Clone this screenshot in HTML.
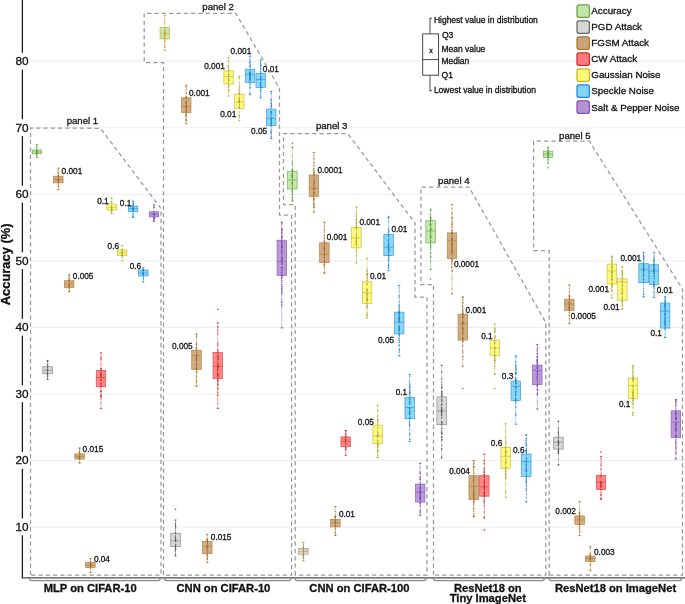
<!DOCTYPE html>
<html><head><meta charset="utf-8"><style>
html,body{margin:0;padding:0;background:#fff;width:685px;height:604px;overflow:hidden}
svg{display:block;will-change:transform}
text{stroke:#111;stroke-width:0.3px}
text{font-family:"Liberation Sans", sans-serif}
</style></head><body>
<svg width="685" height="604" viewBox="0 0 685 604" font-family='"Liberation Sans", sans-serif'><line x1="31" y1="526.97" x2="685" y2="526.97" stroke="#ebebeb" stroke-width="0.9"/>
<line x1="31" y1="460.44" x2="685" y2="460.44" stroke="#ebebeb" stroke-width="0.9"/>
<line x1="31" y1="393.91" x2="685" y2="393.91" stroke="#ebebeb" stroke-width="0.9"/>
<line x1="31" y1="327.38" x2="685" y2="327.38" stroke="#ebebeb" stroke-width="0.9"/>
<line x1="31" y1="260.85" x2="685" y2="260.85" stroke="#ebebeb" stroke-width="0.9"/>
<line x1="31" y1="194.32" x2="685" y2="194.32" stroke="#ebebeb" stroke-width="0.9"/>
<line x1="31" y1="127.79" x2="685" y2="127.79" stroke="#ebebeb" stroke-width="0.9"/>
<line x1="31" y1="61.26" x2="685" y2="61.26" stroke="#ebebeb" stroke-width="0.9"/>
<polygon points="30.5,575 30.5,128 100.5,128.3 161,208.5 161,575" fill="none" stroke="#999" stroke-width="1.25" stroke-dasharray="4.2 3.1"/>
<polygon points="163.5,575 163.5,62.6 144.2,62.6 144.2,13.3 235.8,13.3 279.5,88.3 279.5,215 291.6,215 291.6,575" fill="none" stroke="#999" stroke-width="1.25" stroke-dasharray="4.2 3.1"/>
<polygon points="295.2,575 295.2,204.5 283.5,204.5 283.5,133.6 347.8,133.6 415,223 415,297 427,297 427,575" fill="none" stroke="#999" stroke-width="1.25" stroke-dasharray="4.2 3.1"/>
<polygon points="433.5,575 433.5,284.6 420.9,284.6 420.9,187 469,187 545.8,322.6 545.8,575" fill="none" stroke="#999" stroke-width="1.25" stroke-dasharray="4.2 3.1"/>
<polygon points="549.2,575 549.2,250.6 533.6,250.6 533.6,141.2 589.3,141.2 682.5,289 682.5,575" fill="none" stroke="#999" stroke-width="1.25" stroke-dasharray="4.2 3.1"/>
<text x="98.2" y="124.2" text-anchor="end" font-size="9.6" fill="#1a1a1a">panel 1</text>
<text x="233.8" y="10" text-anchor="end" font-size="9.6" fill="#1a1a1a">panel 2</text>
<text x="347.4" y="129.2" text-anchor="end" font-size="9.6" fill="#1a1a1a">panel 3</text>
<text x="469.6" y="183.9" text-anchor="end" font-size="9.6" fill="#1a1a1a">panel 4</text>
<text x="590.6" y="138.6" text-anchor="end" font-size="9.6" fill="#1a1a1a">panel 5</text>
<line x1="36.9" y1="144.6" x2="36.9" y2="157.5" stroke="#72b356" stroke-width="0.7" stroke-opacity="0.6"/>
<line x1="35.6" y1="144.6" x2="38.199999999999996" y2="144.6" stroke="#72b356" stroke-width="0.7"/>
<line x1="35.6" y1="157.5" x2="38.199999999999996" y2="157.5" stroke="#72b356" stroke-width="0.7"/>
<rect x="32.15" y="150" width="9.5" height="3.80" fill="#c3e5a6" fill-opacity="0.92" stroke="#72b356" stroke-width="0.7"/>
<line x1="32.15" y1="152" x2="41.65" y2="152" stroke="#72b356" stroke-width="0.7"/>
<circle cx="37.0" cy="151.3" r=".6" fill="#4f9a34" fill-opacity=".75"/>
<circle cx="36.6" cy="153.4" r=".6" fill="#4f9a34" fill-opacity=".75"/>
<circle cx="36.6" cy="149.4" r=".6" fill="#4f9a34" fill-opacity=".75"/>
<circle cx="36.9" cy="151.4" r=".6" fill="#4f9a34" fill-opacity=".75"/>
<circle cx="36.6" cy="154.9" r=".6" fill="#4f9a34" fill-opacity=".75"/>
<circle cx="36.7" cy="152.7" r=".6" fill="#4f9a34" fill-opacity=".75"/>
<circle cx="36.7" cy="147.3" r=".6" fill="#4f9a34" fill-opacity=".75"/>
<circle cx="36.7" cy="154.4" r=".6" fill="#4f9a34" fill-opacity=".75"/>
<circle cx="36.9" cy="147.2" r=".6" fill="#4f9a34" fill-opacity=".75"/>
<circle cx="36.8" cy="147.1" r=".6" fill="#4f9a34" fill-opacity=".75"/>
<circle cx="37.1" cy="152.9" r=".6" fill="#4f9a34" fill-opacity=".75"/>
<circle cx="36.8" cy="151.9" r=".6" fill="#4f9a34" fill-opacity=".75"/>
<circle cx="36.8" cy="152.9" r=".6" fill="#4f9a34" fill-opacity=".75"/>
<circle cx="37.1" cy="153.1" r=".6" fill="#4f9a34" fill-opacity=".75"/>
<circle cx="37.0" cy="153.6" r=".6" fill="#4f9a34" fill-opacity=".75"/>
<circle cx="36.8" cy="155.4" r=".6" fill="#4f9a34" fill-opacity=".75"/>
<circle cx="36.6" cy="151.0" r=".6" fill="#4f9a34" fill-opacity=".75"/>
<circle cx="36.7" cy="151.7" r=".6" fill="#4f9a34" fill-opacity=".75"/>
<circle cx="36.8" cy="150.7" r=".6" fill="#4f9a34" fill-opacity=".75"/>
<circle cx="37.0" cy="149.3" r=".6" fill="#4f9a34" fill-opacity=".75"/>
<circle cx="36.90" cy="144.90" r="0.6" fill="#4f9a34"/>
<circle cx="36.90" cy="157.20" r="0.6" fill="#4f9a34"/>
<line x1="58.3" y1="168" x2="58.3" y2="189.6" stroke="#b8843f" stroke-width="0.7" stroke-opacity="0.6"/>
<line x1="57.0" y1="168" x2="59.599999999999994" y2="168" stroke="#b8843f" stroke-width="0.7"/>
<line x1="57.0" y1="189.6" x2="59.599999999999994" y2="189.6" stroke="#b8843f" stroke-width="0.7"/>
<rect x="53.55" y="176.2" width="9.5" height="6.60" fill="#cba67c" fill-opacity="0.92" stroke="#b8843f" stroke-width="0.7"/>
<line x1="53.55" y1="179.4" x2="63.05" y2="179.4" stroke="#b8843f" stroke-width="0.7"/>
<circle cx="58.5" cy="175.5" r=".6" fill="#a86a20" fill-opacity=".75"/>
<circle cx="58.4" cy="180.6" r=".6" fill="#a86a20" fill-opacity=".75"/>
<circle cx="58.3" cy="179.6" r=".6" fill="#a86a20" fill-opacity=".75"/>
<circle cx="58.5" cy="185.8" r=".6" fill="#a86a20" fill-opacity=".75"/>
<circle cx="58.6" cy="178.9" r=".6" fill="#a86a20" fill-opacity=".75"/>
<circle cx="58.1" cy="175.4" r=".6" fill="#a86a20" fill-opacity=".75"/>
<circle cx="58.1" cy="172.2" r=".6" fill="#a86a20" fill-opacity=".75"/>
<circle cx="58.3" cy="183.4" r=".6" fill="#a86a20" fill-opacity=".75"/>
<circle cx="58.5" cy="186.4" r=".6" fill="#a86a20" fill-opacity=".75"/>
<circle cx="58.3" cy="181.2" r=".6" fill="#a86a20" fill-opacity=".75"/>
<circle cx="58.4" cy="182.4" r=".6" fill="#a86a20" fill-opacity=".75"/>
<circle cx="58.4" cy="176.4" r=".6" fill="#a86a20" fill-opacity=".75"/>
<circle cx="58.5" cy="174.7" r=".6" fill="#a86a20" fill-opacity=".75"/>
<circle cx="58.6" cy="176.8" r=".6" fill="#a86a20" fill-opacity=".75"/>
<circle cx="58.0" cy="172.3" r=".6" fill="#a86a20" fill-opacity=".75"/>
<circle cx="58.4" cy="180.6" r=".6" fill="#a86a20" fill-opacity=".75"/>
<circle cx="58.5" cy="170.1" r=".6" fill="#a86a20" fill-opacity=".75"/>
<circle cx="58.4" cy="178.4" r=".6" fill="#a86a20" fill-opacity=".75"/>
<circle cx="58.0" cy="184.1" r=".6" fill="#a86a20" fill-opacity=".75"/>
<circle cx="58.1" cy="176.5" r=".6" fill="#a86a20" fill-opacity=".75"/>
<circle cx="58.0" cy="180.1" r=".6" fill="#a86a20" fill-opacity=".75"/>
<circle cx="58.1" cy="179.7" r=".6" fill="#a86a20" fill-opacity=".75"/>
<circle cx="58.2" cy="176.8" r=".6" fill="#a86a20" fill-opacity=".75"/>
<circle cx="58.3" cy="180.8" r=".6" fill="#a86a20" fill-opacity=".75"/>
<circle cx="58.3" cy="178.0" r=".6" fill="#a86a20" fill-opacity=".75"/>
<circle cx="58.5" cy="186.1" r=".6" fill="#a86a20" fill-opacity=".75"/>
<circle cx="58.2" cy="173.4" r=".6" fill="#a86a20" fill-opacity=".75"/>
<circle cx="58.5" cy="175.4" r=".6" fill="#a86a20" fill-opacity=".75"/>
<circle cx="58.6" cy="181.7" r=".6" fill="#a86a20" fill-opacity=".75"/>
<circle cx="58.1" cy="181.2" r=".6" fill="#a86a20" fill-opacity=".75"/>
<circle cx="58.30" cy="168.30" r="0.6" fill="#a86a20"/>
<circle cx="58.30" cy="189.30" r="0.6" fill="#a86a20"/>
<text x="61.6" y="174.00" font-size="8.25" fill="#1a1a1a">0.001</text>
<line x1="111.7" y1="197.9" x2="111.7" y2="213.6" stroke="#cbc23c" stroke-width="0.7" stroke-opacity="0.6"/>
<line x1="110.4" y1="197.9" x2="113.0" y2="197.9" stroke="#cbc23c" stroke-width="0.7"/>
<line x1="110.4" y1="213.6" x2="113.0" y2="213.6" stroke="#cbc23c" stroke-width="0.7"/>
<rect x="106.95" y="204" width="9.5" height="6.10" fill="#fdf87a" fill-opacity="0.92" stroke="#cbc23c" stroke-width="0.7"/>
<line x1="106.95" y1="207.3" x2="116.45" y2="207.3" stroke="#cbc23c" stroke-width="0.7"/>
<circle cx="111.5" cy="209.6" r=".6" fill="#b0a820" fill-opacity=".75"/>
<circle cx="111.6" cy="201.3" r=".6" fill="#b0a820" fill-opacity=".75"/>
<circle cx="111.4" cy="207.9" r=".6" fill="#b0a820" fill-opacity=".75"/>
<circle cx="111.7" cy="203.5" r=".6" fill="#b0a820" fill-opacity=".75"/>
<circle cx="112.0" cy="209.4" r=".6" fill="#b0a820" fill-opacity=".75"/>
<circle cx="111.8" cy="205.3" r=".6" fill="#b0a820" fill-opacity=".75"/>
<circle cx="111.8" cy="202.2" r=".6" fill="#b0a820" fill-opacity=".75"/>
<circle cx="111.9" cy="210.5" r=".6" fill="#b0a820" fill-opacity=".75"/>
<circle cx="111.6" cy="213.0" r=".6" fill="#b0a820" fill-opacity=".75"/>
<circle cx="111.6" cy="201.6" r=".6" fill="#b0a820" fill-opacity=".75"/>
<circle cx="111.4" cy="212.4" r=".6" fill="#b0a820" fill-opacity=".75"/>
<circle cx="111.4" cy="211.2" r=".6" fill="#b0a820" fill-opacity=".75"/>
<circle cx="111.6" cy="208.0" r=".6" fill="#b0a820" fill-opacity=".75"/>
<circle cx="111.4" cy="209.9" r=".6" fill="#b0a820" fill-opacity=".75"/>
<circle cx="111.5" cy="209.9" r=".6" fill="#b0a820" fill-opacity=".75"/>
<circle cx="111.6" cy="207.3" r=".6" fill="#b0a820" fill-opacity=".75"/>
<circle cx="111.8" cy="208.8" r=".6" fill="#b0a820" fill-opacity=".75"/>
<circle cx="111.6" cy="209.4" r=".6" fill="#b0a820" fill-opacity=".75"/>
<circle cx="111.6" cy="210.1" r=".6" fill="#b0a820" fill-opacity=".75"/>
<circle cx="112.0" cy="213.6" r=".6" fill="#b0a820" fill-opacity=".75"/>
<circle cx="111.7" cy="213.4" r=".6" fill="#b0a820" fill-opacity=".75"/>
<circle cx="111.5" cy="205.4" r=".6" fill="#b0a820" fill-opacity=".75"/>
<circle cx="111.6" cy="207.5" r=".6" fill="#b0a820" fill-opacity=".75"/>
<circle cx="111.5" cy="206.5" r=".6" fill="#b0a820" fill-opacity=".75"/>
<circle cx="111.7" cy="208.9" r=".6" fill="#b0a820" fill-opacity=".75"/>
<circle cx="111.4" cy="210.7" r=".6" fill="#b0a820" fill-opacity=".75"/>
<circle cx="111.70" cy="198.20" r="0.6" fill="#b0a820"/>
<circle cx="111.70" cy="213.30" r="0.6" fill="#b0a820"/>
<text x="97.2" y="203.50" font-size="8.25" fill="#1a1a1a">0.1</text>
<line x1="133" y1="201.1" x2="133" y2="217.4" stroke="#3a9ad8" stroke-width="0.7" stroke-opacity="0.6"/>
<line x1="131.7" y1="201.1" x2="134.3" y2="201.1" stroke="#3a9ad8" stroke-width="0.7"/>
<line x1="131.7" y1="217.4" x2="134.3" y2="217.4" stroke="#3a9ad8" stroke-width="0.7"/>
<rect x="128.25" y="206.1" width="9.5" height="5.70" fill="#80d4f5" fill-opacity="0.92" stroke="#3a9ad8" stroke-width="0.7"/>
<line x1="128.25" y1="208.7" x2="137.75" y2="208.7" stroke="#3a9ad8" stroke-width="0.7"/>
<circle cx="133.0" cy="212.9" r=".6" fill="#1a80d0" fill-opacity=".75"/>
<circle cx="133.1" cy="217.0" r=".6" fill="#1a80d0" fill-opacity=".75"/>
<circle cx="132.9" cy="207.6" r=".6" fill="#1a80d0" fill-opacity=".75"/>
<circle cx="133.2" cy="207.0" r=".6" fill="#1a80d0" fill-opacity=".75"/>
<circle cx="133.0" cy="210.6" r=".6" fill="#1a80d0" fill-opacity=".75"/>
<circle cx="132.8" cy="209.4" r=".6" fill="#1a80d0" fill-opacity=".75"/>
<circle cx="133.2" cy="205.0" r=".6" fill="#1a80d0" fill-opacity=".75"/>
<circle cx="133.2" cy="216.9" r=".6" fill="#1a80d0" fill-opacity=".75"/>
<circle cx="133.2" cy="207.9" r=".6" fill="#1a80d0" fill-opacity=".75"/>
<circle cx="133.0" cy="208.5" r=".6" fill="#1a80d0" fill-opacity=".75"/>
<circle cx="132.9" cy="205.7" r=".6" fill="#1a80d0" fill-opacity=".75"/>
<circle cx="132.9" cy="209.7" r=".6" fill="#1a80d0" fill-opacity=".75"/>
<circle cx="132.9" cy="208.9" r=".6" fill="#1a80d0" fill-opacity=".75"/>
<circle cx="133.0" cy="205.0" r=".6" fill="#1a80d0" fill-opacity=".75"/>
<circle cx="133.3" cy="203.9" r=".6" fill="#1a80d0" fill-opacity=".75"/>
<circle cx="132.8" cy="206.7" r=".6" fill="#1a80d0" fill-opacity=".75"/>
<circle cx="132.8" cy="210.9" r=".6" fill="#1a80d0" fill-opacity=".75"/>
<circle cx="133.2" cy="210.4" r=".6" fill="#1a80d0" fill-opacity=".75"/>
<circle cx="133.2" cy="214.4" r=".6" fill="#1a80d0" fill-opacity=".75"/>
<circle cx="133.2" cy="202.6" r=".6" fill="#1a80d0" fill-opacity=".75"/>
<circle cx="132.8" cy="209.5" r=".6" fill="#1a80d0" fill-opacity=".75"/>
<circle cx="133.2" cy="203.8" r=".6" fill="#1a80d0" fill-opacity=".75"/>
<circle cx="132.8" cy="208.7" r=".6" fill="#1a80d0" fill-opacity=".75"/>
<circle cx="133.2" cy="203.9" r=".6" fill="#1a80d0" fill-opacity=".75"/>
<circle cx="133.3" cy="204.9" r=".6" fill="#1a80d0" fill-opacity=".75"/>
<circle cx="132.9" cy="215.3" r=".6" fill="#1a80d0" fill-opacity=".75"/>
<circle cx="133.00" cy="201.40" r="0.6" fill="#1a80d0"/>
<circle cx="133.00" cy="217.10" r="0.6" fill="#1a80d0"/>
<text x="119.8" y="205.60" font-size="8.25" fill="#1a1a1a">0.1</text>
<line x1="154" y1="204.6" x2="154" y2="221.3" stroke="#9060c4" stroke-width="0.7" stroke-opacity="0.6"/>
<line x1="152.7" y1="204.6" x2="155.3" y2="204.6" stroke="#9060c4" stroke-width="0.7"/>
<line x1="152.7" y1="221.3" x2="155.3" y2="221.3" stroke="#9060c4" stroke-width="0.7"/>
<rect x="149.25" y="211.8" width="9.5" height="5.10" fill="#b293d2" fill-opacity="0.92" stroke="#9060c4" stroke-width="0.7"/>
<line x1="149.25" y1="214.3" x2="158.75" y2="214.3" stroke="#9060c4" stroke-width="0.7"/>
<circle cx="154.1" cy="206.9" r=".6" fill="#7a40b0" fill-opacity=".75"/>
<circle cx="153.8" cy="219.6" r=".6" fill="#7a40b0" fill-opacity=".75"/>
<circle cx="154.2" cy="215.8" r=".6" fill="#7a40b0" fill-opacity=".75"/>
<circle cx="154.2" cy="215.8" r=".6" fill="#7a40b0" fill-opacity=".75"/>
<circle cx="154.3" cy="218.6" r=".6" fill="#7a40b0" fill-opacity=".75"/>
<circle cx="154.1" cy="219.9" r=".6" fill="#7a40b0" fill-opacity=".75"/>
<circle cx="153.8" cy="211.5" r=".6" fill="#7a40b0" fill-opacity=".75"/>
<circle cx="153.7" cy="218.1" r=".6" fill="#7a40b0" fill-opacity=".75"/>
<circle cx="154.0" cy="219.7" r=".6" fill="#7a40b0" fill-opacity=".75"/>
<circle cx="154.3" cy="213.3" r=".6" fill="#7a40b0" fill-opacity=".75"/>
<circle cx="154.2" cy="207.3" r=".6" fill="#7a40b0" fill-opacity=".75"/>
<circle cx="153.8" cy="217.4" r=".6" fill="#7a40b0" fill-opacity=".75"/>
<circle cx="153.8" cy="214.3" r=".6" fill="#7a40b0" fill-opacity=".75"/>
<circle cx="154.1" cy="217.4" r=".6" fill="#7a40b0" fill-opacity=".75"/>
<circle cx="153.8" cy="214.1" r=".6" fill="#7a40b0" fill-opacity=".75"/>
<circle cx="154.2" cy="218.2" r=".6" fill="#7a40b0" fill-opacity=".75"/>
<circle cx="154.1" cy="211.8" r=".6" fill="#7a40b0" fill-opacity=".75"/>
<circle cx="154.2" cy="217.6" r=".6" fill="#7a40b0" fill-opacity=".75"/>
<circle cx="154.0" cy="206.9" r=".6" fill="#7a40b0" fill-opacity=".75"/>
<circle cx="154.0" cy="218.3" r=".6" fill="#7a40b0" fill-opacity=".75"/>
<circle cx="154.0" cy="213.6" r=".6" fill="#7a40b0" fill-opacity=".75"/>
<circle cx="153.8" cy="214.2" r=".6" fill="#7a40b0" fill-opacity=".75"/>
<circle cx="153.8" cy="221.1" r=".6" fill="#7a40b0" fill-opacity=".75"/>
<circle cx="154.0" cy="214.5" r=".6" fill="#7a40b0" fill-opacity=".75"/>
<circle cx="153.9" cy="213.6" r=".6" fill="#7a40b0" fill-opacity=".75"/>
<circle cx="154.00" cy="204.90" r="0.6" fill="#7a40b0"/>
<circle cx="154.00" cy="221.00" r="0.6" fill="#7a40b0"/>
<line x1="69.2" y1="274.7" x2="69.2" y2="291.9" stroke="#b8843f" stroke-width="0.7" stroke-opacity="0.6"/>
<line x1="67.9" y1="274.7" x2="70.5" y2="274.7" stroke="#b8843f" stroke-width="0.7"/>
<line x1="67.9" y1="291.9" x2="70.5" y2="291.9" stroke="#b8843f" stroke-width="0.7"/>
<rect x="64.45" y="280.7" width="9.5" height="6.90" fill="#cba67c" fill-opacity="0.92" stroke="#b8843f" stroke-width="0.7"/>
<line x1="64.45" y1="283.9" x2="73.95" y2="283.9" stroke="#b8843f" stroke-width="0.7"/>
<circle cx="69.2" cy="277.5" r=".6" fill="#a86a20" fill-opacity=".75"/>
<circle cx="69.0" cy="275.5" r=".6" fill="#a86a20" fill-opacity=".75"/>
<circle cx="69.2" cy="280.8" r=".6" fill="#a86a20" fill-opacity=".75"/>
<circle cx="69.4" cy="283.9" r=".6" fill="#a86a20" fill-opacity=".75"/>
<circle cx="69.2" cy="288.0" r=".6" fill="#a86a20" fill-opacity=".75"/>
<circle cx="69.4" cy="275.9" r=".6" fill="#a86a20" fill-opacity=".75"/>
<circle cx="69.2" cy="280.6" r=".6" fill="#a86a20" fill-opacity=".75"/>
<circle cx="69.2" cy="279.3" r=".6" fill="#a86a20" fill-opacity=".75"/>
<circle cx="69.3" cy="280.0" r=".6" fill="#a86a20" fill-opacity=".75"/>
<circle cx="69.2" cy="277.9" r=".6" fill="#a86a20" fill-opacity=".75"/>
<circle cx="69.5" cy="285.8" r=".6" fill="#a86a20" fill-opacity=".75"/>
<circle cx="69.5" cy="280.6" r=".6" fill="#a86a20" fill-opacity=".75"/>
<circle cx="69.5" cy="283.5" r=".6" fill="#a86a20" fill-opacity=".75"/>
<circle cx="69.4" cy="290.4" r=".6" fill="#a86a20" fill-opacity=".75"/>
<circle cx="69.2" cy="285.6" r=".6" fill="#a86a20" fill-opacity=".75"/>
<circle cx="68.9" cy="285.9" r=".6" fill="#a86a20" fill-opacity=".75"/>
<circle cx="69.3" cy="284.0" r=".6" fill="#a86a20" fill-opacity=".75"/>
<circle cx="69.4" cy="285.9" r=".6" fill="#a86a20" fill-opacity=".75"/>
<circle cx="69.3" cy="286.3" r=".6" fill="#a86a20" fill-opacity=".75"/>
<circle cx="69.3" cy="282.1" r=".6" fill="#a86a20" fill-opacity=".75"/>
<circle cx="69.5" cy="290.5" r=".6" fill="#a86a20" fill-opacity=".75"/>
<circle cx="69.1" cy="286.3" r=".6" fill="#a86a20" fill-opacity=".75"/>
<circle cx="69.4" cy="285.1" r=".6" fill="#a86a20" fill-opacity=".75"/>
<circle cx="69.2" cy="286.8" r=".6" fill="#a86a20" fill-opacity=".75"/>
<circle cx="69.1" cy="288.5" r=".6" fill="#a86a20" fill-opacity=".75"/>
<circle cx="69.3" cy="285.4" r=".6" fill="#a86a20" fill-opacity=".75"/>
<circle cx="68.9" cy="288.1" r=".6" fill="#a86a20" fill-opacity=".75"/>
<circle cx="68.9" cy="278.7" r=".6" fill="#a86a20" fill-opacity=".75"/>
<circle cx="69.1" cy="282.1" r=".6" fill="#a86a20" fill-opacity=".75"/>
<circle cx="69.20" cy="275.00" r="0.6" fill="#a86a20"/>
<circle cx="69.20" cy="291.60" r="0.6" fill="#a86a20"/>
<text x="72.8" y="279.20" font-size="8.25" fill="#1a1a1a">0.005</text>
<line x1="122.2" y1="245.2" x2="122.2" y2="260.8" stroke="#cbc23c" stroke-width="0.7" stroke-opacity="0.6"/>
<line x1="120.9" y1="245.2" x2="123.5" y2="245.2" stroke="#cbc23c" stroke-width="0.7"/>
<line x1="120.9" y1="260.8" x2="123.5" y2="260.8" stroke="#cbc23c" stroke-width="0.7"/>
<rect x="117.45" y="250" width="9.5" height="5.40" fill="#fdf87a" fill-opacity="0.92" stroke="#cbc23c" stroke-width="0.7"/>
<line x1="117.45" y1="252.7" x2="126.95" y2="252.7" stroke="#cbc23c" stroke-width="0.7"/>
<circle cx="121.9" cy="249.3" r=".6" fill="#b0a820" fill-opacity=".75"/>
<circle cx="122.5" cy="249.3" r=".6" fill="#b0a820" fill-opacity=".75"/>
<circle cx="122.0" cy="255.2" r=".6" fill="#b0a820" fill-opacity=".75"/>
<circle cx="122.4" cy="252.6" r=".6" fill="#b0a820" fill-opacity=".75"/>
<circle cx="122.1" cy="253.8" r=".6" fill="#b0a820" fill-opacity=".75"/>
<circle cx="122.4" cy="255.6" r=".6" fill="#b0a820" fill-opacity=".75"/>
<circle cx="122.4" cy="255.7" r=".6" fill="#b0a820" fill-opacity=".75"/>
<circle cx="122.5" cy="252.6" r=".6" fill="#b0a820" fill-opacity=".75"/>
<circle cx="122.2" cy="255.0" r=".6" fill="#b0a820" fill-opacity=".75"/>
<circle cx="121.9" cy="252.2" r=".6" fill="#b0a820" fill-opacity=".75"/>
<circle cx="122.3" cy="251.1" r=".6" fill="#b0a820" fill-opacity=".75"/>
<circle cx="122.5" cy="251.3" r=".6" fill="#b0a820" fill-opacity=".75"/>
<circle cx="122.3" cy="253.4" r=".6" fill="#b0a820" fill-opacity=".75"/>
<circle cx="122.4" cy="253.2" r=".6" fill="#b0a820" fill-opacity=".75"/>
<circle cx="121.9" cy="251.1" r=".6" fill="#b0a820" fill-opacity=".75"/>
<circle cx="122.1" cy="255.6" r=".6" fill="#b0a820" fill-opacity=".75"/>
<circle cx="122.2" cy="249.4" r=".6" fill="#b0a820" fill-opacity=".75"/>
<circle cx="122.0" cy="255.5" r=".6" fill="#b0a820" fill-opacity=".75"/>
<circle cx="122.2" cy="251.3" r=".6" fill="#b0a820" fill-opacity=".75"/>
<circle cx="122.0" cy="252.8" r=".6" fill="#b0a820" fill-opacity=".75"/>
<circle cx="121.9" cy="254.6" r=".6" fill="#b0a820" fill-opacity=".75"/>
<circle cx="122.1" cy="253.7" r=".6" fill="#b0a820" fill-opacity=".75"/>
<circle cx="122.4" cy="256.0" r=".6" fill="#b0a820" fill-opacity=".75"/>
<circle cx="122.0" cy="251.5" r=".6" fill="#b0a820" fill-opacity=".75"/>
<circle cx="122.1" cy="257.3" r=".6" fill="#b0a820" fill-opacity=".75"/>
<circle cx="122.20" cy="245.50" r="0.6" fill="#b0a820"/>
<circle cx="122.20" cy="260.50" r="0.6" fill="#b0a820"/>
<text x="107.6" y="249.00" font-size="8.25" fill="#1a1a1a">0.6</text>
<line x1="143.3" y1="267.8" x2="143.3" y2="282" stroke="#3a9ad8" stroke-width="0.7" stroke-opacity="0.6"/>
<line x1="142.0" y1="267.8" x2="144.60000000000002" y2="267.8" stroke="#3a9ad8" stroke-width="0.7"/>
<line x1="142.0" y1="282" x2="144.60000000000002" y2="282" stroke="#3a9ad8" stroke-width="0.7"/>
<rect x="138.55" y="270" width="9.5" height="5.90" fill="#80d4f5" fill-opacity="0.92" stroke="#3a9ad8" stroke-width="0.7"/>
<line x1="138.55" y1="273" x2="148.05" y2="273" stroke="#3a9ad8" stroke-width="0.7"/>
<circle cx="143.0" cy="276.3" r=".6" fill="#1a80d0" fill-opacity=".75"/>
<circle cx="143.4" cy="273.4" r=".6" fill="#1a80d0" fill-opacity=".75"/>
<circle cx="143.3" cy="270.3" r=".6" fill="#1a80d0" fill-opacity=".75"/>
<circle cx="143.6" cy="272.1" r=".6" fill="#1a80d0" fill-opacity=".75"/>
<circle cx="143.3" cy="279.3" r=".6" fill="#1a80d0" fill-opacity=".75"/>
<circle cx="143.3" cy="278.0" r=".6" fill="#1a80d0" fill-opacity=".75"/>
<circle cx="143.3" cy="275.2" r=".6" fill="#1a80d0" fill-opacity=".75"/>
<circle cx="143.4" cy="269.2" r=".6" fill="#1a80d0" fill-opacity=".75"/>
<circle cx="143.5" cy="277.0" r=".6" fill="#1a80d0" fill-opacity=".75"/>
<circle cx="143.4" cy="272.6" r=".6" fill="#1a80d0" fill-opacity=".75"/>
<circle cx="143.2" cy="270.1" r=".6" fill="#1a80d0" fill-opacity=".75"/>
<circle cx="143.0" cy="269.6" r=".6" fill="#1a80d0" fill-opacity=".75"/>
<circle cx="143.4" cy="274.1" r=".6" fill="#1a80d0" fill-opacity=".75"/>
<circle cx="143.2" cy="274.2" r=".6" fill="#1a80d0" fill-opacity=".75"/>
<circle cx="143.5" cy="274.0" r=".6" fill="#1a80d0" fill-opacity=".75"/>
<circle cx="143.5" cy="274.6" r=".6" fill="#1a80d0" fill-opacity=".75"/>
<circle cx="143.1" cy="271.3" r=".6" fill="#1a80d0" fill-opacity=".75"/>
<circle cx="143.2" cy="269.9" r=".6" fill="#1a80d0" fill-opacity=".75"/>
<circle cx="143.3" cy="270.5" r=".6" fill="#1a80d0" fill-opacity=".75"/>
<circle cx="143.2" cy="273.6" r=".6" fill="#1a80d0" fill-opacity=".75"/>
<circle cx="143.3" cy="270.2" r=".6" fill="#1a80d0" fill-opacity=".75"/>
<circle cx="143.2" cy="273.4" r=".6" fill="#1a80d0" fill-opacity=".75"/>
<circle cx="143.2" cy="272.9" r=".6" fill="#1a80d0" fill-opacity=".75"/>
<circle cx="143.3" cy="273.2" r=".6" fill="#1a80d0" fill-opacity=".75"/>
<circle cx="143.3" cy="270.1" r=".6" fill="#1a80d0" fill-opacity=".75"/>
<circle cx="143.30" cy="268.10" r="0.6" fill="#1a80d0"/>
<circle cx="143.30" cy="281.70" r="0.6" fill="#1a80d0"/>
<text x="129.7" y="269.10" font-size="8.25" fill="#1a1a1a">0.6</text>
<line x1="47.6" y1="360.4" x2="47.6" y2="379.5" stroke="#8a8a8a" stroke-width="0.7" stroke-opacity="0.6"/>
<line x1="46.300000000000004" y1="360.4" x2="48.9" y2="360.4" stroke="#8a8a8a" stroke-width="0.7"/>
<line x1="46.300000000000004" y1="379.5" x2="48.9" y2="379.5" stroke="#8a8a8a" stroke-width="0.7"/>
<rect x="42.85" y="366.7" width="9.5" height="7.00" fill="#d5d5d5" fill-opacity="0.92" stroke="#8a8a8a" stroke-width="0.7"/>
<line x1="42.85" y1="370.2" x2="52.35" y2="370.2" stroke="#8a8a8a" stroke-width="0.7"/>
<circle cx="47.3" cy="370.1" r=".6" fill="#555555" fill-opacity=".75"/>
<circle cx="47.5" cy="370.0" r=".6" fill="#555555" fill-opacity=".75"/>
<circle cx="47.3" cy="372.4" r=".6" fill="#555555" fill-opacity=".75"/>
<circle cx="47.4" cy="374.6" r=".6" fill="#555555" fill-opacity=".75"/>
<circle cx="47.7" cy="370.8" r=".6" fill="#555555" fill-opacity=".75"/>
<circle cx="47.7" cy="361.7" r=".6" fill="#555555" fill-opacity=".75"/>
<circle cx="47.7" cy="368.6" r=".6" fill="#555555" fill-opacity=".75"/>
<circle cx="47.5" cy="373.9" r=".6" fill="#555555" fill-opacity=".75"/>
<circle cx="47.9" cy="366.7" r=".6" fill="#555555" fill-opacity=".75"/>
<circle cx="47.7" cy="375.1" r=".6" fill="#555555" fill-opacity=".75"/>
<circle cx="47.3" cy="376.9" r=".6" fill="#555555" fill-opacity=".75"/>
<circle cx="47.7" cy="375.8" r=".6" fill="#555555" fill-opacity=".75"/>
<circle cx="47.7" cy="360.8" r=".6" fill="#555555" fill-opacity=".75"/>
<circle cx="47.6" cy="371.3" r=".6" fill="#555555" fill-opacity=".75"/>
<circle cx="47.6" cy="367.6" r=".6" fill="#555555" fill-opacity=".75"/>
<circle cx="47.8" cy="375.0" r=".6" fill="#555555" fill-opacity=".75"/>
<circle cx="47.7" cy="362.1" r=".6" fill="#555555" fill-opacity=".75"/>
<circle cx="47.7" cy="376.3" r=".6" fill="#555555" fill-opacity=".75"/>
<circle cx="47.4" cy="365.3" r=".6" fill="#555555" fill-opacity=".75"/>
<circle cx="47.5" cy="372.9" r=".6" fill="#555555" fill-opacity=".75"/>
<circle cx="47.4" cy="370.7" r=".6" fill="#555555" fill-opacity=".75"/>
<circle cx="47.7" cy="373.6" r=".6" fill="#555555" fill-opacity=".75"/>
<circle cx="47.7" cy="364.5" r=".6" fill="#555555" fill-opacity=".75"/>
<circle cx="47.3" cy="367.7" r=".6" fill="#555555" fill-opacity=".75"/>
<circle cx="47.8" cy="364.8" r=".6" fill="#555555" fill-opacity=".75"/>
<circle cx="47.6" cy="370.1" r=".6" fill="#555555" fill-opacity=".75"/>
<circle cx="47.7" cy="364.1" r=".6" fill="#555555" fill-opacity=".75"/>
<circle cx="47.5" cy="378.0" r=".6" fill="#555555" fill-opacity=".75"/>
<circle cx="47.3" cy="373.6" r=".6" fill="#555555" fill-opacity=".75"/>
<circle cx="47.4" cy="369.4" r=".6" fill="#555555" fill-opacity=".75"/>
<circle cx="47.60" cy="360.70" r="0.6" fill="#555555"/>
<circle cx="47.60" cy="379.20" r="0.6" fill="#555555"/>
<line x1="101" y1="352.9" x2="101" y2="408.7" stroke="#d85050" stroke-width="0.7" stroke-opacity="0.6"/>
<line x1="99.7" y1="352.9" x2="102.3" y2="352.9" stroke="#d85050" stroke-width="0.7"/>
<line x1="99.7" y1="408.7" x2="102.3" y2="408.7" stroke="#d85050" stroke-width="0.7"/>
<rect x="96.25" y="370.4" width="9.5" height="16.40" fill="#ff7b7b" fill-opacity="0.92" stroke="#d85050" stroke-width="0.7"/>
<line x1="96.25" y1="377.4" x2="105.75" y2="377.4" stroke="#d85050" stroke-width="0.7"/>
<circle cx="101.1" cy="396.9" r=".6" fill="#c83030" fill-opacity=".75"/>
<circle cx="100.9" cy="391.4" r=".6" fill="#c83030" fill-opacity=".75"/>
<circle cx="101.0" cy="375.2" r=".6" fill="#c83030" fill-opacity=".75"/>
<circle cx="101.1" cy="369.0" r=".6" fill="#c83030" fill-opacity=".75"/>
<circle cx="101.1" cy="358.4" r=".6" fill="#c83030" fill-opacity=".75"/>
<circle cx="100.9" cy="383.5" r=".6" fill="#c83030" fill-opacity=".75"/>
<circle cx="101.1" cy="380.6" r=".6" fill="#c83030" fill-opacity=".75"/>
<circle cx="100.7" cy="372.1" r=".6" fill="#c83030" fill-opacity=".75"/>
<circle cx="100.7" cy="392.2" r=".6" fill="#c83030" fill-opacity=".75"/>
<circle cx="101.1" cy="375.3" r=".6" fill="#c83030" fill-opacity=".75"/>
<circle cx="101.1" cy="395.4" r=".6" fill="#c83030" fill-opacity=".75"/>
<circle cx="101.0" cy="373.7" r=".6" fill="#c83030" fill-opacity=".75"/>
<circle cx="101.0" cy="391.6" r=".6" fill="#c83030" fill-opacity=".75"/>
<circle cx="100.8" cy="396.3" r=".6" fill="#c83030" fill-opacity=".75"/>
<circle cx="101.3" cy="394.8" r=".6" fill="#c83030" fill-opacity=".75"/>
<circle cx="101.0" cy="379.5" r=".6" fill="#c83030" fill-opacity=".75"/>
<circle cx="101.2" cy="376.5" r=".6" fill="#c83030" fill-opacity=".75"/>
<circle cx="100.9" cy="390.4" r=".6" fill="#c83030" fill-opacity=".75"/>
<circle cx="100.8" cy="374.8" r=".6" fill="#c83030" fill-opacity=".75"/>
<circle cx="101.0" cy="385.3" r=".6" fill="#c83030" fill-opacity=".75"/>
<circle cx="100.8" cy="374.6" r=".6" fill="#c83030" fill-opacity=".75"/>
<circle cx="100.8" cy="372.9" r=".6" fill="#c83030" fill-opacity=".75"/>
<circle cx="101.2" cy="383.6" r=".6" fill="#c83030" fill-opacity=".75"/>
<circle cx="101.1" cy="364.3" r=".6" fill="#c83030" fill-opacity=".75"/>
<circle cx="101.0" cy="380.4" r=".6" fill="#c83030" fill-opacity=".75"/>
<circle cx="100.7" cy="403.2" r=".6" fill="#c83030" fill-opacity=".75"/>
<circle cx="101.0" cy="391.5" r=".6" fill="#c83030" fill-opacity=".75"/>
<circle cx="100.9" cy="377.7" r=".6" fill="#c83030" fill-opacity=".75"/>
<circle cx="100.9" cy="384.5" r=".6" fill="#c83030" fill-opacity=".75"/>
<circle cx="101.2" cy="386.0" r=".6" fill="#c83030" fill-opacity=".75"/>
<circle cx="101.2" cy="397.6" r=".6" fill="#c83030" fill-opacity=".75"/>
<circle cx="100.8" cy="377.6" r=".6" fill="#c83030" fill-opacity=".75"/>
<circle cx="101.2" cy="394.6" r=".6" fill="#c83030" fill-opacity=".75"/>
<circle cx="100.9" cy="368.8" r=".6" fill="#c83030" fill-opacity=".75"/>
<circle cx="101.3" cy="369.0" r=".6" fill="#c83030" fill-opacity=".75"/>
<circle cx="101.1" cy="386.1" r=".6" fill="#c83030" fill-opacity=".75"/>
<circle cx="100.9" cy="369.2" r=".6" fill="#c83030" fill-opacity=".75"/>
<circle cx="100.7" cy="387.3" r=".6" fill="#c83030" fill-opacity=".75"/>
<circle cx="100.9" cy="395.9" r=".6" fill="#c83030" fill-opacity=".75"/>
<circle cx="101.3" cy="391.1" r=".6" fill="#c83030" fill-opacity=".75"/>
<circle cx="101.0" cy="377.4" r=".6" fill="#c83030" fill-opacity=".75"/>
<circle cx="100.8" cy="386.9" r=".6" fill="#c83030" fill-opacity=".75"/>
<circle cx="101.2" cy="356.1" r=".6" fill="#c83030" fill-opacity=".75"/>
<circle cx="101.2" cy="399.1" r=".6" fill="#c83030" fill-opacity=".75"/>
<circle cx="101.3" cy="359.1" r=".6" fill="#c83030" fill-opacity=".75"/>
<circle cx="101.0" cy="357.7" r=".6" fill="#c83030" fill-opacity=".75"/>
<circle cx="101.1" cy="376.7" r=".6" fill="#c83030" fill-opacity=".75"/>
<circle cx="101.0" cy="373.6" r=".6" fill="#c83030" fill-opacity=".75"/>
<circle cx="100.9" cy="377.7" r=".6" fill="#c83030" fill-opacity=".75"/>
<circle cx="100.7" cy="359.9" r=".6" fill="#c83030" fill-opacity=".75"/>
<circle cx="101.0" cy="383.1" r=".6" fill="#c83030" fill-opacity=".75"/>
<circle cx="100.9" cy="374.6" r=".6" fill="#c83030" fill-opacity=".75"/>
<circle cx="101.3" cy="371.5" r=".6" fill="#c83030" fill-opacity=".75"/>
<circle cx="100.9" cy="396.4" r=".6" fill="#c83030" fill-opacity=".75"/>
<circle cx="101.0" cy="371.7" r=".6" fill="#c83030" fill-opacity=".75"/>
<circle cx="100.9" cy="368.9" r=".6" fill="#c83030" fill-opacity=".75"/>
<circle cx="100.8" cy="381.0" r=".6" fill="#c83030" fill-opacity=".75"/>
<circle cx="101.2" cy="383.7" r=".6" fill="#c83030" fill-opacity=".75"/>
<circle cx="101.2" cy="368.8" r=".6" fill="#c83030" fill-opacity=".75"/>
<circle cx="101.3" cy="377.6" r=".6" fill="#c83030" fill-opacity=".75"/>
<circle cx="100.8" cy="371.1" r=".6" fill="#c83030" fill-opacity=".75"/>
<circle cx="100.8" cy="379.5" r=".6" fill="#c83030" fill-opacity=".75"/>
<circle cx="100.8" cy="374.5" r=".6" fill="#c83030" fill-opacity=".75"/>
<circle cx="101.00" cy="353.20" r="0.6" fill="#c83030"/>
<circle cx="101.00" cy="408.40" r="0.6" fill="#c83030"/>
<line x1="79.6" y1="448" x2="79.6" y2="463" stroke="#b8843f" stroke-width="0.7" stroke-opacity="0.6"/>
<line x1="78.3" y1="448" x2="80.89999999999999" y2="448" stroke="#b8843f" stroke-width="0.7"/>
<line x1="78.3" y1="463" x2="80.89999999999999" y2="463" stroke="#b8843f" stroke-width="0.7"/>
<rect x="74.85" y="453.9" width="9.5" height="5.10" fill="#cba67c" fill-opacity="0.92" stroke="#b8843f" stroke-width="0.7"/>
<line x1="74.85" y1="456.4" x2="84.35" y2="456.4" stroke="#b8843f" stroke-width="0.7"/>
<circle cx="79.5" cy="457.8" r=".6" fill="#a86a20" fill-opacity=".75"/>
<circle cx="79.7" cy="449.3" r=".6" fill="#a86a20" fill-opacity=".75"/>
<circle cx="79.5" cy="453.1" r=".6" fill="#a86a20" fill-opacity=".75"/>
<circle cx="79.5" cy="452.5" r=".6" fill="#a86a20" fill-opacity=".75"/>
<circle cx="79.5" cy="458.8" r=".6" fill="#a86a20" fill-opacity=".75"/>
<circle cx="79.9" cy="459.2" r=".6" fill="#a86a20" fill-opacity=".75"/>
<circle cx="79.4" cy="457.6" r=".6" fill="#a86a20" fill-opacity=".75"/>
<circle cx="79.8" cy="451.1" r=".6" fill="#a86a20" fill-opacity=".75"/>
<circle cx="79.4" cy="456.3" r=".6" fill="#a86a20" fill-opacity=".75"/>
<circle cx="79.5" cy="456.0" r=".6" fill="#a86a20" fill-opacity=".75"/>
<circle cx="79.6" cy="459.2" r=".6" fill="#a86a20" fill-opacity=".75"/>
<circle cx="79.8" cy="454.3" r=".6" fill="#a86a20" fill-opacity=".75"/>
<circle cx="79.7" cy="457.4" r=".6" fill="#a86a20" fill-opacity=".75"/>
<circle cx="79.8" cy="456.5" r=".6" fill="#a86a20" fill-opacity=".75"/>
<circle cx="79.3" cy="451.4" r=".6" fill="#a86a20" fill-opacity=".75"/>
<circle cx="79.5" cy="457.2" r=".6" fill="#a86a20" fill-opacity=".75"/>
<circle cx="79.8" cy="462.7" r=".6" fill="#a86a20" fill-opacity=".75"/>
<circle cx="79.9" cy="453.3" r=".6" fill="#a86a20" fill-opacity=".75"/>
<circle cx="79.4" cy="456.4" r=".6" fill="#a86a20" fill-opacity=".75"/>
<circle cx="79.6" cy="458.2" r=".6" fill="#a86a20" fill-opacity=".75"/>
<circle cx="79.7" cy="452.7" r=".6" fill="#a86a20" fill-opacity=".75"/>
<circle cx="79.7" cy="448.2" r=".6" fill="#a86a20" fill-opacity=".75"/>
<circle cx="79.6" cy="456.8" r=".6" fill="#a86a20" fill-opacity=".75"/>
<circle cx="79.3" cy="452.2" r=".6" fill="#a86a20" fill-opacity=".75"/>
<circle cx="79.60" cy="448.30" r="0.6" fill="#a86a20"/>
<circle cx="79.60" cy="462.70" r="0.6" fill="#a86a20"/>
<text x="82.6" y="452.00" font-size="8.25" fill="#1a1a1a">0.015</text>
<line x1="90.4" y1="558.5" x2="90.4" y2="572.5" stroke="#b8843f" stroke-width="0.7" stroke-opacity="0.6"/>
<line x1="89.10000000000001" y1="558.5" x2="91.7" y2="558.5" stroke="#b8843f" stroke-width="0.7"/>
<line x1="89.10000000000001" y1="572.5" x2="91.7" y2="572.5" stroke="#b8843f" stroke-width="0.7"/>
<rect x="85.65" y="562.3" width="9.5" height="5.30" fill="#cba67c" fill-opacity="0.92" stroke="#b8843f" stroke-width="0.7"/>
<line x1="85.65" y1="565" x2="95.15" y2="565" stroke="#b8843f" stroke-width="0.7"/>
<circle cx="90.7" cy="565.6" r=".6" fill="#a86a20" fill-opacity=".75"/>
<circle cx="90.5" cy="562.2" r=".6" fill="#a86a20" fill-opacity=".75"/>
<circle cx="90.3" cy="564.3" r=".6" fill="#a86a20" fill-opacity=".75"/>
<circle cx="90.5" cy="566.9" r=".6" fill="#a86a20" fill-opacity=".75"/>
<circle cx="90.1" cy="564.4" r=".6" fill="#a86a20" fill-opacity=".75"/>
<circle cx="90.4" cy="563.2" r=".6" fill="#a86a20" fill-opacity=".75"/>
<circle cx="90.2" cy="561.6" r=".6" fill="#a86a20" fill-opacity=".75"/>
<circle cx="90.5" cy="563.1" r=".6" fill="#a86a20" fill-opacity=".75"/>
<circle cx="90.4" cy="568.3" r=".6" fill="#a86a20" fill-opacity=".75"/>
<circle cx="90.7" cy="565.2" r=".6" fill="#a86a20" fill-opacity=".75"/>
<circle cx="90.4" cy="560.0" r=".6" fill="#a86a20" fill-opacity=".75"/>
<circle cx="90.2" cy="558.6" r=".6" fill="#a86a20" fill-opacity=".75"/>
<circle cx="90.5" cy="565.2" r=".6" fill="#a86a20" fill-opacity=".75"/>
<circle cx="90.4" cy="564.7" r=".6" fill="#a86a20" fill-opacity=".75"/>
<circle cx="90.5" cy="565.8" r=".6" fill="#a86a20" fill-opacity=".75"/>
<circle cx="90.5" cy="562.3" r=".6" fill="#a86a20" fill-opacity=".75"/>
<circle cx="90.7" cy="566.5" r=".6" fill="#a86a20" fill-opacity=".75"/>
<circle cx="90.3" cy="565.2" r=".6" fill="#a86a20" fill-opacity=".75"/>
<circle cx="90.4" cy="566.0" r=".6" fill="#a86a20" fill-opacity=".75"/>
<circle cx="90.6" cy="563.9" r=".6" fill="#a86a20" fill-opacity=".75"/>
<circle cx="90.5" cy="562.6" r=".6" fill="#a86a20" fill-opacity=".75"/>
<circle cx="90.7" cy="562.3" r=".6" fill="#a86a20" fill-opacity=".75"/>
<circle cx="90.3" cy="564.9" r=".6" fill="#a86a20" fill-opacity=".75"/>
<circle cx="90.2" cy="566.2" r=".6" fill="#a86a20" fill-opacity=".75"/>
<circle cx="90.40" cy="558.80" r="0.6" fill="#a86a20"/>
<circle cx="90.40" cy="572.20" r="0.6" fill="#a86a20"/>
<text x="93.9" y="561.50" font-size="8.25" fill="#1a1a1a">0.04</text>
<line x1="164.8" y1="15.4" x2="164.8" y2="50.6" stroke="#d2b548" stroke-width="0.7" stroke-opacity="0.6"/>
<line x1="163.5" y1="15.4" x2="166.10000000000002" y2="15.4" stroke="#d2b548" stroke-width="0.7"/>
<line x1="163.5" y1="50.6" x2="166.10000000000002" y2="50.6" stroke="#d2b548" stroke-width="0.7"/>
<rect x="160.05" y="27.5" width="9.5" height="11.40" fill="#c3e5a6" fill-opacity="0.92" stroke="#d2b548" stroke-width="0.7"/>
<line x1="160.05" y1="33.3" x2="169.55" y2="33.3" stroke="#d2b548" stroke-width="0.7"/>
<circle cx="165.0" cy="27.8" r=".6" fill="#c0a030" fill-opacity=".75"/>
<circle cx="164.8" cy="27.5" r=".6" fill="#c0a030" fill-opacity=".75"/>
<circle cx="164.8" cy="35.6" r=".6" fill="#c0a030" fill-opacity=".75"/>
<circle cx="164.9" cy="38.8" r=".6" fill="#c0a030" fill-opacity=".75"/>
<circle cx="164.7" cy="37.8" r=".6" fill="#c0a030" fill-opacity=".75"/>
<circle cx="164.6" cy="31.8" r=".6" fill="#c0a030" fill-opacity=".75"/>
<circle cx="164.5" cy="37.9" r=".6" fill="#c0a030" fill-opacity=".75"/>
<circle cx="164.5" cy="32.5" r=".6" fill="#c0a030" fill-opacity=".75"/>
<circle cx="165.0" cy="19.2" r=".6" fill="#c0a030" fill-opacity=".75"/>
<circle cx="164.9" cy="44.5" r=".6" fill="#c0a030" fill-opacity=".75"/>
<circle cx="164.7" cy="33.0" r=".6" fill="#c0a030" fill-opacity=".75"/>
<circle cx="164.9" cy="41.1" r=".6" fill="#c0a030" fill-opacity=".75"/>
<circle cx="164.7" cy="45.5" r=".6" fill="#c0a030" fill-opacity=".75"/>
<circle cx="164.7" cy="35.8" r=".6" fill="#c0a030" fill-opacity=".75"/>
<circle cx="164.5" cy="30.8" r=".6" fill="#c0a030" fill-opacity=".75"/>
<circle cx="164.7" cy="37.8" r=".6" fill="#c0a030" fill-opacity=".75"/>
<circle cx="164.6" cy="20.8" r=".6" fill="#c0a030" fill-opacity=".75"/>
<circle cx="165.1" cy="50.2" r=".6" fill="#c0a030" fill-opacity=".75"/>
<circle cx="165.0" cy="35.4" r=".6" fill="#c0a030" fill-opacity=".75"/>
<circle cx="165.0" cy="40.9" r=".6" fill="#c0a030" fill-opacity=".75"/>
<circle cx="164.8" cy="30.9" r=".6" fill="#c0a030" fill-opacity=".75"/>
<circle cx="164.7" cy="34.4" r=".6" fill="#c0a030" fill-opacity=".75"/>
<circle cx="164.7" cy="38.1" r=".6" fill="#c0a030" fill-opacity=".75"/>
<circle cx="165.0" cy="30.6" r=".6" fill="#c0a030" fill-opacity=".75"/>
<circle cx="165.0" cy="41.8" r=".6" fill="#c0a030" fill-opacity=".75"/>
<circle cx="165.0" cy="34.9" r=".6" fill="#c0a030" fill-opacity=".75"/>
<circle cx="164.5" cy="35.5" r=".6" fill="#c0a030" fill-opacity=".75"/>
<circle cx="165.1" cy="33.9" r=".6" fill="#c0a030" fill-opacity=".75"/>
<circle cx="165.0" cy="32.7" r=".6" fill="#c0a030" fill-opacity=".75"/>
<circle cx="164.7" cy="47.3" r=".6" fill="#c0a030" fill-opacity=".75"/>
<circle cx="164.9" cy="30.3" r=".6" fill="#c0a030" fill-opacity=".75"/>
<circle cx="164.7" cy="32.3" r=".6" fill="#c0a030" fill-opacity=".75"/>
<circle cx="164.7" cy="46.7" r=".6" fill="#c0a030" fill-opacity=".75"/>
<circle cx="165.0" cy="47.5" r=".6" fill="#c0a030" fill-opacity=".75"/>
<circle cx="164.9" cy="33.6" r=".6" fill="#c0a030" fill-opacity=".75"/>
<circle cx="164.6" cy="35.1" r=".6" fill="#c0a030" fill-opacity=".75"/>
<circle cx="164.8" cy="32.6" r=".6" fill="#c0a030" fill-opacity=".75"/>
<circle cx="164.7" cy="27.7" r=".6" fill="#c0a030" fill-opacity=".75"/>
<circle cx="164.8" cy="33.2" r=".6" fill="#c0a030" fill-opacity=".75"/>
<circle cx="165.1" cy="42.3" r=".6" fill="#c0a030" fill-opacity=".75"/>
<circle cx="164.9" cy="39.5" r=".6" fill="#c0a030" fill-opacity=".75"/>
<circle cx="165.0" cy="47.2" r=".6" fill="#c0a030" fill-opacity=".75"/>
<circle cx="164.7" cy="34.9" r=".6" fill="#c0a030" fill-opacity=".75"/>
<circle cx="164.7" cy="21.9" r=".6" fill="#c0a030" fill-opacity=".75"/>
<circle cx="164.5" cy="23.8" r=".6" fill="#c0a030" fill-opacity=".75"/>
<circle cx="164.80" cy="15.70" r="0.6" fill="#c0a030"/>
<circle cx="164.80" cy="50.30" r="0.6" fill="#c0a030"/>
<line x1="186.2" y1="85" x2="186.2" y2="123.8" stroke="#b8843f" stroke-width="0.7" stroke-opacity="0.6"/>
<line x1="184.89999999999998" y1="85" x2="187.5" y2="85" stroke="#b8843f" stroke-width="0.7"/>
<line x1="184.89999999999998" y1="123.8" x2="187.5" y2="123.8" stroke="#b8843f" stroke-width="0.7"/>
<rect x="181.45" y="97.8" width="9.5" height="14.70" fill="#cba67c" fill-opacity="0.92" stroke="#b8843f" stroke-width="0.7"/>
<line x1="181.45" y1="106.3" x2="190.95" y2="106.3" stroke="#b8843f" stroke-width="0.7"/>
<circle cx="186.0" cy="120.8" r=".6" fill="#a86a20" fill-opacity=".75"/>
<circle cx="185.9" cy="106.4" r=".6" fill="#a86a20" fill-opacity=".75"/>
<circle cx="185.9" cy="98.1" r=".6" fill="#a86a20" fill-opacity=".75"/>
<circle cx="186.5" cy="97.2" r=".6" fill="#a86a20" fill-opacity=".75"/>
<circle cx="186.4" cy="103.2" r=".6" fill="#a86a20" fill-opacity=".75"/>
<circle cx="186.0" cy="114.8" r=".6" fill="#a86a20" fill-opacity=".75"/>
<circle cx="186.0" cy="105.6" r=".6" fill="#a86a20" fill-opacity=".75"/>
<circle cx="186.2" cy="89.2" r=".6" fill="#a86a20" fill-opacity=".75"/>
<circle cx="186.0" cy="106.5" r=".6" fill="#a86a20" fill-opacity=".75"/>
<circle cx="186.3" cy="93.2" r=".6" fill="#a86a20" fill-opacity=".75"/>
<circle cx="186.3" cy="113.9" r=".6" fill="#a86a20" fill-opacity=".75"/>
<circle cx="186.0" cy="115.5" r=".6" fill="#a86a20" fill-opacity=".75"/>
<circle cx="186.4" cy="93.1" r=".6" fill="#a86a20" fill-opacity=".75"/>
<circle cx="186.1" cy="102.5" r=".6" fill="#a86a20" fill-opacity=".75"/>
<circle cx="186.3" cy="119.9" r=".6" fill="#a86a20" fill-opacity=".75"/>
<circle cx="186.0" cy="108.9" r=".6" fill="#a86a20" fill-opacity=".75"/>
<circle cx="186.0" cy="114.1" r=".6" fill="#a86a20" fill-opacity=".75"/>
<circle cx="186.1" cy="117.0" r=".6" fill="#a86a20" fill-opacity=".75"/>
<circle cx="186.1" cy="96.8" r=".6" fill="#a86a20" fill-opacity=".75"/>
<circle cx="186.0" cy="119.2" r=".6" fill="#a86a20" fill-opacity=".75"/>
<circle cx="186.4" cy="105.7" r=".6" fill="#a86a20" fill-opacity=".75"/>
<circle cx="186.0" cy="87.2" r=".6" fill="#a86a20" fill-opacity=".75"/>
<circle cx="186.4" cy="86.4" r=".6" fill="#a86a20" fill-opacity=".75"/>
<circle cx="186.4" cy="109.5" r=".6" fill="#a86a20" fill-opacity=".75"/>
<circle cx="186.0" cy="115.1" r=".6" fill="#a86a20" fill-opacity=".75"/>
<circle cx="186.0" cy="108.6" r=".6" fill="#a86a20" fill-opacity=".75"/>
<circle cx="186.5" cy="120.5" r=".6" fill="#a86a20" fill-opacity=".75"/>
<circle cx="186.1" cy="103.9" r=".6" fill="#a86a20" fill-opacity=".75"/>
<circle cx="186.1" cy="114.2" r=".6" fill="#a86a20" fill-opacity=".75"/>
<circle cx="186.4" cy="97.4" r=".6" fill="#a86a20" fill-opacity=".75"/>
<circle cx="186.3" cy="111.2" r=".6" fill="#a86a20" fill-opacity=".75"/>
<circle cx="186.3" cy="104.6" r=".6" fill="#a86a20" fill-opacity=".75"/>
<circle cx="186.0" cy="108.4" r=".6" fill="#a86a20" fill-opacity=".75"/>
<circle cx="186.0" cy="116.5" r=".6" fill="#a86a20" fill-opacity=".75"/>
<circle cx="186.3" cy="105.8" r=".6" fill="#a86a20" fill-opacity=".75"/>
<circle cx="186.0" cy="121.0" r=".6" fill="#a86a20" fill-opacity=".75"/>
<circle cx="186.3" cy="116.0" r=".6" fill="#a86a20" fill-opacity=".75"/>
<circle cx="186.0" cy="107.0" r=".6" fill="#a86a20" fill-opacity=".75"/>
<circle cx="186.4" cy="103.5" r=".6" fill="#a86a20" fill-opacity=".75"/>
<circle cx="186.2" cy="113.1" r=".6" fill="#a86a20" fill-opacity=".75"/>
<circle cx="186.1" cy="110.9" r=".6" fill="#a86a20" fill-opacity=".75"/>
<circle cx="186.2" cy="108.2" r=".6" fill="#a86a20" fill-opacity=".75"/>
<circle cx="186.0" cy="103.2" r=".6" fill="#a86a20" fill-opacity=".75"/>
<circle cx="186.3" cy="102.6" r=".6" fill="#a86a20" fill-opacity=".75"/>
<circle cx="186.1" cy="98.8" r=".6" fill="#a86a20" fill-opacity=".75"/>
<circle cx="186.5" cy="111.1" r=".6" fill="#a86a20" fill-opacity=".75"/>
<circle cx="186.1" cy="100.9" r=".6" fill="#a86a20" fill-opacity=".75"/>
<circle cx="186.1" cy="119.3" r=".6" fill="#a86a20" fill-opacity=".75"/>
<circle cx="186.3" cy="101.6" r=".6" fill="#a86a20" fill-opacity=".75"/>
<circle cx="186.0" cy="111.8" r=".6" fill="#a86a20" fill-opacity=".75"/>
<circle cx="186.2" cy="107.2" r=".6" fill="#a86a20" fill-opacity=".75"/>
<circle cx="186.4" cy="111.1" r=".6" fill="#a86a20" fill-opacity=".75"/>
<circle cx="186.2" cy="96.3" r=".6" fill="#a86a20" fill-opacity=".75"/>
<circle cx="186.20" cy="85.30" r="0.6" fill="#a86a20"/>
<circle cx="186.20" cy="123.50" r="0.6" fill="#a86a20"/>
<text x="189" y="96.00" font-size="8.25" fill="#1a1a1a">0.001</text>
<line x1="228.6" y1="57.4" x2="228.6" y2="96.1" stroke="#cbc23c" stroke-width="0.7" stroke-opacity="0.6"/>
<line x1="227.29999999999998" y1="57.4" x2="229.9" y2="57.4" stroke="#cbc23c" stroke-width="0.7"/>
<line x1="227.29999999999998" y1="96.1" x2="229.9" y2="96.1" stroke="#cbc23c" stroke-width="0.7"/>
<rect x="223.85" y="70.9" width="9.5" height="13.10" fill="#fdf87a" fill-opacity="0.92" stroke="#cbc23c" stroke-width="0.7"/>
<line x1="223.85" y1="76.5" x2="233.35" y2="76.5" stroke="#cbc23c" stroke-width="0.7"/>
<circle cx="228.6" cy="77.4" r=".6" fill="#b0a820" fill-opacity=".75"/>
<circle cx="228.7" cy="77.9" r=".6" fill="#b0a820" fill-opacity=".75"/>
<circle cx="228.7" cy="80.0" r=".6" fill="#b0a820" fill-opacity=".75"/>
<circle cx="228.5" cy="74.3" r=".6" fill="#b0a820" fill-opacity=".75"/>
<circle cx="228.5" cy="71.1" r=".6" fill="#b0a820" fill-opacity=".75"/>
<circle cx="228.6" cy="76.3" r=".6" fill="#b0a820" fill-opacity=".75"/>
<circle cx="228.6" cy="80.7" r=".6" fill="#b0a820" fill-opacity=".75"/>
<circle cx="228.8" cy="74.4" r=".6" fill="#b0a820" fill-opacity=".75"/>
<circle cx="228.4" cy="82.8" r=".6" fill="#b0a820" fill-opacity=".75"/>
<circle cx="228.9" cy="75.2" r=".6" fill="#b0a820" fill-opacity=".75"/>
<circle cx="228.3" cy="87.5" r=".6" fill="#b0a820" fill-opacity=".75"/>
<circle cx="228.9" cy="74.8" r=".6" fill="#b0a820" fill-opacity=".75"/>
<circle cx="228.7" cy="60.5" r=".6" fill="#b0a820" fill-opacity=".75"/>
<circle cx="228.8" cy="90.1" r=".6" fill="#b0a820" fill-opacity=".75"/>
<circle cx="228.4" cy="85.6" r=".6" fill="#b0a820" fill-opacity=".75"/>
<circle cx="228.5" cy="90.9" r=".6" fill="#b0a820" fill-opacity=".75"/>
<circle cx="228.4" cy="86.9" r=".6" fill="#b0a820" fill-opacity=".75"/>
<circle cx="228.4" cy="61.5" r=".6" fill="#b0a820" fill-opacity=".75"/>
<circle cx="228.5" cy="67.0" r=".6" fill="#b0a820" fill-opacity=".75"/>
<circle cx="228.4" cy="83.4" r=".6" fill="#b0a820" fill-opacity=".75"/>
<circle cx="228.8" cy="76.8" r=".6" fill="#b0a820" fill-opacity=".75"/>
<circle cx="228.3" cy="92.1" r=".6" fill="#b0a820" fill-opacity=".75"/>
<circle cx="228.3" cy="61.4" r=".6" fill="#b0a820" fill-opacity=".75"/>
<circle cx="228.8" cy="70.3" r=".6" fill="#b0a820" fill-opacity=".75"/>
<circle cx="228.6" cy="86.2" r=".6" fill="#b0a820" fill-opacity=".75"/>
<circle cx="228.7" cy="85.3" r=".6" fill="#b0a820" fill-opacity=".75"/>
<circle cx="228.6" cy="73.0" r=".6" fill="#b0a820" fill-opacity=".75"/>
<circle cx="228.6" cy="86.0" r=".6" fill="#b0a820" fill-opacity=".75"/>
<circle cx="228.6" cy="70.8" r=".6" fill="#b0a820" fill-opacity=".75"/>
<circle cx="228.3" cy="67.6" r=".6" fill="#b0a820" fill-opacity=".75"/>
<circle cx="228.4" cy="68.2" r=".6" fill="#b0a820" fill-opacity=".75"/>
<circle cx="228.8" cy="68.9" r=".6" fill="#b0a820" fill-opacity=".75"/>
<circle cx="228.4" cy="78.5" r=".6" fill="#b0a820" fill-opacity=".75"/>
<circle cx="228.6" cy="65.9" r=".6" fill="#b0a820" fill-opacity=".75"/>
<circle cx="228.6" cy="80.5" r=".6" fill="#b0a820" fill-opacity=".75"/>
<circle cx="228.4" cy="79.7" r=".6" fill="#b0a820" fill-opacity=".75"/>
<circle cx="228.3" cy="65.7" r=".6" fill="#b0a820" fill-opacity=".75"/>
<circle cx="228.7" cy="80.6" r=".6" fill="#b0a820" fill-opacity=".75"/>
<circle cx="228.8" cy="90.2" r=".6" fill="#b0a820" fill-opacity=".75"/>
<circle cx="228.6" cy="84.3" r=".6" fill="#b0a820" fill-opacity=".75"/>
<circle cx="228.5" cy="87.3" r=".6" fill="#b0a820" fill-opacity=".75"/>
<circle cx="228.9" cy="80.3" r=".6" fill="#b0a820" fill-opacity=".75"/>
<circle cx="228.9" cy="89.1" r=".6" fill="#b0a820" fill-opacity=".75"/>
<circle cx="228.7" cy="91.0" r=".6" fill="#b0a820" fill-opacity=".75"/>
<circle cx="228.9" cy="79.0" r=".6" fill="#b0a820" fill-opacity=".75"/>
<circle cx="228.6" cy="70.7" r=".6" fill="#b0a820" fill-opacity=".75"/>
<circle cx="228.4" cy="70.7" r=".6" fill="#b0a820" fill-opacity=".75"/>
<circle cx="228.3" cy="81.9" r=".6" fill="#b0a820" fill-opacity=".75"/>
<circle cx="228.4" cy="66.8" r=".6" fill="#b0a820" fill-opacity=".75"/>
<circle cx="228.8" cy="89.6" r=".6" fill="#b0a820" fill-opacity=".75"/>
<circle cx="228.60" cy="57.70" r="0.6" fill="#b0a820"/>
<circle cx="228.60" cy="95.80" r="0.6" fill="#b0a820"/>
<text x="204.2" y="68.70" font-size="8.25" fill="#1a1a1a">0.001</text>
<line x1="239.3" y1="76.1" x2="239.3" y2="120.8" stroke="#cbc23c" stroke-width="0.7" stroke-opacity="0.6"/>
<line x1="238.0" y1="76.1" x2="240.60000000000002" y2="76.1" stroke="#cbc23c" stroke-width="0.7"/>
<line x1="238.0" y1="120.8" x2="240.60000000000002" y2="120.8" stroke="#cbc23c" stroke-width="0.7"/>
<rect x="234.55" y="94.2" width="9.5" height="14.40" fill="#fdf87a" fill-opacity="0.92" stroke="#cbc23c" stroke-width="0.7"/>
<line x1="234.55" y1="102" x2="244.05" y2="102" stroke="#cbc23c" stroke-width="0.7"/>
<circle cx="239.1" cy="98.9" r=".6" fill="#b0a820" fill-opacity=".75"/>
<circle cx="239.1" cy="78.0" r=".6" fill="#b0a820" fill-opacity=".75"/>
<circle cx="239.2" cy="101.7" r=".6" fill="#b0a820" fill-opacity=".75"/>
<circle cx="239.0" cy="92.7" r=".6" fill="#b0a820" fill-opacity=".75"/>
<circle cx="239.1" cy="101.6" r=".6" fill="#b0a820" fill-opacity=".75"/>
<circle cx="239.4" cy="115.3" r=".6" fill="#b0a820" fill-opacity=".75"/>
<circle cx="239.5" cy="107.1" r=".6" fill="#b0a820" fill-opacity=".75"/>
<circle cx="239.1" cy="98.0" r=".6" fill="#b0a820" fill-opacity=".75"/>
<circle cx="239.2" cy="87.1" r=".6" fill="#b0a820" fill-opacity=".75"/>
<circle cx="239.5" cy="99.1" r=".6" fill="#b0a820" fill-opacity=".75"/>
<circle cx="239.5" cy="88.8" r=".6" fill="#b0a820" fill-opacity=".75"/>
<circle cx="239.1" cy="97.2" r=".6" fill="#b0a820" fill-opacity=".75"/>
<circle cx="239.2" cy="117.0" r=".6" fill="#b0a820" fill-opacity=".75"/>
<circle cx="239.5" cy="101.3" r=".6" fill="#b0a820" fill-opacity=".75"/>
<circle cx="239.3" cy="99.0" r=".6" fill="#b0a820" fill-opacity=".75"/>
<circle cx="239.3" cy="90.4" r=".6" fill="#b0a820" fill-opacity=".75"/>
<circle cx="239.1" cy="116.0" r=".6" fill="#b0a820" fill-opacity=".75"/>
<circle cx="239.5" cy="101.9" r=".6" fill="#b0a820" fill-opacity=".75"/>
<circle cx="239.2" cy="98.6" r=".6" fill="#b0a820" fill-opacity=".75"/>
<circle cx="239.4" cy="82.3" r=".6" fill="#b0a820" fill-opacity=".75"/>
<circle cx="239.4" cy="78.4" r=".6" fill="#b0a820" fill-opacity=".75"/>
<circle cx="239.0" cy="101.8" r=".6" fill="#b0a820" fill-opacity=".75"/>
<circle cx="239.1" cy="102.6" r=".6" fill="#b0a820" fill-opacity=".75"/>
<circle cx="239.3" cy="93.5" r=".6" fill="#b0a820" fill-opacity=".75"/>
<circle cx="239.5" cy="94.4" r=".6" fill="#b0a820" fill-opacity=".75"/>
<circle cx="239.4" cy="107.2" r=".6" fill="#b0a820" fill-opacity=".75"/>
<circle cx="239.0" cy="107.6" r=".6" fill="#b0a820" fill-opacity=".75"/>
<circle cx="239.1" cy="112.0" r=".6" fill="#b0a820" fill-opacity=".75"/>
<circle cx="239.2" cy="102.2" r=".6" fill="#b0a820" fill-opacity=".75"/>
<circle cx="239.4" cy="104.3" r=".6" fill="#b0a820" fill-opacity=".75"/>
<circle cx="239.1" cy="115.9" r=".6" fill="#b0a820" fill-opacity=".75"/>
<circle cx="239.1" cy="93.4" r=".6" fill="#b0a820" fill-opacity=".75"/>
<circle cx="239.6" cy="93.5" r=".6" fill="#b0a820" fill-opacity=".75"/>
<circle cx="239.1" cy="102.2" r=".6" fill="#b0a820" fill-opacity=".75"/>
<circle cx="239.4" cy="108.1" r=".6" fill="#b0a820" fill-opacity=".75"/>
<circle cx="239.2" cy="114.9" r=".6" fill="#b0a820" fill-opacity=".75"/>
<circle cx="239.2" cy="88.5" r=".6" fill="#b0a820" fill-opacity=".75"/>
<circle cx="239.3" cy="117.3" r=".6" fill="#b0a820" fill-opacity=".75"/>
<circle cx="239.2" cy="103.1" r=".6" fill="#b0a820" fill-opacity=".75"/>
<circle cx="239.6" cy="95.0" r=".6" fill="#b0a820" fill-opacity=".75"/>
<circle cx="239.4" cy="92.8" r=".6" fill="#b0a820" fill-opacity=".75"/>
<circle cx="239.0" cy="102.2" r=".6" fill="#b0a820" fill-opacity=".75"/>
<circle cx="239.1" cy="91.3" r=".6" fill="#b0a820" fill-opacity=".75"/>
<circle cx="239.0" cy="99.9" r=".6" fill="#b0a820" fill-opacity=".75"/>
<circle cx="239.3" cy="102.3" r=".6" fill="#b0a820" fill-opacity=".75"/>
<circle cx="239.6" cy="100.3" r=".6" fill="#b0a820" fill-opacity=".75"/>
<circle cx="239.4" cy="106.5" r=".6" fill="#b0a820" fill-opacity=".75"/>
<circle cx="239.3" cy="107.5" r=".6" fill="#b0a820" fill-opacity=".75"/>
<circle cx="239.1" cy="89.7" r=".6" fill="#b0a820" fill-opacity=".75"/>
<circle cx="239.2" cy="86.8" r=".6" fill="#b0a820" fill-opacity=".75"/>
<circle cx="239.5" cy="101.0" r=".6" fill="#b0a820" fill-opacity=".75"/>
<circle cx="239.5" cy="105.2" r=".6" fill="#b0a820" fill-opacity=".75"/>
<circle cx="239.5" cy="101.7" r=".6" fill="#b0a820" fill-opacity=".75"/>
<circle cx="239.4" cy="100.8" r=".6" fill="#b0a820" fill-opacity=".75"/>
<circle cx="239.3" cy="84.9" r=".6" fill="#b0a820" fill-opacity=".75"/>
<circle cx="239.30" cy="76.40" r="0.6" fill="#b0a820"/>
<circle cx="239.30" cy="120.50" r="0.6" fill="#b0a820"/>
<text x="220.2" y="117.40" font-size="8.25" fill="#1a1a1a">0.01</text>
<line x1="250" y1="56" x2="250" y2="94.7" stroke="#3a9ad8" stroke-width="0.7" stroke-opacity="0.6"/>
<line x1="248.7" y1="56" x2="251.3" y2="56" stroke="#3a9ad8" stroke-width="0.7"/>
<line x1="248.7" y1="94.7" x2="251.3" y2="94.7" stroke="#3a9ad8" stroke-width="0.7"/>
<rect x="245.25" y="69.2" width="9.5" height="13.40" fill="#80d4f5" fill-opacity="0.92" stroke="#3a9ad8" stroke-width="0.7"/>
<line x1="245.25" y1="74.7" x2="254.75" y2="74.7" stroke="#3a9ad8" stroke-width="0.7"/>
<circle cx="249.8" cy="78.2" r=".6" fill="#1a80d0" fill-opacity=".75"/>
<circle cx="249.7" cy="80.4" r=".6" fill="#1a80d0" fill-opacity=".75"/>
<circle cx="249.9" cy="79.1" r=".6" fill="#1a80d0" fill-opacity=".75"/>
<circle cx="250.2" cy="74.7" r=".6" fill="#1a80d0" fill-opacity=".75"/>
<circle cx="250.1" cy="59.4" r=".6" fill="#1a80d0" fill-opacity=".75"/>
<circle cx="250.0" cy="73.4" r=".6" fill="#1a80d0" fill-opacity=".75"/>
<circle cx="250.2" cy="87.2" r=".6" fill="#1a80d0" fill-opacity=".75"/>
<circle cx="250.1" cy="67.0" r=".6" fill="#1a80d0" fill-opacity=".75"/>
<circle cx="250.3" cy="73.6" r=".6" fill="#1a80d0" fill-opacity=".75"/>
<circle cx="249.7" cy="78.9" r=".6" fill="#1a80d0" fill-opacity=".75"/>
<circle cx="250.1" cy="74.2" r=".6" fill="#1a80d0" fill-opacity=".75"/>
<circle cx="250.3" cy="82.0" r=".6" fill="#1a80d0" fill-opacity=".75"/>
<circle cx="250.2" cy="74.5" r=".6" fill="#1a80d0" fill-opacity=".75"/>
<circle cx="249.9" cy="65.9" r=".6" fill="#1a80d0" fill-opacity=".75"/>
<circle cx="250.1" cy="76.2" r=".6" fill="#1a80d0" fill-opacity=".75"/>
<circle cx="250.3" cy="69.5" r=".6" fill="#1a80d0" fill-opacity=".75"/>
<circle cx="250.0" cy="61.0" r=".6" fill="#1a80d0" fill-opacity=".75"/>
<circle cx="250.2" cy="82.9" r=".6" fill="#1a80d0" fill-opacity=".75"/>
<circle cx="250.0" cy="61.7" r=".6" fill="#1a80d0" fill-opacity=".75"/>
<circle cx="249.9" cy="72.7" r=".6" fill="#1a80d0" fill-opacity=".75"/>
<circle cx="249.8" cy="62.0" r=".6" fill="#1a80d0" fill-opacity=".75"/>
<circle cx="250.2" cy="71.8" r=".6" fill="#1a80d0" fill-opacity=".75"/>
<circle cx="249.8" cy="71.9" r=".6" fill="#1a80d0" fill-opacity=".75"/>
<circle cx="250.3" cy="79.3" r=".6" fill="#1a80d0" fill-opacity=".75"/>
<circle cx="249.9" cy="75.5" r=".6" fill="#1a80d0" fill-opacity=".75"/>
<circle cx="249.7" cy="76.2" r=".6" fill="#1a80d0" fill-opacity=".75"/>
<circle cx="250.1" cy="76.6" r=".6" fill="#1a80d0" fill-opacity=".75"/>
<circle cx="250.1" cy="64.5" r=".6" fill="#1a80d0" fill-opacity=".75"/>
<circle cx="249.7" cy="63.3" r=".6" fill="#1a80d0" fill-opacity=".75"/>
<circle cx="250.2" cy="66.8" r=".6" fill="#1a80d0" fill-opacity=".75"/>
<circle cx="250.2" cy="69.6" r=".6" fill="#1a80d0" fill-opacity=".75"/>
<circle cx="250.2" cy="77.5" r=".6" fill="#1a80d0" fill-opacity=".75"/>
<circle cx="250.2" cy="72.4" r=".6" fill="#1a80d0" fill-opacity=".75"/>
<circle cx="249.8" cy="79.1" r=".6" fill="#1a80d0" fill-opacity=".75"/>
<circle cx="249.8" cy="73.1" r=".6" fill="#1a80d0" fill-opacity=".75"/>
<circle cx="250.2" cy="93.5" r=".6" fill="#1a80d0" fill-opacity=".75"/>
<circle cx="250.1" cy="78.8" r=".6" fill="#1a80d0" fill-opacity=".75"/>
<circle cx="249.9" cy="81.1" r=".6" fill="#1a80d0" fill-opacity=".75"/>
<circle cx="249.8" cy="62.2" r=".6" fill="#1a80d0" fill-opacity=".75"/>
<circle cx="249.8" cy="88.3" r=".6" fill="#1a80d0" fill-opacity=".75"/>
<circle cx="249.9" cy="84.3" r=".6" fill="#1a80d0" fill-opacity=".75"/>
<circle cx="249.9" cy="72.9" r=".6" fill="#1a80d0" fill-opacity=".75"/>
<circle cx="249.9" cy="75.6" r=".6" fill="#1a80d0" fill-opacity=".75"/>
<circle cx="249.9" cy="72.7" r=".6" fill="#1a80d0" fill-opacity=".75"/>
<circle cx="250.3" cy="65.4" r=".6" fill="#1a80d0" fill-opacity=".75"/>
<circle cx="250.1" cy="74.2" r=".6" fill="#1a80d0" fill-opacity=".75"/>
<circle cx="250.0" cy="84.8" r=".6" fill="#1a80d0" fill-opacity=".75"/>
<circle cx="250.2" cy="76.7" r=".6" fill="#1a80d0" fill-opacity=".75"/>
<circle cx="250.0" cy="65.8" r=".6" fill="#1a80d0" fill-opacity=".75"/>
<circle cx="249.8" cy="87.4" r=".6" fill="#1a80d0" fill-opacity=".75"/>
<circle cx="250.2" cy="77.5" r=".6" fill="#1a80d0" fill-opacity=".75"/>
<circle cx="250.00" cy="56.30" r="0.6" fill="#1a80d0"/>
<circle cx="250.00" cy="94.40" r="0.6" fill="#1a80d0"/>
<text x="230.6" y="54.30" font-size="8.25" fill="#1a1a1a">0.001</text>
<line x1="260.7" y1="60" x2="260.7" y2="97.9" stroke="#3a9ad8" stroke-width="0.7" stroke-opacity="0.6"/>
<line x1="259.4" y1="60" x2="262.0" y2="60" stroke="#3a9ad8" stroke-width="0.7"/>
<line x1="259.4" y1="97.9" x2="262.0" y2="97.9" stroke="#3a9ad8" stroke-width="0.7"/>
<rect x="255.95" y="73.5" width="9.5" height="13.90" fill="#80d4f5" fill-opacity="0.92" stroke="#3a9ad8" stroke-width="0.7"/>
<line x1="255.95" y1="79.6" x2="265.45" y2="79.6" stroke="#3a9ad8" stroke-width="0.7"/>
<circle cx="260.5" cy="76.2" r=".6" fill="#1a80d0" fill-opacity=".75"/>
<circle cx="260.9" cy="86.5" r=".6" fill="#1a80d0" fill-opacity=".75"/>
<circle cx="261.0" cy="79.7" r=".6" fill="#1a80d0" fill-opacity=".75"/>
<circle cx="260.7" cy="91.6" r=".6" fill="#1a80d0" fill-opacity=".75"/>
<circle cx="260.9" cy="79.9" r=".6" fill="#1a80d0" fill-opacity=".75"/>
<circle cx="260.6" cy="84.4" r=".6" fill="#1a80d0" fill-opacity=".75"/>
<circle cx="260.9" cy="90.6" r=".6" fill="#1a80d0" fill-opacity=".75"/>
<circle cx="260.6" cy="78.0" r=".6" fill="#1a80d0" fill-opacity=".75"/>
<circle cx="260.7" cy="83.1" r=".6" fill="#1a80d0" fill-opacity=".75"/>
<circle cx="260.5" cy="95.2" r=".6" fill="#1a80d0" fill-opacity=".75"/>
<circle cx="260.9" cy="76.8" r=".6" fill="#1a80d0" fill-opacity=".75"/>
<circle cx="260.8" cy="76.4" r=".6" fill="#1a80d0" fill-opacity=".75"/>
<circle cx="260.6" cy="82.9" r=".6" fill="#1a80d0" fill-opacity=".75"/>
<circle cx="260.6" cy="65.5" r=".6" fill="#1a80d0" fill-opacity=".75"/>
<circle cx="260.5" cy="62.5" r=".6" fill="#1a80d0" fill-opacity=".75"/>
<circle cx="260.9" cy="92.9" r=".6" fill="#1a80d0" fill-opacity=".75"/>
<circle cx="260.6" cy="86.5" r=".6" fill="#1a80d0" fill-opacity=".75"/>
<circle cx="260.9" cy="80.7" r=".6" fill="#1a80d0" fill-opacity=".75"/>
<circle cx="260.9" cy="69.5" r=".6" fill="#1a80d0" fill-opacity=".75"/>
<circle cx="260.5" cy="79.5" r=".6" fill="#1a80d0" fill-opacity=".75"/>
<circle cx="260.9" cy="67.3" r=".6" fill="#1a80d0" fill-opacity=".75"/>
<circle cx="260.9" cy="82.7" r=".6" fill="#1a80d0" fill-opacity=".75"/>
<circle cx="260.6" cy="73.8" r=".6" fill="#1a80d0" fill-opacity=".75"/>
<circle cx="260.5" cy="72.0" r=".6" fill="#1a80d0" fill-opacity=".75"/>
<circle cx="260.8" cy="88.0" r=".6" fill="#1a80d0" fill-opacity=".75"/>
<circle cx="260.5" cy="67.0" r=".6" fill="#1a80d0" fill-opacity=".75"/>
<circle cx="260.7" cy="63.2" r=".6" fill="#1a80d0" fill-opacity=".75"/>
<circle cx="260.5" cy="86.3" r=".6" fill="#1a80d0" fill-opacity=".75"/>
<circle cx="260.5" cy="84.7" r=".6" fill="#1a80d0" fill-opacity=".75"/>
<circle cx="260.8" cy="82.7" r=".6" fill="#1a80d0" fill-opacity=".75"/>
<circle cx="260.9" cy="87.7" r=".6" fill="#1a80d0" fill-opacity=".75"/>
<circle cx="260.5" cy="83.0" r=".6" fill="#1a80d0" fill-opacity=".75"/>
<circle cx="260.6" cy="84.6" r=".6" fill="#1a80d0" fill-opacity=".75"/>
<circle cx="260.6" cy="73.6" r=".6" fill="#1a80d0" fill-opacity=".75"/>
<circle cx="260.5" cy="78.8" r=".6" fill="#1a80d0" fill-opacity=".75"/>
<circle cx="260.5" cy="96.0" r=".6" fill="#1a80d0" fill-opacity=".75"/>
<circle cx="261.0" cy="77.0" r=".6" fill="#1a80d0" fill-opacity=".75"/>
<circle cx="261.0" cy="87.7" r=".6" fill="#1a80d0" fill-opacity=".75"/>
<circle cx="260.9" cy="85.6" r=".6" fill="#1a80d0" fill-opacity=".75"/>
<circle cx="260.5" cy="78.4" r=".6" fill="#1a80d0" fill-opacity=".75"/>
<circle cx="260.8" cy="68.7" r=".6" fill="#1a80d0" fill-opacity=".75"/>
<circle cx="260.6" cy="85.1" r=".6" fill="#1a80d0" fill-opacity=".75"/>
<circle cx="260.4" cy="84.0" r=".6" fill="#1a80d0" fill-opacity=".75"/>
<circle cx="260.8" cy="64.9" r=".6" fill="#1a80d0" fill-opacity=".75"/>
<circle cx="260.7" cy="90.4" r=".6" fill="#1a80d0" fill-opacity=".75"/>
<circle cx="260.5" cy="71.9" r=".6" fill="#1a80d0" fill-opacity=".75"/>
<circle cx="260.8" cy="71.1" r=".6" fill="#1a80d0" fill-opacity=".75"/>
<circle cx="260.9" cy="65.6" r=".6" fill="#1a80d0" fill-opacity=".75"/>
<circle cx="260.7" cy="89.1" r=".6" fill="#1a80d0" fill-opacity=".75"/>
<circle cx="260.7" cy="64.3" r=".6" fill="#1a80d0" fill-opacity=".75"/>
<circle cx="260.5" cy="71.9" r=".6" fill="#1a80d0" fill-opacity=".75"/>
<circle cx="260.70" cy="60.30" r="0.6" fill="#1a80d0"/>
<circle cx="260.70" cy="97.60" r="0.6" fill="#1a80d0"/>
<text x="262.8" y="71.70" font-size="8.25" fill="#1a1a1a">0.01</text>
<line x1="271.2" y1="91.3" x2="271.2" y2="138.7" stroke="#3a9ad8" stroke-width="0.7" stroke-opacity="0.6"/>
<line x1="269.9" y1="91.3" x2="272.5" y2="91.3" stroke="#3a9ad8" stroke-width="0.7"/>
<line x1="269.9" y1="138.7" x2="272.5" y2="138.7" stroke="#3a9ad8" stroke-width="0.7"/>
<rect x="266.45" y="109.1" width="9.5" height="16.40" fill="#80d4f5" fill-opacity="0.92" stroke="#3a9ad8" stroke-width="0.7"/>
<line x1="266.45" y1="118.2" x2="275.95" y2="118.2" stroke="#3a9ad8" stroke-width="0.7"/>
<circle cx="271.4" cy="113.9" r=".6" fill="#1a80d0" fill-opacity=".75"/>
<circle cx="271.3" cy="93.6" r=".6" fill="#1a80d0" fill-opacity=".75"/>
<circle cx="271.3" cy="129.2" r=".6" fill="#1a80d0" fill-opacity=".75"/>
<circle cx="271.2" cy="103.5" r=".6" fill="#1a80d0" fill-opacity=".75"/>
<circle cx="271.0" cy="111.6" r=".6" fill="#1a80d0" fill-opacity=".75"/>
<circle cx="271.2" cy="134.0" r=".6" fill="#1a80d0" fill-opacity=".75"/>
<circle cx="271.3" cy="122.1" r=".6" fill="#1a80d0" fill-opacity=".75"/>
<circle cx="271.1" cy="99.4" r=".6" fill="#1a80d0" fill-opacity=".75"/>
<circle cx="271.3" cy="106.3" r=".6" fill="#1a80d0" fill-opacity=".75"/>
<circle cx="271.1" cy="124.4" r=".6" fill="#1a80d0" fill-opacity=".75"/>
<circle cx="271.0" cy="105.5" r=".6" fill="#1a80d0" fill-opacity=".75"/>
<circle cx="271.3" cy="93.2" r=".6" fill="#1a80d0" fill-opacity=".75"/>
<circle cx="271.2" cy="120.3" r=".6" fill="#1a80d0" fill-opacity=".75"/>
<circle cx="271.5" cy="106.3" r=".6" fill="#1a80d0" fill-opacity=".75"/>
<circle cx="271.0" cy="133.0" r=".6" fill="#1a80d0" fill-opacity=".75"/>
<circle cx="271.4" cy="121.8" r=".6" fill="#1a80d0" fill-opacity=".75"/>
<circle cx="271.0" cy="131.9" r=".6" fill="#1a80d0" fill-opacity=".75"/>
<circle cx="271.2" cy="112.8" r=".6" fill="#1a80d0" fill-opacity=".75"/>
<circle cx="271.2" cy="99.5" r=".6" fill="#1a80d0" fill-opacity=".75"/>
<circle cx="271.3" cy="113.3" r=".6" fill="#1a80d0" fill-opacity=".75"/>
<circle cx="271.1" cy="125.2" r=".6" fill="#1a80d0" fill-opacity=".75"/>
<circle cx="271.5" cy="105.2" r=".6" fill="#1a80d0" fill-opacity=".75"/>
<circle cx="271.1" cy="122.8" r=".6" fill="#1a80d0" fill-opacity=".75"/>
<circle cx="271.4" cy="136.1" r=".6" fill="#1a80d0" fill-opacity=".75"/>
<circle cx="271.1" cy="115.6" r=".6" fill="#1a80d0" fill-opacity=".75"/>
<circle cx="271.1" cy="121.5" r=".6" fill="#1a80d0" fill-opacity=".75"/>
<circle cx="271.2" cy="130.8" r=".6" fill="#1a80d0" fill-opacity=".75"/>
<circle cx="271.3" cy="119.3" r=".6" fill="#1a80d0" fill-opacity=".75"/>
<circle cx="271.0" cy="112.5" r=".6" fill="#1a80d0" fill-opacity=".75"/>
<circle cx="271.3" cy="125.8" r=".6" fill="#1a80d0" fill-opacity=".75"/>
<circle cx="271.0" cy="132.0" r=".6" fill="#1a80d0" fill-opacity=".75"/>
<circle cx="271.4" cy="112.7" r=".6" fill="#1a80d0" fill-opacity=".75"/>
<circle cx="271.0" cy="111.7" r=".6" fill="#1a80d0" fill-opacity=".75"/>
<circle cx="271.4" cy="123.5" r=".6" fill="#1a80d0" fill-opacity=".75"/>
<circle cx="271.2" cy="124.5" r=".6" fill="#1a80d0" fill-opacity=".75"/>
<circle cx="271.2" cy="102.2" r=".6" fill="#1a80d0" fill-opacity=".75"/>
<circle cx="271.1" cy="122.9" r=".6" fill="#1a80d0" fill-opacity=".75"/>
<circle cx="271.4" cy="103.8" r=".6" fill="#1a80d0" fill-opacity=".75"/>
<circle cx="271.2" cy="101.0" r=".6" fill="#1a80d0" fill-opacity=".75"/>
<circle cx="271.0" cy="114.0" r=".6" fill="#1a80d0" fill-opacity=".75"/>
<circle cx="271.4" cy="132.9" r=".6" fill="#1a80d0" fill-opacity=".75"/>
<circle cx="271.1" cy="103.7" r=".6" fill="#1a80d0" fill-opacity=".75"/>
<circle cx="271.1" cy="136.9" r=".6" fill="#1a80d0" fill-opacity=".75"/>
<circle cx="271.0" cy="117.9" r=".6" fill="#1a80d0" fill-opacity=".75"/>
<circle cx="270.9" cy="131.0" r=".6" fill="#1a80d0" fill-opacity=".75"/>
<circle cx="271.0" cy="116.5" r=".6" fill="#1a80d0" fill-opacity=".75"/>
<circle cx="271.1" cy="108.5" r=".6" fill="#1a80d0" fill-opacity=".75"/>
<circle cx="271.3" cy="105.5" r=".6" fill="#1a80d0" fill-opacity=".75"/>
<circle cx="271.3" cy="119.8" r=".6" fill="#1a80d0" fill-opacity=".75"/>
<circle cx="271.4" cy="100.1" r=".6" fill="#1a80d0" fill-opacity=".75"/>
<circle cx="271.4" cy="126.2" r=".6" fill="#1a80d0" fill-opacity=".75"/>
<circle cx="271.4" cy="119.6" r=".6" fill="#1a80d0" fill-opacity=".75"/>
<circle cx="271.3" cy="111.7" r=".6" fill="#1a80d0" fill-opacity=".75"/>
<circle cx="271.5" cy="120.0" r=".6" fill="#1a80d0" fill-opacity=".75"/>
<circle cx="271.3" cy="118.4" r=".6" fill="#1a80d0" fill-opacity=".75"/>
<circle cx="271.0" cy="118.2" r=".6" fill="#1a80d0" fill-opacity=".75"/>
<circle cx="271.0" cy="123.8" r=".6" fill="#1a80d0" fill-opacity=".75"/>
<circle cx="271.0" cy="120.0" r=".6" fill="#1a80d0" fill-opacity=".75"/>
<circle cx="271.4" cy="107.1" r=".6" fill="#1a80d0" fill-opacity=".75"/>
<circle cx="271.4" cy="120.1" r=".6" fill="#1a80d0" fill-opacity=".75"/>
<circle cx="271.20" cy="91.60" r="0.6" fill="#1a80d0"/>
<circle cx="271.20" cy="138.40" r="0.6" fill="#1a80d0"/>
<text x="251.1" y="134.20" font-size="8.25" fill="#1a1a1a">0.05</text>
<line x1="281.8" y1="222.2" x2="281.8" y2="328" stroke="#9060c4" stroke-width="0.7" stroke-opacity="0.6"/>
<line x1="280.5" y1="222.2" x2="283.1" y2="222.2" stroke="#9060c4" stroke-width="0.7"/>
<line x1="280.5" y1="328" x2="283.1" y2="328" stroke="#9060c4" stroke-width="0.7"/>
<rect x="277.05" y="240.2" width="9.5" height="35.30" fill="#b293d2" fill-opacity="0.92" stroke="#9060c4" stroke-width="0.7"/>
<line x1="277.05" y1="261.4" x2="286.55" y2="261.4" stroke="#9060c4" stroke-width="0.7"/>
<circle cx="281.9" cy="246.1" r=".6" fill="#7a40b0" fill-opacity=".75"/>
<circle cx="282.0" cy="269.0" r=".6" fill="#7a40b0" fill-opacity=".75"/>
<circle cx="282.0" cy="223.3" r=".6" fill="#7a40b0" fill-opacity=".75"/>
<circle cx="281.9" cy="270.6" r=".6" fill="#7a40b0" fill-opacity=".75"/>
<circle cx="281.8" cy="246.7" r=".6" fill="#7a40b0" fill-opacity=".75"/>
<circle cx="282.0" cy="260.0" r=".6" fill="#7a40b0" fill-opacity=".75"/>
<circle cx="281.8" cy="233.3" r=".6" fill="#7a40b0" fill-opacity=".75"/>
<circle cx="281.6" cy="259.7" r=".6" fill="#7a40b0" fill-opacity=".75"/>
<circle cx="281.8" cy="280.4" r=".6" fill="#7a40b0" fill-opacity=".75"/>
<circle cx="281.6" cy="288.8" r=".6" fill="#7a40b0" fill-opacity=".75"/>
<circle cx="281.8" cy="271.9" r=".6" fill="#7a40b0" fill-opacity=".75"/>
<circle cx="282.0" cy="228.8" r=".6" fill="#7a40b0" fill-opacity=".75"/>
<circle cx="281.5" cy="261.8" r=".6" fill="#7a40b0" fill-opacity=".75"/>
<circle cx="281.8" cy="277.3" r=".6" fill="#7a40b0" fill-opacity=".75"/>
<circle cx="281.9" cy="236.7" r=".6" fill="#7a40b0" fill-opacity=".75"/>
<circle cx="281.8" cy="275.1" r=".6" fill="#7a40b0" fill-opacity=".75"/>
<circle cx="282.1" cy="240.0" r=".6" fill="#7a40b0" fill-opacity=".75"/>
<circle cx="281.9" cy="294.5" r=".6" fill="#7a40b0" fill-opacity=".75"/>
<circle cx="281.5" cy="278.4" r=".6" fill="#7a40b0" fill-opacity=".75"/>
<circle cx="282.1" cy="230.8" r=".6" fill="#7a40b0" fill-opacity=".75"/>
<circle cx="281.7" cy="236.2" r=".6" fill="#7a40b0" fill-opacity=".75"/>
<circle cx="281.8" cy="292.5" r=".6" fill="#7a40b0" fill-opacity=".75"/>
<circle cx="282.0" cy="257.8" r=".6" fill="#7a40b0" fill-opacity=".75"/>
<circle cx="281.9" cy="302.1" r=".6" fill="#7a40b0" fill-opacity=".75"/>
<circle cx="281.7" cy="270.2" r=".6" fill="#7a40b0" fill-opacity=".75"/>
<circle cx="281.8" cy="277.5" r=".6" fill="#7a40b0" fill-opacity=".75"/>
<circle cx="281.8" cy="242.3" r=".6" fill="#7a40b0" fill-opacity=".75"/>
<circle cx="281.8" cy="263.7" r=".6" fill="#7a40b0" fill-opacity=".75"/>
<circle cx="281.8" cy="243.6" r=".6" fill="#7a40b0" fill-opacity=".75"/>
<circle cx="281.7" cy="245.1" r=".6" fill="#7a40b0" fill-opacity=".75"/>
<circle cx="281.8" cy="273.9" r=".6" fill="#7a40b0" fill-opacity=".75"/>
<circle cx="281.7" cy="237.9" r=".6" fill="#7a40b0" fill-opacity=".75"/>
<circle cx="281.9" cy="258.5" r=".6" fill="#7a40b0" fill-opacity=".75"/>
<circle cx="281.7" cy="267.5" r=".6" fill="#7a40b0" fill-opacity=".75"/>
<circle cx="281.7" cy="238.8" r=".6" fill="#7a40b0" fill-opacity=".75"/>
<circle cx="282.0" cy="229.6" r=".6" fill="#7a40b0" fill-opacity=".75"/>
<circle cx="281.5" cy="242.2" r=".6" fill="#7a40b0" fill-opacity=".75"/>
<circle cx="281.8" cy="252.1" r=".6" fill="#7a40b0" fill-opacity=".75"/>
<circle cx="281.5" cy="282.4" r=".6" fill="#7a40b0" fill-opacity=".75"/>
<circle cx="281.6" cy="268.2" r=".6" fill="#7a40b0" fill-opacity=".75"/>
<circle cx="281.9" cy="292.9" r=".6" fill="#7a40b0" fill-opacity=".75"/>
<circle cx="282.0" cy="244.4" r=".6" fill="#7a40b0" fill-opacity=".75"/>
<circle cx="281.9" cy="291.7" r=".6" fill="#7a40b0" fill-opacity=".75"/>
<circle cx="281.9" cy="242.1" r=".6" fill="#7a40b0" fill-opacity=".75"/>
<circle cx="281.9" cy="249.8" r=".6" fill="#7a40b0" fill-opacity=".75"/>
<circle cx="281.6" cy="228.2" r=".6" fill="#7a40b0" fill-opacity=".75"/>
<circle cx="282.0" cy="247.0" r=".6" fill="#7a40b0" fill-opacity=".75"/>
<circle cx="281.6" cy="236.3" r=".6" fill="#7a40b0" fill-opacity=".75"/>
<circle cx="282.0" cy="264.4" r=".6" fill="#7a40b0" fill-opacity=".75"/>
<circle cx="282.0" cy="267.9" r=".6" fill="#7a40b0" fill-opacity=".75"/>
<circle cx="282.0" cy="247.4" r=".6" fill="#7a40b0" fill-opacity=".75"/>
<circle cx="282.0" cy="240.6" r=".6" fill="#7a40b0" fill-opacity=".75"/>
<circle cx="281.7" cy="242.7" r=".6" fill="#7a40b0" fill-opacity=".75"/>
<circle cx="281.8" cy="253.7" r=".6" fill="#7a40b0" fill-opacity=".75"/>
<circle cx="281.9" cy="249.8" r=".6" fill="#7a40b0" fill-opacity=".75"/>
<circle cx="282.1" cy="286.6" r=".6" fill="#7a40b0" fill-opacity=".75"/>
<circle cx="281.5" cy="293.3" r=".6" fill="#7a40b0" fill-opacity=".75"/>
<circle cx="281.6" cy="272.8" r=".6" fill="#7a40b0" fill-opacity=".75"/>
<circle cx="282.1" cy="274.1" r=".6" fill="#7a40b0" fill-opacity=".75"/>
<circle cx="281.8" cy="229.6" r=".6" fill="#7a40b0" fill-opacity=".75"/>
<circle cx="281.9" cy="287.2" r=".6" fill="#7a40b0" fill-opacity=".75"/>
<circle cx="282.1" cy="263.7" r=".6" fill="#7a40b0" fill-opacity=".75"/>
<circle cx="281.7" cy="290.9" r=".6" fill="#7a40b0" fill-opacity=".75"/>
<circle cx="281.6" cy="257.8" r=".6" fill="#7a40b0" fill-opacity=".75"/>
<circle cx="281.6" cy="250.3" r=".6" fill="#7a40b0" fill-opacity=".75"/>
<circle cx="281.5" cy="247.2" r=".6" fill="#7a40b0" fill-opacity=".75"/>
<circle cx="281.6" cy="301.1" r=".6" fill="#7a40b0" fill-opacity=".75"/>
<circle cx="282.1" cy="262.6" r=".6" fill="#7a40b0" fill-opacity=".75"/>
<circle cx="281.6" cy="306.3" r=".6" fill="#7a40b0" fill-opacity=".75"/>
<circle cx="281.5" cy="289.2" r=".6" fill="#7a40b0" fill-opacity=".75"/>
<circle cx="281.9" cy="257.7" r=".6" fill="#7a40b0" fill-opacity=".75"/>
<circle cx="281.6" cy="242.3" r=".6" fill="#7a40b0" fill-opacity=".75"/>
<circle cx="281.9" cy="304.3" r=".6" fill="#7a40b0" fill-opacity=".75"/>
<circle cx="282.0" cy="275.4" r=".6" fill="#7a40b0" fill-opacity=".75"/>
<circle cx="281.9" cy="260.0" r=".6" fill="#7a40b0" fill-opacity=".75"/>
<circle cx="281.9" cy="250.5" r=".6" fill="#7a40b0" fill-opacity=".75"/>
<circle cx="281.7" cy="276.3" r=".6" fill="#7a40b0" fill-opacity=".75"/>
<circle cx="281.5" cy="301.9" r=".6" fill="#7a40b0" fill-opacity=".75"/>
<circle cx="281.5" cy="252.2" r=".6" fill="#7a40b0" fill-opacity=".75"/>
<circle cx="281.5" cy="233.2" r=".6" fill="#7a40b0" fill-opacity=".75"/>
<circle cx="281.7" cy="222.3" r=".6" fill="#7a40b0" fill-opacity=".75"/>
<circle cx="282.0" cy="259.4" r=".6" fill="#7a40b0" fill-opacity=".75"/>
<circle cx="281.8" cy="245.8" r=".6" fill="#7a40b0" fill-opacity=".75"/>
<circle cx="281.8" cy="284.7" r=".6" fill="#7a40b0" fill-opacity=".75"/>
<circle cx="281.8" cy="270.6" r=".6" fill="#7a40b0" fill-opacity=".75"/>
<circle cx="282.0" cy="254.9" r=".6" fill="#7a40b0" fill-opacity=".75"/>
<circle cx="281.7" cy="248.3" r=".6" fill="#7a40b0" fill-opacity=".75"/>
<circle cx="281.8" cy="238.8" r=".6" fill="#7a40b0" fill-opacity=".75"/>
<circle cx="281.7" cy="232.3" r=".6" fill="#7a40b0" fill-opacity=".75"/>
<circle cx="282.0" cy="275.6" r=".6" fill="#7a40b0" fill-opacity=".75"/>
<circle cx="281.5" cy="241.5" r=".6" fill="#7a40b0" fill-opacity=".75"/>
<circle cx="282.1" cy="252.5" r=".6" fill="#7a40b0" fill-opacity=".75"/>
<circle cx="281.7" cy="247.2" r=".6" fill="#7a40b0" fill-opacity=".75"/>
<circle cx="281.7" cy="278.7" r=".6" fill="#7a40b0" fill-opacity=".75"/>
<circle cx="281.8" cy="230.5" r=".6" fill="#7a40b0" fill-opacity=".75"/>
<circle cx="281.9" cy="280.8" r=".6" fill="#7a40b0" fill-opacity=".75"/>
<circle cx="281.9" cy="245.0" r=".6" fill="#7a40b0" fill-opacity=".75"/>
<circle cx="281.7" cy="299.1" r=".6" fill="#7a40b0" fill-opacity=".75"/>
<circle cx="281.5" cy="232.6" r=".6" fill="#7a40b0" fill-opacity=".75"/>
<circle cx="281.9" cy="259.2" r=".6" fill="#7a40b0" fill-opacity=".75"/>
<circle cx="282.0" cy="288.7" r=".6" fill="#7a40b0" fill-opacity=".75"/>
<circle cx="282.0" cy="267.2" r=".6" fill="#7a40b0" fill-opacity=".75"/>
<circle cx="282.0" cy="256.4" r=".6" fill="#7a40b0" fill-opacity=".75"/>
<circle cx="281.7" cy="284.3" r=".6" fill="#7a40b0" fill-opacity=".75"/>
<circle cx="282.0" cy="236.2" r=".6" fill="#7a40b0" fill-opacity=".75"/>
<circle cx="282.0" cy="275.3" r=".6" fill="#7a40b0" fill-opacity=".75"/>
<circle cx="281.7" cy="224.2" r=".6" fill="#7a40b0" fill-opacity=".75"/>
<circle cx="282.0" cy="290.0" r=".6" fill="#7a40b0" fill-opacity=".75"/>
<circle cx="281.6" cy="278.3" r=".6" fill="#7a40b0" fill-opacity=".75"/>
<circle cx="281.6" cy="261.5" r=".6" fill="#7a40b0" fill-opacity=".75"/>
<circle cx="281.8" cy="230.6" r=".6" fill="#7a40b0" fill-opacity=".75"/>
<circle cx="281.6" cy="236.9" r=".6" fill="#7a40b0" fill-opacity=".75"/>
<circle cx="282.0" cy="260.1" r=".6" fill="#7a40b0" fill-opacity=".75"/>
<circle cx="281.8" cy="305.0" r=".6" fill="#7a40b0" fill-opacity=".75"/>
<circle cx="282.0" cy="301.8" r=".6" fill="#7a40b0" fill-opacity=".75"/>
<circle cx="281.6" cy="286.2" r=".6" fill="#7a40b0" fill-opacity=".75"/>
<circle cx="282.0" cy="234.7" r=".6" fill="#7a40b0" fill-opacity=".75"/>
<circle cx="281.9" cy="231.9" r=".6" fill="#7a40b0" fill-opacity=".75"/>
<circle cx="281.6" cy="257.3" r=".6" fill="#7a40b0" fill-opacity=".75"/>
<circle cx="281.9" cy="267.3" r=".6" fill="#7a40b0" fill-opacity=".75"/>
<circle cx="281.7" cy="276.8" r=".6" fill="#7a40b0" fill-opacity=".75"/>
<circle cx="281.8" cy="237.0" r=".6" fill="#7a40b0" fill-opacity=".75"/>
<circle cx="281.80" cy="222.50" r="0.6" fill="#7a40b0"/>
<circle cx="281.80" cy="327.70" r="0.6" fill="#7a40b0"/>
<line x1="196.5" y1="333.9" x2="196.5" y2="386.4" stroke="#b8843f" stroke-width="0.7" stroke-opacity="0.6"/>
<line x1="195.2" y1="333.9" x2="197.8" y2="333.9" stroke="#b8843f" stroke-width="0.7"/>
<line x1="195.2" y1="386.4" x2="197.8" y2="386.4" stroke="#b8843f" stroke-width="0.7"/>
<rect x="191.75" y="350.2" width="9.5" height="19.40" fill="#cba67c" fill-opacity="0.92" stroke="#b8843f" stroke-width="0.7"/>
<line x1="191.75" y1="355.6" x2="201.25" y2="355.6" stroke="#b8843f" stroke-width="0.7"/>
<circle cx="196.3" cy="349.9" r=".6" fill="#a86a20" fill-opacity=".75"/>
<circle cx="196.4" cy="369.2" r=".6" fill="#a86a20" fill-opacity=".75"/>
<circle cx="196.7" cy="371.6" r=".6" fill="#a86a20" fill-opacity=".75"/>
<circle cx="196.3" cy="368.2" r=".6" fill="#a86a20" fill-opacity=".75"/>
<circle cx="196.5" cy="344.8" r=".6" fill="#a86a20" fill-opacity=".75"/>
<circle cx="196.2" cy="348.0" r=".6" fill="#a86a20" fill-opacity=".75"/>
<circle cx="196.7" cy="364.8" r=".6" fill="#a86a20" fill-opacity=".75"/>
<circle cx="196.4" cy="337.1" r=".6" fill="#a86a20" fill-opacity=".75"/>
<circle cx="196.7" cy="357.2" r=".6" fill="#a86a20" fill-opacity=".75"/>
<circle cx="196.7" cy="371.2" r=".6" fill="#a86a20" fill-opacity=".75"/>
<circle cx="196.4" cy="371.1" r=".6" fill="#a86a20" fill-opacity=".75"/>
<circle cx="196.3" cy="365.0" r=".6" fill="#a86a20" fill-opacity=".75"/>
<circle cx="196.3" cy="357.9" r=".6" fill="#a86a20" fill-opacity=".75"/>
<circle cx="196.7" cy="373.0" r=".6" fill="#a86a20" fill-opacity=".75"/>
<circle cx="196.5" cy="361.4" r=".6" fill="#a86a20" fill-opacity=".75"/>
<circle cx="196.2" cy="385.4" r=".6" fill="#a86a20" fill-opacity=".75"/>
<circle cx="196.6" cy="345.3" r=".6" fill="#a86a20" fill-opacity=".75"/>
<circle cx="196.8" cy="349.8" r=".6" fill="#a86a20" fill-opacity=".75"/>
<circle cx="196.4" cy="360.0" r=".6" fill="#a86a20" fill-opacity=".75"/>
<circle cx="196.8" cy="336.7" r=".6" fill="#a86a20" fill-opacity=".75"/>
<circle cx="196.6" cy="347.5" r=".6" fill="#a86a20" fill-opacity=".75"/>
<circle cx="196.3" cy="343.3" r=".6" fill="#a86a20" fill-opacity=".75"/>
<circle cx="196.8" cy="365.4" r=".6" fill="#a86a20" fill-opacity=".75"/>
<circle cx="196.2" cy="365.8" r=".6" fill="#a86a20" fill-opacity=".75"/>
<circle cx="196.4" cy="355.1" r=".6" fill="#a86a20" fill-opacity=".75"/>
<circle cx="196.7" cy="337.0" r=".6" fill="#a86a20" fill-opacity=".75"/>
<circle cx="196.7" cy="380.5" r=".6" fill="#a86a20" fill-opacity=".75"/>
<circle cx="196.6" cy="379.8" r=".6" fill="#a86a20" fill-opacity=".75"/>
<circle cx="196.6" cy="363.0" r=".6" fill="#a86a20" fill-opacity=".75"/>
<circle cx="196.3" cy="360.4" r=".6" fill="#a86a20" fill-opacity=".75"/>
<circle cx="196.7" cy="355.2" r=".6" fill="#a86a20" fill-opacity=".75"/>
<circle cx="196.4" cy="375.7" r=".6" fill="#a86a20" fill-opacity=".75"/>
<circle cx="196.6" cy="347.6" r=".6" fill="#a86a20" fill-opacity=".75"/>
<circle cx="196.4" cy="355.9" r=".6" fill="#a86a20" fill-opacity=".75"/>
<circle cx="196.4" cy="348.8" r=".6" fill="#a86a20" fill-opacity=".75"/>
<circle cx="196.3" cy="367.3" r=".6" fill="#a86a20" fill-opacity=".75"/>
<circle cx="196.3" cy="367.2" r=".6" fill="#a86a20" fill-opacity=".75"/>
<circle cx="196.2" cy="369.1" r=".6" fill="#a86a20" fill-opacity=".75"/>
<circle cx="196.6" cy="372.5" r=".6" fill="#a86a20" fill-opacity=".75"/>
<circle cx="196.8" cy="356.9" r=".6" fill="#a86a20" fill-opacity=".75"/>
<circle cx="196.3" cy="359.3" r=".6" fill="#a86a20" fill-opacity=".75"/>
<circle cx="196.7" cy="382.0" r=".6" fill="#a86a20" fill-opacity=".75"/>
<circle cx="196.3" cy="344.0" r=".6" fill="#a86a20" fill-opacity=".75"/>
<circle cx="196.8" cy="349.5" r=".6" fill="#a86a20" fill-opacity=".75"/>
<circle cx="196.7" cy="357.7" r=".6" fill="#a86a20" fill-opacity=".75"/>
<circle cx="196.4" cy="344.7" r=".6" fill="#a86a20" fill-opacity=".75"/>
<circle cx="196.7" cy="344.2" r=".6" fill="#a86a20" fill-opacity=".75"/>
<circle cx="196.3" cy="335.6" r=".6" fill="#a86a20" fill-opacity=".75"/>
<circle cx="196.3" cy="358.4" r=".6" fill="#a86a20" fill-opacity=".75"/>
<circle cx="196.5" cy="376.9" r=".6" fill="#a86a20" fill-opacity=".75"/>
<circle cx="196.3" cy="363.5" r=".6" fill="#a86a20" fill-opacity=".75"/>
<circle cx="196.4" cy="363.4" r=".6" fill="#a86a20" fill-opacity=".75"/>
<circle cx="196.3" cy="347.4" r=".6" fill="#a86a20" fill-opacity=".75"/>
<circle cx="196.4" cy="352.0" r=".6" fill="#a86a20" fill-opacity=".75"/>
<circle cx="196.3" cy="382.8" r=".6" fill="#a86a20" fill-opacity=".75"/>
<circle cx="196.7" cy="343.0" r=".6" fill="#a86a20" fill-opacity=".75"/>
<circle cx="196.3" cy="356.3" r=".6" fill="#a86a20" fill-opacity=".75"/>
<circle cx="196.7" cy="360.5" r=".6" fill="#a86a20" fill-opacity=".75"/>
<circle cx="196.6" cy="354.9" r=".6" fill="#a86a20" fill-opacity=".75"/>
<circle cx="196.4" cy="359.6" r=".6" fill="#a86a20" fill-opacity=".75"/>
<circle cx="196.4" cy="371.5" r=".6" fill="#a86a20" fill-opacity=".75"/>
<circle cx="196.8" cy="359.7" r=".6" fill="#a86a20" fill-opacity=".75"/>
<circle cx="196.8" cy="368.7" r=".6" fill="#a86a20" fill-opacity=".75"/>
<circle cx="196.4" cy="361.4" r=".6" fill="#a86a20" fill-opacity=".75"/>
<circle cx="196.7" cy="352.6" r=".6" fill="#a86a20" fill-opacity=".75"/>
<circle cx="196.4" cy="377.2" r=".6" fill="#a86a20" fill-opacity=".75"/>
<circle cx="196.8" cy="363.8" r=".6" fill="#a86a20" fill-opacity=".75"/>
<circle cx="196.4" cy="381.5" r=".6" fill="#a86a20" fill-opacity=".75"/>
<circle cx="196.3" cy="358.2" r=".6" fill="#a86a20" fill-opacity=".75"/>
<circle cx="196.50" cy="334.20" r="0.6" fill="#a86a20"/>
<circle cx="196.50" cy="386.10" r="0.6" fill="#a86a20"/>
<text x="172" y="348.60" font-size="8.25" fill="#1a1a1a">0.005</text>
<line x1="217.8" y1="322.7" x2="217.8" y2="408.5" stroke="#d85050" stroke-width="0.7" stroke-opacity="0.6"/>
<line x1="216.5" y1="322.7" x2="219.10000000000002" y2="322.7" stroke="#d85050" stroke-width="0.7"/>
<line x1="216.5" y1="408.5" x2="219.10000000000002" y2="408.5" stroke="#d85050" stroke-width="0.7"/>
<rect x="213.05" y="352.5" width="9.5" height="26.20" fill="#ff7b7b" fill-opacity="0.92" stroke="#d85050" stroke-width="0.7"/>
<line x1="213.05" y1="366.5" x2="222.55" y2="366.5" stroke="#d85050" stroke-width="0.7"/>
<circle cx="217.8" cy="403.2" r=".6" fill="#c83030" fill-opacity=".75"/>
<circle cx="217.6" cy="366.9" r=".6" fill="#c83030" fill-opacity=".75"/>
<circle cx="217.6" cy="327.2" r=".6" fill="#c83030" fill-opacity=".75"/>
<circle cx="217.8" cy="383.4" r=".6" fill="#c83030" fill-opacity=".75"/>
<circle cx="218.0" cy="374.4" r=".6" fill="#c83030" fill-opacity=".75"/>
<circle cx="217.9" cy="375.8" r=".6" fill="#c83030" fill-opacity=".75"/>
<circle cx="217.6" cy="369.1" r=".6" fill="#c83030" fill-opacity=".75"/>
<circle cx="217.9" cy="373.9" r=".6" fill="#c83030" fill-opacity=".75"/>
<circle cx="217.6" cy="351.0" r=".6" fill="#c83030" fill-opacity=".75"/>
<circle cx="217.9" cy="366.9" r=".6" fill="#c83030" fill-opacity=".75"/>
<circle cx="217.8" cy="357.2" r=".6" fill="#c83030" fill-opacity=".75"/>
<circle cx="217.6" cy="332.3" r=".6" fill="#c83030" fill-opacity=".75"/>
<circle cx="217.7" cy="395.4" r=".6" fill="#c83030" fill-opacity=".75"/>
<circle cx="217.9" cy="379.1" r=".6" fill="#c83030" fill-opacity=".75"/>
<circle cx="217.7" cy="399.8" r=".6" fill="#c83030" fill-opacity=".75"/>
<circle cx="218.0" cy="378.6" r=".6" fill="#c83030" fill-opacity=".75"/>
<circle cx="217.5" cy="381.4" r=".6" fill="#c83030" fill-opacity=".75"/>
<circle cx="218.0" cy="349.5" r=".6" fill="#c83030" fill-opacity=".75"/>
<circle cx="217.7" cy="327.6" r=".6" fill="#c83030" fill-opacity=".75"/>
<circle cx="217.6" cy="372.3" r=".6" fill="#c83030" fill-opacity=".75"/>
<circle cx="217.6" cy="375.6" r=".6" fill="#c83030" fill-opacity=".75"/>
<circle cx="217.7" cy="350.3" r=".6" fill="#c83030" fill-opacity=".75"/>
<circle cx="217.8" cy="365.0" r=".6" fill="#c83030" fill-opacity=".75"/>
<circle cx="217.8" cy="365.4" r=".6" fill="#c83030" fill-opacity=".75"/>
<circle cx="217.9" cy="356.7" r=".6" fill="#c83030" fill-opacity=".75"/>
<circle cx="218.0" cy="365.5" r=".6" fill="#c83030" fill-opacity=".75"/>
<circle cx="217.9" cy="377.8" r=".6" fill="#c83030" fill-opacity=".75"/>
<circle cx="217.7" cy="353.7" r=".6" fill="#c83030" fill-opacity=".75"/>
<circle cx="218.0" cy="366.6" r=".6" fill="#c83030" fill-opacity=".75"/>
<circle cx="218.1" cy="359.6" r=".6" fill="#c83030" fill-opacity=".75"/>
<circle cx="217.8" cy="343.2" r=".6" fill="#c83030" fill-opacity=".75"/>
<circle cx="217.8" cy="367.3" r=".6" fill="#c83030" fill-opacity=".75"/>
<circle cx="217.6" cy="373.1" r=".6" fill="#c83030" fill-opacity=".75"/>
<circle cx="217.7" cy="370.2" r=".6" fill="#c83030" fill-opacity=".75"/>
<circle cx="218.0" cy="374.7" r=".6" fill="#c83030" fill-opacity=".75"/>
<circle cx="217.9" cy="375.1" r=".6" fill="#c83030" fill-opacity=".75"/>
<circle cx="217.6" cy="368.1" r=".6" fill="#c83030" fill-opacity=".75"/>
<circle cx="217.8" cy="392.6" r=".6" fill="#c83030" fill-opacity=".75"/>
<circle cx="217.8" cy="369.4" r=".6" fill="#c83030" fill-opacity=".75"/>
<circle cx="218.0" cy="363.8" r=".6" fill="#c83030" fill-opacity=".75"/>
<circle cx="217.9" cy="357.9" r=".6" fill="#c83030" fill-opacity=".75"/>
<circle cx="217.8" cy="376.0" r=".6" fill="#c83030" fill-opacity=".75"/>
<circle cx="217.8" cy="369.3" r=".6" fill="#c83030" fill-opacity=".75"/>
<circle cx="217.7" cy="364.7" r=".6" fill="#c83030" fill-opacity=".75"/>
<circle cx="217.6" cy="376.2" r=".6" fill="#c83030" fill-opacity=".75"/>
<circle cx="217.6" cy="334.2" r=".6" fill="#c83030" fill-opacity=".75"/>
<circle cx="217.8" cy="345.5" r=".6" fill="#c83030" fill-opacity=".75"/>
<circle cx="218.0" cy="366.3" r=".6" fill="#c83030" fill-opacity=".75"/>
<circle cx="218.1" cy="354.9" r=".6" fill="#c83030" fill-opacity=".75"/>
<circle cx="218.0" cy="351.0" r=".6" fill="#c83030" fill-opacity=".75"/>
<circle cx="217.8" cy="379.5" r=".6" fill="#c83030" fill-opacity=".75"/>
<circle cx="218.0" cy="329.9" r=".6" fill="#c83030" fill-opacity=".75"/>
<circle cx="217.7" cy="394.7" r=".6" fill="#c83030" fill-opacity=".75"/>
<circle cx="217.8" cy="367.6" r=".6" fill="#c83030" fill-opacity=".75"/>
<circle cx="218.1" cy="384.0" r=".6" fill="#c83030" fill-opacity=".75"/>
<circle cx="218.0" cy="380.9" r=".6" fill="#c83030" fill-opacity=".75"/>
<circle cx="218.0" cy="326.1" r=".6" fill="#c83030" fill-opacity=".75"/>
<circle cx="218.1" cy="388.6" r=".6" fill="#c83030" fill-opacity=".75"/>
<circle cx="218.1" cy="374.2" r=".6" fill="#c83030" fill-opacity=".75"/>
<circle cx="217.9" cy="366.6" r=".6" fill="#c83030" fill-opacity=".75"/>
<circle cx="217.7" cy="386.8" r=".6" fill="#c83030" fill-opacity=".75"/>
<circle cx="217.8" cy="359.3" r=".6" fill="#c83030" fill-opacity=".75"/>
<circle cx="217.8" cy="365.1" r=".6" fill="#c83030" fill-opacity=".75"/>
<circle cx="218.1" cy="377.0" r=".6" fill="#c83030" fill-opacity=".75"/>
<circle cx="218.0" cy="367.9" r=".6" fill="#c83030" fill-opacity=".75"/>
<circle cx="218.0" cy="391.9" r=".6" fill="#c83030" fill-opacity=".75"/>
<circle cx="218.0" cy="355.9" r=".6" fill="#c83030" fill-opacity=".75"/>
<circle cx="217.9" cy="370.3" r=".6" fill="#c83030" fill-opacity=".75"/>
<circle cx="217.7" cy="363.1" r=".6" fill="#c83030" fill-opacity=".75"/>
<circle cx="217.8" cy="359.8" r=".6" fill="#c83030" fill-opacity=".75"/>
<circle cx="218.1" cy="352.5" r=".6" fill="#c83030" fill-opacity=".75"/>
<circle cx="217.8" cy="355.8" r=".6" fill="#c83030" fill-opacity=".75"/>
<circle cx="217.8" cy="356.3" r=".6" fill="#c83030" fill-opacity=".75"/>
<circle cx="217.7" cy="381.7" r=".6" fill="#c83030" fill-opacity=".75"/>
<circle cx="217.9" cy="361.6" r=".6" fill="#c83030" fill-opacity=".75"/>
<circle cx="218.1" cy="385.5" r=".6" fill="#c83030" fill-opacity=".75"/>
<circle cx="217.8" cy="384.4" r=".6" fill="#c83030" fill-opacity=".75"/>
<circle cx="217.8" cy="364.0" r=".6" fill="#c83030" fill-opacity=".75"/>
<circle cx="217.6" cy="388.1" r=".6" fill="#c83030" fill-opacity=".75"/>
<circle cx="217.7" cy="373.8" r=".6" fill="#c83030" fill-opacity=".75"/>
<circle cx="217.7" cy="373.7" r=".6" fill="#c83030" fill-opacity=".75"/>
<circle cx="217.6" cy="363.0" r=".6" fill="#c83030" fill-opacity=".75"/>
<circle cx="217.8" cy="380.6" r=".6" fill="#c83030" fill-opacity=".75"/>
<circle cx="217.8" cy="380.7" r=".6" fill="#c83030" fill-opacity=".75"/>
<circle cx="217.9" cy="344.0" r=".6" fill="#c83030" fill-opacity=".75"/>
<circle cx="217.8" cy="375.7" r=".6" fill="#c83030" fill-opacity=".75"/>
<circle cx="217.8" cy="395.6" r=".6" fill="#c83030" fill-opacity=".75"/>
<circle cx="217.7" cy="349.9" r=".6" fill="#c83030" fill-opacity=".75"/>
<circle cx="217.6" cy="352.3" r=".6" fill="#c83030" fill-opacity=".75"/>
<circle cx="217.7" cy="370.6" r=".6" fill="#c83030" fill-opacity=".75"/>
<circle cx="217.9" cy="389.4" r=".6" fill="#c83030" fill-opacity=".75"/>
<circle cx="218.0" cy="384.5" r=".6" fill="#c83030" fill-opacity=".75"/>
<circle cx="217.6" cy="367.8" r=".6" fill="#c83030" fill-opacity=".75"/>
<circle cx="217.7" cy="345.3" r=".6" fill="#c83030" fill-opacity=".75"/>
<circle cx="218.1" cy="358.6" r=".6" fill="#c83030" fill-opacity=".75"/>
<circle cx="217.80" cy="323.00" r="0.6" fill="#c83030"/>
<circle cx="217.80" cy="408.20" r="0.6" fill="#c83030"/>
<circle cx="217.8" cy="309.3" r="0.8" fill="#c83030"/>
<line x1="175.5" y1="519.9" x2="175.5" y2="556" stroke="#8a8a8a" stroke-width="0.7" stroke-opacity="0.6"/>
<line x1="174.2" y1="519.9" x2="176.8" y2="519.9" stroke="#8a8a8a" stroke-width="0.7"/>
<line x1="174.2" y1="556" x2="176.8" y2="556" stroke="#8a8a8a" stroke-width="0.7"/>
<rect x="170.75" y="533.2" width="9.5" height="13.50" fill="#d5d5d5" fill-opacity="0.92" stroke="#8a8a8a" stroke-width="0.7"/>
<line x1="170.75" y1="540.9" x2="180.25" y2="540.9" stroke="#8a8a8a" stroke-width="0.7"/>
<circle cx="175.3" cy="536.0" r=".6" fill="#555555" fill-opacity=".75"/>
<circle cx="175.5" cy="549.2" r=".6" fill="#555555" fill-opacity=".75"/>
<circle cx="175.5" cy="550.1" r=".6" fill="#555555" fill-opacity=".75"/>
<circle cx="175.6" cy="544.7" r=".6" fill="#555555" fill-opacity=".75"/>
<circle cx="175.8" cy="546.4" r=".6" fill="#555555" fill-opacity=".75"/>
<circle cx="175.6" cy="545.4" r=".6" fill="#555555" fill-opacity=".75"/>
<circle cx="175.4" cy="546.0" r=".6" fill="#555555" fill-opacity=".75"/>
<circle cx="175.6" cy="548.4" r=".6" fill="#555555" fill-opacity=".75"/>
<circle cx="175.7" cy="526.4" r=".6" fill="#555555" fill-opacity=".75"/>
<circle cx="175.5" cy="527.9" r=".6" fill="#555555" fill-opacity=".75"/>
<circle cx="175.7" cy="539.7" r=".6" fill="#555555" fill-opacity=".75"/>
<circle cx="175.5" cy="524.5" r=".6" fill="#555555" fill-opacity=".75"/>
<circle cx="175.7" cy="544.3" r=".6" fill="#555555" fill-opacity=".75"/>
<circle cx="175.3" cy="525.6" r=".6" fill="#555555" fill-opacity=".75"/>
<circle cx="175.7" cy="541.5" r=".6" fill="#555555" fill-opacity=".75"/>
<circle cx="175.6" cy="540.2" r=".6" fill="#555555" fill-opacity=".75"/>
<circle cx="175.5" cy="541.2" r=".6" fill="#555555" fill-opacity=".75"/>
<circle cx="175.7" cy="525.7" r=".6" fill="#555555" fill-opacity=".75"/>
<circle cx="175.6" cy="549.5" r=".6" fill="#555555" fill-opacity=".75"/>
<circle cx="175.5" cy="532.9" r=".6" fill="#555555" fill-opacity=".75"/>
<circle cx="175.6" cy="548.4" r=".6" fill="#555555" fill-opacity=".75"/>
<circle cx="175.5" cy="538.2" r=".6" fill="#555555" fill-opacity=".75"/>
<circle cx="175.4" cy="550.5" r=".6" fill="#555555" fill-opacity=".75"/>
<circle cx="175.7" cy="533.2" r=".6" fill="#555555" fill-opacity=".75"/>
<circle cx="175.3" cy="530.1" r=".6" fill="#555555" fill-opacity=".75"/>
<circle cx="175.4" cy="540.9" r=".6" fill="#555555" fill-opacity=".75"/>
<circle cx="175.5" cy="548.9" r=".6" fill="#555555" fill-opacity=".75"/>
<circle cx="175.3" cy="551.2" r=".6" fill="#555555" fill-opacity=".75"/>
<circle cx="175.7" cy="548.7" r=".6" fill="#555555" fill-opacity=".75"/>
<circle cx="175.7" cy="536.6" r=".6" fill="#555555" fill-opacity=".75"/>
<circle cx="175.5" cy="547.4" r=".6" fill="#555555" fill-opacity=".75"/>
<circle cx="175.7" cy="539.2" r=".6" fill="#555555" fill-opacity=".75"/>
<circle cx="175.5" cy="544.0" r=".6" fill="#555555" fill-opacity=".75"/>
<circle cx="175.5" cy="541.1" r=".6" fill="#555555" fill-opacity=".75"/>
<circle cx="175.5" cy="532.6" r=".6" fill="#555555" fill-opacity=".75"/>
<circle cx="175.5" cy="553.0" r=".6" fill="#555555" fill-opacity=".75"/>
<circle cx="175.6" cy="540.8" r=".6" fill="#555555" fill-opacity=".75"/>
<circle cx="175.6" cy="533.7" r=".6" fill="#555555" fill-opacity=".75"/>
<circle cx="175.4" cy="546.9" r=".6" fill="#555555" fill-opacity=".75"/>
<circle cx="175.5" cy="555.1" r=".6" fill="#555555" fill-opacity=".75"/>
<circle cx="175.3" cy="536.1" r=".6" fill="#555555" fill-opacity=".75"/>
<circle cx="175.5" cy="533.8" r=".6" fill="#555555" fill-opacity=".75"/>
<circle cx="175.5" cy="548.1" r=".6" fill="#555555" fill-opacity=".75"/>
<circle cx="175.5" cy="523.2" r=".6" fill="#555555" fill-opacity=".75"/>
<circle cx="175.8" cy="527.9" r=".6" fill="#555555" fill-opacity=".75"/>
<circle cx="175.4" cy="546.0" r=".6" fill="#555555" fill-opacity=".75"/>
<circle cx="175.3" cy="522.8" r=".6" fill="#555555" fill-opacity=".75"/>
<circle cx="175.4" cy="537.4" r=".6" fill="#555555" fill-opacity=".75"/>
<circle cx="175.5" cy="538.4" r=".6" fill="#555555" fill-opacity=".75"/>
<circle cx="175.6" cy="554.5" r=".6" fill="#555555" fill-opacity=".75"/>
<circle cx="175.50" cy="520.20" r="0.6" fill="#555555"/>
<circle cx="175.50" cy="555.70" r="0.6" fill="#555555"/>
<circle cx="175.5" cy="509.3" r="0.8" fill="#555555"/>
<line x1="207.3" y1="534.3" x2="207.3" y2="562.4" stroke="#b8843f" stroke-width="0.7" stroke-opacity="0.6"/>
<line x1="206.0" y1="534.3" x2="208.60000000000002" y2="534.3" stroke="#b8843f" stroke-width="0.7"/>
<line x1="206.0" y1="562.4" x2="208.60000000000002" y2="562.4" stroke="#b8843f" stroke-width="0.7"/>
<rect x="202.55" y="541.4" width="9.5" height="12.30" fill="#cba67c" fill-opacity="0.92" stroke="#b8843f" stroke-width="0.7"/>
<line x1="202.55" y1="546.3" x2="212.05" y2="546.3" stroke="#b8843f" stroke-width="0.7"/>
<circle cx="207.5" cy="558.2" r=".6" fill="#a86a20" fill-opacity=".75"/>
<circle cx="207.2" cy="541.6" r=".6" fill="#a86a20" fill-opacity=".75"/>
<circle cx="207.3" cy="548.8" r=".6" fill="#a86a20" fill-opacity=".75"/>
<circle cx="207.1" cy="540.4" r=".6" fill="#a86a20" fill-opacity=".75"/>
<circle cx="207.4" cy="546.1" r=".6" fill="#a86a20" fill-opacity=".75"/>
<circle cx="207.6" cy="539.5" r=".6" fill="#a86a20" fill-opacity=".75"/>
<circle cx="207.4" cy="541.2" r=".6" fill="#a86a20" fill-opacity=".75"/>
<circle cx="207.5" cy="555.4" r=".6" fill="#a86a20" fill-opacity=".75"/>
<circle cx="207.2" cy="548.8" r=".6" fill="#a86a20" fill-opacity=".75"/>
<circle cx="207.2" cy="546.0" r=".6" fill="#a86a20" fill-opacity=".75"/>
<circle cx="207.5" cy="545.5" r=".6" fill="#a86a20" fill-opacity=".75"/>
<circle cx="207.1" cy="534.7" r=".6" fill="#a86a20" fill-opacity=".75"/>
<circle cx="207.3" cy="539.3" r=".6" fill="#a86a20" fill-opacity=".75"/>
<circle cx="207.4" cy="539.5" r=".6" fill="#a86a20" fill-opacity=".75"/>
<circle cx="207.3" cy="543.9" r=".6" fill="#a86a20" fill-opacity=".75"/>
<circle cx="207.2" cy="558.2" r=".6" fill="#a86a20" fill-opacity=".75"/>
<circle cx="207.1" cy="546.1" r=".6" fill="#a86a20" fill-opacity=".75"/>
<circle cx="207.1" cy="554.8" r=".6" fill="#a86a20" fill-opacity=".75"/>
<circle cx="207.1" cy="559.1" r=".6" fill="#a86a20" fill-opacity=".75"/>
<circle cx="207.5" cy="551.6" r=".6" fill="#a86a20" fill-opacity=".75"/>
<circle cx="207.4" cy="556.0" r=".6" fill="#a86a20" fill-opacity=".75"/>
<circle cx="207.0" cy="547.4" r=".6" fill="#a86a20" fill-opacity=".75"/>
<circle cx="207.5" cy="543.2" r=".6" fill="#a86a20" fill-opacity=".75"/>
<circle cx="207.2" cy="539.9" r=".6" fill="#a86a20" fill-opacity=".75"/>
<circle cx="207.1" cy="559.3" r=".6" fill="#a86a20" fill-opacity=".75"/>
<circle cx="207.5" cy="545.9" r=".6" fill="#a86a20" fill-opacity=".75"/>
<circle cx="207.3" cy="550.4" r=".6" fill="#a86a20" fill-opacity=".75"/>
<circle cx="207.2" cy="540.5" r=".6" fill="#a86a20" fill-opacity=".75"/>
<circle cx="207.0" cy="554.4" r=".6" fill="#a86a20" fill-opacity=".75"/>
<circle cx="207.6" cy="555.6" r=".6" fill="#a86a20" fill-opacity=".75"/>
<circle cx="207.3" cy="538.7" r=".6" fill="#a86a20" fill-opacity=".75"/>
<circle cx="207.0" cy="541.3" r=".6" fill="#a86a20" fill-opacity=".75"/>
<circle cx="207.6" cy="541.6" r=".6" fill="#a86a20" fill-opacity=".75"/>
<circle cx="207.5" cy="551.1" r=".6" fill="#a86a20" fill-opacity=".75"/>
<circle cx="207.5" cy="540.0" r=".6" fill="#a86a20" fill-opacity=".75"/>
<circle cx="207.6" cy="542.2" r=".6" fill="#a86a20" fill-opacity=".75"/>
<circle cx="207.3" cy="558.0" r=".6" fill="#a86a20" fill-opacity=".75"/>
<circle cx="207.2" cy="552.8" r=".6" fill="#a86a20" fill-opacity=".75"/>
<circle cx="207.4" cy="544.2" r=".6" fill="#a86a20" fill-opacity=".75"/>
<circle cx="207.5" cy="547.7" r=".6" fill="#a86a20" fill-opacity=".75"/>
<circle cx="207.3" cy="554.0" r=".6" fill="#a86a20" fill-opacity=".75"/>
<circle cx="207.1" cy="548.1" r=".6" fill="#a86a20" fill-opacity=".75"/>
<circle cx="207.2" cy="539.7" r=".6" fill="#a86a20" fill-opacity=".75"/>
<circle cx="207.2" cy="555.7" r=".6" fill="#a86a20" fill-opacity=".75"/>
<circle cx="207.30" cy="534.60" r="0.6" fill="#a86a20"/>
<circle cx="207.30" cy="562.10" r="0.6" fill="#a86a20"/>
<text x="210.8" y="539.70" font-size="8.25" fill="#1a1a1a">0.015</text>
<line x1="292.4" y1="147.4" x2="292.4" y2="201.1" stroke="#72b356" stroke-width="0.7" stroke-opacity="0.6"/>
<line x1="291.09999999999997" y1="147.4" x2="293.7" y2="147.4" stroke="#72b356" stroke-width="0.7"/>
<line x1="291.09999999999997" y1="201.1" x2="293.7" y2="201.1" stroke="#72b356" stroke-width="0.7"/>
<rect x="287.65" y="171.2" width="9.5" height="17.80" fill="#c3e5a6" fill-opacity="0.92" stroke="#72b356" stroke-width="0.7"/>
<line x1="287.65" y1="180.1" x2="297.15" y2="180.1" stroke="#72b356" stroke-width="0.7"/>
<circle cx="292.4" cy="174.1" r=".6" fill="#4f9a34" fill-opacity=".75"/>
<circle cx="292.3" cy="177.6" r=".6" fill="#4f9a34" fill-opacity=".75"/>
<circle cx="292.2" cy="176.1" r=".6" fill="#4f9a34" fill-opacity=".75"/>
<circle cx="292.6" cy="182.9" r=".6" fill="#4f9a34" fill-opacity=".75"/>
<circle cx="292.2" cy="174.2" r=".6" fill="#4f9a34" fill-opacity=".75"/>
<circle cx="292.3" cy="188.1" r=".6" fill="#4f9a34" fill-opacity=".75"/>
<circle cx="292.5" cy="180.4" r=".6" fill="#4f9a34" fill-opacity=".75"/>
<circle cx="292.3" cy="183.6" r=".6" fill="#4f9a34" fill-opacity=".75"/>
<circle cx="292.2" cy="191.6" r=".6" fill="#4f9a34" fill-opacity=".75"/>
<circle cx="292.3" cy="197.2" r=".6" fill="#4f9a34" fill-opacity=".75"/>
<circle cx="292.4" cy="183.6" r=".6" fill="#4f9a34" fill-opacity=".75"/>
<circle cx="292.6" cy="174.2" r=".6" fill="#4f9a34" fill-opacity=".75"/>
<circle cx="292.3" cy="182.7" r=".6" fill="#4f9a34" fill-opacity=".75"/>
<circle cx="292.5" cy="172.8" r=".6" fill="#4f9a34" fill-opacity=".75"/>
<circle cx="292.2" cy="156.3" r=".6" fill="#4f9a34" fill-opacity=".75"/>
<circle cx="292.2" cy="195.0" r=".6" fill="#4f9a34" fill-opacity=".75"/>
<circle cx="292.4" cy="175.4" r=".6" fill="#4f9a34" fill-opacity=".75"/>
<circle cx="292.3" cy="194.1" r=".6" fill="#4f9a34" fill-opacity=".75"/>
<circle cx="292.6" cy="195.2" r=".6" fill="#4f9a34" fill-opacity=".75"/>
<circle cx="292.2" cy="169.3" r=".6" fill="#4f9a34" fill-opacity=".75"/>
<circle cx="292.5" cy="173.5" r=".6" fill="#4f9a34" fill-opacity=".75"/>
<circle cx="292.2" cy="186.3" r=".6" fill="#4f9a34" fill-opacity=".75"/>
<circle cx="292.3" cy="163.7" r=".6" fill="#4f9a34" fill-opacity=".75"/>
<circle cx="292.6" cy="178.8" r=".6" fill="#4f9a34" fill-opacity=".75"/>
<circle cx="292.4" cy="165.6" r=".6" fill="#4f9a34" fill-opacity=".75"/>
<circle cx="292.3" cy="192.9" r=".6" fill="#4f9a34" fill-opacity=".75"/>
<circle cx="292.2" cy="175.8" r=".6" fill="#4f9a34" fill-opacity=".75"/>
<circle cx="292.6" cy="183.7" r=".6" fill="#4f9a34" fill-opacity=".75"/>
<circle cx="292.2" cy="171.7" r=".6" fill="#4f9a34" fill-opacity=".75"/>
<circle cx="292.4" cy="197.6" r=".6" fill="#4f9a34" fill-opacity=".75"/>
<circle cx="292.3" cy="170.1" r=".6" fill="#4f9a34" fill-opacity=".75"/>
<circle cx="292.1" cy="192.0" r=".6" fill="#4f9a34" fill-opacity=".75"/>
<circle cx="292.2" cy="176.6" r=".6" fill="#4f9a34" fill-opacity=".75"/>
<circle cx="292.5" cy="188.9" r=".6" fill="#4f9a34" fill-opacity=".75"/>
<circle cx="292.6" cy="177.4" r=".6" fill="#4f9a34" fill-opacity=".75"/>
<circle cx="292.6" cy="193.2" r=".6" fill="#4f9a34" fill-opacity=".75"/>
<circle cx="292.2" cy="199.5" r=".6" fill="#4f9a34" fill-opacity=".75"/>
<circle cx="292.3" cy="162.5" r=".6" fill="#4f9a34" fill-opacity=".75"/>
<circle cx="292.5" cy="199.7" r=".6" fill="#4f9a34" fill-opacity=".75"/>
<circle cx="292.3" cy="183.8" r=".6" fill="#4f9a34" fill-opacity=".75"/>
<circle cx="292.5" cy="163.6" r=".6" fill="#4f9a34" fill-opacity=".75"/>
<circle cx="292.2" cy="190.2" r=".6" fill="#4f9a34" fill-opacity=".75"/>
<circle cx="292.5" cy="187.1" r=".6" fill="#4f9a34" fill-opacity=".75"/>
<circle cx="292.2" cy="170.0" r=".6" fill="#4f9a34" fill-opacity=".75"/>
<circle cx="292.5" cy="199.4" r=".6" fill="#4f9a34" fill-opacity=".75"/>
<circle cx="292.1" cy="179.2" r=".6" fill="#4f9a34" fill-opacity=".75"/>
<circle cx="292.2" cy="176.4" r=".6" fill="#4f9a34" fill-opacity=".75"/>
<circle cx="292.3" cy="183.7" r=".6" fill="#4f9a34" fill-opacity=".75"/>
<circle cx="292.1" cy="190.7" r=".6" fill="#4f9a34" fill-opacity=".75"/>
<circle cx="292.2" cy="173.1" r=".6" fill="#4f9a34" fill-opacity=".75"/>
<circle cx="292.6" cy="197.5" r=".6" fill="#4f9a34" fill-opacity=".75"/>
<circle cx="292.3" cy="161.2" r=".6" fill="#4f9a34" fill-opacity=".75"/>
<circle cx="292.4" cy="171.2" r=".6" fill="#4f9a34" fill-opacity=".75"/>
<circle cx="292.1" cy="175.2" r=".6" fill="#4f9a34" fill-opacity=".75"/>
<circle cx="292.6" cy="168.9" r=".6" fill="#4f9a34" fill-opacity=".75"/>
<circle cx="292.1" cy="181.9" r=".6" fill="#4f9a34" fill-opacity=".75"/>
<circle cx="292.6" cy="169.4" r=".6" fill="#4f9a34" fill-opacity=".75"/>
<circle cx="292.2" cy="176.9" r=".6" fill="#4f9a34" fill-opacity=".75"/>
<circle cx="292.2" cy="177.5" r=".6" fill="#4f9a34" fill-opacity=".75"/>
<circle cx="292.6" cy="182.4" r=".6" fill="#4f9a34" fill-opacity=".75"/>
<circle cx="292.5" cy="171.3" r=".6" fill="#4f9a34" fill-opacity=".75"/>
<circle cx="292.3" cy="197.5" r=".6" fill="#4f9a34" fill-opacity=".75"/>
<circle cx="292.5" cy="190.6" r=".6" fill="#4f9a34" fill-opacity=".75"/>
<circle cx="292.2" cy="185.2" r=".6" fill="#4f9a34" fill-opacity=".75"/>
<circle cx="292.7" cy="170.7" r=".6" fill="#4f9a34" fill-opacity=".75"/>
<circle cx="292.40" cy="147.70" r="0.6" fill="#4f9a34"/>
<circle cx="292.40" cy="200.80" r="0.6" fill="#4f9a34"/>
<circle cx="292.4" cy="143.4" r="0.8" fill="#4f9a34"/>
<line x1="313.9" y1="152.5" x2="313.9" y2="212.1" stroke="#b8843f" stroke-width="0.7" stroke-opacity="0.6"/>
<line x1="312.59999999999997" y1="152.5" x2="315.2" y2="152.5" stroke="#b8843f" stroke-width="0.7"/>
<line x1="312.59999999999997" y1="212.1" x2="315.2" y2="212.1" stroke="#b8843f" stroke-width="0.7"/>
<rect x="309.15" y="175" width="9.5" height="21.40" fill="#cba67c" fill-opacity="0.92" stroke="#b8843f" stroke-width="0.7"/>
<line x1="309.15" y1="188.3" x2="318.65" y2="188.3" stroke="#b8843f" stroke-width="0.7"/>
<circle cx="314.0" cy="155.8" r=".6" fill="#a86a20" fill-opacity=".75"/>
<circle cx="314.0" cy="205.1" r=".6" fill="#a86a20" fill-opacity=".75"/>
<circle cx="313.9" cy="199.0" r=".6" fill="#a86a20" fill-opacity=".75"/>
<circle cx="313.6" cy="168.8" r=".6" fill="#a86a20" fill-opacity=".75"/>
<circle cx="313.9" cy="182.9" r=".6" fill="#a86a20" fill-opacity=".75"/>
<circle cx="314.2" cy="172.4" r=".6" fill="#a86a20" fill-opacity=".75"/>
<circle cx="313.6" cy="207.0" r=".6" fill="#a86a20" fill-opacity=".75"/>
<circle cx="314.0" cy="207.6" r=".6" fill="#a86a20" fill-opacity=".75"/>
<circle cx="313.9" cy="192.5" r=".6" fill="#a86a20" fill-opacity=".75"/>
<circle cx="314.2" cy="176.7" r=".6" fill="#a86a20" fill-opacity=".75"/>
<circle cx="313.7" cy="175.4" r=".6" fill="#a86a20" fill-opacity=".75"/>
<circle cx="313.6" cy="173.2" r=".6" fill="#a86a20" fill-opacity=".75"/>
<circle cx="313.7" cy="178.1" r=".6" fill="#a86a20" fill-opacity=".75"/>
<circle cx="313.8" cy="201.0" r=".6" fill="#a86a20" fill-opacity=".75"/>
<circle cx="314.0" cy="204.5" r=".6" fill="#a86a20" fill-opacity=".75"/>
<circle cx="313.7" cy="207.1" r=".6" fill="#a86a20" fill-opacity=".75"/>
<circle cx="313.9" cy="189.3" r=".6" fill="#a86a20" fill-opacity=".75"/>
<circle cx="314.2" cy="207.4" r=".6" fill="#a86a20" fill-opacity=".75"/>
<circle cx="314.1" cy="180.3" r=".6" fill="#a86a20" fill-opacity=".75"/>
<circle cx="313.7" cy="199.0" r=".6" fill="#a86a20" fill-opacity=".75"/>
<circle cx="314.1" cy="175.1" r=".6" fill="#a86a20" fill-opacity=".75"/>
<circle cx="313.9" cy="182.8" r=".6" fill="#a86a20" fill-opacity=".75"/>
<circle cx="314.0" cy="188.9" r=".6" fill="#a86a20" fill-opacity=".75"/>
<circle cx="314.0" cy="178.7" r=".6" fill="#a86a20" fill-opacity=".75"/>
<circle cx="314.1" cy="162.1" r=".6" fill="#a86a20" fill-opacity=".75"/>
<circle cx="313.7" cy="194.8" r=".6" fill="#a86a20" fill-opacity=".75"/>
<circle cx="313.7" cy="184.6" r=".6" fill="#a86a20" fill-opacity=".75"/>
<circle cx="313.6" cy="202.8" r=".6" fill="#a86a20" fill-opacity=".75"/>
<circle cx="314.0" cy="186.3" r=".6" fill="#a86a20" fill-opacity=".75"/>
<circle cx="313.9" cy="198.6" r=".6" fill="#a86a20" fill-opacity=".75"/>
<circle cx="313.9" cy="198.9" r=".6" fill="#a86a20" fill-opacity=".75"/>
<circle cx="313.8" cy="197.5" r=".6" fill="#a86a20" fill-opacity=".75"/>
<circle cx="313.6" cy="191.3" r=".6" fill="#a86a20" fill-opacity=".75"/>
<circle cx="314.2" cy="193.6" r=".6" fill="#a86a20" fill-opacity=".75"/>
<circle cx="314.0" cy="188.3" r=".6" fill="#a86a20" fill-opacity=".75"/>
<circle cx="314.2" cy="181.7" r=".6" fill="#a86a20" fill-opacity=".75"/>
<circle cx="313.9" cy="181.3" r=".6" fill="#a86a20" fill-opacity=".75"/>
<circle cx="313.9" cy="185.3" r=".6" fill="#a86a20" fill-opacity=".75"/>
<circle cx="313.6" cy="195.6" r=".6" fill="#a86a20" fill-opacity=".75"/>
<circle cx="314.2" cy="206.7" r=".6" fill="#a86a20" fill-opacity=".75"/>
<circle cx="314.2" cy="174.6" r=".6" fill="#a86a20" fill-opacity=".75"/>
<circle cx="314.0" cy="170.7" r=".6" fill="#a86a20" fill-opacity=".75"/>
<circle cx="313.7" cy="188.2" r=".6" fill="#a86a20" fill-opacity=".75"/>
<circle cx="313.6" cy="200.2" r=".6" fill="#a86a20" fill-opacity=".75"/>
<circle cx="313.8" cy="192.9" r=".6" fill="#a86a20" fill-opacity=".75"/>
<circle cx="313.7" cy="158.3" r=".6" fill="#a86a20" fill-opacity=".75"/>
<circle cx="314.2" cy="168.5" r=".6" fill="#a86a20" fill-opacity=".75"/>
<circle cx="313.7" cy="164.9" r=".6" fill="#a86a20" fill-opacity=".75"/>
<circle cx="314.0" cy="194.7" r=".6" fill="#a86a20" fill-opacity=".75"/>
<circle cx="313.8" cy="159.1" r=".6" fill="#a86a20" fill-opacity=".75"/>
<circle cx="313.8" cy="200.1" r=".6" fill="#a86a20" fill-opacity=".75"/>
<circle cx="313.8" cy="174.7" r=".6" fill="#a86a20" fill-opacity=".75"/>
<circle cx="314.1" cy="203.1" r=".6" fill="#a86a20" fill-opacity=".75"/>
<circle cx="313.9" cy="188.6" r=".6" fill="#a86a20" fill-opacity=".75"/>
<circle cx="314.0" cy="192.9" r=".6" fill="#a86a20" fill-opacity=".75"/>
<circle cx="314.1" cy="198.8" r=".6" fill="#a86a20" fill-opacity=".75"/>
<circle cx="314.2" cy="165.9" r=".6" fill="#a86a20" fill-opacity=".75"/>
<circle cx="313.7" cy="169.7" r=".6" fill="#a86a20" fill-opacity=".75"/>
<circle cx="313.8" cy="189.0" r=".6" fill="#a86a20" fill-opacity=".75"/>
<circle cx="314.0" cy="182.6" r=".6" fill="#a86a20" fill-opacity=".75"/>
<circle cx="313.7" cy="185.1" r=".6" fill="#a86a20" fill-opacity=".75"/>
<circle cx="313.7" cy="203.0" r=".6" fill="#a86a20" fill-opacity=".75"/>
<circle cx="313.7" cy="204.8" r=".6" fill="#a86a20" fill-opacity=".75"/>
<circle cx="314.0" cy="192.5" r=".6" fill="#a86a20" fill-opacity=".75"/>
<circle cx="314.1" cy="188.8" r=".6" fill="#a86a20" fill-opacity=".75"/>
<circle cx="313.8" cy="192.1" r=".6" fill="#a86a20" fill-opacity=".75"/>
<circle cx="314.0" cy="172.1" r=".6" fill="#a86a20" fill-opacity=".75"/>
<circle cx="313.8" cy="171.8" r=".6" fill="#a86a20" fill-opacity=".75"/>
<circle cx="313.9" cy="186.8" r=".6" fill="#a86a20" fill-opacity=".75"/>
<circle cx="314.1" cy="173.4" r=".6" fill="#a86a20" fill-opacity=".75"/>
<circle cx="313.7" cy="162.7" r=".6" fill="#a86a20" fill-opacity=".75"/>
<circle cx="313.9" cy="183.4" r=".6" fill="#a86a20" fill-opacity=".75"/>
<circle cx="313.8" cy="204.7" r=".6" fill="#a86a20" fill-opacity=".75"/>
<circle cx="313.8" cy="190.5" r=".6" fill="#a86a20" fill-opacity=".75"/>
<circle cx="313.9" cy="194.6" r=".6" fill="#a86a20" fill-opacity=".75"/>
<circle cx="313.90" cy="152.80" r="0.6" fill="#a86a20"/>
<circle cx="313.90" cy="211.80" r="0.6" fill="#a86a20"/>
<text x="317.4" y="173.30" font-size="8.25" fill="#1a1a1a">0.0001</text>
<line x1="324.4" y1="222.2" x2="324.4" y2="273.1" stroke="#b8843f" stroke-width="0.7" stroke-opacity="0.6"/>
<line x1="323.09999999999997" y1="222.2" x2="325.7" y2="222.2" stroke="#b8843f" stroke-width="0.7"/>
<line x1="323.09999999999997" y1="273.1" x2="325.7" y2="273.1" stroke="#b8843f" stroke-width="0.7"/>
<rect x="319.65" y="242.8" width="9.5" height="19.80" fill="#cba67c" fill-opacity="0.92" stroke="#b8843f" stroke-width="0.7"/>
<line x1="319.65" y1="254.2" x2="329.15" y2="254.2" stroke="#b8843f" stroke-width="0.7"/>
<circle cx="324.6" cy="248.4" r=".6" fill="#a86a20" fill-opacity=".75"/>
<circle cx="324.5" cy="248.2" r=".6" fill="#a86a20" fill-opacity=".75"/>
<circle cx="324.5" cy="256.1" r=".6" fill="#a86a20" fill-opacity=".75"/>
<circle cx="324.5" cy="249.4" r=".6" fill="#a86a20" fill-opacity=".75"/>
<circle cx="324.7" cy="248.6" r=".6" fill="#a86a20" fill-opacity=".75"/>
<circle cx="324.4" cy="272.5" r=".6" fill="#a86a20" fill-opacity=".75"/>
<circle cx="324.3" cy="246.8" r=".6" fill="#a86a20" fill-opacity=".75"/>
<circle cx="324.6" cy="244.3" r=".6" fill="#a86a20" fill-opacity=".75"/>
<circle cx="324.5" cy="263.5" r=".6" fill="#a86a20" fill-opacity=".75"/>
<circle cx="324.4" cy="255.9" r=".6" fill="#a86a20" fill-opacity=".75"/>
<circle cx="324.3" cy="272.7" r=".6" fill="#a86a20" fill-opacity=".75"/>
<circle cx="324.4" cy="265.2" r=".6" fill="#a86a20" fill-opacity=".75"/>
<circle cx="324.4" cy="238.6" r=".6" fill="#a86a20" fill-opacity=".75"/>
<circle cx="324.3" cy="263.2" r=".6" fill="#a86a20" fill-opacity=".75"/>
<circle cx="324.6" cy="261.2" r=".6" fill="#a86a20" fill-opacity=".75"/>
<circle cx="324.4" cy="260.3" r=".6" fill="#a86a20" fill-opacity=".75"/>
<circle cx="324.4" cy="254.1" r=".6" fill="#a86a20" fill-opacity=".75"/>
<circle cx="324.3" cy="260.8" r=".6" fill="#a86a20" fill-opacity=".75"/>
<circle cx="324.2" cy="235.6" r=".6" fill="#a86a20" fill-opacity=".75"/>
<circle cx="324.4" cy="255.5" r=".6" fill="#a86a20" fill-opacity=".75"/>
<circle cx="324.5" cy="267.5" r=".6" fill="#a86a20" fill-opacity=".75"/>
<circle cx="324.1" cy="265.7" r=".6" fill="#a86a20" fill-opacity=".75"/>
<circle cx="324.4" cy="249.4" r=".6" fill="#a86a20" fill-opacity=".75"/>
<circle cx="324.6" cy="257.3" r=".6" fill="#a86a20" fill-opacity=".75"/>
<circle cx="324.6" cy="232.1" r=".6" fill="#a86a20" fill-opacity=".75"/>
<circle cx="324.2" cy="246.9" r=".6" fill="#a86a20" fill-opacity=".75"/>
<circle cx="324.2" cy="252.8" r=".6" fill="#a86a20" fill-opacity=".75"/>
<circle cx="324.2" cy="261.3" r=".6" fill="#a86a20" fill-opacity=".75"/>
<circle cx="324.7" cy="241.4" r=".6" fill="#a86a20" fill-opacity=".75"/>
<circle cx="324.2" cy="230.8" r=".6" fill="#a86a20" fill-opacity=".75"/>
<circle cx="324.6" cy="244.4" r=".6" fill="#a86a20" fill-opacity=".75"/>
<circle cx="324.3" cy="264.3" r=".6" fill="#a86a20" fill-opacity=".75"/>
<circle cx="324.1" cy="258.0" r=".6" fill="#a86a20" fill-opacity=".75"/>
<circle cx="324.3" cy="245.8" r=".6" fill="#a86a20" fill-opacity=".75"/>
<circle cx="324.5" cy="248.5" r=".6" fill="#a86a20" fill-opacity=".75"/>
<circle cx="324.5" cy="226.7" r=".6" fill="#a86a20" fill-opacity=".75"/>
<circle cx="324.6" cy="268.0" r=".6" fill="#a86a20" fill-opacity=".75"/>
<circle cx="324.6" cy="224.0" r=".6" fill="#a86a20" fill-opacity=".75"/>
<circle cx="324.2" cy="241.6" r=".6" fill="#a86a20" fill-opacity=".75"/>
<circle cx="324.6" cy="253.8" r=".6" fill="#a86a20" fill-opacity=".75"/>
<circle cx="324.5" cy="240.8" r=".6" fill="#a86a20" fill-opacity=".75"/>
<circle cx="324.3" cy="257.6" r=".6" fill="#a86a20" fill-opacity=".75"/>
<circle cx="324.5" cy="247.5" r=".6" fill="#a86a20" fill-opacity=".75"/>
<circle cx="324.1" cy="246.7" r=".6" fill="#a86a20" fill-opacity=".75"/>
<circle cx="324.4" cy="248.9" r=".6" fill="#a86a20" fill-opacity=".75"/>
<circle cx="324.6" cy="250.1" r=".6" fill="#a86a20" fill-opacity=".75"/>
<circle cx="324.2" cy="249.1" r=".6" fill="#a86a20" fill-opacity=".75"/>
<circle cx="324.4" cy="244.2" r=".6" fill="#a86a20" fill-opacity=".75"/>
<circle cx="324.2" cy="264.4" r=".6" fill="#a86a20" fill-opacity=".75"/>
<circle cx="324.1" cy="237.7" r=".6" fill="#a86a20" fill-opacity=".75"/>
<circle cx="324.2" cy="271.0" r=".6" fill="#a86a20" fill-opacity=".75"/>
<circle cx="324.5" cy="242.8" r=".6" fill="#a86a20" fill-opacity=".75"/>
<circle cx="324.3" cy="250.1" r=".6" fill="#a86a20" fill-opacity=".75"/>
<circle cx="324.4" cy="272.7" r=".6" fill="#a86a20" fill-opacity=".75"/>
<circle cx="324.7" cy="244.3" r=".6" fill="#a86a20" fill-opacity=".75"/>
<circle cx="324.1" cy="229.4" r=".6" fill="#a86a20" fill-opacity=".75"/>
<circle cx="324.4" cy="249.6" r=".6" fill="#a86a20" fill-opacity=".75"/>
<circle cx="324.6" cy="261.2" r=".6" fill="#a86a20" fill-opacity=".75"/>
<circle cx="324.2" cy="255.4" r=".6" fill="#a86a20" fill-opacity=".75"/>
<circle cx="324.6" cy="250.5" r=".6" fill="#a86a20" fill-opacity=".75"/>
<circle cx="324.4" cy="247.9" r=".6" fill="#a86a20" fill-opacity=".75"/>
<circle cx="324.2" cy="241.0" r=".6" fill="#a86a20" fill-opacity=".75"/>
<circle cx="324.6" cy="262.5" r=".6" fill="#a86a20" fill-opacity=".75"/>
<circle cx="324.5" cy="242.1" r=".6" fill="#a86a20" fill-opacity=".75"/>
<circle cx="324.2" cy="265.8" r=".6" fill="#a86a20" fill-opacity=".75"/>
<circle cx="324.6" cy="260.2" r=".6" fill="#a86a20" fill-opacity=".75"/>
<circle cx="324.2" cy="250.5" r=".6" fill="#a86a20" fill-opacity=".75"/>
<circle cx="324.3" cy="251.9" r=".6" fill="#a86a20" fill-opacity=".75"/>
<circle cx="324.3" cy="235.4" r=".6" fill="#a86a20" fill-opacity=".75"/>
<circle cx="324.40" cy="222.50" r="0.6" fill="#a86a20"/>
<circle cx="324.40" cy="272.80" r="0.6" fill="#a86a20"/>
<text x="326.7" y="240.40" font-size="8.25" fill="#1a1a1a">0.001</text>
<line x1="356.4" y1="207" x2="356.4" y2="263" stroke="#cbc23c" stroke-width="0.7" stroke-opacity="0.6"/>
<line x1="355.09999999999997" y1="207" x2="357.7" y2="207" stroke="#cbc23c" stroke-width="0.7"/>
<line x1="355.09999999999997" y1="263" x2="357.7" y2="263" stroke="#cbc23c" stroke-width="0.7"/>
<rect x="351.65" y="227.3" width="9.5" height="20.60" fill="#fdf87a" fill-opacity="0.92" stroke="#cbc23c" stroke-width="0.7"/>
<line x1="351.65" y1="237.9" x2="361.15" y2="237.9" stroke="#cbc23c" stroke-width="0.7"/>
<circle cx="356.3" cy="241.9" r=".6" fill="#b0a820" fill-opacity=".75"/>
<circle cx="356.3" cy="258.0" r=".6" fill="#b0a820" fill-opacity=".75"/>
<circle cx="356.1" cy="238.7" r=".6" fill="#b0a820" fill-opacity=".75"/>
<circle cx="356.1" cy="249.2" r=".6" fill="#b0a820" fill-opacity=".75"/>
<circle cx="356.3" cy="251.8" r=".6" fill="#b0a820" fill-opacity=".75"/>
<circle cx="356.3" cy="256.0" r=".6" fill="#b0a820" fill-opacity=".75"/>
<circle cx="356.4" cy="226.0" r=".6" fill="#b0a820" fill-opacity=".75"/>
<circle cx="356.4" cy="237.9" r=".6" fill="#b0a820" fill-opacity=".75"/>
<circle cx="356.1" cy="225.2" r=".6" fill="#b0a820" fill-opacity=".75"/>
<circle cx="356.6" cy="213.6" r=".6" fill="#b0a820" fill-opacity=".75"/>
<circle cx="356.6" cy="228.2" r=".6" fill="#b0a820" fill-opacity=".75"/>
<circle cx="356.3" cy="223.4" r=".6" fill="#b0a820" fill-opacity=".75"/>
<circle cx="356.3" cy="221.8" r=".6" fill="#b0a820" fill-opacity=".75"/>
<circle cx="356.7" cy="246.6" r=".6" fill="#b0a820" fill-opacity=".75"/>
<circle cx="356.5" cy="208.2" r=".6" fill="#b0a820" fill-opacity=".75"/>
<circle cx="356.5" cy="229.3" r=".6" fill="#b0a820" fill-opacity=".75"/>
<circle cx="356.4" cy="262.3" r=".6" fill="#b0a820" fill-opacity=".75"/>
<circle cx="356.4" cy="228.5" r=".6" fill="#b0a820" fill-opacity=".75"/>
<circle cx="356.3" cy="227.3" r=".6" fill="#b0a820" fill-opacity=".75"/>
<circle cx="356.3" cy="250.8" r=".6" fill="#b0a820" fill-opacity=".75"/>
<circle cx="356.7" cy="243.0" r=".6" fill="#b0a820" fill-opacity=".75"/>
<circle cx="356.2" cy="223.4" r=".6" fill="#b0a820" fill-opacity=".75"/>
<circle cx="356.2" cy="239.6" r=".6" fill="#b0a820" fill-opacity=".75"/>
<circle cx="356.1" cy="233.1" r=".6" fill="#b0a820" fill-opacity=".75"/>
<circle cx="356.6" cy="244.6" r=".6" fill="#b0a820" fill-opacity=".75"/>
<circle cx="356.4" cy="222.0" r=".6" fill="#b0a820" fill-opacity=".75"/>
<circle cx="356.3" cy="242.7" r=".6" fill="#b0a820" fill-opacity=".75"/>
<circle cx="356.3" cy="240.7" r=".6" fill="#b0a820" fill-opacity=".75"/>
<circle cx="356.3" cy="242.8" r=".6" fill="#b0a820" fill-opacity=".75"/>
<circle cx="356.7" cy="235.1" r=".6" fill="#b0a820" fill-opacity=".75"/>
<circle cx="356.3" cy="218.8" r=".6" fill="#b0a820" fill-opacity=".75"/>
<circle cx="356.1" cy="255.7" r=".6" fill="#b0a820" fill-opacity=".75"/>
<circle cx="356.2" cy="228.3" r=".6" fill="#b0a820" fill-opacity=".75"/>
<circle cx="356.3" cy="216.0" r=".6" fill="#b0a820" fill-opacity=".75"/>
<circle cx="356.6" cy="240.4" r=".6" fill="#b0a820" fill-opacity=".75"/>
<circle cx="356.1" cy="222.0" r=".6" fill="#b0a820" fill-opacity=".75"/>
<circle cx="356.3" cy="241.1" r=".6" fill="#b0a820" fill-opacity=".75"/>
<circle cx="356.2" cy="237.7" r=".6" fill="#b0a820" fill-opacity=".75"/>
<circle cx="356.3" cy="241.2" r=".6" fill="#b0a820" fill-opacity=".75"/>
<circle cx="356.3" cy="234.9" r=".6" fill="#b0a820" fill-opacity=".75"/>
<circle cx="356.2" cy="227.6" r=".6" fill="#b0a820" fill-opacity=".75"/>
<circle cx="356.5" cy="213.6" r=".6" fill="#b0a820" fill-opacity=".75"/>
<circle cx="356.2" cy="219.5" r=".6" fill="#b0a820" fill-opacity=".75"/>
<circle cx="356.5" cy="233.9" r=".6" fill="#b0a820" fill-opacity=".75"/>
<circle cx="356.6" cy="262.3" r=".6" fill="#b0a820" fill-opacity=".75"/>
<circle cx="356.3" cy="251.2" r=".6" fill="#b0a820" fill-opacity=".75"/>
<circle cx="356.4" cy="244.3" r=".6" fill="#b0a820" fill-opacity=".75"/>
<circle cx="356.6" cy="245.4" r=".6" fill="#b0a820" fill-opacity=".75"/>
<circle cx="356.2" cy="215.9" r=".6" fill="#b0a820" fill-opacity=".75"/>
<circle cx="356.3" cy="211.3" r=".6" fill="#b0a820" fill-opacity=".75"/>
<circle cx="356.3" cy="237.8" r=".6" fill="#b0a820" fill-opacity=".75"/>
<circle cx="356.5" cy="215.8" r=".6" fill="#b0a820" fill-opacity=".75"/>
<circle cx="356.3" cy="235.1" r=".6" fill="#b0a820" fill-opacity=".75"/>
<circle cx="356.1" cy="242.4" r=".6" fill="#b0a820" fill-opacity=".75"/>
<circle cx="356.4" cy="228.2" r=".6" fill="#b0a820" fill-opacity=".75"/>
<circle cx="356.5" cy="228.1" r=".6" fill="#b0a820" fill-opacity=".75"/>
<circle cx="356.1" cy="237.1" r=".6" fill="#b0a820" fill-opacity=".75"/>
<circle cx="356.7" cy="254.9" r=".6" fill="#b0a820" fill-opacity=".75"/>
<circle cx="356.1" cy="220.2" r=".6" fill="#b0a820" fill-opacity=".75"/>
<circle cx="356.3" cy="219.4" r=".6" fill="#b0a820" fill-opacity=".75"/>
<circle cx="356.2" cy="221.8" r=".6" fill="#b0a820" fill-opacity=".75"/>
<circle cx="356.6" cy="242.6" r=".6" fill="#b0a820" fill-opacity=".75"/>
<circle cx="356.2" cy="244.9" r=".6" fill="#b0a820" fill-opacity=".75"/>
<circle cx="356.4" cy="244.2" r=".6" fill="#b0a820" fill-opacity=".75"/>
<circle cx="356.5" cy="223.2" r=".6" fill="#b0a820" fill-opacity=".75"/>
<circle cx="356.5" cy="216.9" r=".6" fill="#b0a820" fill-opacity=".75"/>
<circle cx="356.3" cy="230.3" r=".6" fill="#b0a820" fill-opacity=".75"/>
<circle cx="356.5" cy="237.2" r=".6" fill="#b0a820" fill-opacity=".75"/>
<circle cx="356.6" cy="226.1" r=".6" fill="#b0a820" fill-opacity=".75"/>
<circle cx="356.6" cy="240.0" r=".6" fill="#b0a820" fill-opacity=".75"/>
<circle cx="356.7" cy="224.9" r=".6" fill="#b0a820" fill-opacity=".75"/>
<circle cx="356.4" cy="226.1" r=".6" fill="#b0a820" fill-opacity=".75"/>
<circle cx="356.40" cy="207.30" r="0.6" fill="#b0a820"/>
<circle cx="356.40" cy="262.70" r="0.6" fill="#b0a820"/>
<text x="359.4" y="224.70" font-size="8.25" fill="#1a1a1a">0.001</text>
<line x1="388.6" y1="216.8" x2="388.6" y2="270.8" stroke="#3a9ad8" stroke-width="0.7" stroke-opacity="0.6"/>
<line x1="387.3" y1="216.8" x2="389.90000000000003" y2="216.8" stroke="#3a9ad8" stroke-width="0.7"/>
<line x1="387.3" y1="270.8" x2="389.90000000000003" y2="270.8" stroke="#3a9ad8" stroke-width="0.7"/>
<rect x="383.85" y="234.3" width="9.5" height="21.30" fill="#80d4f5" fill-opacity="0.92" stroke="#3a9ad8" stroke-width="0.7"/>
<line x1="383.85" y1="247.2" x2="393.35" y2="247.2" stroke="#3a9ad8" stroke-width="0.7"/>
<circle cx="388.9" cy="250.9" r=".6" fill="#1a80d0" fill-opacity=".75"/>
<circle cx="388.6" cy="248.6" r=".6" fill="#1a80d0" fill-opacity=".75"/>
<circle cx="388.7" cy="248.8" r=".6" fill="#1a80d0" fill-opacity=".75"/>
<circle cx="388.9" cy="249.5" r=".6" fill="#1a80d0" fill-opacity=".75"/>
<circle cx="388.4" cy="232.4" r=".6" fill="#1a80d0" fill-opacity=".75"/>
<circle cx="388.3" cy="247.5" r=".6" fill="#1a80d0" fill-opacity=".75"/>
<circle cx="388.4" cy="240.4" r=".6" fill="#1a80d0" fill-opacity=".75"/>
<circle cx="388.6" cy="264.5" r=".6" fill="#1a80d0" fill-opacity=".75"/>
<circle cx="388.4" cy="254.1" r=".6" fill="#1a80d0" fill-opacity=".75"/>
<circle cx="388.4" cy="261.2" r=".6" fill="#1a80d0" fill-opacity=".75"/>
<circle cx="388.4" cy="241.6" r=".6" fill="#1a80d0" fill-opacity=".75"/>
<circle cx="388.4" cy="244.5" r=".6" fill="#1a80d0" fill-opacity=".75"/>
<circle cx="388.4" cy="252.2" r=".6" fill="#1a80d0" fill-opacity=".75"/>
<circle cx="388.7" cy="265.6" r=".6" fill="#1a80d0" fill-opacity=".75"/>
<circle cx="388.5" cy="245.1" r=".6" fill="#1a80d0" fill-opacity=".75"/>
<circle cx="388.5" cy="252.7" r=".6" fill="#1a80d0" fill-opacity=".75"/>
<circle cx="388.8" cy="230.6" r=".6" fill="#1a80d0" fill-opacity=".75"/>
<circle cx="388.3" cy="267.2" r=".6" fill="#1a80d0" fill-opacity=".75"/>
<circle cx="388.7" cy="263.3" r=".6" fill="#1a80d0" fill-opacity=".75"/>
<circle cx="388.3" cy="221.5" r=".6" fill="#1a80d0" fill-opacity=".75"/>
<circle cx="388.6" cy="265.4" r=".6" fill="#1a80d0" fill-opacity=".75"/>
<circle cx="388.9" cy="217.3" r=".6" fill="#1a80d0" fill-opacity=".75"/>
<circle cx="388.7" cy="266.2" r=".6" fill="#1a80d0" fill-opacity=".75"/>
<circle cx="388.5" cy="249.1" r=".6" fill="#1a80d0" fill-opacity=".75"/>
<circle cx="388.6" cy="259.1" r=".6" fill="#1a80d0" fill-opacity=".75"/>
<circle cx="388.8" cy="248.4" r=".6" fill="#1a80d0" fill-opacity=".75"/>
<circle cx="388.7" cy="257.8" r=".6" fill="#1a80d0" fill-opacity=".75"/>
<circle cx="388.4" cy="232.0" r=".6" fill="#1a80d0" fill-opacity=".75"/>
<circle cx="388.8" cy="238.9" r=".6" fill="#1a80d0" fill-opacity=".75"/>
<circle cx="388.8" cy="243.3" r=".6" fill="#1a80d0" fill-opacity=".75"/>
<circle cx="388.8" cy="244.3" r=".6" fill="#1a80d0" fill-opacity=".75"/>
<circle cx="388.6" cy="244.3" r=".6" fill="#1a80d0" fill-opacity=".75"/>
<circle cx="388.8" cy="261.1" r=".6" fill="#1a80d0" fill-opacity=".75"/>
<circle cx="388.7" cy="259.8" r=".6" fill="#1a80d0" fill-opacity=".75"/>
<circle cx="388.6" cy="267.5" r=".6" fill="#1a80d0" fill-opacity=".75"/>
<circle cx="388.4" cy="218.5" r=".6" fill="#1a80d0" fill-opacity=".75"/>
<circle cx="388.8" cy="231.6" r=".6" fill="#1a80d0" fill-opacity=".75"/>
<circle cx="388.8" cy="229.7" r=".6" fill="#1a80d0" fill-opacity=".75"/>
<circle cx="388.4" cy="268.3" r=".6" fill="#1a80d0" fill-opacity=".75"/>
<circle cx="388.4" cy="246.2" r=".6" fill="#1a80d0" fill-opacity=".75"/>
<circle cx="388.9" cy="250.6" r=".6" fill="#1a80d0" fill-opacity=".75"/>
<circle cx="388.4" cy="249.3" r=".6" fill="#1a80d0" fill-opacity=".75"/>
<circle cx="388.4" cy="246.6" r=".6" fill="#1a80d0" fill-opacity=".75"/>
<circle cx="388.7" cy="240.1" r=".6" fill="#1a80d0" fill-opacity=".75"/>
<circle cx="388.9" cy="259.3" r=".6" fill="#1a80d0" fill-opacity=".75"/>
<circle cx="388.7" cy="254.9" r=".6" fill="#1a80d0" fill-opacity=".75"/>
<circle cx="388.3" cy="217.5" r=".6" fill="#1a80d0" fill-opacity=".75"/>
<circle cx="388.7" cy="249.9" r=".6" fill="#1a80d0" fill-opacity=".75"/>
<circle cx="388.4" cy="265.4" r=".6" fill="#1a80d0" fill-opacity=".75"/>
<circle cx="388.6" cy="251.6" r=".6" fill="#1a80d0" fill-opacity=".75"/>
<circle cx="388.9" cy="249.7" r=".6" fill="#1a80d0" fill-opacity=".75"/>
<circle cx="388.5" cy="249.1" r=".6" fill="#1a80d0" fill-opacity=".75"/>
<circle cx="388.6" cy="253.0" r=".6" fill="#1a80d0" fill-opacity=".75"/>
<circle cx="388.4" cy="241.7" r=".6" fill="#1a80d0" fill-opacity=".75"/>
<circle cx="388.7" cy="238.3" r=".6" fill="#1a80d0" fill-opacity=".75"/>
<circle cx="388.4" cy="251.5" r=".6" fill="#1a80d0" fill-opacity=".75"/>
<circle cx="388.4" cy="245.8" r=".6" fill="#1a80d0" fill-opacity=".75"/>
<circle cx="388.5" cy="228.7" r=".6" fill="#1a80d0" fill-opacity=".75"/>
<circle cx="388.5" cy="248.0" r=".6" fill="#1a80d0" fill-opacity=".75"/>
<circle cx="388.8" cy="256.2" r=".6" fill="#1a80d0" fill-opacity=".75"/>
<circle cx="388.4" cy="245.7" r=".6" fill="#1a80d0" fill-opacity=".75"/>
<circle cx="388.5" cy="234.7" r=".6" fill="#1a80d0" fill-opacity=".75"/>
<circle cx="388.6" cy="251.5" r=".6" fill="#1a80d0" fill-opacity=".75"/>
<circle cx="388.5" cy="249.2" r=".6" fill="#1a80d0" fill-opacity=".75"/>
<circle cx="388.3" cy="233.2" r=".6" fill="#1a80d0" fill-opacity=".75"/>
<circle cx="388.7" cy="242.0" r=".6" fill="#1a80d0" fill-opacity=".75"/>
<circle cx="388.6" cy="235.9" r=".6" fill="#1a80d0" fill-opacity=".75"/>
<circle cx="388.7" cy="231.0" r=".6" fill="#1a80d0" fill-opacity=".75"/>
<circle cx="388.7" cy="243.6" r=".6" fill="#1a80d0" fill-opacity=".75"/>
<circle cx="388.6" cy="236.1" r=".6" fill="#1a80d0" fill-opacity=".75"/>
<circle cx="388.9" cy="255.4" r=".6" fill="#1a80d0" fill-opacity=".75"/>
<circle cx="388.5" cy="235.4" r=".6" fill="#1a80d0" fill-opacity=".75"/>
<circle cx="388.4" cy="257.3" r=".6" fill="#1a80d0" fill-opacity=".75"/>
<circle cx="388.60" cy="217.10" r="0.6" fill="#1a80d0"/>
<circle cx="388.60" cy="270.50" r="0.6" fill="#1a80d0"/>
<text x="391.4" y="232.20" font-size="8.25" fill="#1a1a1a">0.01</text>
<line x1="367.1" y1="258.4" x2="367.1" y2="318" stroke="#cbc23c" stroke-width="0.7" stroke-opacity="0.6"/>
<line x1="365.8" y1="258.4" x2="368.40000000000003" y2="258.4" stroke="#cbc23c" stroke-width="0.7"/>
<line x1="365.8" y1="318" x2="368.40000000000003" y2="318" stroke="#cbc23c" stroke-width="0.7"/>
<rect x="362.35" y="281.8" width="9.5" height="21.50" fill="#fdf87a" fill-opacity="0.92" stroke="#cbc23c" stroke-width="0.7"/>
<line x1="362.35" y1="292.8" x2="371.85" y2="292.8" stroke="#cbc23c" stroke-width="0.7"/>
<circle cx="367.2" cy="294.4" r=".6" fill="#b0a820" fill-opacity=".75"/>
<circle cx="367.4" cy="292.8" r=".6" fill="#b0a820" fill-opacity=".75"/>
<circle cx="367.0" cy="292.2" r=".6" fill="#b0a820" fill-opacity=".75"/>
<circle cx="366.9" cy="314.7" r=".6" fill="#b0a820" fill-opacity=".75"/>
<circle cx="367.3" cy="295.3" r=".6" fill="#b0a820" fill-opacity=".75"/>
<circle cx="367.3" cy="300.3" r=".6" fill="#b0a820" fill-opacity=".75"/>
<circle cx="367.2" cy="297.1" r=".6" fill="#b0a820" fill-opacity=".75"/>
<circle cx="367.0" cy="290.0" r=".6" fill="#b0a820" fill-opacity=".75"/>
<circle cx="367.0" cy="280.6" r=".6" fill="#b0a820" fill-opacity=".75"/>
<circle cx="367.4" cy="276.8" r=".6" fill="#b0a820" fill-opacity=".75"/>
<circle cx="367.3" cy="293.0" r=".6" fill="#b0a820" fill-opacity=".75"/>
<circle cx="367.4" cy="271.5" r=".6" fill="#b0a820" fill-opacity=".75"/>
<circle cx="366.9" cy="291.4" r=".6" fill="#b0a820" fill-opacity=".75"/>
<circle cx="367.0" cy="274.8" r=".6" fill="#b0a820" fill-opacity=".75"/>
<circle cx="367.2" cy="273.7" r=".6" fill="#b0a820" fill-opacity=".75"/>
<circle cx="367.2" cy="277.5" r=".6" fill="#b0a820" fill-opacity=".75"/>
<circle cx="367.2" cy="304.9" r=".6" fill="#b0a820" fill-opacity=".75"/>
<circle cx="367.1" cy="283.0" r=".6" fill="#b0a820" fill-opacity=".75"/>
<circle cx="366.9" cy="313.0" r=".6" fill="#b0a820" fill-opacity=".75"/>
<circle cx="367.3" cy="283.3" r=".6" fill="#b0a820" fill-opacity=".75"/>
<circle cx="367.1" cy="284.7" r=".6" fill="#b0a820" fill-opacity=".75"/>
<circle cx="367.1" cy="289.4" r=".6" fill="#b0a820" fill-opacity=".75"/>
<circle cx="366.9" cy="273.8" r=".6" fill="#b0a820" fill-opacity=".75"/>
<circle cx="367.1" cy="315.7" r=".6" fill="#b0a820" fill-opacity=".75"/>
<circle cx="367.3" cy="273.5" r=".6" fill="#b0a820" fill-opacity=".75"/>
<circle cx="366.9" cy="289.9" r=".6" fill="#b0a820" fill-opacity=".75"/>
<circle cx="367.1" cy="306.7" r=".6" fill="#b0a820" fill-opacity=".75"/>
<circle cx="367.3" cy="273.8" r=".6" fill="#b0a820" fill-opacity=".75"/>
<circle cx="367.3" cy="269.7" r=".6" fill="#b0a820" fill-opacity=".75"/>
<circle cx="367.3" cy="307.8" r=".6" fill="#b0a820" fill-opacity=".75"/>
<circle cx="367.3" cy="297.0" r=".6" fill="#b0a820" fill-opacity=".75"/>
<circle cx="367.0" cy="299.4" r=".6" fill="#b0a820" fill-opacity=".75"/>
<circle cx="366.9" cy="299.2" r=".6" fill="#b0a820" fill-opacity=".75"/>
<circle cx="367.1" cy="275.0" r=".6" fill="#b0a820" fill-opacity=".75"/>
<circle cx="367.1" cy="315.3" r=".6" fill="#b0a820" fill-opacity=".75"/>
<circle cx="367.4" cy="306.4" r=".6" fill="#b0a820" fill-opacity=".75"/>
<circle cx="367.2" cy="301.2" r=".6" fill="#b0a820" fill-opacity=".75"/>
<circle cx="367.3" cy="275.5" r=".6" fill="#b0a820" fill-opacity=".75"/>
<circle cx="367.3" cy="298.5" r=".6" fill="#b0a820" fill-opacity=".75"/>
<circle cx="367.0" cy="306.9" r=".6" fill="#b0a820" fill-opacity=".75"/>
<circle cx="367.1" cy="312.2" r=".6" fill="#b0a820" fill-opacity=".75"/>
<circle cx="367.0" cy="294.0" r=".6" fill="#b0a820" fill-opacity=".75"/>
<circle cx="367.0" cy="308.1" r=".6" fill="#b0a820" fill-opacity=".75"/>
<circle cx="367.1" cy="303.4" r=".6" fill="#b0a820" fill-opacity=".75"/>
<circle cx="366.8" cy="294.0" r=".6" fill="#b0a820" fill-opacity=".75"/>
<circle cx="367.0" cy="303.8" r=".6" fill="#b0a820" fill-opacity=".75"/>
<circle cx="367.0" cy="315.6" r=".6" fill="#b0a820" fill-opacity=".75"/>
<circle cx="366.9" cy="294.3" r=".6" fill="#b0a820" fill-opacity=".75"/>
<circle cx="366.9" cy="272.1" r=".6" fill="#b0a820" fill-opacity=".75"/>
<circle cx="367.1" cy="269.0" r=".6" fill="#b0a820" fill-opacity=".75"/>
<circle cx="367.0" cy="298.6" r=".6" fill="#b0a820" fill-opacity=".75"/>
<circle cx="366.8" cy="271.5" r=".6" fill="#b0a820" fill-opacity=".75"/>
<circle cx="367.2" cy="278.5" r=".6" fill="#b0a820" fill-opacity=".75"/>
<circle cx="367.0" cy="298.2" r=".6" fill="#b0a820" fill-opacity=".75"/>
<circle cx="367.3" cy="273.5" r=".6" fill="#b0a820" fill-opacity=".75"/>
<circle cx="367.0" cy="305.4" r=".6" fill="#b0a820" fill-opacity=".75"/>
<circle cx="367.4" cy="277.1" r=".6" fill="#b0a820" fill-opacity=".75"/>
<circle cx="366.9" cy="306.6" r=".6" fill="#b0a820" fill-opacity=".75"/>
<circle cx="367.0" cy="317.5" r=".6" fill="#b0a820" fill-opacity=".75"/>
<circle cx="367.2" cy="288.3" r=".6" fill="#b0a820" fill-opacity=".75"/>
<circle cx="367.3" cy="289.9" r=".6" fill="#b0a820" fill-opacity=".75"/>
<circle cx="367.0" cy="298.2" r=".6" fill="#b0a820" fill-opacity=".75"/>
<circle cx="367.3" cy="274.4" r=".6" fill="#b0a820" fill-opacity=".75"/>
<circle cx="367.3" cy="289.8" r=".6" fill="#b0a820" fill-opacity=".75"/>
<circle cx="367.1" cy="313.9" r=".6" fill="#b0a820" fill-opacity=".75"/>
<circle cx="367.1" cy="296.2" r=".6" fill="#b0a820" fill-opacity=".75"/>
<circle cx="367.1" cy="301.6" r=".6" fill="#b0a820" fill-opacity=".75"/>
<circle cx="367.3" cy="278.9" r=".6" fill="#b0a820" fill-opacity=".75"/>
<circle cx="367.1" cy="275.6" r=".6" fill="#b0a820" fill-opacity=".75"/>
<circle cx="367.3" cy="299.6" r=".6" fill="#b0a820" fill-opacity=".75"/>
<circle cx="367.0" cy="280.3" r=".6" fill="#b0a820" fill-opacity=".75"/>
<circle cx="366.8" cy="269.8" r=".6" fill="#b0a820" fill-opacity=".75"/>
<circle cx="367.3" cy="284.2" r=".6" fill="#b0a820" fill-opacity=".75"/>
<circle cx="367.3" cy="274.5" r=".6" fill="#b0a820" fill-opacity=".75"/>
<circle cx="366.8" cy="301.1" r=".6" fill="#b0a820" fill-opacity=".75"/>
<circle cx="367.3" cy="300.4" r=".6" fill="#b0a820" fill-opacity=".75"/>
<circle cx="367.10" cy="258.70" r="0.6" fill="#b0a820"/>
<circle cx="367.10" cy="317.70" r="0.6" fill="#b0a820"/>
<text x="370" y="279.40" font-size="8.25" fill="#1a1a1a">0.01</text>
<line x1="399.2" y1="285.3" x2="399.2" y2="356" stroke="#3a9ad8" stroke-width="0.7" stroke-opacity="0.6"/>
<line x1="397.9" y1="285.3" x2="400.5" y2="285.3" stroke="#3a9ad8" stroke-width="0.7"/>
<line x1="397.9" y1="356" x2="400.5" y2="356" stroke="#3a9ad8" stroke-width="0.7"/>
<rect x="394.45" y="312.1" width="9.5" height="21.80" fill="#80d4f5" fill-opacity="0.92" stroke="#3a9ad8" stroke-width="0.7"/>
<line x1="394.45" y1="322.2" x2="403.95" y2="322.2" stroke="#3a9ad8" stroke-width="0.7"/>
<circle cx="399.4" cy="327.8" r=".6" fill="#1a80d0" fill-opacity=".75"/>
<circle cx="399.2" cy="326.3" r=".6" fill="#1a80d0" fill-opacity=".75"/>
<circle cx="399.3" cy="345.2" r=".6" fill="#1a80d0" fill-opacity=".75"/>
<circle cx="399.2" cy="330.5" r=".6" fill="#1a80d0" fill-opacity=".75"/>
<circle cx="399.2" cy="345.5" r=".6" fill="#1a80d0" fill-opacity=".75"/>
<circle cx="399.3" cy="330.6" r=".6" fill="#1a80d0" fill-opacity=".75"/>
<circle cx="399.4" cy="352.0" r=".6" fill="#1a80d0" fill-opacity=".75"/>
<circle cx="399.0" cy="321.8" r=".6" fill="#1a80d0" fill-opacity=".75"/>
<circle cx="398.9" cy="312.3" r=".6" fill="#1a80d0" fill-opacity=".75"/>
<circle cx="399.5" cy="339.0" r=".6" fill="#1a80d0" fill-opacity=".75"/>
<circle cx="399.1" cy="320.3" r=".6" fill="#1a80d0" fill-opacity=".75"/>
<circle cx="399.1" cy="334.6" r=".6" fill="#1a80d0" fill-opacity=".75"/>
<circle cx="399.2" cy="335.2" r=".6" fill="#1a80d0" fill-opacity=".75"/>
<circle cx="399.2" cy="306.3" r=".6" fill="#1a80d0" fill-opacity=".75"/>
<circle cx="399.4" cy="335.3" r=".6" fill="#1a80d0" fill-opacity=".75"/>
<circle cx="399.4" cy="326.5" r=".6" fill="#1a80d0" fill-opacity=".75"/>
<circle cx="399.0" cy="329.9" r=".6" fill="#1a80d0" fill-opacity=".75"/>
<circle cx="398.9" cy="312.4" r=".6" fill="#1a80d0" fill-opacity=".75"/>
<circle cx="399.2" cy="307.0" r=".6" fill="#1a80d0" fill-opacity=".75"/>
<circle cx="399.2" cy="318.6" r=".6" fill="#1a80d0" fill-opacity=".75"/>
<circle cx="399.4" cy="308.9" r=".6" fill="#1a80d0" fill-opacity=".75"/>
<circle cx="399.0" cy="314.5" r=".6" fill="#1a80d0" fill-opacity=".75"/>
<circle cx="398.9" cy="340.2" r=".6" fill="#1a80d0" fill-opacity=".75"/>
<circle cx="399.1" cy="312.2" r=".6" fill="#1a80d0" fill-opacity=".75"/>
<circle cx="399.2" cy="306.0" r=".6" fill="#1a80d0" fill-opacity=".75"/>
<circle cx="399.1" cy="318.8" r=".6" fill="#1a80d0" fill-opacity=".75"/>
<circle cx="399.1" cy="318.0" r=".6" fill="#1a80d0" fill-opacity=".75"/>
<circle cx="399.3" cy="350.7" r=".6" fill="#1a80d0" fill-opacity=".75"/>
<circle cx="399.2" cy="329.2" r=".6" fill="#1a80d0" fill-opacity=".75"/>
<circle cx="399.5" cy="301.7" r=".6" fill="#1a80d0" fill-opacity=".75"/>
<circle cx="398.9" cy="291.0" r=".6" fill="#1a80d0" fill-opacity=".75"/>
<circle cx="399.2" cy="333.4" r=".6" fill="#1a80d0" fill-opacity=".75"/>
<circle cx="399.4" cy="318.9" r=".6" fill="#1a80d0" fill-opacity=".75"/>
<circle cx="398.9" cy="318.3" r=".6" fill="#1a80d0" fill-opacity=".75"/>
<circle cx="399.5" cy="313.8" r=".6" fill="#1a80d0" fill-opacity=".75"/>
<circle cx="399.2" cy="316.4" r=".6" fill="#1a80d0" fill-opacity=".75"/>
<circle cx="399.3" cy="328.1" r=".6" fill="#1a80d0" fill-opacity=".75"/>
<circle cx="399.3" cy="304.2" r=".6" fill="#1a80d0" fill-opacity=".75"/>
<circle cx="399.4" cy="319.1" r=".6" fill="#1a80d0" fill-opacity=".75"/>
<circle cx="399.0" cy="332.9" r=".6" fill="#1a80d0" fill-opacity=".75"/>
<circle cx="399.0" cy="331.8" r=".6" fill="#1a80d0" fill-opacity=".75"/>
<circle cx="399.0" cy="316.8" r=".6" fill="#1a80d0" fill-opacity=".75"/>
<circle cx="399.1" cy="330.7" r=".6" fill="#1a80d0" fill-opacity=".75"/>
<circle cx="399.4" cy="315.4" r=".6" fill="#1a80d0" fill-opacity=".75"/>
<circle cx="399.3" cy="311.7" r=".6" fill="#1a80d0" fill-opacity=".75"/>
<circle cx="399.3" cy="325.3" r=".6" fill="#1a80d0" fill-opacity=".75"/>
<circle cx="398.9" cy="326.8" r=".6" fill="#1a80d0" fill-opacity=".75"/>
<circle cx="399.0" cy="329.1" r=".6" fill="#1a80d0" fill-opacity=".75"/>
<circle cx="399.2" cy="310.7" r=".6" fill="#1a80d0" fill-opacity=".75"/>
<circle cx="399.0" cy="313.5" r=".6" fill="#1a80d0" fill-opacity=".75"/>
<circle cx="399.4" cy="341.0" r=".6" fill="#1a80d0" fill-opacity=".75"/>
<circle cx="399.0" cy="308.2" r=".6" fill="#1a80d0" fill-opacity=".75"/>
<circle cx="399.4" cy="349.9" r=".6" fill="#1a80d0" fill-opacity=".75"/>
<circle cx="398.9" cy="338.2" r=".6" fill="#1a80d0" fill-opacity=".75"/>
<circle cx="399.1" cy="320.2" r=".6" fill="#1a80d0" fill-opacity=".75"/>
<circle cx="399.2" cy="314.9" r=".6" fill="#1a80d0" fill-opacity=".75"/>
<circle cx="399.0" cy="313.3" r=".6" fill="#1a80d0" fill-opacity=".75"/>
<circle cx="399.2" cy="296.8" r=".6" fill="#1a80d0" fill-opacity=".75"/>
<circle cx="399.3" cy="328.0" r=".6" fill="#1a80d0" fill-opacity=".75"/>
<circle cx="399.0" cy="345.0" r=".6" fill="#1a80d0" fill-opacity=".75"/>
<circle cx="399.5" cy="342.2" r=".6" fill="#1a80d0" fill-opacity=".75"/>
<circle cx="399.2" cy="321.3" r=".6" fill="#1a80d0" fill-opacity=".75"/>
<circle cx="399.4" cy="318.4" r=".6" fill="#1a80d0" fill-opacity=".75"/>
<circle cx="399.2" cy="336.6" r=".6" fill="#1a80d0" fill-opacity=".75"/>
<circle cx="399.2" cy="328.7" r=".6" fill="#1a80d0" fill-opacity=".75"/>
<circle cx="399.4" cy="319.2" r=".6" fill="#1a80d0" fill-opacity=".75"/>
<circle cx="399.0" cy="305.7" r=".6" fill="#1a80d0" fill-opacity=".75"/>
<circle cx="399.0" cy="310.6" r=".6" fill="#1a80d0" fill-opacity=".75"/>
<circle cx="399.4" cy="317.7" r=".6" fill="#1a80d0" fill-opacity=".75"/>
<circle cx="398.9" cy="327.4" r=".6" fill="#1a80d0" fill-opacity=".75"/>
<circle cx="399.1" cy="287.8" r=".6" fill="#1a80d0" fill-opacity=".75"/>
<circle cx="399.5" cy="297.6" r=".6" fill="#1a80d0" fill-opacity=".75"/>
<circle cx="399.1" cy="319.3" r=".6" fill="#1a80d0" fill-opacity=".75"/>
<circle cx="399.2" cy="317.9" r=".6" fill="#1a80d0" fill-opacity=".75"/>
<circle cx="399.0" cy="322.6" r=".6" fill="#1a80d0" fill-opacity=".75"/>
<circle cx="399.4" cy="348.8" r=".6" fill="#1a80d0" fill-opacity=".75"/>
<circle cx="399.2" cy="320.4" r=".6" fill="#1a80d0" fill-opacity=".75"/>
<circle cx="399.0" cy="328.0" r=".6" fill="#1a80d0" fill-opacity=".75"/>
<circle cx="399.3" cy="295.2" r=".6" fill="#1a80d0" fill-opacity=".75"/>
<circle cx="399.2" cy="313.1" r=".6" fill="#1a80d0" fill-opacity=".75"/>
<circle cx="399.20" cy="285.60" r="0.6" fill="#1a80d0"/>
<circle cx="399.20" cy="355.70" r="0.6" fill="#1a80d0"/>
<text x="378" y="342.70" font-size="8.25" fill="#1a1a1a">0.05</text>
<line x1="409.7" y1="374.3" x2="409.7" y2="441.6" stroke="#3a9ad8" stroke-width="0.7" stroke-opacity="0.6"/>
<line x1="408.4" y1="374.3" x2="411.0" y2="374.3" stroke="#3a9ad8" stroke-width="0.7"/>
<line x1="408.4" y1="441.6" x2="411.0" y2="441.6" stroke="#3a9ad8" stroke-width="0.7"/>
<rect x="404.95" y="397.4" width="9.5" height="21.30" fill="#80d4f5" fill-opacity="0.92" stroke="#3a9ad8" stroke-width="0.7"/>
<line x1="404.95" y1="407.5" x2="414.45" y2="407.5" stroke="#3a9ad8" stroke-width="0.7"/>
<circle cx="409.5" cy="426.0" r=".6" fill="#1a80d0" fill-opacity=".75"/>
<circle cx="409.8" cy="411.5" r=".6" fill="#1a80d0" fill-opacity=".75"/>
<circle cx="409.6" cy="421.5" r=".6" fill="#1a80d0" fill-opacity=".75"/>
<circle cx="409.6" cy="422.8" r=".6" fill="#1a80d0" fill-opacity=".75"/>
<circle cx="409.5" cy="402.6" r=".6" fill="#1a80d0" fill-opacity=".75"/>
<circle cx="410.0" cy="399.4" r=".6" fill="#1a80d0" fill-opacity=".75"/>
<circle cx="409.9" cy="392.6" r=".6" fill="#1a80d0" fill-opacity=".75"/>
<circle cx="409.7" cy="433.9" r=".6" fill="#1a80d0" fill-opacity=".75"/>
<circle cx="409.9" cy="411.7" r=".6" fill="#1a80d0" fill-opacity=".75"/>
<circle cx="409.5" cy="413.1" r=".6" fill="#1a80d0" fill-opacity=".75"/>
<circle cx="409.5" cy="388.0" r=".6" fill="#1a80d0" fill-opacity=".75"/>
<circle cx="409.7" cy="408.0" r=".6" fill="#1a80d0" fill-opacity=".75"/>
<circle cx="409.7" cy="417.5" r=".6" fill="#1a80d0" fill-opacity=".75"/>
<circle cx="409.6" cy="424.3" r=".6" fill="#1a80d0" fill-opacity=".75"/>
<circle cx="409.5" cy="412.7" r=".6" fill="#1a80d0" fill-opacity=".75"/>
<circle cx="409.5" cy="422.7" r=".6" fill="#1a80d0" fill-opacity=".75"/>
<circle cx="409.7" cy="409.5" r=".6" fill="#1a80d0" fill-opacity=".75"/>
<circle cx="409.9" cy="439.4" r=".6" fill="#1a80d0" fill-opacity=".75"/>
<circle cx="409.7" cy="411.1" r=".6" fill="#1a80d0" fill-opacity=".75"/>
<circle cx="409.8" cy="412.7" r=".6" fill="#1a80d0" fill-opacity=".75"/>
<circle cx="409.5" cy="387.7" r=".6" fill="#1a80d0" fill-opacity=".75"/>
<circle cx="409.6" cy="407.5" r=".6" fill="#1a80d0" fill-opacity=".75"/>
<circle cx="409.4" cy="398.4" r=".6" fill="#1a80d0" fill-opacity=".75"/>
<circle cx="409.6" cy="392.6" r=".6" fill="#1a80d0" fill-opacity=".75"/>
<circle cx="409.9" cy="419.3" r=".6" fill="#1a80d0" fill-opacity=".75"/>
<circle cx="409.5" cy="425.4" r=".6" fill="#1a80d0" fill-opacity=".75"/>
<circle cx="409.8" cy="418.0" r=".6" fill="#1a80d0" fill-opacity=".75"/>
<circle cx="409.4" cy="412.8" r=".6" fill="#1a80d0" fill-opacity=".75"/>
<circle cx="409.5" cy="383.2" r=".6" fill="#1a80d0" fill-opacity=".75"/>
<circle cx="409.4" cy="381.2" r=".6" fill="#1a80d0" fill-opacity=".75"/>
<circle cx="409.9" cy="389.7" r=".6" fill="#1a80d0" fill-opacity=".75"/>
<circle cx="409.6" cy="391.1" r=".6" fill="#1a80d0" fill-opacity=".75"/>
<circle cx="410.0" cy="414.0" r=".6" fill="#1a80d0" fill-opacity=".75"/>
<circle cx="409.4" cy="391.2" r=".6" fill="#1a80d0" fill-opacity=".75"/>
<circle cx="409.6" cy="422.6" r=".6" fill="#1a80d0" fill-opacity=".75"/>
<circle cx="409.5" cy="401.5" r=".6" fill="#1a80d0" fill-opacity=".75"/>
<circle cx="409.8" cy="408.3" r=".6" fill="#1a80d0" fill-opacity=".75"/>
<circle cx="409.5" cy="433.2" r=".6" fill="#1a80d0" fill-opacity=".75"/>
<circle cx="409.5" cy="402.7" r=".6" fill="#1a80d0" fill-opacity=".75"/>
<circle cx="409.5" cy="414.7" r=".6" fill="#1a80d0" fill-opacity=".75"/>
<circle cx="410.0" cy="386.5" r=".6" fill="#1a80d0" fill-opacity=".75"/>
<circle cx="409.7" cy="412.2" r=".6" fill="#1a80d0" fill-opacity=".75"/>
<circle cx="409.9" cy="390.1" r=".6" fill="#1a80d0" fill-opacity=".75"/>
<circle cx="409.8" cy="429.6" r=".6" fill="#1a80d0" fill-opacity=".75"/>
<circle cx="409.5" cy="393.1" r=".6" fill="#1a80d0" fill-opacity=".75"/>
<circle cx="409.9" cy="386.0" r=".6" fill="#1a80d0" fill-opacity=".75"/>
<circle cx="409.5" cy="385.9" r=".6" fill="#1a80d0" fill-opacity=".75"/>
<circle cx="409.5" cy="404.5" r=".6" fill="#1a80d0" fill-opacity=".75"/>
<circle cx="410.0" cy="393.2" r=".6" fill="#1a80d0" fill-opacity=".75"/>
<circle cx="409.5" cy="395.3" r=".6" fill="#1a80d0" fill-opacity=".75"/>
<circle cx="409.9" cy="384.4" r=".6" fill="#1a80d0" fill-opacity=".75"/>
<circle cx="409.8" cy="439.1" r=".6" fill="#1a80d0" fill-opacity=".75"/>
<circle cx="409.9" cy="394.3" r=".6" fill="#1a80d0" fill-opacity=".75"/>
<circle cx="409.7" cy="414.3" r=".6" fill="#1a80d0" fill-opacity=".75"/>
<circle cx="409.9" cy="387.5" r=".6" fill="#1a80d0" fill-opacity=".75"/>
<circle cx="409.6" cy="414.4" r=".6" fill="#1a80d0" fill-opacity=".75"/>
<circle cx="410.0" cy="376.3" r=".6" fill="#1a80d0" fill-opacity=".75"/>
<circle cx="409.5" cy="400.0" r=".6" fill="#1a80d0" fill-opacity=".75"/>
<circle cx="409.6" cy="434.7" r=".6" fill="#1a80d0" fill-opacity=".75"/>
<circle cx="409.9" cy="402.0" r=".6" fill="#1a80d0" fill-opacity=".75"/>
<circle cx="409.7" cy="408.7" r=".6" fill="#1a80d0" fill-opacity=".75"/>
<circle cx="409.5" cy="417.9" r=".6" fill="#1a80d0" fill-opacity=".75"/>
<circle cx="409.8" cy="409.1" r=".6" fill="#1a80d0" fill-opacity=".75"/>
<circle cx="409.9" cy="403.6" r=".6" fill="#1a80d0" fill-opacity=".75"/>
<circle cx="409.9" cy="392.2" r=".6" fill="#1a80d0" fill-opacity=".75"/>
<circle cx="409.9" cy="392.1" r=".6" fill="#1a80d0" fill-opacity=".75"/>
<circle cx="409.8" cy="401.9" r=".6" fill="#1a80d0" fill-opacity=".75"/>
<circle cx="409.9" cy="411.2" r=".6" fill="#1a80d0" fill-opacity=".75"/>
<circle cx="409.9" cy="396.2" r=".6" fill="#1a80d0" fill-opacity=".75"/>
<circle cx="409.9" cy="425.4" r=".6" fill="#1a80d0" fill-opacity=".75"/>
<circle cx="409.4" cy="425.8" r=".6" fill="#1a80d0" fill-opacity=".75"/>
<circle cx="409.5" cy="408.0" r=".6" fill="#1a80d0" fill-opacity=".75"/>
<circle cx="409.8" cy="413.8" r=".6" fill="#1a80d0" fill-opacity=".75"/>
<circle cx="409.7" cy="392.3" r=".6" fill="#1a80d0" fill-opacity=".75"/>
<circle cx="409.6" cy="401.9" r=".6" fill="#1a80d0" fill-opacity=".75"/>
<circle cx="409.9" cy="416.9" r=".6" fill="#1a80d0" fill-opacity=".75"/>
<circle cx="409.5" cy="397.9" r=".6" fill="#1a80d0" fill-opacity=".75"/>
<circle cx="409.6" cy="398.6" r=".6" fill="#1a80d0" fill-opacity=".75"/>
<circle cx="409.70" cy="374.60" r="0.6" fill="#1a80d0"/>
<circle cx="409.70" cy="441.30" r="0.6" fill="#1a80d0"/>
<text x="395.7" y="395.30" font-size="8.25" fill="#1a1a1a">0.1</text>
<line x1="345.7" y1="430.4" x2="345.7" y2="455.4" stroke="#d85050" stroke-width="0.7" stroke-opacity="0.6"/>
<line x1="344.4" y1="430.4" x2="347.0" y2="430.4" stroke="#d85050" stroke-width="0.7"/>
<line x1="344.4" y1="455.4" x2="347.0" y2="455.4" stroke="#d85050" stroke-width="0.7"/>
<rect x="340.95" y="436.9" width="9.5" height="9.80" fill="#ff7b7b" fill-opacity="0.92" stroke="#d85050" stroke-width="0.7"/>
<line x1="340.95" y1="441.6" x2="350.45" y2="441.6" stroke="#d85050" stroke-width="0.7"/>
<circle cx="345.8" cy="439.2" r=".6" fill="#c83030" fill-opacity=".75"/>
<circle cx="345.9" cy="434.1" r=".6" fill="#c83030" fill-opacity=".75"/>
<circle cx="345.4" cy="449.6" r=".6" fill="#c83030" fill-opacity=".75"/>
<circle cx="345.9" cy="449.2" r=".6" fill="#c83030" fill-opacity=".75"/>
<circle cx="346.0" cy="443.9" r=".6" fill="#c83030" fill-opacity=".75"/>
<circle cx="345.6" cy="446.9" r=".6" fill="#c83030" fill-opacity=".75"/>
<circle cx="345.8" cy="444.1" r=".6" fill="#c83030" fill-opacity=".75"/>
<circle cx="345.7" cy="447.3" r=".6" fill="#c83030" fill-opacity=".75"/>
<circle cx="346.0" cy="437.1" r=".6" fill="#c83030" fill-opacity=".75"/>
<circle cx="345.5" cy="440.7" r=".6" fill="#c83030" fill-opacity=".75"/>
<circle cx="345.7" cy="443.7" r=".6" fill="#c83030" fill-opacity=".75"/>
<circle cx="345.4" cy="437.8" r=".6" fill="#c83030" fill-opacity=".75"/>
<circle cx="345.7" cy="449.5" r=".6" fill="#c83030" fill-opacity=".75"/>
<circle cx="345.6" cy="443.6" r=".6" fill="#c83030" fill-opacity=".75"/>
<circle cx="345.5" cy="436.5" r=".6" fill="#c83030" fill-opacity=".75"/>
<circle cx="345.7" cy="436.9" r=".6" fill="#c83030" fill-opacity=".75"/>
<circle cx="345.9" cy="453.3" r=".6" fill="#c83030" fill-opacity=".75"/>
<circle cx="345.8" cy="440.2" r=".6" fill="#c83030" fill-opacity=".75"/>
<circle cx="345.7" cy="439.1" r=".6" fill="#c83030" fill-opacity=".75"/>
<circle cx="345.8" cy="448.2" r=".6" fill="#c83030" fill-opacity=".75"/>
<circle cx="345.8" cy="439.8" r=".6" fill="#c83030" fill-opacity=".75"/>
<circle cx="345.8" cy="435.3" r=".6" fill="#c83030" fill-opacity=".75"/>
<circle cx="345.9" cy="447.8" r=".6" fill="#c83030" fill-opacity=".75"/>
<circle cx="346.0" cy="434.7" r=".6" fill="#c83030" fill-opacity=".75"/>
<circle cx="345.4" cy="441.7" r=".6" fill="#c83030" fill-opacity=".75"/>
<circle cx="345.7" cy="447.2" r=".6" fill="#c83030" fill-opacity=".75"/>
<circle cx="345.7" cy="432.1" r=".6" fill="#c83030" fill-opacity=".75"/>
<circle cx="345.8" cy="441.7" r=".6" fill="#c83030" fill-opacity=".75"/>
<circle cx="345.6" cy="441.6" r=".6" fill="#c83030" fill-opacity=".75"/>
<circle cx="345.5" cy="439.7" r=".6" fill="#c83030" fill-opacity=".75"/>
<circle cx="345.5" cy="437.1" r=".6" fill="#c83030" fill-opacity=".75"/>
<circle cx="345.4" cy="433.5" r=".6" fill="#c83030" fill-opacity=".75"/>
<circle cx="345.6" cy="436.6" r=".6" fill="#c83030" fill-opacity=".75"/>
<circle cx="345.6" cy="441.4" r=".6" fill="#c83030" fill-opacity=".75"/>
<circle cx="345.9" cy="431.2" r=".6" fill="#c83030" fill-opacity=".75"/>
<circle cx="345.7" cy="439.3" r=".6" fill="#c83030" fill-opacity=".75"/>
<circle cx="346.0" cy="450.4" r=".6" fill="#c83030" fill-opacity=".75"/>
<circle cx="345.8" cy="433.8" r=".6" fill="#c83030" fill-opacity=".75"/>
<circle cx="345.70" cy="430.70" r="0.6" fill="#c83030"/>
<circle cx="345.70" cy="455.10" r="0.6" fill="#c83030"/>
<line x1="377.7" y1="405.1" x2="377.7" y2="457.7" stroke="#cbc23c" stroke-width="0.7" stroke-opacity="0.6"/>
<line x1="376.4" y1="405.1" x2="379.0" y2="405.1" stroke="#cbc23c" stroke-width="0.7"/>
<line x1="376.4" y1="457.7" x2="379.0" y2="457.7" stroke="#cbc23c" stroke-width="0.7"/>
<rect x="372.95" y="425.2" width="9.5" height="18.50" fill="#fdf87a" fill-opacity="0.92" stroke="#cbc23c" stroke-width="0.7"/>
<line x1="372.95" y1="436.2" x2="382.45" y2="436.2" stroke="#cbc23c" stroke-width="0.7"/>
<circle cx="377.6" cy="416.3" r=".6" fill="#b0a820" fill-opacity=".75"/>
<circle cx="377.8" cy="457.2" r=".6" fill="#b0a820" fill-opacity=".75"/>
<circle cx="377.6" cy="431.2" r=".6" fill="#b0a820" fill-opacity=".75"/>
<circle cx="377.9" cy="445.6" r=".6" fill="#b0a820" fill-opacity=".75"/>
<circle cx="377.9" cy="451.5" r=".6" fill="#b0a820" fill-opacity=".75"/>
<circle cx="377.7" cy="431.9" r=".6" fill="#b0a820" fill-opacity=".75"/>
<circle cx="377.9" cy="442.4" r=".6" fill="#b0a820" fill-opacity=".75"/>
<circle cx="377.5" cy="448.0" r=".6" fill="#b0a820" fill-opacity=".75"/>
<circle cx="377.6" cy="455.3" r=".6" fill="#b0a820" fill-opacity=".75"/>
<circle cx="377.6" cy="447.1" r=".6" fill="#b0a820" fill-opacity=".75"/>
<circle cx="378.0" cy="440.0" r=".6" fill="#b0a820" fill-opacity=".75"/>
<circle cx="377.6" cy="444.8" r=".6" fill="#b0a820" fill-opacity=".75"/>
<circle cx="378.0" cy="434.1" r=".6" fill="#b0a820" fill-opacity=".75"/>
<circle cx="377.7" cy="440.1" r=".6" fill="#b0a820" fill-opacity=".75"/>
<circle cx="377.5" cy="447.6" r=".6" fill="#b0a820" fill-opacity=".75"/>
<circle cx="377.6" cy="435.3" r=".6" fill="#b0a820" fill-opacity=".75"/>
<circle cx="378.0" cy="449.9" r=".6" fill="#b0a820" fill-opacity=".75"/>
<circle cx="377.9" cy="435.2" r=".6" fill="#b0a820" fill-opacity=".75"/>
<circle cx="377.7" cy="445.4" r=".6" fill="#b0a820" fill-opacity=".75"/>
<circle cx="377.9" cy="446.4" r=".6" fill="#b0a820" fill-opacity=".75"/>
<circle cx="377.6" cy="419.5" r=".6" fill="#b0a820" fill-opacity=".75"/>
<circle cx="377.7" cy="449.5" r=".6" fill="#b0a820" fill-opacity=".75"/>
<circle cx="377.7" cy="455.0" r=".6" fill="#b0a820" fill-opacity=".75"/>
<circle cx="377.6" cy="425.2" r=".6" fill="#b0a820" fill-opacity=".75"/>
<circle cx="377.6" cy="416.1" r=".6" fill="#b0a820" fill-opacity=".75"/>
<circle cx="377.6" cy="450.8" r=".6" fill="#b0a820" fill-opacity=".75"/>
<circle cx="377.8" cy="427.9" r=".6" fill="#b0a820" fill-opacity=".75"/>
<circle cx="377.4" cy="434.8" r=".6" fill="#b0a820" fill-opacity=".75"/>
<circle cx="377.6" cy="444.4" r=".6" fill="#b0a820" fill-opacity=".75"/>
<circle cx="378.0" cy="420.5" r=".6" fill="#b0a820" fill-opacity=".75"/>
<circle cx="377.4" cy="435.2" r=".6" fill="#b0a820" fill-opacity=".75"/>
<circle cx="377.7" cy="446.4" r=".6" fill="#b0a820" fill-opacity=".75"/>
<circle cx="377.6" cy="436.7" r=".6" fill="#b0a820" fill-opacity=".75"/>
<circle cx="377.9" cy="415.6" r=".6" fill="#b0a820" fill-opacity=".75"/>
<circle cx="377.8" cy="445.2" r=".6" fill="#b0a820" fill-opacity=".75"/>
<circle cx="378.0" cy="443.8" r=".6" fill="#b0a820" fill-opacity=".75"/>
<circle cx="377.9" cy="422.2" r=".6" fill="#b0a820" fill-opacity=".75"/>
<circle cx="377.6" cy="420.5" r=".6" fill="#b0a820" fill-opacity=".75"/>
<circle cx="377.6" cy="457.2" r=".6" fill="#b0a820" fill-opacity=".75"/>
<circle cx="377.6" cy="427.9" r=".6" fill="#b0a820" fill-opacity=".75"/>
<circle cx="377.5" cy="440.6" r=".6" fill="#b0a820" fill-opacity=".75"/>
<circle cx="377.9" cy="424.3" r=".6" fill="#b0a820" fill-opacity=".75"/>
<circle cx="377.8" cy="419.9" r=".6" fill="#b0a820" fill-opacity=".75"/>
<circle cx="377.9" cy="432.9" r=".6" fill="#b0a820" fill-opacity=".75"/>
<circle cx="377.4" cy="444.5" r=".6" fill="#b0a820" fill-opacity=".75"/>
<circle cx="377.6" cy="445.5" r=".6" fill="#b0a820" fill-opacity=".75"/>
<circle cx="377.8" cy="409.4" r=".6" fill="#b0a820" fill-opacity=".75"/>
<circle cx="377.7" cy="435.8" r=".6" fill="#b0a820" fill-opacity=".75"/>
<circle cx="377.6" cy="421.5" r=".6" fill="#b0a820" fill-opacity=".75"/>
<circle cx="377.9" cy="446.4" r=".6" fill="#b0a820" fill-opacity=".75"/>
<circle cx="377.5" cy="442.5" r=".6" fill="#b0a820" fill-opacity=".75"/>
<circle cx="377.8" cy="410.8" r=".6" fill="#b0a820" fill-opacity=".75"/>
<circle cx="377.9" cy="436.6" r=".6" fill="#b0a820" fill-opacity=".75"/>
<circle cx="377.9" cy="420.1" r=".6" fill="#b0a820" fill-opacity=".75"/>
<circle cx="377.8" cy="435.1" r=".6" fill="#b0a820" fill-opacity=".75"/>
<circle cx="377.9" cy="410.8" r=".6" fill="#b0a820" fill-opacity=".75"/>
<circle cx="377.8" cy="450.7" r=".6" fill="#b0a820" fill-opacity=".75"/>
<circle cx="377.8" cy="451.9" r=".6" fill="#b0a820" fill-opacity=".75"/>
<circle cx="377.8" cy="435.4" r=".6" fill="#b0a820" fill-opacity=".75"/>
<circle cx="377.9" cy="441.3" r=".6" fill="#b0a820" fill-opacity=".75"/>
<circle cx="377.5" cy="434.8" r=".6" fill="#b0a820" fill-opacity=".75"/>
<circle cx="377.5" cy="445.6" r=".6" fill="#b0a820" fill-opacity=".75"/>
<circle cx="377.9" cy="419.5" r=".6" fill="#b0a820" fill-opacity=".75"/>
<circle cx="377.4" cy="422.7" r=".6" fill="#b0a820" fill-opacity=".75"/>
<circle cx="377.9" cy="452.6" r=".6" fill="#b0a820" fill-opacity=".75"/>
<circle cx="377.8" cy="435.7" r=".6" fill="#b0a820" fill-opacity=".75"/>
<circle cx="377.5" cy="437.2" r=".6" fill="#b0a820" fill-opacity=".75"/>
<circle cx="377.70" cy="405.40" r="0.6" fill="#b0a820"/>
<circle cx="377.70" cy="457.40" r="0.6" fill="#b0a820"/>
<text x="357.8" y="424.50" font-size="8.25" fill="#1a1a1a">0.05</text>
<line x1="420.2" y1="463.1" x2="420.2" y2="515.2" stroke="#9060c4" stroke-width="0.7" stroke-opacity="0.6"/>
<line x1="418.9" y1="463.1" x2="421.5" y2="463.1" stroke="#9060c4" stroke-width="0.7"/>
<line x1="418.9" y1="515.2" x2="421.5" y2="515.2" stroke="#9060c4" stroke-width="0.7"/>
<rect x="415.45" y="484.1" width="9.5" height="18.00" fill="#b293d2" fill-opacity="0.92" stroke="#9060c4" stroke-width="0.7"/>
<line x1="415.45" y1="492.3" x2="424.95" y2="492.3" stroke="#9060c4" stroke-width="0.7"/>
<circle cx="420.2" cy="491.6" r=".6" fill="#7a40b0" fill-opacity=".75"/>
<circle cx="420.2" cy="496.9" r=".6" fill="#7a40b0" fill-opacity=".75"/>
<circle cx="420.4" cy="493.6" r=".6" fill="#7a40b0" fill-opacity=".75"/>
<circle cx="420.0" cy="488.8" r=".6" fill="#7a40b0" fill-opacity=".75"/>
<circle cx="420.1" cy="495.3" r=".6" fill="#7a40b0" fill-opacity=".75"/>
<circle cx="420.1" cy="510.8" r=".6" fill="#7a40b0" fill-opacity=".75"/>
<circle cx="420.4" cy="483.8" r=".6" fill="#7a40b0" fill-opacity=".75"/>
<circle cx="420.0" cy="488.4" r=".6" fill="#7a40b0" fill-opacity=".75"/>
<circle cx="420.2" cy="505.2" r=".6" fill="#7a40b0" fill-opacity=".75"/>
<circle cx="419.9" cy="471.8" r=".6" fill="#7a40b0" fill-opacity=".75"/>
<circle cx="420.2" cy="492.9" r=".6" fill="#7a40b0" fill-opacity=".75"/>
<circle cx="420.2" cy="489.2" r=".6" fill="#7a40b0" fill-opacity=".75"/>
<circle cx="420.3" cy="509.6" r=".6" fill="#7a40b0" fill-opacity=".75"/>
<circle cx="420.3" cy="499.6" r=".6" fill="#7a40b0" fill-opacity=".75"/>
<circle cx="420.3" cy="479.4" r=".6" fill="#7a40b0" fill-opacity=".75"/>
<circle cx="420.0" cy="501.7" r=".6" fill="#7a40b0" fill-opacity=".75"/>
<circle cx="420.1" cy="503.7" r=".6" fill="#7a40b0" fill-opacity=".75"/>
<circle cx="420.2" cy="497.4" r=".6" fill="#7a40b0" fill-opacity=".75"/>
<circle cx="420.0" cy="491.9" r=".6" fill="#7a40b0" fill-opacity=".75"/>
<circle cx="420.3" cy="472.9" r=".6" fill="#7a40b0" fill-opacity=".75"/>
<circle cx="420.2" cy="498.1" r=".6" fill="#7a40b0" fill-opacity=".75"/>
<circle cx="420.1" cy="487.6" r=".6" fill="#7a40b0" fill-opacity=".75"/>
<circle cx="420.1" cy="499.6" r=".6" fill="#7a40b0" fill-opacity=".75"/>
<circle cx="420.2" cy="499.8" r=".6" fill="#7a40b0" fill-opacity=".75"/>
<circle cx="420.2" cy="512.7" r=".6" fill="#7a40b0" fill-opacity=".75"/>
<circle cx="420.0" cy="499.0" r=".6" fill="#7a40b0" fill-opacity=".75"/>
<circle cx="420.1" cy="512.0" r=".6" fill="#7a40b0" fill-opacity=".75"/>
<circle cx="420.5" cy="473.0" r=".6" fill="#7a40b0" fill-opacity=".75"/>
<circle cx="420.3" cy="484.6" r=".6" fill="#7a40b0" fill-opacity=".75"/>
<circle cx="420.3" cy="482.7" r=".6" fill="#7a40b0" fill-opacity=".75"/>
<circle cx="420.0" cy="491.4" r=".6" fill="#7a40b0" fill-opacity=".75"/>
<circle cx="419.9" cy="487.6" r=".6" fill="#7a40b0" fill-opacity=".75"/>
<circle cx="420.3" cy="506.3" r=".6" fill="#7a40b0" fill-opacity=".75"/>
<circle cx="420.1" cy="476.2" r=".6" fill="#7a40b0" fill-opacity=".75"/>
<circle cx="420.3" cy="487.4" r=".6" fill="#7a40b0" fill-opacity=".75"/>
<circle cx="420.5" cy="498.6" r=".6" fill="#7a40b0" fill-opacity=".75"/>
<circle cx="420.0" cy="490.9" r=".6" fill="#7a40b0" fill-opacity=".75"/>
<circle cx="420.1" cy="496.1" r=".6" fill="#7a40b0" fill-opacity=".75"/>
<circle cx="420.2" cy="511.7" r=".6" fill="#7a40b0" fill-opacity=".75"/>
<circle cx="420.0" cy="478.0" r=".6" fill="#7a40b0" fill-opacity=".75"/>
<circle cx="420.4" cy="498.3" r=".6" fill="#7a40b0" fill-opacity=".75"/>
<circle cx="420.2" cy="497.1" r=".6" fill="#7a40b0" fill-opacity=".75"/>
<circle cx="420.4" cy="490.6" r=".6" fill="#7a40b0" fill-opacity=".75"/>
<circle cx="420.0" cy="467.8" r=".6" fill="#7a40b0" fill-opacity=".75"/>
<circle cx="420.0" cy="496.0" r=".6" fill="#7a40b0" fill-opacity=".75"/>
<circle cx="420.0" cy="477.7" r=".6" fill="#7a40b0" fill-opacity=".75"/>
<circle cx="420.1" cy="486.1" r=".6" fill="#7a40b0" fill-opacity=".75"/>
<circle cx="420.3" cy="496.2" r=".6" fill="#7a40b0" fill-opacity=".75"/>
<circle cx="420.2" cy="479.7" r=".6" fill="#7a40b0" fill-opacity=".75"/>
<circle cx="420.4" cy="490.9" r=".6" fill="#7a40b0" fill-opacity=".75"/>
<circle cx="420.4" cy="479.3" r=".6" fill="#7a40b0" fill-opacity=".75"/>
<circle cx="420.0" cy="493.7" r=".6" fill="#7a40b0" fill-opacity=".75"/>
<circle cx="420.3" cy="493.9" r=".6" fill="#7a40b0" fill-opacity=".75"/>
<circle cx="420.4" cy="491.0" r=".6" fill="#7a40b0" fill-opacity=".75"/>
<circle cx="420.4" cy="493.5" r=".6" fill="#7a40b0" fill-opacity=".75"/>
<circle cx="420.4" cy="488.4" r=".6" fill="#7a40b0" fill-opacity=".75"/>
<circle cx="420.2" cy="493.2" r=".6" fill="#7a40b0" fill-opacity=".75"/>
<circle cx="420.3" cy="502.9" r=".6" fill="#7a40b0" fill-opacity=".75"/>
<circle cx="420.4" cy="497.4" r=".6" fill="#7a40b0" fill-opacity=".75"/>
<circle cx="420.0" cy="473.3" r=".6" fill="#7a40b0" fill-opacity=".75"/>
<circle cx="420.0" cy="494.1" r=".6" fill="#7a40b0" fill-opacity=".75"/>
<circle cx="420.0" cy="503.2" r=".6" fill="#7a40b0" fill-opacity=".75"/>
<circle cx="420.3" cy="485.0" r=".6" fill="#7a40b0" fill-opacity=".75"/>
<circle cx="420.2" cy="498.5" r=".6" fill="#7a40b0" fill-opacity=".75"/>
<circle cx="420.3" cy="498.6" r=".6" fill="#7a40b0" fill-opacity=".75"/>
<circle cx="420.20" cy="463.40" r="0.6" fill="#7a40b0"/>
<circle cx="420.20" cy="514.90" r="0.6" fill="#7a40b0"/>
<line x1="335.4" y1="506.5" x2="335.4" y2="535.5" stroke="#b8843f" stroke-width="0.7" stroke-opacity="0.6"/>
<line x1="334.09999999999997" y1="506.5" x2="336.7" y2="506.5" stroke="#b8843f" stroke-width="0.7"/>
<line x1="334.09999999999997" y1="535.5" x2="336.7" y2="535.5" stroke="#b8843f" stroke-width="0.7"/>
<rect x="330.65" y="519.4" width="9.5" height="7.50" fill="#cba67c" fill-opacity="0.92" stroke="#b8843f" stroke-width="0.7"/>
<line x1="330.65" y1="522.9" x2="340.15" y2="522.9" stroke="#b8843f" stroke-width="0.7"/>
<circle cx="335.4" cy="517.2" r=".6" fill="#a86a20" fill-opacity=".75"/>
<circle cx="335.1" cy="516.3" r=".6" fill="#a86a20" fill-opacity=".75"/>
<circle cx="335.4" cy="522.6" r=".6" fill="#a86a20" fill-opacity=".75"/>
<circle cx="335.3" cy="521.1" r=".6" fill="#a86a20" fill-opacity=".75"/>
<circle cx="335.2" cy="518.8" r=".6" fill="#a86a20" fill-opacity=".75"/>
<circle cx="335.5" cy="515.1" r=".6" fill="#a86a20" fill-opacity=".75"/>
<circle cx="335.2" cy="520.7" r=".6" fill="#a86a20" fill-opacity=".75"/>
<circle cx="335.6" cy="517.0" r=".6" fill="#a86a20" fill-opacity=".75"/>
<circle cx="335.2" cy="521.3" r=".6" fill="#a86a20" fill-opacity=".75"/>
<circle cx="335.7" cy="521.7" r=".6" fill="#a86a20" fill-opacity=".75"/>
<circle cx="335.6" cy="523.6" r=".6" fill="#a86a20" fill-opacity=".75"/>
<circle cx="335.6" cy="528.4" r=".6" fill="#a86a20" fill-opacity=".75"/>
<circle cx="335.1" cy="516.8" r=".6" fill="#a86a20" fill-opacity=".75"/>
<circle cx="335.2" cy="516.1" r=".6" fill="#a86a20" fill-opacity=".75"/>
<circle cx="335.1" cy="532.8" r=".6" fill="#a86a20" fill-opacity=".75"/>
<circle cx="335.1" cy="521.4" r=".6" fill="#a86a20" fill-opacity=".75"/>
<circle cx="335.2" cy="523.7" r=".6" fill="#a86a20" fill-opacity=".75"/>
<circle cx="335.5" cy="516.9" r=".6" fill="#a86a20" fill-opacity=".75"/>
<circle cx="335.7" cy="511.6" r=".6" fill="#a86a20" fill-opacity=".75"/>
<circle cx="335.1" cy="522.6" r=".6" fill="#a86a20" fill-opacity=".75"/>
<circle cx="335.6" cy="526.1" r=".6" fill="#a86a20" fill-opacity=".75"/>
<circle cx="335.5" cy="534.8" r=".6" fill="#a86a20" fill-opacity=".75"/>
<circle cx="335.2" cy="532.0" r=".6" fill="#a86a20" fill-opacity=".75"/>
<circle cx="335.4" cy="524.1" r=".6" fill="#a86a20" fill-opacity=".75"/>
<circle cx="335.2" cy="519.8" r=".6" fill="#a86a20" fill-opacity=".75"/>
<circle cx="335.6" cy="525.6" r=".6" fill="#a86a20" fill-opacity=".75"/>
<circle cx="335.1" cy="511.5" r=".6" fill="#a86a20" fill-opacity=".75"/>
<circle cx="335.6" cy="527.1" r=".6" fill="#a86a20" fill-opacity=".75"/>
<circle cx="335.4" cy="517.2" r=".6" fill="#a86a20" fill-opacity=".75"/>
<circle cx="335.6" cy="517.5" r=".6" fill="#a86a20" fill-opacity=".75"/>
<circle cx="335.1" cy="517.8" r=".6" fill="#a86a20" fill-opacity=".75"/>
<circle cx="335.3" cy="529.5" r=".6" fill="#a86a20" fill-opacity=".75"/>
<circle cx="335.3" cy="525.2" r=".6" fill="#a86a20" fill-opacity=".75"/>
<circle cx="335.1" cy="532.1" r=".6" fill="#a86a20" fill-opacity=".75"/>
<circle cx="335.40" cy="506.80" r="0.6" fill="#a86a20"/>
<circle cx="335.40" cy="535.20" r="0.6" fill="#a86a20"/>
<text x="338.9" y="517.00" font-size="8.25" fill="#1a1a1a">0.01</text>
<line x1="303.4" y1="542.5" x2="303.4" y2="560.7" stroke="#b0a060" stroke-width="0.7" stroke-opacity="0.6"/>
<line x1="302.09999999999997" y1="542.5" x2="304.7" y2="542.5" stroke="#b0a060" stroke-width="0.7"/>
<line x1="302.09999999999997" y1="560.7" x2="304.7" y2="560.7" stroke="#b0a060" stroke-width="0.7"/>
<rect x="298.65" y="548.4" width="9.5" height="5.80" fill="#d5d5d5" fill-opacity="0.92" stroke="#b0a060" stroke-width="0.7"/>
<line x1="298.65" y1="551.3" x2="308.15" y2="551.3" stroke="#b0a060" stroke-width="0.7"/>
<circle cx="303.6" cy="551.6" r=".6" fill="#9a8a40" fill-opacity=".75"/>
<circle cx="303.2" cy="553.1" r=".6" fill="#9a8a40" fill-opacity=".75"/>
<circle cx="303.5" cy="546.9" r=".6" fill="#9a8a40" fill-opacity=".75"/>
<circle cx="303.2" cy="552.5" r=".6" fill="#9a8a40" fill-opacity=".75"/>
<circle cx="303.7" cy="555.7" r=".6" fill="#9a8a40" fill-opacity=".75"/>
<circle cx="303.2" cy="547.5" r=".6" fill="#9a8a40" fill-opacity=".75"/>
<circle cx="303.5" cy="550.2" r=".6" fill="#9a8a40" fill-opacity=".75"/>
<circle cx="303.2" cy="556.2" r=".6" fill="#9a8a40" fill-opacity=".75"/>
<circle cx="303.3" cy="544.5" r=".6" fill="#9a8a40" fill-opacity=".75"/>
<circle cx="303.2" cy="548.9" r=".6" fill="#9a8a40" fill-opacity=".75"/>
<circle cx="303.5" cy="558.2" r=".6" fill="#9a8a40" fill-opacity=".75"/>
<circle cx="303.1" cy="558.6" r=".6" fill="#9a8a40" fill-opacity=".75"/>
<circle cx="303.1" cy="550.3" r=".6" fill="#9a8a40" fill-opacity=".75"/>
<circle cx="303.5" cy="556.3" r=".6" fill="#9a8a40" fill-opacity=".75"/>
<circle cx="303.4" cy="555.6" r=".6" fill="#9a8a40" fill-opacity=".75"/>
<circle cx="303.5" cy="547.1" r=".6" fill="#9a8a40" fill-opacity=".75"/>
<circle cx="303.5" cy="552.5" r=".6" fill="#9a8a40" fill-opacity=".75"/>
<circle cx="303.6" cy="557.3" r=".6" fill="#9a8a40" fill-opacity=".75"/>
<circle cx="303.6" cy="547.8" r=".6" fill="#9a8a40" fill-opacity=".75"/>
<circle cx="303.1" cy="554.9" r=".6" fill="#9a8a40" fill-opacity=".75"/>
<circle cx="303.5" cy="545.5" r=".6" fill="#9a8a40" fill-opacity=".75"/>
<circle cx="303.6" cy="554.0" r=".6" fill="#9a8a40" fill-opacity=".75"/>
<circle cx="303.2" cy="547.6" r=".6" fill="#9a8a40" fill-opacity=".75"/>
<circle cx="303.5" cy="555.6" r=".6" fill="#9a8a40" fill-opacity=".75"/>
<circle cx="303.3" cy="549.7" r=".6" fill="#9a8a40" fill-opacity=".75"/>
<circle cx="303.3" cy="550.1" r=".6" fill="#9a8a40" fill-opacity=".75"/>
<circle cx="303.2" cy="555.1" r=".6" fill="#9a8a40" fill-opacity=".75"/>
<circle cx="303.40" cy="542.80" r="0.6" fill="#9a8a40"/>
<circle cx="303.40" cy="560.40" r="0.6" fill="#9a8a40"/>
<line x1="430.6" y1="209.2" x2="430.6" y2="269.4" stroke="#72b356" stroke-width="0.7" stroke-opacity="0.6"/>
<line x1="429.3" y1="209.2" x2="431.90000000000003" y2="209.2" stroke="#72b356" stroke-width="0.7"/>
<line x1="429.3" y1="269.4" x2="431.90000000000003" y2="269.4" stroke="#72b356" stroke-width="0.7"/>
<rect x="425.85" y="220.3" width="9.5" height="22.60" fill="#c3e5a6" fill-opacity="0.92" stroke="#72b356" stroke-width="0.7"/>
<line x1="425.85" y1="230.9" x2="435.35" y2="230.9" stroke="#72b356" stroke-width="0.7"/>
<circle cx="430.7" cy="247.4" r=".6" fill="#4f9a34" fill-opacity=".75"/>
<circle cx="430.8" cy="256.7" r=".6" fill="#4f9a34" fill-opacity=".75"/>
<circle cx="430.9" cy="219.2" r=".6" fill="#4f9a34" fill-opacity=".75"/>
<circle cx="430.4" cy="231.1" r=".6" fill="#4f9a34" fill-opacity=".75"/>
<circle cx="430.5" cy="217.5" r=".6" fill="#4f9a34" fill-opacity=".75"/>
<circle cx="430.8" cy="242.9" r=".6" fill="#4f9a34" fill-opacity=".75"/>
<circle cx="430.9" cy="232.5" r=".6" fill="#4f9a34" fill-opacity=".75"/>
<circle cx="430.8" cy="217.3" r=".6" fill="#4f9a34" fill-opacity=".75"/>
<circle cx="430.8" cy="256.2" r=".6" fill="#4f9a34" fill-opacity=".75"/>
<circle cx="430.4" cy="236.6" r=".6" fill="#4f9a34" fill-opacity=".75"/>
<circle cx="430.8" cy="211.1" r=".6" fill="#4f9a34" fill-opacity=".75"/>
<circle cx="430.5" cy="221.7" r=".6" fill="#4f9a34" fill-opacity=".75"/>
<circle cx="430.6" cy="252.6" r=".6" fill="#4f9a34" fill-opacity=".75"/>
<circle cx="430.6" cy="240.6" r=".6" fill="#4f9a34" fill-opacity=".75"/>
<circle cx="430.7" cy="228.8" r=".6" fill="#4f9a34" fill-opacity=".75"/>
<circle cx="430.5" cy="221.5" r=".6" fill="#4f9a34" fill-opacity=".75"/>
<circle cx="430.9" cy="252.8" r=".6" fill="#4f9a34" fill-opacity=".75"/>
<circle cx="430.4" cy="217.7" r=".6" fill="#4f9a34" fill-opacity=".75"/>
<circle cx="430.8" cy="234.1" r=".6" fill="#4f9a34" fill-opacity=".75"/>
<circle cx="430.3" cy="244.3" r=".6" fill="#4f9a34" fill-opacity=".75"/>
<circle cx="430.9" cy="229.2" r=".6" fill="#4f9a34" fill-opacity=".75"/>
<circle cx="430.4" cy="257.4" r=".6" fill="#4f9a34" fill-opacity=".75"/>
<circle cx="430.7" cy="240.6" r=".6" fill="#4f9a34" fill-opacity=".75"/>
<circle cx="430.4" cy="230.2" r=".6" fill="#4f9a34" fill-opacity=".75"/>
<circle cx="430.7" cy="230.7" r=".6" fill="#4f9a34" fill-opacity=".75"/>
<circle cx="430.4" cy="234.9" r=".6" fill="#4f9a34" fill-opacity=".75"/>
<circle cx="430.7" cy="228.3" r=".6" fill="#4f9a34" fill-opacity=".75"/>
<circle cx="430.7" cy="210.3" r=".6" fill="#4f9a34" fill-opacity=".75"/>
<circle cx="430.7" cy="217.6" r=".6" fill="#4f9a34" fill-opacity=".75"/>
<circle cx="430.3" cy="228.9" r=".6" fill="#4f9a34" fill-opacity=".75"/>
<circle cx="430.3" cy="236.6" r=".6" fill="#4f9a34" fill-opacity=".75"/>
<circle cx="430.4" cy="224.9" r=".6" fill="#4f9a34" fill-opacity=".75"/>
<circle cx="430.6" cy="238.0" r=".6" fill="#4f9a34" fill-opacity=".75"/>
<circle cx="430.5" cy="256.0" r=".6" fill="#4f9a34" fill-opacity=".75"/>
<circle cx="430.8" cy="226.0" r=".6" fill="#4f9a34" fill-opacity=".75"/>
<circle cx="430.5" cy="234.3" r=".6" fill="#4f9a34" fill-opacity=".75"/>
<circle cx="430.5" cy="237.8" r=".6" fill="#4f9a34" fill-opacity=".75"/>
<circle cx="430.7" cy="224.2" r=".6" fill="#4f9a34" fill-opacity=".75"/>
<circle cx="430.4" cy="214.0" r=".6" fill="#4f9a34" fill-opacity=".75"/>
<circle cx="430.8" cy="244.9" r=".6" fill="#4f9a34" fill-opacity=".75"/>
<circle cx="430.3" cy="224.6" r=".6" fill="#4f9a34" fill-opacity=".75"/>
<circle cx="430.8" cy="236.6" r=".6" fill="#4f9a34" fill-opacity=".75"/>
<circle cx="430.8" cy="220.3" r=".6" fill="#4f9a34" fill-opacity=".75"/>
<circle cx="430.3" cy="224.4" r=".6" fill="#4f9a34" fill-opacity=".75"/>
<circle cx="430.4" cy="219.0" r=".6" fill="#4f9a34" fill-opacity=".75"/>
<circle cx="430.7" cy="239.0" r=".6" fill="#4f9a34" fill-opacity=".75"/>
<circle cx="430.7" cy="225.4" r=".6" fill="#4f9a34" fill-opacity=".75"/>
<circle cx="430.4" cy="225.3" r=".6" fill="#4f9a34" fill-opacity=".75"/>
<circle cx="430.4" cy="221.9" r=".6" fill="#4f9a34" fill-opacity=".75"/>
<circle cx="430.7" cy="247.3" r=".6" fill="#4f9a34" fill-opacity=".75"/>
<circle cx="430.6" cy="229.1" r=".6" fill="#4f9a34" fill-opacity=".75"/>
<circle cx="430.3" cy="231.9" r=".6" fill="#4f9a34" fill-opacity=".75"/>
<circle cx="430.8" cy="236.9" r=".6" fill="#4f9a34" fill-opacity=".75"/>
<circle cx="430.5" cy="260.3" r=".6" fill="#4f9a34" fill-opacity=".75"/>
<circle cx="430.7" cy="262.3" r=".6" fill="#4f9a34" fill-opacity=".75"/>
<circle cx="430.5" cy="249.9" r=".6" fill="#4f9a34" fill-opacity=".75"/>
<circle cx="430.5" cy="253.4" r=".6" fill="#4f9a34" fill-opacity=".75"/>
<circle cx="430.4" cy="222.8" r=".6" fill="#4f9a34" fill-opacity=".75"/>
<circle cx="430.8" cy="229.7" r=".6" fill="#4f9a34" fill-opacity=".75"/>
<circle cx="430.8" cy="227.3" r=".6" fill="#4f9a34" fill-opacity=".75"/>
<circle cx="430.4" cy="246.9" r=".6" fill="#4f9a34" fill-opacity=".75"/>
<circle cx="430.5" cy="235.0" r=".6" fill="#4f9a34" fill-opacity=".75"/>
<circle cx="430.5" cy="241.9" r=".6" fill="#4f9a34" fill-opacity=".75"/>
<circle cx="430.8" cy="219.0" r=".6" fill="#4f9a34" fill-opacity=".75"/>
<circle cx="430.3" cy="216.2" r=".6" fill="#4f9a34" fill-opacity=".75"/>
<circle cx="430.4" cy="214.4" r=".6" fill="#4f9a34" fill-opacity=".75"/>
<circle cx="430.4" cy="248.6" r=".6" fill="#4f9a34" fill-opacity=".75"/>
<circle cx="430.6" cy="234.2" r=".6" fill="#4f9a34" fill-opacity=".75"/>
<circle cx="430.4" cy="229.1" r=".6" fill="#4f9a34" fill-opacity=".75"/>
<circle cx="430.6" cy="223.7" r=".6" fill="#4f9a34" fill-opacity=".75"/>
<circle cx="430.6" cy="236.5" r=".6" fill="#4f9a34" fill-opacity=".75"/>
<circle cx="430.4" cy="241.7" r=".6" fill="#4f9a34" fill-opacity=".75"/>
<circle cx="430.6" cy="245.3" r=".6" fill="#4f9a34" fill-opacity=".75"/>
<circle cx="430.9" cy="237.5" r=".6" fill="#4f9a34" fill-opacity=".75"/>
<circle cx="430.4" cy="224.8" r=".6" fill="#4f9a34" fill-opacity=".75"/>
<circle cx="430.7" cy="228.7" r=".6" fill="#4f9a34" fill-opacity=".75"/>
<circle cx="430.9" cy="217.9" r=".6" fill="#4f9a34" fill-opacity=".75"/>
<circle cx="430.9" cy="236.0" r=".6" fill="#4f9a34" fill-opacity=".75"/>
<circle cx="430.60" cy="209.50" r="0.6" fill="#4f9a34"/>
<circle cx="430.60" cy="269.10" r="0.6" fill="#4f9a34"/>
<circle cx="430.6" cy="279" r="0.8" fill="#4f9a34"/>
<line x1="452" y1="204.4" x2="452" y2="293.9" stroke="#b8843f" stroke-width="0.7" stroke-opacity="0.6"/>
<line x1="450.7" y1="204.4" x2="453.3" y2="204.4" stroke="#b8843f" stroke-width="0.7"/>
<line x1="450.7" y1="293.9" x2="453.3" y2="293.9" stroke="#b8843f" stroke-width="0.7"/>
<rect x="447.25" y="232.9" width="9.5" height="25.70" fill="#cba67c" fill-opacity="0.92" stroke="#b8843f" stroke-width="0.7"/>
<line x1="447.25" y1="240.6" x2="456.75" y2="240.6" stroke="#b8843f" stroke-width="0.7"/>
<circle cx="452.0" cy="233.4" r=".6" fill="#a86a20" fill-opacity=".75"/>
<circle cx="452.2" cy="241.4" r=".6" fill="#a86a20" fill-opacity=".75"/>
<circle cx="451.8" cy="252.2" r=".6" fill="#a86a20" fill-opacity=".75"/>
<circle cx="452.3" cy="253.6" r=".6" fill="#a86a20" fill-opacity=".75"/>
<circle cx="452.0" cy="248.1" r=".6" fill="#a86a20" fill-opacity=".75"/>
<circle cx="452.0" cy="239.7" r=".6" fill="#a86a20" fill-opacity=".75"/>
<circle cx="451.9" cy="233.2" r=".6" fill="#a86a20" fill-opacity=".75"/>
<circle cx="451.9" cy="248.4" r=".6" fill="#a86a20" fill-opacity=".75"/>
<circle cx="451.8" cy="267.6" r=".6" fill="#a86a20" fill-opacity=".75"/>
<circle cx="451.8" cy="262.3" r=".6" fill="#a86a20" fill-opacity=".75"/>
<circle cx="451.7" cy="238.4" r=".6" fill="#a86a20" fill-opacity=".75"/>
<circle cx="451.7" cy="227.5" r=".6" fill="#a86a20" fill-opacity=".75"/>
<circle cx="452.0" cy="221.8" r=".6" fill="#a86a20" fill-opacity=".75"/>
<circle cx="451.8" cy="239.2" r=".6" fill="#a86a20" fill-opacity=".75"/>
<circle cx="452.0" cy="217.0" r=".6" fill="#a86a20" fill-opacity=".75"/>
<circle cx="451.8" cy="218.8" r=".6" fill="#a86a20" fill-opacity=".75"/>
<circle cx="452.2" cy="223.7" r=".6" fill="#a86a20" fill-opacity=".75"/>
<circle cx="452.2" cy="270.1" r=".6" fill="#a86a20" fill-opacity=".75"/>
<circle cx="451.9" cy="230.1" r=".6" fill="#a86a20" fill-opacity=".75"/>
<circle cx="451.8" cy="250.5" r=".6" fill="#a86a20" fill-opacity=".75"/>
<circle cx="452.1" cy="233.7" r=".6" fill="#a86a20" fill-opacity=".75"/>
<circle cx="451.8" cy="247.0" r=".6" fill="#a86a20" fill-opacity=".75"/>
<circle cx="451.7" cy="236.0" r=".6" fill="#a86a20" fill-opacity=".75"/>
<circle cx="451.8" cy="230.9" r=".6" fill="#a86a20" fill-opacity=".75"/>
<circle cx="452.1" cy="244.5" r=".6" fill="#a86a20" fill-opacity=".75"/>
<circle cx="451.9" cy="218.1" r=".6" fill="#a86a20" fill-opacity=".75"/>
<circle cx="452.3" cy="239.3" r=".6" fill="#a86a20" fill-opacity=".75"/>
<circle cx="451.8" cy="237.9" r=".6" fill="#a86a20" fill-opacity=".75"/>
<circle cx="452.3" cy="218.0" r=".6" fill="#a86a20" fill-opacity=".75"/>
<circle cx="452.0" cy="243.9" r=".6" fill="#a86a20" fill-opacity=".75"/>
<circle cx="451.8" cy="267.1" r=".6" fill="#a86a20" fill-opacity=".75"/>
<circle cx="452.2" cy="239.2" r=".6" fill="#a86a20" fill-opacity=".75"/>
<circle cx="452.0" cy="262.9" r=".6" fill="#a86a20" fill-opacity=".75"/>
<circle cx="451.9" cy="247.8" r=".6" fill="#a86a20" fill-opacity=".75"/>
<circle cx="451.9" cy="288.6" r=".6" fill="#a86a20" fill-opacity=".75"/>
<circle cx="451.7" cy="225.0" r=".6" fill="#a86a20" fill-opacity=".75"/>
<circle cx="451.9" cy="264.2" r=".6" fill="#a86a20" fill-opacity=".75"/>
<circle cx="451.7" cy="259.3" r=".6" fill="#a86a20" fill-opacity=".75"/>
<circle cx="452.1" cy="271.0" r=".6" fill="#a86a20" fill-opacity=".75"/>
<circle cx="452.0" cy="239.6" r=".6" fill="#a86a20" fill-opacity=".75"/>
<circle cx="452.1" cy="261.5" r=".6" fill="#a86a20" fill-opacity=".75"/>
<circle cx="451.8" cy="249.8" r=".6" fill="#a86a20" fill-opacity=".75"/>
<circle cx="452.3" cy="251.3" r=".6" fill="#a86a20" fill-opacity=".75"/>
<circle cx="452.0" cy="246.7" r=".6" fill="#a86a20" fill-opacity=".75"/>
<circle cx="452.0" cy="248.9" r=".6" fill="#a86a20" fill-opacity=".75"/>
<circle cx="451.8" cy="245.5" r=".6" fill="#a86a20" fill-opacity=".75"/>
<circle cx="451.8" cy="236.3" r=".6" fill="#a86a20" fill-opacity=".75"/>
<circle cx="451.9" cy="222.7" r=".6" fill="#a86a20" fill-opacity=".75"/>
<circle cx="452.2" cy="229.9" r=".6" fill="#a86a20" fill-opacity=".75"/>
<circle cx="452.3" cy="220.7" r=".6" fill="#a86a20" fill-opacity=".75"/>
<circle cx="451.9" cy="208.5" r=".6" fill="#a86a20" fill-opacity=".75"/>
<circle cx="451.7" cy="258.8" r=".6" fill="#a86a20" fill-opacity=".75"/>
<circle cx="452.2" cy="233.7" r=".6" fill="#a86a20" fill-opacity=".75"/>
<circle cx="451.9" cy="243.4" r=".6" fill="#a86a20" fill-opacity=".75"/>
<circle cx="451.9" cy="242.8" r=".6" fill="#a86a20" fill-opacity=".75"/>
<circle cx="452.0" cy="278.3" r=".6" fill="#a86a20" fill-opacity=".75"/>
<circle cx="452.0" cy="232.7" r=".6" fill="#a86a20" fill-opacity=".75"/>
<circle cx="452.1" cy="260.7" r=".6" fill="#a86a20" fill-opacity=".75"/>
<circle cx="452.0" cy="212.5" r=".6" fill="#a86a20" fill-opacity=".75"/>
<circle cx="452.1" cy="251.2" r=".6" fill="#a86a20" fill-opacity=".75"/>
<circle cx="452.1" cy="250.1" r=".6" fill="#a86a20" fill-opacity=".75"/>
<circle cx="452.3" cy="253.4" r=".6" fill="#a86a20" fill-opacity=".75"/>
<circle cx="452.2" cy="243.3" r=".6" fill="#a86a20" fill-opacity=".75"/>
<circle cx="452.0" cy="247.7" r=".6" fill="#a86a20" fill-opacity=".75"/>
<circle cx="451.9" cy="252.8" r=".6" fill="#a86a20" fill-opacity=".75"/>
<circle cx="451.8" cy="267.2" r=".6" fill="#a86a20" fill-opacity=".75"/>
<circle cx="452.1" cy="225.1" r=".6" fill="#a86a20" fill-opacity=".75"/>
<circle cx="451.7" cy="257.9" r=".6" fill="#a86a20" fill-opacity=".75"/>
<circle cx="452.0" cy="239.1" r=".6" fill="#a86a20" fill-opacity=".75"/>
<circle cx="452.1" cy="214.0" r=".6" fill="#a86a20" fill-opacity=".75"/>
<circle cx="452.0" cy="241.4" r=".6" fill="#a86a20" fill-opacity=".75"/>
<circle cx="452.1" cy="238.1" r=".6" fill="#a86a20" fill-opacity=".75"/>
<circle cx="451.8" cy="233.6" r=".6" fill="#a86a20" fill-opacity=".75"/>
<circle cx="452.3" cy="214.0" r=".6" fill="#a86a20" fill-opacity=".75"/>
<circle cx="452.0" cy="243.7" r=".6" fill="#a86a20" fill-opacity=".75"/>
<circle cx="452.3" cy="227.1" r=".6" fill="#a86a20" fill-opacity=".75"/>
<circle cx="452.3" cy="245.8" r=".6" fill="#a86a20" fill-opacity=".75"/>
<circle cx="452.2" cy="259.4" r=".6" fill="#a86a20" fill-opacity=".75"/>
<circle cx="451.9" cy="244.0" r=".6" fill="#a86a20" fill-opacity=".75"/>
<circle cx="452.1" cy="271.4" r=".6" fill="#a86a20" fill-opacity=".75"/>
<circle cx="451.8" cy="241.7" r=".6" fill="#a86a20" fill-opacity=".75"/>
<circle cx="451.8" cy="230.7" r=".6" fill="#a86a20" fill-opacity=".75"/>
<circle cx="451.8" cy="240.1" r=".6" fill="#a86a20" fill-opacity=".75"/>
<circle cx="451.9" cy="245.7" r=".6" fill="#a86a20" fill-opacity=".75"/>
<circle cx="452.0" cy="233.9" r=".6" fill="#a86a20" fill-opacity=".75"/>
<circle cx="452.3" cy="244.3" r=".6" fill="#a86a20" fill-opacity=".75"/>
<circle cx="452.1" cy="224.8" r=".6" fill="#a86a20" fill-opacity=".75"/>
<circle cx="452.0" cy="232.3" r=".6" fill="#a86a20" fill-opacity=".75"/>
<circle cx="451.7" cy="250.5" r=".6" fill="#a86a20" fill-opacity=".75"/>
<circle cx="452.1" cy="260.1" r=".6" fill="#a86a20" fill-opacity=".75"/>
<circle cx="452.3" cy="250.3" r=".6" fill="#a86a20" fill-opacity=".75"/>
<circle cx="452.2" cy="256.1" r=".6" fill="#a86a20" fill-opacity=".75"/>
<circle cx="452.1" cy="254.6" r=".6" fill="#a86a20" fill-opacity=".75"/>
<circle cx="452.1" cy="217.2" r=".6" fill="#a86a20" fill-opacity=".75"/>
<circle cx="452.2" cy="252.9" r=".6" fill="#a86a20" fill-opacity=".75"/>
<circle cx="452.00" cy="204.70" r="0.6" fill="#a86a20"/>
<circle cx="452.00" cy="293.60" r="0.6" fill="#a86a20"/>
<text x="453.9" y="267.40" font-size="8.25" fill="#1a1a1a">0.0001</text>
<line x1="462.8" y1="296.7" x2="462.8" y2="366.3" stroke="#b8843f" stroke-width="0.7" stroke-opacity="0.6"/>
<line x1="461.5" y1="296.7" x2="464.1" y2="296.7" stroke="#b8843f" stroke-width="0.7"/>
<line x1="461.5" y1="366.3" x2="464.1" y2="366.3" stroke="#b8843f" stroke-width="0.7"/>
<rect x="458.05" y="314.2" width="9.5" height="25.90" fill="#cba67c" fill-opacity="0.92" stroke="#b8843f" stroke-width="0.7"/>
<line x1="458.05" y1="323.8" x2="467.55" y2="323.8" stroke="#b8843f" stroke-width="0.7"/>
<circle cx="462.7" cy="321.1" r=".6" fill="#a86a20" fill-opacity=".75"/>
<circle cx="462.9" cy="322.5" r=".6" fill="#a86a20" fill-opacity=".75"/>
<circle cx="463.0" cy="359.4" r=".6" fill="#a86a20" fill-opacity=".75"/>
<circle cx="462.6" cy="341.9" r=".6" fill="#a86a20" fill-opacity=".75"/>
<circle cx="462.5" cy="305.7" r=".6" fill="#a86a20" fill-opacity=".75"/>
<circle cx="462.7" cy="317.1" r=".6" fill="#a86a20" fill-opacity=".75"/>
<circle cx="462.6" cy="325.5" r=".6" fill="#a86a20" fill-opacity=".75"/>
<circle cx="462.9" cy="324.6" r=".6" fill="#a86a20" fill-opacity=".75"/>
<circle cx="462.7" cy="337.7" r=".6" fill="#a86a20" fill-opacity=".75"/>
<circle cx="462.9" cy="324.1" r=".6" fill="#a86a20" fill-opacity=".75"/>
<circle cx="462.6" cy="327.6" r=".6" fill="#a86a20" fill-opacity=".75"/>
<circle cx="463.1" cy="323.5" r=".6" fill="#a86a20" fill-opacity=".75"/>
<circle cx="462.7" cy="334.5" r=".6" fill="#a86a20" fill-opacity=".75"/>
<circle cx="462.8" cy="321.8" r=".6" fill="#a86a20" fill-opacity=".75"/>
<circle cx="462.8" cy="315.3" r=".6" fill="#a86a20" fill-opacity=".75"/>
<circle cx="462.7" cy="341.8" r=".6" fill="#a86a20" fill-opacity=".75"/>
<circle cx="462.6" cy="331.4" r=".6" fill="#a86a20" fill-opacity=".75"/>
<circle cx="462.6" cy="326.5" r=".6" fill="#a86a20" fill-opacity=".75"/>
<circle cx="462.7" cy="302.7" r=".6" fill="#a86a20" fill-opacity=".75"/>
<circle cx="463.0" cy="303.0" r=".6" fill="#a86a20" fill-opacity=".75"/>
<circle cx="462.8" cy="321.5" r=".6" fill="#a86a20" fill-opacity=".75"/>
<circle cx="462.6" cy="306.4" r=".6" fill="#a86a20" fill-opacity=".75"/>
<circle cx="462.5" cy="346.0" r=".6" fill="#a86a20" fill-opacity=".75"/>
<circle cx="462.6" cy="313.2" r=".6" fill="#a86a20" fill-opacity=".75"/>
<circle cx="462.9" cy="317.1" r=".6" fill="#a86a20" fill-opacity=".75"/>
<circle cx="462.6" cy="306.1" r=".6" fill="#a86a20" fill-opacity=".75"/>
<circle cx="462.6" cy="333.9" r=".6" fill="#a86a20" fill-opacity=".75"/>
<circle cx="462.9" cy="313.1" r=".6" fill="#a86a20" fill-opacity=".75"/>
<circle cx="463.0" cy="317.4" r=".6" fill="#a86a20" fill-opacity=".75"/>
<circle cx="462.6" cy="327.4" r=".6" fill="#a86a20" fill-opacity=".75"/>
<circle cx="462.9" cy="310.4" r=".6" fill="#a86a20" fill-opacity=".75"/>
<circle cx="462.6" cy="314.2" r=".6" fill="#a86a20" fill-opacity=".75"/>
<circle cx="462.8" cy="319.6" r=".6" fill="#a86a20" fill-opacity=".75"/>
<circle cx="462.6" cy="345.0" r=".6" fill="#a86a20" fill-opacity=".75"/>
<circle cx="462.7" cy="340.9" r=".6" fill="#a86a20" fill-opacity=".75"/>
<circle cx="462.9" cy="302.8" r=".6" fill="#a86a20" fill-opacity=".75"/>
<circle cx="462.5" cy="334.8" r=".6" fill="#a86a20" fill-opacity=".75"/>
<circle cx="462.7" cy="321.6" r=".6" fill="#a86a20" fill-opacity=".75"/>
<circle cx="462.9" cy="310.4" r=".6" fill="#a86a20" fill-opacity=".75"/>
<circle cx="463.0" cy="314.2" r=".6" fill="#a86a20" fill-opacity=".75"/>
<circle cx="462.6" cy="299.1" r=".6" fill="#a86a20" fill-opacity=".75"/>
<circle cx="462.7" cy="313.2" r=".6" fill="#a86a20" fill-opacity=".75"/>
<circle cx="462.6" cy="350.0" r=".6" fill="#a86a20" fill-opacity=".75"/>
<circle cx="463.0" cy="328.7" r=".6" fill="#a86a20" fill-opacity=".75"/>
<circle cx="462.9" cy="356.4" r=".6" fill="#a86a20" fill-opacity=".75"/>
<circle cx="462.7" cy="356.8" r=".6" fill="#a86a20" fill-opacity=".75"/>
<circle cx="462.7" cy="315.0" r=".6" fill="#a86a20" fill-opacity=".75"/>
<circle cx="462.9" cy="322.6" r=".6" fill="#a86a20" fill-opacity=".75"/>
<circle cx="462.6" cy="317.4" r=".6" fill="#a86a20" fill-opacity=".75"/>
<circle cx="462.6" cy="345.8" r=".6" fill="#a86a20" fill-opacity=".75"/>
<circle cx="463.1" cy="330.8" r=".6" fill="#a86a20" fill-opacity=".75"/>
<circle cx="462.6" cy="339.1" r=".6" fill="#a86a20" fill-opacity=".75"/>
<circle cx="462.6" cy="308.9" r=".6" fill="#a86a20" fill-opacity=".75"/>
<circle cx="462.7" cy="300.5" r=".6" fill="#a86a20" fill-opacity=".75"/>
<circle cx="462.9" cy="322.8" r=".6" fill="#a86a20" fill-opacity=".75"/>
<circle cx="462.6" cy="317.7" r=".6" fill="#a86a20" fill-opacity=".75"/>
<circle cx="462.8" cy="341.0" r=".6" fill="#a86a20" fill-opacity=".75"/>
<circle cx="462.7" cy="331.9" r=".6" fill="#a86a20" fill-opacity=".75"/>
<circle cx="462.7" cy="317.1" r=".6" fill="#a86a20" fill-opacity=".75"/>
<circle cx="462.8" cy="312.0" r=".6" fill="#a86a20" fill-opacity=".75"/>
<circle cx="462.7" cy="316.1" r=".6" fill="#a86a20" fill-opacity=".75"/>
<circle cx="463.1" cy="338.2" r=".6" fill="#a86a20" fill-opacity=".75"/>
<circle cx="462.8" cy="317.2" r=".6" fill="#a86a20" fill-opacity=".75"/>
<circle cx="462.9" cy="317.7" r=".6" fill="#a86a20" fill-opacity=".75"/>
<circle cx="463.1" cy="322.9" r=".6" fill="#a86a20" fill-opacity=".75"/>
<circle cx="463.0" cy="329.0" r=".6" fill="#a86a20" fill-opacity=".75"/>
<circle cx="462.9" cy="338.6" r=".6" fill="#a86a20" fill-opacity=".75"/>
<circle cx="462.7" cy="339.4" r=".6" fill="#a86a20" fill-opacity=".75"/>
<circle cx="463.0" cy="352.9" r=".6" fill="#a86a20" fill-opacity=".75"/>
<circle cx="462.8" cy="337.1" r=".6" fill="#a86a20" fill-opacity=".75"/>
<circle cx="462.6" cy="340.3" r=".6" fill="#a86a20" fill-opacity=".75"/>
<circle cx="463.1" cy="333.6" r=".6" fill="#a86a20" fill-opacity=".75"/>
<circle cx="463.0" cy="338.8" r=".6" fill="#a86a20" fill-opacity=".75"/>
<circle cx="462.6" cy="328.8" r=".6" fill="#a86a20" fill-opacity=".75"/>
<circle cx="462.6" cy="329.6" r=".6" fill="#a86a20" fill-opacity=".75"/>
<circle cx="462.8" cy="328.4" r=".6" fill="#a86a20" fill-opacity=".75"/>
<circle cx="462.6" cy="329.6" r=".6" fill="#a86a20" fill-opacity=".75"/>
<circle cx="463.0" cy="313.7" r=".6" fill="#a86a20" fill-opacity=".75"/>
<circle cx="462.6" cy="308.2" r=".6" fill="#a86a20" fill-opacity=".75"/>
<circle cx="462.6" cy="331.6" r=".6" fill="#a86a20" fill-opacity=".75"/>
<circle cx="462.7" cy="333.2" r=".6" fill="#a86a20" fill-opacity=".75"/>
<circle cx="462.9" cy="322.1" r=".6" fill="#a86a20" fill-opacity=".75"/>
<circle cx="462.8" cy="356.1" r=".6" fill="#a86a20" fill-opacity=".75"/>
<circle cx="463.1" cy="297.7" r=".6" fill="#a86a20" fill-opacity=".75"/>
<circle cx="462.8" cy="311.2" r=".6" fill="#a86a20" fill-opacity=".75"/>
<circle cx="462.9" cy="314.2" r=".6" fill="#a86a20" fill-opacity=".75"/>
<circle cx="462.6" cy="322.8" r=".6" fill="#a86a20" fill-opacity=".75"/>
<circle cx="463.1" cy="313.7" r=".6" fill="#a86a20" fill-opacity=".75"/>
<circle cx="462.7" cy="351.3" r=".6" fill="#a86a20" fill-opacity=".75"/>
<circle cx="462.80" cy="297.00" r="0.6" fill="#a86a20"/>
<circle cx="462.80" cy="366.00" r="0.6" fill="#a86a20"/>
<circle cx="462.8" cy="388.5" r="0.8" fill="#a86a20"/>
<text x="465.6" y="312.80" font-size="8.25" fill="#1a1a1a">0.001</text>
<line x1="494.8" y1="323.8" x2="494.8" y2="374.5" stroke="#cbc23c" stroke-width="0.7" stroke-opacity="0.6"/>
<line x1="493.5" y1="323.8" x2="496.1" y2="323.8" stroke="#cbc23c" stroke-width="0.7"/>
<line x1="493.5" y1="374.5" x2="496.1" y2="374.5" stroke="#cbc23c" stroke-width="0.7"/>
<rect x="490.05" y="340.1" width="9.5" height="15.70" fill="#fdf87a" fill-opacity="0.92" stroke="#cbc23c" stroke-width="0.7"/>
<line x1="490.05" y1="348.3" x2="499.55" y2="348.3" stroke="#cbc23c" stroke-width="0.7"/>
<circle cx="494.6" cy="361.6" r=".6" fill="#b0a820" fill-opacity=".75"/>
<circle cx="495.1" cy="347.9" r=".6" fill="#b0a820" fill-opacity=".75"/>
<circle cx="494.6" cy="361.4" r=".6" fill="#b0a820" fill-opacity=".75"/>
<circle cx="494.6" cy="354.6" r=".6" fill="#b0a820" fill-opacity=".75"/>
<circle cx="494.9" cy="340.2" r=".6" fill="#b0a820" fill-opacity=".75"/>
<circle cx="494.8" cy="344.2" r=".6" fill="#b0a820" fill-opacity=".75"/>
<circle cx="495.0" cy="354.6" r=".6" fill="#b0a820" fill-opacity=".75"/>
<circle cx="494.5" cy="358.2" r=".6" fill="#b0a820" fill-opacity=".75"/>
<circle cx="495.0" cy="336.8" r=".6" fill="#b0a820" fill-opacity=".75"/>
<circle cx="495.1" cy="328.8" r=".6" fill="#b0a820" fill-opacity=".75"/>
<circle cx="494.7" cy="332.8" r=".6" fill="#b0a820" fill-opacity=".75"/>
<circle cx="494.7" cy="360.8" r=".6" fill="#b0a820" fill-opacity=".75"/>
<circle cx="494.7" cy="330.8" r=".6" fill="#b0a820" fill-opacity=".75"/>
<circle cx="494.7" cy="340.6" r=".6" fill="#b0a820" fill-opacity=".75"/>
<circle cx="494.6" cy="356.0" r=".6" fill="#b0a820" fill-opacity=".75"/>
<circle cx="494.7" cy="351.9" r=".6" fill="#b0a820" fill-opacity=".75"/>
<circle cx="494.9" cy="373.5" r=".6" fill="#b0a820" fill-opacity=".75"/>
<circle cx="494.6" cy="363.1" r=".6" fill="#b0a820" fill-opacity=".75"/>
<circle cx="495.1" cy="335.6" r=".6" fill="#b0a820" fill-opacity=".75"/>
<circle cx="494.9" cy="360.2" r=".6" fill="#b0a820" fill-opacity=".75"/>
<circle cx="494.7" cy="348.9" r=".6" fill="#b0a820" fill-opacity=".75"/>
<circle cx="494.9" cy="327.0" r=".6" fill="#b0a820" fill-opacity=".75"/>
<circle cx="494.6" cy="332.0" r=".6" fill="#b0a820" fill-opacity=".75"/>
<circle cx="494.8" cy="363.5" r=".6" fill="#b0a820" fill-opacity=".75"/>
<circle cx="494.7" cy="337.2" r=".6" fill="#b0a820" fill-opacity=".75"/>
<circle cx="495.0" cy="366.8" r=".6" fill="#b0a820" fill-opacity=".75"/>
<circle cx="494.6" cy="362.1" r=".6" fill="#b0a820" fill-opacity=".75"/>
<circle cx="495.1" cy="328.8" r=".6" fill="#b0a820" fill-opacity=".75"/>
<circle cx="494.9" cy="347.7" r=".6" fill="#b0a820" fill-opacity=".75"/>
<circle cx="494.5" cy="330.8" r=".6" fill="#b0a820" fill-opacity=".75"/>
<circle cx="494.8" cy="358.3" r=".6" fill="#b0a820" fill-opacity=".75"/>
<circle cx="494.7" cy="337.6" r=".6" fill="#b0a820" fill-opacity=".75"/>
<circle cx="495.0" cy="352.5" r=".6" fill="#b0a820" fill-opacity=".75"/>
<circle cx="494.6" cy="328.4" r=".6" fill="#b0a820" fill-opacity=".75"/>
<circle cx="494.6" cy="343.6" r=".6" fill="#b0a820" fill-opacity=".75"/>
<circle cx="494.7" cy="355.7" r=".6" fill="#b0a820" fill-opacity=".75"/>
<circle cx="494.6" cy="368.8" r=".6" fill="#b0a820" fill-opacity=".75"/>
<circle cx="494.5" cy="351.7" r=".6" fill="#b0a820" fill-opacity=".75"/>
<circle cx="494.6" cy="365.7" r=".6" fill="#b0a820" fill-opacity=".75"/>
<circle cx="494.8" cy="356.2" r=".6" fill="#b0a820" fill-opacity=".75"/>
<circle cx="495.1" cy="331.2" r=".6" fill="#b0a820" fill-opacity=".75"/>
<circle cx="494.7" cy="360.4" r=".6" fill="#b0a820" fill-opacity=".75"/>
<circle cx="494.8" cy="331.7" r=".6" fill="#b0a820" fill-opacity=".75"/>
<circle cx="495.0" cy="330.1" r=".6" fill="#b0a820" fill-opacity=".75"/>
<circle cx="495.0" cy="347.3" r=".6" fill="#b0a820" fill-opacity=".75"/>
<circle cx="494.8" cy="338.3" r=".6" fill="#b0a820" fill-opacity=".75"/>
<circle cx="495.0" cy="360.5" r=".6" fill="#b0a820" fill-opacity=".75"/>
<circle cx="494.8" cy="357.9" r=".6" fill="#b0a820" fill-opacity=".75"/>
<circle cx="495.0" cy="336.3" r=".6" fill="#b0a820" fill-opacity=".75"/>
<circle cx="494.9" cy="349.5" r=".6" fill="#b0a820" fill-opacity=".75"/>
<circle cx="494.7" cy="351.2" r=".6" fill="#b0a820" fill-opacity=".75"/>
<circle cx="495.1" cy="358.9" r=".6" fill="#b0a820" fill-opacity=".75"/>
<circle cx="495.0" cy="346.3" r=".6" fill="#b0a820" fill-opacity=".75"/>
<circle cx="494.5" cy="342.6" r=".6" fill="#b0a820" fill-opacity=".75"/>
<circle cx="494.9" cy="337.9" r=".6" fill="#b0a820" fill-opacity=".75"/>
<circle cx="494.8" cy="341.6" r=".6" fill="#b0a820" fill-opacity=".75"/>
<circle cx="495.0" cy="360.1" r=".6" fill="#b0a820" fill-opacity=".75"/>
<circle cx="495.0" cy="356.1" r=".6" fill="#b0a820" fill-opacity=".75"/>
<circle cx="494.9" cy="343.2" r=".6" fill="#b0a820" fill-opacity=".75"/>
<circle cx="495.0" cy="354.8" r=".6" fill="#b0a820" fill-opacity=".75"/>
<circle cx="494.80" cy="324.10" r="0.6" fill="#b0a820"/>
<circle cx="494.80" cy="374.20" r="0.6" fill="#b0a820"/>
<circle cx="494.8" cy="388.5" r="0.8" fill="#b0a820"/>
<text x="481.2" y="339.40" font-size="8.25" fill="#1a1a1a">0.1</text>
<line x1="515.8" y1="355.8" x2="515.8" y2="424.3" stroke="#3a9ad8" stroke-width="0.7" stroke-opacity="0.6"/>
<line x1="514.5" y1="355.8" x2="517.0999999999999" y2="355.8" stroke="#3a9ad8" stroke-width="0.7"/>
<line x1="514.5" y1="424.3" x2="517.0999999999999" y2="424.3" stroke="#3a9ad8" stroke-width="0.7"/>
<rect x="511.05" y="381" width="9.5" height="19.40" fill="#80d4f5" fill-opacity="0.92" stroke="#3a9ad8" stroke-width="0.7"/>
<line x1="511.05" y1="386.2" x2="520.55" y2="386.2" stroke="#3a9ad8" stroke-width="0.7"/>
<circle cx="516.1" cy="392.0" r=".6" fill="#1a80d0" fill-opacity=".75"/>
<circle cx="515.8" cy="415.4" r=".6" fill="#1a80d0" fill-opacity=".75"/>
<circle cx="516.1" cy="369.7" r=".6" fill="#1a80d0" fill-opacity=".75"/>
<circle cx="515.6" cy="401.6" r=".6" fill="#1a80d0" fill-opacity=".75"/>
<circle cx="515.9" cy="382.1" r=".6" fill="#1a80d0" fill-opacity=".75"/>
<circle cx="515.6" cy="398.4" r=".6" fill="#1a80d0" fill-opacity=".75"/>
<circle cx="515.9" cy="370.0" r=".6" fill="#1a80d0" fill-opacity=".75"/>
<circle cx="515.6" cy="381.3" r=".6" fill="#1a80d0" fill-opacity=".75"/>
<circle cx="515.8" cy="368.8" r=".6" fill="#1a80d0" fill-opacity=".75"/>
<circle cx="516.0" cy="388.8" r=".6" fill="#1a80d0" fill-opacity=".75"/>
<circle cx="515.8" cy="377.4" r=".6" fill="#1a80d0" fill-opacity=".75"/>
<circle cx="515.7" cy="387.9" r=".6" fill="#1a80d0" fill-opacity=".75"/>
<circle cx="516.1" cy="357.3" r=".6" fill="#1a80d0" fill-opacity=".75"/>
<circle cx="515.8" cy="387.0" r=".6" fill="#1a80d0" fill-opacity=".75"/>
<circle cx="516.0" cy="389.2" r=".6" fill="#1a80d0" fill-opacity=".75"/>
<circle cx="515.8" cy="415.2" r=".6" fill="#1a80d0" fill-opacity=".75"/>
<circle cx="516.1" cy="365.2" r=".6" fill="#1a80d0" fill-opacity=".75"/>
<circle cx="515.9" cy="378.8" r=".6" fill="#1a80d0" fill-opacity=".75"/>
<circle cx="516.0" cy="383.3" r=".6" fill="#1a80d0" fill-opacity=".75"/>
<circle cx="515.7" cy="368.9" r=".6" fill="#1a80d0" fill-opacity=".75"/>
<circle cx="515.7" cy="395.2" r=".6" fill="#1a80d0" fill-opacity=".75"/>
<circle cx="515.8" cy="371.1" r=".6" fill="#1a80d0" fill-opacity=".75"/>
<circle cx="515.6" cy="394.5" r=".6" fill="#1a80d0" fill-opacity=".75"/>
<circle cx="515.9" cy="399.3" r=".6" fill="#1a80d0" fill-opacity=".75"/>
<circle cx="515.9" cy="386.7" r=".6" fill="#1a80d0" fill-opacity=".75"/>
<circle cx="515.8" cy="387.1" r=".6" fill="#1a80d0" fill-opacity=".75"/>
<circle cx="515.6" cy="397.2" r=".6" fill="#1a80d0" fill-opacity=".75"/>
<circle cx="515.6" cy="361.4" r=".6" fill="#1a80d0" fill-opacity=".75"/>
<circle cx="515.9" cy="367.4" r=".6" fill="#1a80d0" fill-opacity=".75"/>
<circle cx="515.9" cy="381.8" r=".6" fill="#1a80d0" fill-opacity=".75"/>
<circle cx="515.9" cy="362.7" r=".6" fill="#1a80d0" fill-opacity=".75"/>
<circle cx="516.1" cy="382.3" r=".6" fill="#1a80d0" fill-opacity=".75"/>
<circle cx="515.5" cy="413.4" r=".6" fill="#1a80d0" fill-opacity=".75"/>
<circle cx="515.6" cy="400.8" r=".6" fill="#1a80d0" fill-opacity=".75"/>
<circle cx="515.5" cy="380.9" r=".6" fill="#1a80d0" fill-opacity=".75"/>
<circle cx="515.6" cy="392.5" r=".6" fill="#1a80d0" fill-opacity=".75"/>
<circle cx="515.8" cy="365.5" r=".6" fill="#1a80d0" fill-opacity=".75"/>
<circle cx="515.6" cy="373.6" r=".6" fill="#1a80d0" fill-opacity=".75"/>
<circle cx="515.6" cy="407.2" r=".6" fill="#1a80d0" fill-opacity=".75"/>
<circle cx="515.9" cy="394.0" r=".6" fill="#1a80d0" fill-opacity=".75"/>
<circle cx="515.7" cy="398.7" r=".6" fill="#1a80d0" fill-opacity=".75"/>
<circle cx="515.6" cy="391.5" r=".6" fill="#1a80d0" fill-opacity=".75"/>
<circle cx="515.6" cy="394.8" r=".6" fill="#1a80d0" fill-opacity=".75"/>
<circle cx="515.6" cy="379.4" r=".6" fill="#1a80d0" fill-opacity=".75"/>
<circle cx="515.8" cy="401.8" r=".6" fill="#1a80d0" fill-opacity=".75"/>
<circle cx="515.8" cy="400.5" r=".6" fill="#1a80d0" fill-opacity=".75"/>
<circle cx="515.6" cy="401.5" r=".6" fill="#1a80d0" fill-opacity=".75"/>
<circle cx="515.9" cy="380.7" r=".6" fill="#1a80d0" fill-opacity=".75"/>
<circle cx="515.5" cy="391.6" r=".6" fill="#1a80d0" fill-opacity=".75"/>
<circle cx="515.9" cy="393.1" r=".6" fill="#1a80d0" fill-opacity=".75"/>
<circle cx="515.7" cy="400.5" r=".6" fill="#1a80d0" fill-opacity=".75"/>
<circle cx="515.8" cy="383.2" r=".6" fill="#1a80d0" fill-opacity=".75"/>
<circle cx="515.7" cy="373.0" r=".6" fill="#1a80d0" fill-opacity=".75"/>
<circle cx="515.6" cy="403.8" r=".6" fill="#1a80d0" fill-opacity=".75"/>
<circle cx="515.5" cy="398.5" r=".6" fill="#1a80d0" fill-opacity=".75"/>
<circle cx="516.0" cy="372.1" r=".6" fill="#1a80d0" fill-opacity=".75"/>
<circle cx="515.9" cy="384.4" r=".6" fill="#1a80d0" fill-opacity=".75"/>
<circle cx="516.1" cy="372.9" r=".6" fill="#1a80d0" fill-opacity=".75"/>
<circle cx="515.7" cy="373.7" r=".6" fill="#1a80d0" fill-opacity=".75"/>
<circle cx="515.8" cy="395.1" r=".6" fill="#1a80d0" fill-opacity=".75"/>
<circle cx="516.1" cy="374.0" r=".6" fill="#1a80d0" fill-opacity=".75"/>
<circle cx="515.6" cy="366.2" r=".6" fill="#1a80d0" fill-opacity=".75"/>
<circle cx="516.0" cy="367.5" r=".6" fill="#1a80d0" fill-opacity=".75"/>
<circle cx="515.9" cy="407.2" r=".6" fill="#1a80d0" fill-opacity=".75"/>
<circle cx="516.1" cy="380.4" r=".6" fill="#1a80d0" fill-opacity=".75"/>
<circle cx="515.8" cy="374.4" r=".6" fill="#1a80d0" fill-opacity=".75"/>
<circle cx="515.6" cy="378.7" r=".6" fill="#1a80d0" fill-opacity=".75"/>
<circle cx="516.0" cy="391.4" r=".6" fill="#1a80d0" fill-opacity=".75"/>
<circle cx="515.7" cy="387.2" r=".6" fill="#1a80d0" fill-opacity=".75"/>
<circle cx="515.8" cy="383.0" r=".6" fill="#1a80d0" fill-opacity=".75"/>
<circle cx="516.0" cy="372.5" r=".6" fill="#1a80d0" fill-opacity=".75"/>
<circle cx="515.7" cy="386.6" r=".6" fill="#1a80d0" fill-opacity=".75"/>
<circle cx="515.9" cy="379.6" r=".6" fill="#1a80d0" fill-opacity=".75"/>
<circle cx="515.7" cy="373.4" r=".6" fill="#1a80d0" fill-opacity=".75"/>
<circle cx="515.80" cy="356.10" r="0.6" fill="#1a80d0"/>
<circle cx="515.80" cy="424.00" r="0.6" fill="#1a80d0"/>
<text x="501.8" y="378.90" font-size="8.25" fill="#1a1a1a">0.3</text>
<line x1="537.3" y1="344.6" x2="537.3" y2="409.1" stroke="#9060c4" stroke-width="0.7" stroke-opacity="0.6"/>
<line x1="536.0" y1="344.6" x2="538.5999999999999" y2="344.6" stroke="#9060c4" stroke-width="0.7"/>
<line x1="536.0" y1="409.1" x2="538.5999999999999" y2="409.1" stroke="#9060c4" stroke-width="0.7"/>
<rect x="532.55" y="365.1" width="9.5" height="19.60" fill="#b293d2" fill-opacity="0.92" stroke="#9060c4" stroke-width="0.7"/>
<line x1="532.55" y1="370.4" x2="542.05" y2="370.4" stroke="#9060c4" stroke-width="0.7"/>
<circle cx="537.4" cy="372.3" r=".6" fill="#7a40b0" fill-opacity=".75"/>
<circle cx="537.2" cy="372.9" r=".6" fill="#7a40b0" fill-opacity=".75"/>
<circle cx="537.2" cy="359.4" r=".6" fill="#7a40b0" fill-opacity=".75"/>
<circle cx="537.3" cy="349.5" r=".6" fill="#7a40b0" fill-opacity=".75"/>
<circle cx="537.2" cy="394.7" r=".6" fill="#7a40b0" fill-opacity=".75"/>
<circle cx="537.1" cy="357.1" r=".6" fill="#7a40b0" fill-opacity=".75"/>
<circle cx="537.4" cy="393.8" r=".6" fill="#7a40b0" fill-opacity=".75"/>
<circle cx="537.0" cy="379.8" r=".6" fill="#7a40b0" fill-opacity=".75"/>
<circle cx="537.5" cy="371.7" r=".6" fill="#7a40b0" fill-opacity=".75"/>
<circle cx="537.0" cy="376.7" r=".6" fill="#7a40b0" fill-opacity=".75"/>
<circle cx="537.2" cy="378.7" r=".6" fill="#7a40b0" fill-opacity=".75"/>
<circle cx="537.5" cy="368.0" r=".6" fill="#7a40b0" fill-opacity=".75"/>
<circle cx="537.6" cy="347.4" r=".6" fill="#7a40b0" fill-opacity=".75"/>
<circle cx="537.1" cy="360.1" r=".6" fill="#7a40b0" fill-opacity=".75"/>
<circle cx="537.1" cy="384.2" r=".6" fill="#7a40b0" fill-opacity=".75"/>
<circle cx="537.4" cy="363.4" r=".6" fill="#7a40b0" fill-opacity=".75"/>
<circle cx="537.1" cy="379.4" r=".6" fill="#7a40b0" fill-opacity=".75"/>
<circle cx="537.5" cy="359.3" r=".6" fill="#7a40b0" fill-opacity=".75"/>
<circle cx="537.6" cy="370.8" r=".6" fill="#7a40b0" fill-opacity=".75"/>
<circle cx="537.0" cy="350.8" r=".6" fill="#7a40b0" fill-opacity=".75"/>
<circle cx="537.0" cy="377.4" r=".6" fill="#7a40b0" fill-opacity=".75"/>
<circle cx="537.4" cy="373.0" r=".6" fill="#7a40b0" fill-opacity=".75"/>
<circle cx="537.1" cy="365.6" r=".6" fill="#7a40b0" fill-opacity=".75"/>
<circle cx="537.1" cy="365.2" r=".6" fill="#7a40b0" fill-opacity=".75"/>
<circle cx="537.6" cy="353.6" r=".6" fill="#7a40b0" fill-opacity=".75"/>
<circle cx="537.2" cy="356.7" r=".6" fill="#7a40b0" fill-opacity=".75"/>
<circle cx="537.2" cy="385.8" r=".6" fill="#7a40b0" fill-opacity=".75"/>
<circle cx="537.2" cy="368.4" r=".6" fill="#7a40b0" fill-opacity=".75"/>
<circle cx="537.6" cy="374.7" r=".6" fill="#7a40b0" fill-opacity=".75"/>
<circle cx="537.1" cy="367.9" r=".6" fill="#7a40b0" fill-opacity=".75"/>
<circle cx="537.1" cy="361.7" r=".6" fill="#7a40b0" fill-opacity=".75"/>
<circle cx="537.0" cy="356.3" r=".6" fill="#7a40b0" fill-opacity=".75"/>
<circle cx="537.3" cy="389.5" r=".6" fill="#7a40b0" fill-opacity=".75"/>
<circle cx="537.3" cy="368.8" r=".6" fill="#7a40b0" fill-opacity=".75"/>
<circle cx="537.5" cy="367.0" r=".6" fill="#7a40b0" fill-opacity=".75"/>
<circle cx="537.5" cy="356.3" r=".6" fill="#7a40b0" fill-opacity=".75"/>
<circle cx="537.4" cy="363.1" r=".6" fill="#7a40b0" fill-opacity=".75"/>
<circle cx="537.6" cy="362.8" r=".6" fill="#7a40b0" fill-opacity=".75"/>
<circle cx="537.5" cy="382.9" r=".6" fill="#7a40b0" fill-opacity=".75"/>
<circle cx="537.1" cy="386.4" r=".6" fill="#7a40b0" fill-opacity=".75"/>
<circle cx="537.1" cy="360.9" r=".6" fill="#7a40b0" fill-opacity=".75"/>
<circle cx="537.0" cy="353.9" r=".6" fill="#7a40b0" fill-opacity=".75"/>
<circle cx="537.5" cy="385.3" r=".6" fill="#7a40b0" fill-opacity=".75"/>
<circle cx="537.0" cy="374.3" r=".6" fill="#7a40b0" fill-opacity=".75"/>
<circle cx="537.5" cy="353.4" r=".6" fill="#7a40b0" fill-opacity=".75"/>
<circle cx="537.3" cy="351.9" r=".6" fill="#7a40b0" fill-opacity=".75"/>
<circle cx="537.4" cy="381.5" r=".6" fill="#7a40b0" fill-opacity=".75"/>
<circle cx="537.6" cy="390.4" r=".6" fill="#7a40b0" fill-opacity=".75"/>
<circle cx="537.2" cy="388.5" r=".6" fill="#7a40b0" fill-opacity=".75"/>
<circle cx="537.2" cy="361.7" r=".6" fill="#7a40b0" fill-opacity=".75"/>
<circle cx="537.5" cy="366.7" r=".6" fill="#7a40b0" fill-opacity=".75"/>
<circle cx="537.5" cy="401.6" r=".6" fill="#7a40b0" fill-opacity=".75"/>
<circle cx="537.4" cy="389.6" r=".6" fill="#7a40b0" fill-opacity=".75"/>
<circle cx="537.2" cy="360.2" r=".6" fill="#7a40b0" fill-opacity=".75"/>
<circle cx="537.4" cy="392.6" r=".6" fill="#7a40b0" fill-opacity=".75"/>
<circle cx="537.3" cy="386.0" r=".6" fill="#7a40b0" fill-opacity=".75"/>
<circle cx="537.2" cy="394.5" r=".6" fill="#7a40b0" fill-opacity=".75"/>
<circle cx="537.6" cy="375.7" r=".6" fill="#7a40b0" fill-opacity=".75"/>
<circle cx="537.5" cy="367.6" r=".6" fill="#7a40b0" fill-opacity=".75"/>
<circle cx="537.3" cy="385.0" r=".6" fill="#7a40b0" fill-opacity=".75"/>
<circle cx="537.5" cy="390.2" r=".6" fill="#7a40b0" fill-opacity=".75"/>
<circle cx="537.6" cy="357.3" r=".6" fill="#7a40b0" fill-opacity=".75"/>
<circle cx="537.1" cy="362.5" r=".6" fill="#7a40b0" fill-opacity=".75"/>
<circle cx="537.2" cy="371.5" r=".6" fill="#7a40b0" fill-opacity=".75"/>
<circle cx="537.1" cy="363.7" r=".6" fill="#7a40b0" fill-opacity=".75"/>
<circle cx="537.4" cy="381.2" r=".6" fill="#7a40b0" fill-opacity=".75"/>
<circle cx="537.2" cy="359.1" r=".6" fill="#7a40b0" fill-opacity=".75"/>
<circle cx="537.1" cy="367.8" r=".6" fill="#7a40b0" fill-opacity=".75"/>
<circle cx="537.3" cy="349.6" r=".6" fill="#7a40b0" fill-opacity=".75"/>
<circle cx="537.4" cy="368.6" r=".6" fill="#7a40b0" fill-opacity=".75"/>
<circle cx="537.2" cy="360.5" r=".6" fill="#7a40b0" fill-opacity=".75"/>
<circle cx="537.6" cy="348.0" r=".6" fill="#7a40b0" fill-opacity=".75"/>
<circle cx="537.6" cy="394.1" r=".6" fill="#7a40b0" fill-opacity=".75"/>
<circle cx="537.30" cy="344.90" r="0.6" fill="#7a40b0"/>
<circle cx="537.30" cy="408.80" r="0.6" fill="#7a40b0"/>
<line x1="441.7" y1="365.1" x2="441.7" y2="458.1" stroke="#8a8a8a" stroke-width="0.7" stroke-opacity="0.6"/>
<line x1="440.4" y1="365.1" x2="443.0" y2="365.1" stroke="#8a8a8a" stroke-width="0.7"/>
<line x1="440.4" y1="458.1" x2="443.0" y2="458.1" stroke="#8a8a8a" stroke-width="0.7"/>
<rect x="436.95" y="396.9" width="9.5" height="27.80" fill="#d5d5d5" fill-opacity="0.92" stroke="#8a8a8a" stroke-width="0.7"/>
<line x1="436.95" y1="410.9" x2="446.45" y2="410.9" stroke="#8a8a8a" stroke-width="0.7"/>
<circle cx="441.9" cy="386.9" r=".6" fill="#555555" fill-opacity=".75"/>
<circle cx="441.9" cy="422.8" r=".6" fill="#555555" fill-opacity=".75"/>
<circle cx="441.6" cy="371.3" r=".6" fill="#555555" fill-opacity=".75"/>
<circle cx="442.0" cy="422.1" r=".6" fill="#555555" fill-opacity=".75"/>
<circle cx="441.8" cy="400.7" r=".6" fill="#555555" fill-opacity=".75"/>
<circle cx="441.5" cy="412.7" r=".6" fill="#555555" fill-opacity=".75"/>
<circle cx="442.0" cy="408.0" r=".6" fill="#555555" fill-opacity=".75"/>
<circle cx="441.7" cy="404.7" r=".6" fill="#555555" fill-opacity=".75"/>
<circle cx="441.8" cy="410.2" r=".6" fill="#555555" fill-opacity=".75"/>
<circle cx="441.6" cy="400.0" r=".6" fill="#555555" fill-opacity=".75"/>
<circle cx="441.4" cy="411.1" r=".6" fill="#555555" fill-opacity=".75"/>
<circle cx="441.7" cy="448.7" r=".6" fill="#555555" fill-opacity=".75"/>
<circle cx="441.9" cy="445.3" r=".6" fill="#555555" fill-opacity=".75"/>
<circle cx="441.4" cy="431.8" r=".6" fill="#555555" fill-opacity=".75"/>
<circle cx="441.8" cy="388.3" r=".6" fill="#555555" fill-opacity=".75"/>
<circle cx="441.8" cy="416.0" r=".6" fill="#555555" fill-opacity=".75"/>
<circle cx="441.5" cy="384.4" r=".6" fill="#555555" fill-opacity=".75"/>
<circle cx="441.5" cy="450.8" r=".6" fill="#555555" fill-opacity=".75"/>
<circle cx="441.5" cy="415.0" r=".6" fill="#555555" fill-opacity=".75"/>
<circle cx="441.7" cy="401.3" r=".6" fill="#555555" fill-opacity=".75"/>
<circle cx="442.0" cy="404.5" r=".6" fill="#555555" fill-opacity=".75"/>
<circle cx="441.7" cy="421.4" r=".6" fill="#555555" fill-opacity=".75"/>
<circle cx="441.9" cy="414.4" r=".6" fill="#555555" fill-opacity=".75"/>
<circle cx="441.5" cy="395.7" r=".6" fill="#555555" fill-opacity=".75"/>
<circle cx="442.0" cy="434.5" r=".6" fill="#555555" fill-opacity=".75"/>
<circle cx="441.9" cy="395.2" r=".6" fill="#555555" fill-opacity=".75"/>
<circle cx="441.9" cy="393.6" r=".6" fill="#555555" fill-opacity=".75"/>
<circle cx="441.7" cy="392.3" r=".6" fill="#555555" fill-opacity=".75"/>
<circle cx="441.9" cy="448.1" r=".6" fill="#555555" fill-opacity=".75"/>
<circle cx="441.8" cy="437.3" r=".6" fill="#555555" fill-opacity=".75"/>
<circle cx="441.7" cy="410.4" r=".6" fill="#555555" fill-opacity=".75"/>
<circle cx="441.9" cy="395.9" r=".6" fill="#555555" fill-opacity=".75"/>
<circle cx="441.5" cy="456.2" r=".6" fill="#555555" fill-opacity=".75"/>
<circle cx="441.8" cy="399.9" r=".6" fill="#555555" fill-opacity=".75"/>
<circle cx="441.5" cy="391.1" r=".6" fill="#555555" fill-opacity=".75"/>
<circle cx="441.5" cy="403.9" r=".6" fill="#555555" fill-opacity=".75"/>
<circle cx="441.6" cy="387.3" r=".6" fill="#555555" fill-opacity=".75"/>
<circle cx="441.6" cy="415.4" r=".6" fill="#555555" fill-opacity=".75"/>
<circle cx="441.8" cy="378.0" r=".6" fill="#555555" fill-opacity=".75"/>
<circle cx="441.5" cy="399.3" r=".6" fill="#555555" fill-opacity=".75"/>
<circle cx="442.0" cy="425.8" r=".6" fill="#555555" fill-opacity=".75"/>
<circle cx="442.0" cy="398.0" r=".6" fill="#555555" fill-opacity=".75"/>
<circle cx="442.0" cy="428.2" r=".6" fill="#555555" fill-opacity=".75"/>
<circle cx="441.6" cy="431.9" r=".6" fill="#555555" fill-opacity=".75"/>
<circle cx="441.4" cy="393.8" r=".6" fill="#555555" fill-opacity=".75"/>
<circle cx="441.5" cy="405.6" r=".6" fill="#555555" fill-opacity=".75"/>
<circle cx="441.8" cy="422.9" r=".6" fill="#555555" fill-opacity=".75"/>
<circle cx="441.7" cy="422.7" r=".6" fill="#555555" fill-opacity=".75"/>
<circle cx="441.6" cy="440.6" r=".6" fill="#555555" fill-opacity=".75"/>
<circle cx="442.0" cy="400.9" r=".6" fill="#555555" fill-opacity=".75"/>
<circle cx="441.9" cy="393.7" r=".6" fill="#555555" fill-opacity=".75"/>
<circle cx="441.8" cy="391.7" r=".6" fill="#555555" fill-opacity=".75"/>
<circle cx="441.6" cy="393.0" r=".6" fill="#555555" fill-opacity=".75"/>
<circle cx="442.0" cy="432.5" r=".6" fill="#555555" fill-opacity=".75"/>
<circle cx="441.4" cy="412.9" r=".6" fill="#555555" fill-opacity=".75"/>
<circle cx="441.5" cy="437.0" r=".6" fill="#555555" fill-opacity=".75"/>
<circle cx="441.7" cy="412.5" r=".6" fill="#555555" fill-opacity=".75"/>
<circle cx="441.8" cy="439.8" r=".6" fill="#555555" fill-opacity=".75"/>
<circle cx="441.8" cy="437.4" r=".6" fill="#555555" fill-opacity=".75"/>
<circle cx="441.8" cy="382.4" r=".6" fill="#555555" fill-opacity=".75"/>
<circle cx="441.4" cy="410.6" r=".6" fill="#555555" fill-opacity=".75"/>
<circle cx="441.7" cy="409.7" r=".6" fill="#555555" fill-opacity=".75"/>
<circle cx="441.7" cy="428.4" r=".6" fill="#555555" fill-opacity=".75"/>
<circle cx="441.4" cy="407.5" r=".6" fill="#555555" fill-opacity=".75"/>
<circle cx="441.8" cy="372.5" r=".6" fill="#555555" fill-opacity=".75"/>
<circle cx="441.9" cy="433.3" r=".6" fill="#555555" fill-opacity=".75"/>
<circle cx="441.5" cy="424.7" r=".6" fill="#555555" fill-opacity=".75"/>
<circle cx="441.9" cy="412.0" r=".6" fill="#555555" fill-opacity=".75"/>
<circle cx="441.6" cy="449.2" r=".6" fill="#555555" fill-opacity=".75"/>
<circle cx="441.9" cy="439.4" r=".6" fill="#555555" fill-opacity=".75"/>
<circle cx="442.0" cy="392.8" r=".6" fill="#555555" fill-opacity=".75"/>
<circle cx="441.6" cy="409.1" r=".6" fill="#555555" fill-opacity=".75"/>
<circle cx="441.9" cy="408.4" r=".6" fill="#555555" fill-opacity=".75"/>
<circle cx="442.0" cy="403.6" r=".6" fill="#555555" fill-opacity=".75"/>
<circle cx="441.6" cy="437.1" r=".6" fill="#555555" fill-opacity=".75"/>
<circle cx="441.5" cy="432.7" r=".6" fill="#555555" fill-opacity=".75"/>
<circle cx="442.0" cy="391.0" r=".6" fill="#555555" fill-opacity=".75"/>
<circle cx="442.0" cy="433.7" r=".6" fill="#555555" fill-opacity=".75"/>
<circle cx="441.8" cy="439.7" r=".6" fill="#555555" fill-opacity=".75"/>
<circle cx="441.5" cy="409.7" r=".6" fill="#555555" fill-opacity=".75"/>
<circle cx="441.6" cy="407.0" r=".6" fill="#555555" fill-opacity=".75"/>
<circle cx="441.9" cy="385.1" r=".6" fill="#555555" fill-opacity=".75"/>
<circle cx="441.5" cy="410.5" r=".6" fill="#555555" fill-opacity=".75"/>
<circle cx="441.5" cy="422.3" r=".6" fill="#555555" fill-opacity=".75"/>
<circle cx="441.5" cy="379.5" r=".6" fill="#555555" fill-opacity=".75"/>
<circle cx="441.7" cy="391.4" r=".6" fill="#555555" fill-opacity=".75"/>
<circle cx="441.6" cy="387.3" r=".6" fill="#555555" fill-opacity=".75"/>
<circle cx="441.7" cy="399.0" r=".6" fill="#555555" fill-opacity=".75"/>
<circle cx="441.7" cy="418.0" r=".6" fill="#555555" fill-opacity=".75"/>
<circle cx="441.5" cy="411.6" r=".6" fill="#555555" fill-opacity=".75"/>
<circle cx="441.9" cy="411.6" r=".6" fill="#555555" fill-opacity=".75"/>
<circle cx="441.5" cy="395.6" r=".6" fill="#555555" fill-opacity=".75"/>
<circle cx="441.6" cy="430.5" r=".6" fill="#555555" fill-opacity=".75"/>
<circle cx="441.6" cy="423.8" r=".6" fill="#555555" fill-opacity=".75"/>
<circle cx="441.8" cy="412.3" r=".6" fill="#555555" fill-opacity=".75"/>
<circle cx="441.9" cy="396.4" r=".6" fill="#555555" fill-opacity=".75"/>
<circle cx="442.0" cy="387.6" r=".6" fill="#555555" fill-opacity=".75"/>
<circle cx="441.8" cy="418.0" r=".6" fill="#555555" fill-opacity=".75"/>
<circle cx="441.4" cy="414.2" r=".6" fill="#555555" fill-opacity=".75"/>
<circle cx="441.6" cy="418.0" r=".6" fill="#555555" fill-opacity=".75"/>
<circle cx="441.7" cy="436.2" r=".6" fill="#555555" fill-opacity=".75"/>
<circle cx="441.70" cy="365.40" r="0.6" fill="#555555"/>
<circle cx="441.70" cy="457.80" r="0.6" fill="#555555"/>
<line x1="505.7" y1="423.6" x2="505.7" y2="497.4" stroke="#cbc23c" stroke-width="0.7" stroke-opacity="0.6"/>
<line x1="504.4" y1="423.6" x2="507.0" y2="423.6" stroke="#cbc23c" stroke-width="0.7"/>
<line x1="504.4" y1="497.4" x2="507.0" y2="497.4" stroke="#cbc23c" stroke-width="0.7"/>
<rect x="500.95" y="447.6" width="9.5" height="20.80" fill="#fdf87a" fill-opacity="0.92" stroke="#cbc23c" stroke-width="0.7"/>
<line x1="500.95" y1="456.3" x2="510.45" y2="456.3" stroke="#cbc23c" stroke-width="0.7"/>
<circle cx="505.6" cy="468.1" r=".6" fill="#b0a820" fill-opacity=".75"/>
<circle cx="505.5" cy="453.5" r=".6" fill="#b0a820" fill-opacity=".75"/>
<circle cx="505.6" cy="463.7" r=".6" fill="#b0a820" fill-opacity=".75"/>
<circle cx="505.9" cy="467.2" r=".6" fill="#b0a820" fill-opacity=".75"/>
<circle cx="505.5" cy="451.9" r=".6" fill="#b0a820" fill-opacity=".75"/>
<circle cx="505.4" cy="440.6" r=".6" fill="#b0a820" fill-opacity=".75"/>
<circle cx="505.8" cy="477.8" r=".6" fill="#b0a820" fill-opacity=".75"/>
<circle cx="505.5" cy="477.1" r=".6" fill="#b0a820" fill-opacity=".75"/>
<circle cx="505.7" cy="452.5" r=".6" fill="#b0a820" fill-opacity=".75"/>
<circle cx="505.6" cy="452.5" r=".6" fill="#b0a820" fill-opacity=".75"/>
<circle cx="505.8" cy="476.6" r=".6" fill="#b0a820" fill-opacity=".75"/>
<circle cx="505.7" cy="471.5" r=".6" fill="#b0a820" fill-opacity=".75"/>
<circle cx="505.7" cy="467.6" r=".6" fill="#b0a820" fill-opacity=".75"/>
<circle cx="505.8" cy="476.3" r=".6" fill="#b0a820" fill-opacity=".75"/>
<circle cx="505.4" cy="484.2" r=".6" fill="#b0a820" fill-opacity=".75"/>
<circle cx="505.5" cy="474.4" r=".6" fill="#b0a820" fill-opacity=".75"/>
<circle cx="505.5" cy="448.1" r=".6" fill="#b0a820" fill-opacity=".75"/>
<circle cx="505.8" cy="462.4" r=".6" fill="#b0a820" fill-opacity=".75"/>
<circle cx="505.6" cy="470.2" r=".6" fill="#b0a820" fill-opacity=".75"/>
<circle cx="505.8" cy="455.8" r=".6" fill="#b0a820" fill-opacity=".75"/>
<circle cx="505.8" cy="459.0" r=".6" fill="#b0a820" fill-opacity=".75"/>
<circle cx="505.7" cy="471.7" r=".6" fill="#b0a820" fill-opacity=".75"/>
<circle cx="505.7" cy="459.6" r=".6" fill="#b0a820" fill-opacity=".75"/>
<circle cx="506.0" cy="461.2" r=".6" fill="#b0a820" fill-opacity=".75"/>
<circle cx="505.7" cy="462.5" r=".6" fill="#b0a820" fill-opacity=".75"/>
<circle cx="505.7" cy="452.9" r=".6" fill="#b0a820" fill-opacity=".75"/>
<circle cx="505.7" cy="464.2" r=".6" fill="#b0a820" fill-opacity=".75"/>
<circle cx="505.9" cy="477.8" r=".6" fill="#b0a820" fill-opacity=".75"/>
<circle cx="505.9" cy="446.9" r=".6" fill="#b0a820" fill-opacity=".75"/>
<circle cx="505.7" cy="491.0" r=".6" fill="#b0a820" fill-opacity=".75"/>
<circle cx="505.5" cy="467.5" r=".6" fill="#b0a820" fill-opacity=".75"/>
<circle cx="505.8" cy="470.0" r=".6" fill="#b0a820" fill-opacity=".75"/>
<circle cx="506.0" cy="449.7" r=".6" fill="#b0a820" fill-opacity=".75"/>
<circle cx="505.4" cy="437.1" r=".6" fill="#b0a820" fill-opacity=".75"/>
<circle cx="505.5" cy="450.3" r=".6" fill="#b0a820" fill-opacity=".75"/>
<circle cx="505.6" cy="429.3" r=".6" fill="#b0a820" fill-opacity=".75"/>
<circle cx="505.8" cy="475.5" r=".6" fill="#b0a820" fill-opacity=".75"/>
<circle cx="505.6" cy="463.1" r=".6" fill="#b0a820" fill-opacity=".75"/>
<circle cx="505.8" cy="451.4" r=".6" fill="#b0a820" fill-opacity=".75"/>
<circle cx="505.6" cy="442.4" r=".6" fill="#b0a820" fill-opacity=".75"/>
<circle cx="505.4" cy="472.7" r=".6" fill="#b0a820" fill-opacity=".75"/>
<circle cx="505.5" cy="454.0" r=".6" fill="#b0a820" fill-opacity=".75"/>
<circle cx="505.8" cy="451.7" r=".6" fill="#b0a820" fill-opacity=".75"/>
<circle cx="505.5" cy="425.8" r=".6" fill="#b0a820" fill-opacity=".75"/>
<circle cx="505.5" cy="473.3" r=".6" fill="#b0a820" fill-opacity=".75"/>
<circle cx="505.6" cy="438.7" r=".6" fill="#b0a820" fill-opacity=".75"/>
<circle cx="505.4" cy="455.7" r=".6" fill="#b0a820" fill-opacity=".75"/>
<circle cx="505.6" cy="455.1" r=".6" fill="#b0a820" fill-opacity=".75"/>
<circle cx="505.6" cy="492.7" r=".6" fill="#b0a820" fill-opacity=".75"/>
<circle cx="505.9" cy="479.0" r=".6" fill="#b0a820" fill-opacity=".75"/>
<circle cx="505.8" cy="441.6" r=".6" fill="#b0a820" fill-opacity=".75"/>
<circle cx="506.0" cy="478.0" r=".6" fill="#b0a820" fill-opacity=".75"/>
<circle cx="505.7" cy="452.1" r=".6" fill="#b0a820" fill-opacity=".75"/>
<circle cx="505.7" cy="462.4" r=".6" fill="#b0a820" fill-opacity=".75"/>
<circle cx="505.6" cy="473.9" r=".6" fill="#b0a820" fill-opacity=".75"/>
<circle cx="505.8" cy="443.4" r=".6" fill="#b0a820" fill-opacity=".75"/>
<circle cx="505.5" cy="469.4" r=".6" fill="#b0a820" fill-opacity=".75"/>
<circle cx="505.7" cy="453.2" r=".6" fill="#b0a820" fill-opacity=".75"/>
<circle cx="505.7" cy="474.2" r=".6" fill="#b0a820" fill-opacity=".75"/>
<circle cx="505.7" cy="451.2" r=".6" fill="#b0a820" fill-opacity=".75"/>
<circle cx="505.6" cy="447.8" r=".6" fill="#b0a820" fill-opacity=".75"/>
<circle cx="505.9" cy="459.3" r=".6" fill="#b0a820" fill-opacity=".75"/>
<circle cx="505.7" cy="432.5" r=".6" fill="#b0a820" fill-opacity=".75"/>
<circle cx="505.7" cy="456.5" r=".6" fill="#b0a820" fill-opacity=".75"/>
<circle cx="505.6" cy="491.4" r=".6" fill="#b0a820" fill-opacity=".75"/>
<circle cx="505.8" cy="452.4" r=".6" fill="#b0a820" fill-opacity=".75"/>
<circle cx="505.9" cy="471.4" r=".6" fill="#b0a820" fill-opacity=".75"/>
<circle cx="505.5" cy="431.5" r=".6" fill="#b0a820" fill-opacity=".75"/>
<circle cx="505.7" cy="459.0" r=".6" fill="#b0a820" fill-opacity=".75"/>
<circle cx="505.6" cy="448.0" r=".6" fill="#b0a820" fill-opacity=".75"/>
<circle cx="505.9" cy="466.6" r=".6" fill="#b0a820" fill-opacity=".75"/>
<circle cx="505.5" cy="455.2" r=".6" fill="#b0a820" fill-opacity=".75"/>
<circle cx="505.9" cy="445.9" r=".6" fill="#b0a820" fill-opacity=".75"/>
<circle cx="505.8" cy="443.2" r=".6" fill="#b0a820" fill-opacity=".75"/>
<circle cx="505.8" cy="437.2" r=".6" fill="#b0a820" fill-opacity=".75"/>
<circle cx="505.6" cy="455.5" r=".6" fill="#b0a820" fill-opacity=".75"/>
<circle cx="505.4" cy="461.7" r=".6" fill="#b0a820" fill-opacity=".75"/>
<circle cx="505.8" cy="474.6" r=".6" fill="#b0a820" fill-opacity=".75"/>
<circle cx="506.0" cy="451.9" r=".6" fill="#b0a820" fill-opacity=".75"/>
<circle cx="505.70" cy="423.90" r="0.6" fill="#b0a820"/>
<circle cx="505.70" cy="497.10" r="0.6" fill="#b0a820"/>
<text x="490.8" y="446.00" font-size="8.25" fill="#1a1a1a">0.6</text>
<line x1="526.3" y1="434.8" x2="526.3" y2="502" stroke="#3a9ad8" stroke-width="0.7" stroke-opacity="0.6"/>
<line x1="525.0" y1="434.8" x2="527.5999999999999" y2="434.8" stroke="#3a9ad8" stroke-width="0.7"/>
<line x1="525.0" y1="502" x2="527.5999999999999" y2="502" stroke="#3a9ad8" stroke-width="0.7"/>
<rect x="521.55" y="454" width="9.5" height="22.60" fill="#80d4f5" fill-opacity="0.92" stroke="#3a9ad8" stroke-width="0.7"/>
<line x1="521.55" y1="461.6" x2="531.05" y2="461.6" stroke="#3a9ad8" stroke-width="0.7"/>
<circle cx="526.2" cy="465.7" r=".6" fill="#1a80d0" fill-opacity=".75"/>
<circle cx="526.1" cy="450.2" r=".6" fill="#1a80d0" fill-opacity=".75"/>
<circle cx="526.3" cy="469.3" r=".6" fill="#1a80d0" fill-opacity=".75"/>
<circle cx="526.2" cy="435.4" r=".6" fill="#1a80d0" fill-opacity=".75"/>
<circle cx="526.4" cy="459.2" r=".6" fill="#1a80d0" fill-opacity=".75"/>
<circle cx="526.5" cy="480.8" r=".6" fill="#1a80d0" fill-opacity=".75"/>
<circle cx="526.3" cy="481.2" r=".6" fill="#1a80d0" fill-opacity=".75"/>
<circle cx="526.6" cy="448.8" r=".6" fill="#1a80d0" fill-opacity=".75"/>
<circle cx="526.1" cy="468.5" r=".6" fill="#1a80d0" fill-opacity=".75"/>
<circle cx="526.6" cy="469.0" r=".6" fill="#1a80d0" fill-opacity=".75"/>
<circle cx="526.5" cy="473.0" r=".6" fill="#1a80d0" fill-opacity=".75"/>
<circle cx="526.5" cy="445.6" r=".6" fill="#1a80d0" fill-opacity=".75"/>
<circle cx="526.3" cy="490.1" r=".6" fill="#1a80d0" fill-opacity=".75"/>
<circle cx="526.2" cy="471.8" r=".6" fill="#1a80d0" fill-opacity=".75"/>
<circle cx="526.1" cy="488.5" r=".6" fill="#1a80d0" fill-opacity=".75"/>
<circle cx="526.2" cy="476.4" r=".6" fill="#1a80d0" fill-opacity=".75"/>
<circle cx="526.4" cy="451.3" r=".6" fill="#1a80d0" fill-opacity=".75"/>
<circle cx="526.2" cy="461.5" r=".6" fill="#1a80d0" fill-opacity=".75"/>
<circle cx="526.2" cy="465.0" r=".6" fill="#1a80d0" fill-opacity=".75"/>
<circle cx="526.5" cy="477.7" r=".6" fill="#1a80d0" fill-opacity=".75"/>
<circle cx="526.2" cy="462.7" r=".6" fill="#1a80d0" fill-opacity=".75"/>
<circle cx="526.1" cy="451.6" r=".6" fill="#1a80d0" fill-opacity=".75"/>
<circle cx="526.0" cy="440.4" r=".6" fill="#1a80d0" fill-opacity=".75"/>
<circle cx="526.2" cy="451.1" r=".6" fill="#1a80d0" fill-opacity=".75"/>
<circle cx="526.1" cy="441.1" r=".6" fill="#1a80d0" fill-opacity=".75"/>
<circle cx="526.1" cy="484.1" r=".6" fill="#1a80d0" fill-opacity=".75"/>
<circle cx="526.2" cy="442.8" r=".6" fill="#1a80d0" fill-opacity=".75"/>
<circle cx="526.0" cy="450.3" r=".6" fill="#1a80d0" fill-opacity=".75"/>
<circle cx="526.4" cy="450.6" r=".6" fill="#1a80d0" fill-opacity=".75"/>
<circle cx="526.3" cy="483.0" r=".6" fill="#1a80d0" fill-opacity=".75"/>
<circle cx="526.2" cy="469.9" r=".6" fill="#1a80d0" fill-opacity=".75"/>
<circle cx="526.2" cy="469.7" r=".6" fill="#1a80d0" fill-opacity=".75"/>
<circle cx="526.1" cy="438.0" r=".6" fill="#1a80d0" fill-opacity=".75"/>
<circle cx="526.6" cy="489.0" r=".6" fill="#1a80d0" fill-opacity=".75"/>
<circle cx="526.1" cy="463.6" r=".6" fill="#1a80d0" fill-opacity=".75"/>
<circle cx="526.4" cy="494.5" r=".6" fill="#1a80d0" fill-opacity=".75"/>
<circle cx="526.5" cy="458.3" r=".6" fill="#1a80d0" fill-opacity=".75"/>
<circle cx="526.5" cy="464.8" r=".6" fill="#1a80d0" fill-opacity=".75"/>
<circle cx="526.3" cy="458.1" r=".6" fill="#1a80d0" fill-opacity=".75"/>
<circle cx="526.6" cy="490.4" r=".6" fill="#1a80d0" fill-opacity=".75"/>
<circle cx="526.1" cy="477.0" r=".6" fill="#1a80d0" fill-opacity=".75"/>
<circle cx="526.4" cy="467.1" r=".6" fill="#1a80d0" fill-opacity=".75"/>
<circle cx="526.3" cy="467.2" r=".6" fill="#1a80d0" fill-opacity=".75"/>
<circle cx="526.1" cy="438.8" r=".6" fill="#1a80d0" fill-opacity=".75"/>
<circle cx="526.2" cy="481.1" r=".6" fill="#1a80d0" fill-opacity=".75"/>
<circle cx="526.6" cy="461.9" r=".6" fill="#1a80d0" fill-opacity=".75"/>
<circle cx="526.1" cy="443.6" r=".6" fill="#1a80d0" fill-opacity=".75"/>
<circle cx="526.0" cy="450.4" r=".6" fill="#1a80d0" fill-opacity=".75"/>
<circle cx="526.1" cy="464.3" r=".6" fill="#1a80d0" fill-opacity=".75"/>
<circle cx="526.3" cy="475.1" r=".6" fill="#1a80d0" fill-opacity=".75"/>
<circle cx="526.3" cy="470.3" r=".6" fill="#1a80d0" fill-opacity=".75"/>
<circle cx="526.3" cy="455.2" r=".6" fill="#1a80d0" fill-opacity=".75"/>
<circle cx="526.6" cy="486.9" r=".6" fill="#1a80d0" fill-opacity=".75"/>
<circle cx="526.3" cy="471.3" r=".6" fill="#1a80d0" fill-opacity=".75"/>
<circle cx="526.2" cy="479.1" r=".6" fill="#1a80d0" fill-opacity=".75"/>
<circle cx="526.5" cy="469.0" r=".6" fill="#1a80d0" fill-opacity=".75"/>
<circle cx="526.2" cy="452.8" r=".6" fill="#1a80d0" fill-opacity=".75"/>
<circle cx="526.3" cy="449.8" r=".6" fill="#1a80d0" fill-opacity=".75"/>
<circle cx="526.2" cy="481.5" r=".6" fill="#1a80d0" fill-opacity=".75"/>
<circle cx="526.2" cy="497.6" r=".6" fill="#1a80d0" fill-opacity=".75"/>
<circle cx="526.1" cy="482.7" r=".6" fill="#1a80d0" fill-opacity=".75"/>
<circle cx="526.2" cy="450.2" r=".6" fill="#1a80d0" fill-opacity=".75"/>
<circle cx="526.2" cy="444.4" r=".6" fill="#1a80d0" fill-opacity=".75"/>
<circle cx="526.3" cy="470.2" r=".6" fill="#1a80d0" fill-opacity=".75"/>
<circle cx="526.6" cy="449.0" r=".6" fill="#1a80d0" fill-opacity=".75"/>
<circle cx="526.1" cy="450.7" r=".6" fill="#1a80d0" fill-opacity=".75"/>
<circle cx="526.4" cy="474.6" r=".6" fill="#1a80d0" fill-opacity=".75"/>
<circle cx="526.2" cy="452.3" r=".6" fill="#1a80d0" fill-opacity=".75"/>
<circle cx="526.1" cy="445.9" r=".6" fill="#1a80d0" fill-opacity=".75"/>
<circle cx="526.5" cy="466.2" r=".6" fill="#1a80d0" fill-opacity=".75"/>
<circle cx="526.2" cy="443.7" r=".6" fill="#1a80d0" fill-opacity=".75"/>
<circle cx="526.1" cy="461.2" r=".6" fill="#1a80d0" fill-opacity=".75"/>
<circle cx="526.6" cy="457.6" r=".6" fill="#1a80d0" fill-opacity=".75"/>
<circle cx="526.3" cy="451.2" r=".6" fill="#1a80d0" fill-opacity=".75"/>
<circle cx="526.3" cy="438.7" r=".6" fill="#1a80d0" fill-opacity=".75"/>
<circle cx="526.4" cy="464.9" r=".6" fill="#1a80d0" fill-opacity=".75"/>
<circle cx="526.4" cy="471.4" r=".6" fill="#1a80d0" fill-opacity=".75"/>
<circle cx="526.1" cy="460.3" r=".6" fill="#1a80d0" fill-opacity=".75"/>
<circle cx="526.4" cy="485.6" r=".6" fill="#1a80d0" fill-opacity=".75"/>
<circle cx="526.2" cy="471.0" r=".6" fill="#1a80d0" fill-opacity=".75"/>
<circle cx="526.3" cy="479.2" r=".6" fill="#1a80d0" fill-opacity=".75"/>
<circle cx="526.30" cy="435.10" r="0.6" fill="#1a80d0"/>
<circle cx="526.30" cy="501.70" r="0.6" fill="#1a80d0"/>
<text x="513" y="452.50" font-size="8.25" fill="#1a1a1a">0.6</text>
<line x1="473.7" y1="460.5" x2="473.7" y2="516.8" stroke="#b8843f" stroke-width="0.7" stroke-opacity="0.6"/>
<line x1="472.4" y1="460.5" x2="475.0" y2="460.5" stroke="#b8843f" stroke-width="0.7"/>
<line x1="472.4" y1="516.8" x2="475.0" y2="516.8" stroke="#b8843f" stroke-width="0.7"/>
<rect x="468.95" y="475.7" width="9.5" height="24.00" fill="#cba67c" fill-opacity="0.92" stroke="#b8843f" stroke-width="0.7"/>
<line x1="468.95" y1="486.4" x2="478.45" y2="486.4" stroke="#b8843f" stroke-width="0.7"/>
<circle cx="473.8" cy="500.0" r=".6" fill="#a86a20" fill-opacity=".75"/>
<circle cx="473.5" cy="501.6" r=".6" fill="#a86a20" fill-opacity=".75"/>
<circle cx="473.7" cy="476.7" r=".6" fill="#a86a20" fill-opacity=".75"/>
<circle cx="473.8" cy="511.4" r=".6" fill="#a86a20" fill-opacity=".75"/>
<circle cx="473.5" cy="490.7" r=".6" fill="#a86a20" fill-opacity=".75"/>
<circle cx="473.7" cy="463.7" r=".6" fill="#a86a20" fill-opacity=".75"/>
<circle cx="473.9" cy="497.5" r=".6" fill="#a86a20" fill-opacity=".75"/>
<circle cx="473.6" cy="466.3" r=".6" fill="#a86a20" fill-opacity=".75"/>
<circle cx="473.9" cy="501.4" r=".6" fill="#a86a20" fill-opacity=".75"/>
<circle cx="473.8" cy="481.6" r=".6" fill="#a86a20" fill-opacity=".75"/>
<circle cx="473.4" cy="479.5" r=".6" fill="#a86a20" fill-opacity=".75"/>
<circle cx="473.8" cy="467.2" r=".6" fill="#a86a20" fill-opacity=".75"/>
<circle cx="473.5" cy="482.6" r=".6" fill="#a86a20" fill-opacity=".75"/>
<circle cx="473.4" cy="496.5" r=".6" fill="#a86a20" fill-opacity=".75"/>
<circle cx="473.9" cy="467.4" r=".6" fill="#a86a20" fill-opacity=".75"/>
<circle cx="473.8" cy="498.7" r=".6" fill="#a86a20" fill-opacity=".75"/>
<circle cx="473.5" cy="479.2" r=".6" fill="#a86a20" fill-opacity=".75"/>
<circle cx="473.4" cy="499.4" r=".6" fill="#a86a20" fill-opacity=".75"/>
<circle cx="473.6" cy="476.8" r=".6" fill="#a86a20" fill-opacity=".75"/>
<circle cx="473.8" cy="492.7" r=".6" fill="#a86a20" fill-opacity=".75"/>
<circle cx="473.5" cy="489.2" r=".6" fill="#a86a20" fill-opacity=".75"/>
<circle cx="473.6" cy="494.4" r=".6" fill="#a86a20" fill-opacity=".75"/>
<circle cx="474.0" cy="498.9" r=".6" fill="#a86a20" fill-opacity=".75"/>
<circle cx="474.0" cy="516.2" r=".6" fill="#a86a20" fill-opacity=".75"/>
<circle cx="473.7" cy="466.3" r=".6" fill="#a86a20" fill-opacity=".75"/>
<circle cx="474.0" cy="490.5" r=".6" fill="#a86a20" fill-opacity=".75"/>
<circle cx="473.9" cy="472.6" r=".6" fill="#a86a20" fill-opacity=".75"/>
<circle cx="473.5" cy="485.0" r=".6" fill="#a86a20" fill-opacity=".75"/>
<circle cx="474.0" cy="473.7" r=".6" fill="#a86a20" fill-opacity=".75"/>
<circle cx="473.9" cy="463.2" r=".6" fill="#a86a20" fill-opacity=".75"/>
<circle cx="473.5" cy="478.5" r=".6" fill="#a86a20" fill-opacity=".75"/>
<circle cx="473.9" cy="480.2" r=".6" fill="#a86a20" fill-opacity=".75"/>
<circle cx="473.7" cy="467.5" r=".6" fill="#a86a20" fill-opacity=".75"/>
<circle cx="473.6" cy="501.0" r=".6" fill="#a86a20" fill-opacity=".75"/>
<circle cx="473.5" cy="485.3" r=".6" fill="#a86a20" fill-opacity=".75"/>
<circle cx="473.5" cy="480.4" r=".6" fill="#a86a20" fill-opacity=".75"/>
<circle cx="473.5" cy="469.6" r=".6" fill="#a86a20" fill-opacity=".75"/>
<circle cx="473.7" cy="502.7" r=".6" fill="#a86a20" fill-opacity=".75"/>
<circle cx="473.7" cy="481.5" r=".6" fill="#a86a20" fill-opacity=".75"/>
<circle cx="473.8" cy="515.7" r=".6" fill="#a86a20" fill-opacity=".75"/>
<circle cx="473.9" cy="491.3" r=".6" fill="#a86a20" fill-opacity=".75"/>
<circle cx="473.6" cy="478.8" r=".6" fill="#a86a20" fill-opacity=".75"/>
<circle cx="473.8" cy="495.9" r=".6" fill="#a86a20" fill-opacity=".75"/>
<circle cx="473.7" cy="476.5" r=".6" fill="#a86a20" fill-opacity=".75"/>
<circle cx="473.5" cy="471.2" r=".6" fill="#a86a20" fill-opacity=".75"/>
<circle cx="473.7" cy="503.9" r=".6" fill="#a86a20" fill-opacity=".75"/>
<circle cx="473.9" cy="476.6" r=".6" fill="#a86a20" fill-opacity=".75"/>
<circle cx="473.6" cy="495.6" r=".6" fill="#a86a20" fill-opacity=".75"/>
<circle cx="473.9" cy="513.4" r=".6" fill="#a86a20" fill-opacity=".75"/>
<circle cx="473.8" cy="498.2" r=".6" fill="#a86a20" fill-opacity=".75"/>
<circle cx="473.7" cy="494.4" r=".6" fill="#a86a20" fill-opacity=".75"/>
<circle cx="473.5" cy="469.7" r=".6" fill="#a86a20" fill-opacity=".75"/>
<circle cx="473.7" cy="502.7" r=".6" fill="#a86a20" fill-opacity=".75"/>
<circle cx="473.6" cy="486.8" r=".6" fill="#a86a20" fill-opacity=".75"/>
<circle cx="473.8" cy="497.3" r=".6" fill="#a86a20" fill-opacity=".75"/>
<circle cx="473.8" cy="466.7" r=".6" fill="#a86a20" fill-opacity=".75"/>
<circle cx="473.6" cy="508.1" r=".6" fill="#a86a20" fill-opacity=".75"/>
<circle cx="473.9" cy="508.2" r=".6" fill="#a86a20" fill-opacity=".75"/>
<circle cx="473.9" cy="492.5" r=".6" fill="#a86a20" fill-opacity=".75"/>
<circle cx="474.0" cy="461.9" r=".6" fill="#a86a20" fill-opacity=".75"/>
<circle cx="473.5" cy="496.7" r=".6" fill="#a86a20" fill-opacity=".75"/>
<circle cx="473.7" cy="501.2" r=".6" fill="#a86a20" fill-opacity=".75"/>
<circle cx="473.5" cy="497.2" r=".6" fill="#a86a20" fill-opacity=".75"/>
<circle cx="473.6" cy="492.8" r=".6" fill="#a86a20" fill-opacity=".75"/>
<circle cx="473.7" cy="493.1" r=".6" fill="#a86a20" fill-opacity=".75"/>
<circle cx="473.5" cy="495.5" r=".6" fill="#a86a20" fill-opacity=".75"/>
<circle cx="473.7" cy="464.6" r=".6" fill="#a86a20" fill-opacity=".75"/>
<circle cx="473.7" cy="489.8" r=".6" fill="#a86a20" fill-opacity=".75"/>
<circle cx="474.0" cy="488.1" r=".6" fill="#a86a20" fill-opacity=".75"/>
<circle cx="473.5" cy="483.6" r=".6" fill="#a86a20" fill-opacity=".75"/>
<circle cx="473.7" cy="515.9" r=".6" fill="#a86a20" fill-opacity=".75"/>
<circle cx="473.7" cy="493.6" r=".6" fill="#a86a20" fill-opacity=".75"/>
<circle cx="473.6" cy="492.7" r=".6" fill="#a86a20" fill-opacity=".75"/>
<circle cx="473.8" cy="516.7" r=".6" fill="#a86a20" fill-opacity=".75"/>
<circle cx="473.8" cy="489.6" r=".6" fill="#a86a20" fill-opacity=".75"/>
<circle cx="473.6" cy="509.4" r=".6" fill="#a86a20" fill-opacity=".75"/>
<circle cx="473.8" cy="479.9" r=".6" fill="#a86a20" fill-opacity=".75"/>
<circle cx="473.8" cy="487.2" r=".6" fill="#a86a20" fill-opacity=".75"/>
<circle cx="473.8" cy="499.2" r=".6" fill="#a86a20" fill-opacity=".75"/>
<circle cx="473.5" cy="504.9" r=".6" fill="#a86a20" fill-opacity=".75"/>
<circle cx="473.70" cy="460.80" r="0.6" fill="#a86a20"/>
<circle cx="473.70" cy="516.50" r="0.6" fill="#a86a20"/>
<text x="449.2" y="474.30" font-size="8.25" fill="#1a1a1a">0.004</text>
<line x1="484.3" y1="454" x2="484.3" y2="518" stroke="#d85050" stroke-width="0.7" stroke-opacity="0.6"/>
<line x1="483.0" y1="454" x2="485.6" y2="454" stroke="#d85050" stroke-width="0.7"/>
<line x1="483.0" y1="518" x2="485.6" y2="518" stroke="#d85050" stroke-width="0.7"/>
<rect x="479.55" y="475.7" width="9.5" height="20.50" fill="#ff7b7b" fill-opacity="0.92" stroke="#d85050" stroke-width="0.7"/>
<line x1="479.55" y1="486.9" x2="489.05" y2="486.9" stroke="#d85050" stroke-width="0.7"/>
<circle cx="484.0" cy="503.2" r=".6" fill="#c83030" fill-opacity=".75"/>
<circle cx="484.1" cy="460.9" r=".6" fill="#c83030" fill-opacity=".75"/>
<circle cx="484.1" cy="496.9" r=".6" fill="#c83030" fill-opacity=".75"/>
<circle cx="484.3" cy="492.7" r=".6" fill="#c83030" fill-opacity=".75"/>
<circle cx="484.3" cy="486.9" r=".6" fill="#c83030" fill-opacity=".75"/>
<circle cx="484.2" cy="499.7" r=".6" fill="#c83030" fill-opacity=".75"/>
<circle cx="484.1" cy="492.7" r=".6" fill="#c83030" fill-opacity=".75"/>
<circle cx="484.1" cy="463.3" r=".6" fill="#c83030" fill-opacity=".75"/>
<circle cx="484.1" cy="500.5" r=".6" fill="#c83030" fill-opacity=".75"/>
<circle cx="484.4" cy="487.6" r=".6" fill="#c83030" fill-opacity=".75"/>
<circle cx="484.1" cy="496.4" r=".6" fill="#c83030" fill-opacity=".75"/>
<circle cx="484.2" cy="511.8" r=".6" fill="#c83030" fill-opacity=".75"/>
<circle cx="484.6" cy="492.7" r=".6" fill="#c83030" fill-opacity=".75"/>
<circle cx="484.0" cy="476.6" r=".6" fill="#c83030" fill-opacity=".75"/>
<circle cx="484.6" cy="495.1" r=".6" fill="#c83030" fill-opacity=".75"/>
<circle cx="484.3" cy="470.6" r=".6" fill="#c83030" fill-opacity=".75"/>
<circle cx="484.5" cy="485.7" r=".6" fill="#c83030" fill-opacity=".75"/>
<circle cx="484.1" cy="495.3" r=".6" fill="#c83030" fill-opacity=".75"/>
<circle cx="484.2" cy="471.8" r=".6" fill="#c83030" fill-opacity=".75"/>
<circle cx="484.4" cy="499.0" r=".6" fill="#c83030" fill-opacity=".75"/>
<circle cx="484.3" cy="477.1" r=".6" fill="#c83030" fill-opacity=".75"/>
<circle cx="484.1" cy="467.6" r=".6" fill="#c83030" fill-opacity=".75"/>
<circle cx="484.3" cy="491.7" r=".6" fill="#c83030" fill-opacity=".75"/>
<circle cx="484.2" cy="491.0" r=".6" fill="#c83030" fill-opacity=".75"/>
<circle cx="484.5" cy="482.2" r=".6" fill="#c83030" fill-opacity=".75"/>
<circle cx="484.4" cy="489.4" r=".6" fill="#c83030" fill-opacity=".75"/>
<circle cx="484.4" cy="486.6" r=".6" fill="#c83030" fill-opacity=".75"/>
<circle cx="484.1" cy="496.3" r=".6" fill="#c83030" fill-opacity=".75"/>
<circle cx="484.2" cy="472.6" r=".6" fill="#c83030" fill-opacity=".75"/>
<circle cx="484.1" cy="481.2" r=".6" fill="#c83030" fill-opacity=".75"/>
<circle cx="484.4" cy="463.1" r=".6" fill="#c83030" fill-opacity=".75"/>
<circle cx="484.0" cy="474.6" r=".6" fill="#c83030" fill-opacity=".75"/>
<circle cx="484.3" cy="468.4" r=".6" fill="#c83030" fill-opacity=".75"/>
<circle cx="484.2" cy="477.6" r=".6" fill="#c83030" fill-opacity=".75"/>
<circle cx="484.1" cy="505.1" r=".6" fill="#c83030" fill-opacity=".75"/>
<circle cx="484.5" cy="480.9" r=".6" fill="#c83030" fill-opacity=".75"/>
<circle cx="484.2" cy="475.9" r=".6" fill="#c83030" fill-opacity=".75"/>
<circle cx="484.1" cy="460.4" r=".6" fill="#c83030" fill-opacity=".75"/>
<circle cx="484.4" cy="479.1" r=".6" fill="#c83030" fill-opacity=".75"/>
<circle cx="484.0" cy="501.7" r=".6" fill="#c83030" fill-opacity=".75"/>
<circle cx="484.1" cy="484.5" r=".6" fill="#c83030" fill-opacity=".75"/>
<circle cx="484.2" cy="472.5" r=".6" fill="#c83030" fill-opacity=".75"/>
<circle cx="484.1" cy="471.2" r=".6" fill="#c83030" fill-opacity=".75"/>
<circle cx="484.3" cy="486.8" r=".6" fill="#c83030" fill-opacity=".75"/>
<circle cx="484.2" cy="474.6" r=".6" fill="#c83030" fill-opacity=".75"/>
<circle cx="484.6" cy="476.9" r=".6" fill="#c83030" fill-opacity=".75"/>
<circle cx="484.2" cy="491.2" r=".6" fill="#c83030" fill-opacity=".75"/>
<circle cx="484.2" cy="469.5" r=".6" fill="#c83030" fill-opacity=".75"/>
<circle cx="484.5" cy="464.1" r=".6" fill="#c83030" fill-opacity=".75"/>
<circle cx="484.0" cy="485.6" r=".6" fill="#c83030" fill-opacity=".75"/>
<circle cx="484.3" cy="494.1" r=".6" fill="#c83030" fill-opacity=".75"/>
<circle cx="484.3" cy="494.1" r=".6" fill="#c83030" fill-opacity=".75"/>
<circle cx="484.5" cy="479.6" r=".6" fill="#c83030" fill-opacity=".75"/>
<circle cx="484.3" cy="485.5" r=".6" fill="#c83030" fill-opacity=".75"/>
<circle cx="484.3" cy="495.5" r=".6" fill="#c83030" fill-opacity=".75"/>
<circle cx="484.1" cy="516.9" r=".6" fill="#c83030" fill-opacity=".75"/>
<circle cx="484.3" cy="474.7" r=".6" fill="#c83030" fill-opacity=".75"/>
<circle cx="484.3" cy="483.5" r=".6" fill="#c83030" fill-opacity=".75"/>
<circle cx="484.5" cy="488.9" r=".6" fill="#c83030" fill-opacity=".75"/>
<circle cx="484.4" cy="480.3" r=".6" fill="#c83030" fill-opacity=".75"/>
<circle cx="484.0" cy="506.0" r=".6" fill="#c83030" fill-opacity=".75"/>
<circle cx="484.2" cy="493.4" r=".6" fill="#c83030" fill-opacity=".75"/>
<circle cx="484.4" cy="483.5" r=".6" fill="#c83030" fill-opacity=".75"/>
<circle cx="484.1" cy="501.5" r=".6" fill="#c83030" fill-opacity=".75"/>
<circle cx="484.3" cy="488.7" r=".6" fill="#c83030" fill-opacity=".75"/>
<circle cx="484.1" cy="495.5" r=".6" fill="#c83030" fill-opacity=".75"/>
<circle cx="484.0" cy="487.8" r=".6" fill="#c83030" fill-opacity=".75"/>
<circle cx="484.3" cy="495.3" r=".6" fill="#c83030" fill-opacity=".75"/>
<circle cx="484.1" cy="492.3" r=".6" fill="#c83030" fill-opacity=".75"/>
<circle cx="484.2" cy="493.7" r=".6" fill="#c83030" fill-opacity=".75"/>
<circle cx="484.1" cy="472.7" r=".6" fill="#c83030" fill-opacity=".75"/>
<circle cx="484.4" cy="489.4" r=".6" fill="#c83030" fill-opacity=".75"/>
<circle cx="484.1" cy="482.9" r=".6" fill="#c83030" fill-opacity=".75"/>
<circle cx="484.4" cy="501.5" r=".6" fill="#c83030" fill-opacity=".75"/>
<circle cx="484.5" cy="481.6" r=".6" fill="#c83030" fill-opacity=".75"/>
<circle cx="484.30" cy="454.30" r="0.6" fill="#c83030"/>
<circle cx="484.30" cy="517.70" r="0.6" fill="#c83030"/>
<circle cx="484.3" cy="530.1" r="0.8" fill="#c83030"/>
<line x1="548.1" y1="147.3" x2="548.1" y2="163.2" stroke="#72b356" stroke-width="0.7" stroke-opacity="0.6"/>
<line x1="546.8000000000001" y1="147.3" x2="549.4" y2="147.3" stroke="#72b356" stroke-width="0.7"/>
<line x1="546.8000000000001" y1="163.2" x2="549.4" y2="163.2" stroke="#72b356" stroke-width="0.7"/>
<rect x="543.35" y="151.2" width="9.5" height="6.30" fill="#c3e5a6" fill-opacity="0.92" stroke="#72b356" stroke-width="0.7"/>
<line x1="543.35" y1="154.1" x2="552.85" y2="154.1" stroke="#72b356" stroke-width="0.7"/>
<circle cx="548.2" cy="155.5" r=".6" fill="#4f9a34" fill-opacity=".75"/>
<circle cx="548.2" cy="155.1" r=".6" fill="#4f9a34" fill-opacity=".75"/>
<circle cx="548.1" cy="153.4" r=".6" fill="#4f9a34" fill-opacity=".75"/>
<circle cx="547.9" cy="150.4" r=".6" fill="#4f9a34" fill-opacity=".75"/>
<circle cx="548.2" cy="150.6" r=".6" fill="#4f9a34" fill-opacity=".75"/>
<circle cx="548.0" cy="155.6" r=".6" fill="#4f9a34" fill-opacity=".75"/>
<circle cx="547.9" cy="153.1" r=".6" fill="#4f9a34" fill-opacity=".75"/>
<circle cx="548.3" cy="160.7" r=".6" fill="#4f9a34" fill-opacity=".75"/>
<circle cx="547.9" cy="150.7" r=".6" fill="#4f9a34" fill-opacity=".75"/>
<circle cx="548.1" cy="154.2" r=".6" fill="#4f9a34" fill-opacity=".75"/>
<circle cx="548.0" cy="153.9" r=".6" fill="#4f9a34" fill-opacity=".75"/>
<circle cx="548.0" cy="159.3" r=".6" fill="#4f9a34" fill-opacity=".75"/>
<circle cx="548.4" cy="152.9" r=".6" fill="#4f9a34" fill-opacity=".75"/>
<circle cx="548.3" cy="157.5" r=".6" fill="#4f9a34" fill-opacity=".75"/>
<circle cx="548.2" cy="152.8" r=".6" fill="#4f9a34" fill-opacity=".75"/>
<circle cx="548.2" cy="158.7" r=".6" fill="#4f9a34" fill-opacity=".75"/>
<circle cx="547.8" cy="156.3" r=".6" fill="#4f9a34" fill-opacity=".75"/>
<circle cx="548.3" cy="148.6" r=".6" fill="#4f9a34" fill-opacity=".75"/>
<circle cx="548.2" cy="155.7" r=".6" fill="#4f9a34" fill-opacity=".75"/>
<circle cx="547.9" cy="157.3" r=".6" fill="#4f9a34" fill-opacity=".75"/>
<circle cx="547.9" cy="155.8" r=".6" fill="#4f9a34" fill-opacity=".75"/>
<circle cx="548.1" cy="152.9" r=".6" fill="#4f9a34" fill-opacity=".75"/>
<circle cx="548.2" cy="152.2" r=".6" fill="#4f9a34" fill-opacity=".75"/>
<circle cx="547.9" cy="153.6" r=".6" fill="#4f9a34" fill-opacity=".75"/>
<circle cx="548.4" cy="152.8" r=".6" fill="#4f9a34" fill-opacity=".75"/>
<circle cx="548.0" cy="150.3" r=".6" fill="#4f9a34" fill-opacity=".75"/>
<circle cx="548.2" cy="157.2" r=".6" fill="#4f9a34" fill-opacity=".75"/>
<circle cx="548.10" cy="147.60" r="0.6" fill="#4f9a34"/>
<circle cx="548.10" cy="162.90" r="0.6" fill="#4f9a34"/>
<circle cx="548.1" cy="167.7" r="0.8" fill="#4f9a34"/>
<line x1="569.3" y1="285" x2="569.3" y2="323.5" stroke="#b8843f" stroke-width="0.7" stroke-opacity="0.6"/>
<line x1="568.0" y1="285" x2="570.5999999999999" y2="285" stroke="#b8843f" stroke-width="0.7"/>
<line x1="568.0" y1="323.5" x2="570.5999999999999" y2="323.5" stroke="#b8843f" stroke-width="0.7"/>
<rect x="564.55" y="299.2" width="9.5" height="11.20" fill="#cba67c" fill-opacity="0.92" stroke="#b8843f" stroke-width="0.7"/>
<line x1="564.55" y1="304" x2="574.05" y2="304" stroke="#b8843f" stroke-width="0.7"/>
<circle cx="569.2" cy="303.3" r=".6" fill="#a86a20" fill-opacity=".75"/>
<circle cx="569.3" cy="292.0" r=".6" fill="#a86a20" fill-opacity=".75"/>
<circle cx="569.6" cy="298.7" r=".6" fill="#a86a20" fill-opacity=".75"/>
<circle cx="569.6" cy="303.5" r=".6" fill="#a86a20" fill-opacity=".75"/>
<circle cx="569.3" cy="308.5" r=".6" fill="#a86a20" fill-opacity=".75"/>
<circle cx="569.4" cy="307.3" r=".6" fill="#a86a20" fill-opacity=".75"/>
<circle cx="569.4" cy="298.8" r=".6" fill="#a86a20" fill-opacity=".75"/>
<circle cx="569.5" cy="318.6" r=".6" fill="#a86a20" fill-opacity=".75"/>
<circle cx="569.2" cy="298.1" r=".6" fill="#a86a20" fill-opacity=".75"/>
<circle cx="569.2" cy="306.2" r=".6" fill="#a86a20" fill-opacity=".75"/>
<circle cx="569.2" cy="294.8" r=".6" fill="#a86a20" fill-opacity=".75"/>
<circle cx="569.5" cy="308.8" r=".6" fill="#a86a20" fill-opacity=".75"/>
<circle cx="569.4" cy="288.8" r=".6" fill="#a86a20" fill-opacity=".75"/>
<circle cx="569.3" cy="306.3" r=".6" fill="#a86a20" fill-opacity=".75"/>
<circle cx="569.1" cy="308.2" r=".6" fill="#a86a20" fill-opacity=".75"/>
<circle cx="569.1" cy="302.0" r=".6" fill="#a86a20" fill-opacity=".75"/>
<circle cx="569.4" cy="307.3" r=".6" fill="#a86a20" fill-opacity=".75"/>
<circle cx="569.2" cy="306.7" r=".6" fill="#a86a20" fill-opacity=".75"/>
<circle cx="569.5" cy="319.9" r=".6" fill="#a86a20" fill-opacity=".75"/>
<circle cx="569.2" cy="301.9" r=".6" fill="#a86a20" fill-opacity=".75"/>
<circle cx="569.0" cy="310.2" r=".6" fill="#a86a20" fill-opacity=".75"/>
<circle cx="569.0" cy="296.5" r=".6" fill="#a86a20" fill-opacity=".75"/>
<circle cx="569.5" cy="307.2" r=".6" fill="#a86a20" fill-opacity=".75"/>
<circle cx="569.6" cy="303.8" r=".6" fill="#a86a20" fill-opacity=".75"/>
<circle cx="569.1" cy="304.2" r=".6" fill="#a86a20" fill-opacity=".75"/>
<circle cx="569.1" cy="304.0" r=".6" fill="#a86a20" fill-opacity=".75"/>
<circle cx="569.4" cy="305.8" r=".6" fill="#a86a20" fill-opacity=".75"/>
<circle cx="569.1" cy="295.5" r=".6" fill="#a86a20" fill-opacity=".75"/>
<circle cx="569.2" cy="299.2" r=".6" fill="#a86a20" fill-opacity=".75"/>
<circle cx="569.6" cy="311.9" r=".6" fill="#a86a20" fill-opacity=".75"/>
<circle cx="569.5" cy="302.5" r=".6" fill="#a86a20" fill-opacity=".75"/>
<circle cx="569.0" cy="315.4" r=".6" fill="#a86a20" fill-opacity=".75"/>
<circle cx="569.4" cy="315.4" r=".6" fill="#a86a20" fill-opacity=".75"/>
<circle cx="569.3" cy="308.7" r=".6" fill="#a86a20" fill-opacity=".75"/>
<circle cx="569.5" cy="292.1" r=".6" fill="#a86a20" fill-opacity=".75"/>
<circle cx="569.2" cy="309.8" r=".6" fill="#a86a20" fill-opacity=".75"/>
<circle cx="569.2" cy="312.5" r=".6" fill="#a86a20" fill-opacity=".75"/>
<circle cx="569.3" cy="308.7" r=".6" fill="#a86a20" fill-opacity=".75"/>
<circle cx="569.5" cy="316.1" r=".6" fill="#a86a20" fill-opacity=".75"/>
<circle cx="569.6" cy="296.2" r=".6" fill="#a86a20" fill-opacity=".75"/>
<circle cx="569.5" cy="295.9" r=".6" fill="#a86a20" fill-opacity=".75"/>
<circle cx="569.6" cy="297.3" r=".6" fill="#a86a20" fill-opacity=".75"/>
<circle cx="569.2" cy="301.0" r=".6" fill="#a86a20" fill-opacity=".75"/>
<circle cx="569.4" cy="310.0" r=".6" fill="#a86a20" fill-opacity=".75"/>
<circle cx="569.6" cy="308.5" r=".6" fill="#a86a20" fill-opacity=".75"/>
<circle cx="569.6" cy="296.5" r=".6" fill="#a86a20" fill-opacity=".75"/>
<circle cx="569.30" cy="285.30" r="0.6" fill="#a86a20"/>
<circle cx="569.30" cy="323.20" r="0.6" fill="#a86a20"/>
<text x="570.7" y="319.20" font-size="8.25" fill="#1a1a1a">0.0005</text>
<line x1="611.9" y1="256.2" x2="611.9" y2="298" stroke="#cbc23c" stroke-width="0.7" stroke-opacity="0.6"/>
<line x1="610.6" y1="256.2" x2="613.1999999999999" y2="256.2" stroke="#cbc23c" stroke-width="0.7"/>
<line x1="610.6" y1="298" x2="613.1999999999999" y2="298" stroke="#cbc23c" stroke-width="0.7"/>
<rect x="607.15" y="264.1" width="9.5" height="19.90" fill="#fdf87a" fill-opacity="0.92" stroke="#cbc23c" stroke-width="0.7"/>
<line x1="607.15" y1="270.9" x2="616.65" y2="270.9" stroke="#cbc23c" stroke-width="0.7"/>
<circle cx="611.9" cy="273.7" r=".6" fill="#b0a820" fill-opacity=".75"/>
<circle cx="611.7" cy="271.7" r=".6" fill="#b0a820" fill-opacity=".75"/>
<circle cx="612.0" cy="258.0" r=".6" fill="#b0a820" fill-opacity=".75"/>
<circle cx="612.0" cy="274.9" r=".6" fill="#b0a820" fill-opacity=".75"/>
<circle cx="612.1" cy="260.5" r=".6" fill="#b0a820" fill-opacity=".75"/>
<circle cx="611.9" cy="276.4" r=".6" fill="#b0a820" fill-opacity=".75"/>
<circle cx="611.8" cy="276.6" r=".6" fill="#b0a820" fill-opacity=".75"/>
<circle cx="612.0" cy="279.7" r=".6" fill="#b0a820" fill-opacity=".75"/>
<circle cx="611.7" cy="289.1" r=".6" fill="#b0a820" fill-opacity=".75"/>
<circle cx="611.6" cy="285.3" r=".6" fill="#b0a820" fill-opacity=".75"/>
<circle cx="611.9" cy="278.3" r=".6" fill="#b0a820" fill-opacity=".75"/>
<circle cx="611.8" cy="290.1" r=".6" fill="#b0a820" fill-opacity=".75"/>
<circle cx="612.0" cy="285.9" r=".6" fill="#b0a820" fill-opacity=".75"/>
<circle cx="611.9" cy="271.9" r=".6" fill="#b0a820" fill-opacity=".75"/>
<circle cx="611.8" cy="283.4" r=".6" fill="#b0a820" fill-opacity=".75"/>
<circle cx="611.8" cy="260.2" r=".6" fill="#b0a820" fill-opacity=".75"/>
<circle cx="612.0" cy="257.0" r=".6" fill="#b0a820" fill-opacity=".75"/>
<circle cx="611.8" cy="280.8" r=".6" fill="#b0a820" fill-opacity=".75"/>
<circle cx="611.6" cy="270.7" r=".6" fill="#b0a820" fill-opacity=".75"/>
<circle cx="611.9" cy="275.0" r=".6" fill="#b0a820" fill-opacity=".75"/>
<circle cx="612.1" cy="273.7" r=".6" fill="#b0a820" fill-opacity=".75"/>
<circle cx="612.1" cy="258.5" r=".6" fill="#b0a820" fill-opacity=".75"/>
<circle cx="611.6" cy="260.9" r=".6" fill="#b0a820" fill-opacity=".75"/>
<circle cx="612.0" cy="262.4" r=".6" fill="#b0a820" fill-opacity=".75"/>
<circle cx="611.6" cy="278.6" r=".6" fill="#b0a820" fill-opacity=".75"/>
<circle cx="611.9" cy="257.1" r=".6" fill="#b0a820" fill-opacity=".75"/>
<circle cx="611.8" cy="267.1" r=".6" fill="#b0a820" fill-opacity=".75"/>
<circle cx="612.1" cy="290.0" r=".6" fill="#b0a820" fill-opacity=".75"/>
<circle cx="612.0" cy="285.2" r=".6" fill="#b0a820" fill-opacity=".75"/>
<circle cx="612.1" cy="285.8" r=".6" fill="#b0a820" fill-opacity=".75"/>
<circle cx="612.2" cy="284.2" r=".6" fill="#b0a820" fill-opacity=".75"/>
<circle cx="612.1" cy="271.1" r=".6" fill="#b0a820" fill-opacity=".75"/>
<circle cx="612.0" cy="266.4" r=".6" fill="#b0a820" fill-opacity=".75"/>
<circle cx="612.1" cy="265.4" r=".6" fill="#b0a820" fill-opacity=".75"/>
<circle cx="611.9" cy="279.7" r=".6" fill="#b0a820" fill-opacity=".75"/>
<circle cx="611.8" cy="264.1" r=".6" fill="#b0a820" fill-opacity=".75"/>
<circle cx="612.0" cy="263.8" r=".6" fill="#b0a820" fill-opacity=".75"/>
<circle cx="611.8" cy="294.8" r=".6" fill="#b0a820" fill-opacity=".75"/>
<circle cx="611.9" cy="261.9" r=".6" fill="#b0a820" fill-opacity=".75"/>
<circle cx="612.2" cy="287.2" r=".6" fill="#b0a820" fill-opacity=".75"/>
<circle cx="611.6" cy="261.1" r=".6" fill="#b0a820" fill-opacity=".75"/>
<circle cx="612.0" cy="275.6" r=".6" fill="#b0a820" fill-opacity=".75"/>
<circle cx="611.9" cy="291.1" r=".6" fill="#b0a820" fill-opacity=".75"/>
<circle cx="612.0" cy="266.9" r=".6" fill="#b0a820" fill-opacity=".75"/>
<circle cx="612.2" cy="266.1" r=".6" fill="#b0a820" fill-opacity=".75"/>
<circle cx="612.1" cy="283.8" r=".6" fill="#b0a820" fill-opacity=".75"/>
<circle cx="611.6" cy="272.0" r=".6" fill="#b0a820" fill-opacity=".75"/>
<circle cx="612.0" cy="271.8" r=".6" fill="#b0a820" fill-opacity=".75"/>
<circle cx="612.1" cy="267.3" r=".6" fill="#b0a820" fill-opacity=".75"/>
<circle cx="611.7" cy="272.0" r=".6" fill="#b0a820" fill-opacity=".75"/>
<circle cx="612.0" cy="285.3" r=".6" fill="#b0a820" fill-opacity=".75"/>
<circle cx="611.8" cy="267.3" r=".6" fill="#b0a820" fill-opacity=".75"/>
<circle cx="611.7" cy="277.5" r=".6" fill="#b0a820" fill-opacity=".75"/>
<circle cx="611.8" cy="256.4" r=".6" fill="#b0a820" fill-opacity=".75"/>
<circle cx="612.1" cy="269.4" r=".6" fill="#b0a820" fill-opacity=".75"/>
<circle cx="612.1" cy="279.5" r=".6" fill="#b0a820" fill-opacity=".75"/>
<circle cx="612.2" cy="287.7" r=".6" fill="#b0a820" fill-opacity=".75"/>
<circle cx="611.9" cy="282.5" r=".6" fill="#b0a820" fill-opacity=".75"/>
<circle cx="612.2" cy="272.3" r=".6" fill="#b0a820" fill-opacity=".75"/>
<circle cx="611.8" cy="285.6" r=".6" fill="#b0a820" fill-opacity=".75"/>
<circle cx="611.9" cy="295.1" r=".6" fill="#b0a820" fill-opacity=".75"/>
<circle cx="611.8" cy="275.7" r=".6" fill="#b0a820" fill-opacity=".75"/>
<circle cx="611.7" cy="268.6" r=".6" fill="#b0a820" fill-opacity=".75"/>
<circle cx="612.0" cy="279.3" r=".6" fill="#b0a820" fill-opacity=".75"/>
<circle cx="611.9" cy="280.2" r=".6" fill="#b0a820" fill-opacity=".75"/>
<circle cx="611.9" cy="290.0" r=".6" fill="#b0a820" fill-opacity=".75"/>
<circle cx="611.90" cy="256.50" r="0.6" fill="#b0a820"/>
<circle cx="611.90" cy="297.70" r="0.6" fill="#b0a820"/>
<text x="588.4" y="292.00" font-size="8.25" fill="#1a1a1a">0.001</text>
<line x1="622.3" y1="267" x2="622.3" y2="309.4" stroke="#cbc23c" stroke-width="0.7" stroke-opacity="0.6"/>
<line x1="621.0" y1="267" x2="623.5999999999999" y2="267" stroke="#cbc23c" stroke-width="0.7"/>
<line x1="621.0" y1="309.4" x2="623.5999999999999" y2="309.4" stroke="#cbc23c" stroke-width="0.7"/>
<rect x="617.55" y="278.8" width="9.5" height="21.50" fill="#fdf87a" fill-opacity="0.92" stroke="#cbc23c" stroke-width="0.7"/>
<line x1="617.55" y1="281.8" x2="627.05" y2="281.8" stroke="#cbc23c" stroke-width="0.7"/>
<circle cx="622.1" cy="301.6" r=".6" fill="#b0a820" fill-opacity=".75"/>
<circle cx="622.1" cy="294.4" r=".6" fill="#b0a820" fill-opacity=".75"/>
<circle cx="622.1" cy="308.8" r=".6" fill="#b0a820" fill-opacity=".75"/>
<circle cx="622.0" cy="271.0" r=".6" fill="#b0a820" fill-opacity=".75"/>
<circle cx="622.1" cy="301.8" r=".6" fill="#b0a820" fill-opacity=".75"/>
<circle cx="622.4" cy="284.6" r=".6" fill="#b0a820" fill-opacity=".75"/>
<circle cx="622.2" cy="304.6" r=".6" fill="#b0a820" fill-opacity=".75"/>
<circle cx="622.2" cy="299.9" r=".6" fill="#b0a820" fill-opacity=".75"/>
<circle cx="622.5" cy="272.0" r=".6" fill="#b0a820" fill-opacity=".75"/>
<circle cx="622.2" cy="270.1" r=".6" fill="#b0a820" fill-opacity=".75"/>
<circle cx="622.3" cy="276.6" r=".6" fill="#b0a820" fill-opacity=".75"/>
<circle cx="622.5" cy="302.6" r=".6" fill="#b0a820" fill-opacity=".75"/>
<circle cx="622.1" cy="305.5" r=".6" fill="#b0a820" fill-opacity=".75"/>
<circle cx="622.1" cy="274.0" r=".6" fill="#b0a820" fill-opacity=".75"/>
<circle cx="622.2" cy="286.6" r=".6" fill="#b0a820" fill-opacity=".75"/>
<circle cx="622.5" cy="292.4" r=".6" fill="#b0a820" fill-opacity=".75"/>
<circle cx="622.3" cy="289.3" r=".6" fill="#b0a820" fill-opacity=".75"/>
<circle cx="622.1" cy="285.5" r=".6" fill="#b0a820" fill-opacity=".75"/>
<circle cx="622.2" cy="273.2" r=".6" fill="#b0a820" fill-opacity=".75"/>
<circle cx="622.0" cy="288.7" r=".6" fill="#b0a820" fill-opacity=".75"/>
<circle cx="622.5" cy="275.3" r=".6" fill="#b0a820" fill-opacity=".75"/>
<circle cx="622.1" cy="301.7" r=".6" fill="#b0a820" fill-opacity=".75"/>
<circle cx="622.1" cy="294.6" r=".6" fill="#b0a820" fill-opacity=".75"/>
<circle cx="622.0" cy="267.2" r=".6" fill="#b0a820" fill-opacity=".75"/>
<circle cx="622.2" cy="291.2" r=".6" fill="#b0a820" fill-opacity=".75"/>
<circle cx="622.4" cy="283.2" r=".6" fill="#b0a820" fill-opacity=".75"/>
<circle cx="622.4" cy="286.0" r=".6" fill="#b0a820" fill-opacity=".75"/>
<circle cx="622.2" cy="292.7" r=".6" fill="#b0a820" fill-opacity=".75"/>
<circle cx="622.2" cy="293.1" r=".6" fill="#b0a820" fill-opacity=".75"/>
<circle cx="622.2" cy="281.0" r=".6" fill="#b0a820" fill-opacity=".75"/>
<circle cx="622.2" cy="270.8" r=".6" fill="#b0a820" fill-opacity=".75"/>
<circle cx="622.3" cy="296.7" r=".6" fill="#b0a820" fill-opacity=".75"/>
<circle cx="622.6" cy="306.4" r=".6" fill="#b0a820" fill-opacity=".75"/>
<circle cx="622.5" cy="288.2" r=".6" fill="#b0a820" fill-opacity=".75"/>
<circle cx="622.1" cy="281.3" r=".6" fill="#b0a820" fill-opacity=".75"/>
<circle cx="622.3" cy="294.1" r=".6" fill="#b0a820" fill-opacity=".75"/>
<circle cx="622.3" cy="282.9" r=".6" fill="#b0a820" fill-opacity=".75"/>
<circle cx="622.6" cy="272.6" r=".6" fill="#b0a820" fill-opacity=".75"/>
<circle cx="622.5" cy="283.6" r=".6" fill="#b0a820" fill-opacity=".75"/>
<circle cx="622.1" cy="293.8" r=".6" fill="#b0a820" fill-opacity=".75"/>
<circle cx="622.4" cy="272.1" r=".6" fill="#b0a820" fill-opacity=".75"/>
<circle cx="622.4" cy="279.6" r=".6" fill="#b0a820" fill-opacity=".75"/>
<circle cx="622.2" cy="275.0" r=".6" fill="#b0a820" fill-opacity=".75"/>
<circle cx="622.3" cy="299.7" r=".6" fill="#b0a820" fill-opacity=".75"/>
<circle cx="622.5" cy="288.8" r=".6" fill="#b0a820" fill-opacity=".75"/>
<circle cx="622.6" cy="298.0" r=".6" fill="#b0a820" fill-opacity=".75"/>
<circle cx="622.1" cy="273.7" r=".6" fill="#b0a820" fill-opacity=".75"/>
<circle cx="622.5" cy="301.8" r=".6" fill="#b0a820" fill-opacity=".75"/>
<circle cx="622.2" cy="271.0" r=".6" fill="#b0a820" fill-opacity=".75"/>
<circle cx="622.5" cy="285.4" r=".6" fill="#b0a820" fill-opacity=".75"/>
<circle cx="622.5" cy="281.6" r=".6" fill="#b0a820" fill-opacity=".75"/>
<circle cx="622.1" cy="303.1" r=".6" fill="#b0a820" fill-opacity=".75"/>
<circle cx="622.2" cy="282.1" r=".6" fill="#b0a820" fill-opacity=".75"/>
<circle cx="622.4" cy="291.2" r=".6" fill="#b0a820" fill-opacity=".75"/>
<circle cx="622.1" cy="308.8" r=".6" fill="#b0a820" fill-opacity=".75"/>
<circle cx="622.2" cy="293.0" r=".6" fill="#b0a820" fill-opacity=".75"/>
<circle cx="622.2" cy="280.2" r=".6" fill="#b0a820" fill-opacity=".75"/>
<circle cx="622.2" cy="303.0" r=".6" fill="#b0a820" fill-opacity=".75"/>
<circle cx="622.1" cy="274.2" r=".6" fill="#b0a820" fill-opacity=".75"/>
<circle cx="622.3" cy="299.3" r=".6" fill="#b0a820" fill-opacity=".75"/>
<circle cx="622.3" cy="289.9" r=".6" fill="#b0a820" fill-opacity=".75"/>
<circle cx="622.2" cy="298.2" r=".6" fill="#b0a820" fill-opacity=".75"/>
<circle cx="622.3" cy="280.0" r=".6" fill="#b0a820" fill-opacity=".75"/>
<circle cx="622.4" cy="299.6" r=".6" fill="#b0a820" fill-opacity=".75"/>
<circle cx="622.2" cy="277.3" r=".6" fill="#b0a820" fill-opacity=".75"/>
<circle cx="622.3" cy="274.4" r=".6" fill="#b0a820" fill-opacity=".75"/>
<circle cx="622.6" cy="298.8" r=".6" fill="#b0a820" fill-opacity=".75"/>
<circle cx="622.0" cy="271.8" r=".6" fill="#b0a820" fill-opacity=".75"/>
<circle cx="622.1" cy="277.6" r=".6" fill="#b0a820" fill-opacity=".75"/>
<circle cx="622.5" cy="304.7" r=".6" fill="#b0a820" fill-opacity=".75"/>
<circle cx="622.30" cy="267.30" r="0.6" fill="#b0a820"/>
<circle cx="622.30" cy="309.10" r="0.6" fill="#b0a820"/>
<text x="603.5" y="309.70" font-size="8.25" fill="#1a1a1a">0.01</text>
<line x1="643.6" y1="252.4" x2="643.6" y2="296.9" stroke="#3a9ad8" stroke-width="0.7" stroke-opacity="0.6"/>
<line x1="642.3000000000001" y1="252.4" x2="644.9" y2="252.4" stroke="#3a9ad8" stroke-width="0.7"/>
<line x1="642.3000000000001" y1="296.9" x2="644.9" y2="296.9" stroke="#3a9ad8" stroke-width="0.7"/>
<rect x="638.85" y="263.7" width="9.5" height="19.00" fill="#80d4f5" fill-opacity="0.92" stroke="#3a9ad8" stroke-width="0.7"/>
<line x1="638.85" y1="269.8" x2="648.35" y2="269.8" stroke="#3a9ad8" stroke-width="0.7"/>
<circle cx="643.6" cy="271.9" r=".6" fill="#1a80d0" fill-opacity=".75"/>
<circle cx="643.6" cy="294.2" r=".6" fill="#1a80d0" fill-opacity=".75"/>
<circle cx="643.3" cy="265.7" r=".6" fill="#1a80d0" fill-opacity=".75"/>
<circle cx="643.7" cy="268.9" r=".6" fill="#1a80d0" fill-opacity=".75"/>
<circle cx="643.9" cy="264.7" r=".6" fill="#1a80d0" fill-opacity=".75"/>
<circle cx="643.8" cy="257.0" r=".6" fill="#1a80d0" fill-opacity=".75"/>
<circle cx="643.6" cy="268.1" r=".6" fill="#1a80d0" fill-opacity=".75"/>
<circle cx="643.7" cy="274.8" r=".6" fill="#1a80d0" fill-opacity=".75"/>
<circle cx="643.6" cy="270.5" r=".6" fill="#1a80d0" fill-opacity=".75"/>
<circle cx="643.3" cy="274.0" r=".6" fill="#1a80d0" fill-opacity=".75"/>
<circle cx="643.5" cy="268.2" r=".6" fill="#1a80d0" fill-opacity=".75"/>
<circle cx="643.4" cy="260.1" r=".6" fill="#1a80d0" fill-opacity=".75"/>
<circle cx="643.4" cy="273.2" r=".6" fill="#1a80d0" fill-opacity=".75"/>
<circle cx="643.7" cy="276.0" r=".6" fill="#1a80d0" fill-opacity=".75"/>
<circle cx="643.5" cy="255.6" r=".6" fill="#1a80d0" fill-opacity=".75"/>
<circle cx="643.7" cy="276.4" r=".6" fill="#1a80d0" fill-opacity=".75"/>
<circle cx="643.4" cy="255.7" r=".6" fill="#1a80d0" fill-opacity=".75"/>
<circle cx="643.9" cy="281.1" r=".6" fill="#1a80d0" fill-opacity=".75"/>
<circle cx="643.7" cy="261.6" r=".6" fill="#1a80d0" fill-opacity=".75"/>
<circle cx="643.4" cy="254.5" r=".6" fill="#1a80d0" fill-opacity=".75"/>
<circle cx="643.8" cy="264.6" r=".6" fill="#1a80d0" fill-opacity=".75"/>
<circle cx="643.3" cy="278.6" r=".6" fill="#1a80d0" fill-opacity=".75"/>
<circle cx="643.8" cy="279.5" r=".6" fill="#1a80d0" fill-opacity=".75"/>
<circle cx="643.4" cy="267.5" r=".6" fill="#1a80d0" fill-opacity=".75"/>
<circle cx="643.7" cy="258.1" r=".6" fill="#1a80d0" fill-opacity=".75"/>
<circle cx="643.5" cy="263.0" r=".6" fill="#1a80d0" fill-opacity=".75"/>
<circle cx="643.8" cy="291.3" r=".6" fill="#1a80d0" fill-opacity=".75"/>
<circle cx="643.9" cy="258.3" r=".6" fill="#1a80d0" fill-opacity=".75"/>
<circle cx="643.3" cy="271.6" r=".6" fill="#1a80d0" fill-opacity=".75"/>
<circle cx="643.8" cy="256.4" r=".6" fill="#1a80d0" fill-opacity=".75"/>
<circle cx="643.5" cy="265.9" r=".6" fill="#1a80d0" fill-opacity=".75"/>
<circle cx="643.6" cy="276.2" r=".6" fill="#1a80d0" fill-opacity=".75"/>
<circle cx="643.8" cy="293.6" r=".6" fill="#1a80d0" fill-opacity=".75"/>
<circle cx="643.8" cy="266.0" r=".6" fill="#1a80d0" fill-opacity=".75"/>
<circle cx="643.4" cy="270.1" r=".6" fill="#1a80d0" fill-opacity=".75"/>
<circle cx="643.5" cy="269.3" r=".6" fill="#1a80d0" fill-opacity=".75"/>
<circle cx="643.7" cy="269.9" r=".6" fill="#1a80d0" fill-opacity=".75"/>
<circle cx="643.6" cy="271.6" r=".6" fill="#1a80d0" fill-opacity=".75"/>
<circle cx="643.4" cy="267.5" r=".6" fill="#1a80d0" fill-opacity=".75"/>
<circle cx="643.7" cy="265.6" r=".6" fill="#1a80d0" fill-opacity=".75"/>
<circle cx="643.5" cy="273.7" r=".6" fill="#1a80d0" fill-opacity=".75"/>
<circle cx="643.4" cy="281.3" r=".6" fill="#1a80d0" fill-opacity=".75"/>
<circle cx="643.6" cy="256.6" r=".6" fill="#1a80d0" fill-opacity=".75"/>
<circle cx="643.4" cy="288.3" r=".6" fill="#1a80d0" fill-opacity=".75"/>
<circle cx="643.8" cy="269.0" r=".6" fill="#1a80d0" fill-opacity=".75"/>
<circle cx="643.4" cy="262.8" r=".6" fill="#1a80d0" fill-opacity=".75"/>
<circle cx="643.6" cy="278.6" r=".6" fill="#1a80d0" fill-opacity=".75"/>
<circle cx="643.5" cy="275.9" r=".6" fill="#1a80d0" fill-opacity=".75"/>
<circle cx="643.5" cy="294.6" r=".6" fill="#1a80d0" fill-opacity=".75"/>
<circle cx="643.6" cy="269.8" r=".6" fill="#1a80d0" fill-opacity=".75"/>
<circle cx="643.9" cy="268.7" r=".6" fill="#1a80d0" fill-opacity=".75"/>
<circle cx="643.5" cy="282.4" r=".6" fill="#1a80d0" fill-opacity=".75"/>
<circle cx="643.4" cy="270.8" r=".6" fill="#1a80d0" fill-opacity=".75"/>
<circle cx="643.3" cy="282.6" r=".6" fill="#1a80d0" fill-opacity=".75"/>
<circle cx="643.3" cy="276.0" r=".6" fill="#1a80d0" fill-opacity=".75"/>
<circle cx="643.8" cy="259.4" r=".6" fill="#1a80d0" fill-opacity=".75"/>
<circle cx="643.4" cy="268.4" r=".6" fill="#1a80d0" fill-opacity=".75"/>
<circle cx="643.5" cy="279.4" r=".6" fill="#1a80d0" fill-opacity=".75"/>
<circle cx="643.5" cy="276.3" r=".6" fill="#1a80d0" fill-opacity=".75"/>
<circle cx="643.6" cy="275.8" r=".6" fill="#1a80d0" fill-opacity=".75"/>
<circle cx="643.6" cy="258.5" r=".6" fill="#1a80d0" fill-opacity=".75"/>
<circle cx="643.8" cy="273.8" r=".6" fill="#1a80d0" fill-opacity=".75"/>
<circle cx="643.9" cy="267.7" r=".6" fill="#1a80d0" fill-opacity=".75"/>
<circle cx="643.8" cy="257.1" r=".6" fill="#1a80d0" fill-opacity=".75"/>
<circle cx="643.5" cy="255.0" r=".6" fill="#1a80d0" fill-opacity=".75"/>
<circle cx="643.60" cy="252.70" r="0.6" fill="#1a80d0"/>
<circle cx="643.60" cy="296.60" r="0.6" fill="#1a80d0"/>
<text x="620.5" y="261.00" font-size="8.25" fill="#1a1a1a">0.001</text>
<line x1="654" y1="252.4" x2="654" y2="297.4" stroke="#3a9ad8" stroke-width="0.7" stroke-opacity="0.6"/>
<line x1="652.7" y1="252.4" x2="655.3" y2="252.4" stroke="#3a9ad8" stroke-width="0.7"/>
<line x1="652.7" y1="297.4" x2="655.3" y2="297.4" stroke="#3a9ad8" stroke-width="0.7"/>
<rect x="649.25" y="264.8" width="9.5" height="19.70" fill="#80d4f5" fill-opacity="0.92" stroke="#3a9ad8" stroke-width="0.7"/>
<line x1="649.25" y1="270.9" x2="658.75" y2="270.9" stroke="#3a9ad8" stroke-width="0.7"/>
<circle cx="653.8" cy="264.6" r=".6" fill="#1a80d0" fill-opacity=".75"/>
<circle cx="653.8" cy="285.9" r=".6" fill="#1a80d0" fill-opacity=".75"/>
<circle cx="654.3" cy="257.7" r=".6" fill="#1a80d0" fill-opacity=".75"/>
<circle cx="654.1" cy="273.8" r=".6" fill="#1a80d0" fill-opacity=".75"/>
<circle cx="653.8" cy="268.4" r=".6" fill="#1a80d0" fill-opacity=".75"/>
<circle cx="653.9" cy="264.8" r=".6" fill="#1a80d0" fill-opacity=".75"/>
<circle cx="653.8" cy="271.1" r=".6" fill="#1a80d0" fill-opacity=".75"/>
<circle cx="654.3" cy="260.1" r=".6" fill="#1a80d0" fill-opacity=".75"/>
<circle cx="653.8" cy="259.9" r=".6" fill="#1a80d0" fill-opacity=".75"/>
<circle cx="653.9" cy="269.9" r=".6" fill="#1a80d0" fill-opacity=".75"/>
<circle cx="653.8" cy="266.8" r=".6" fill="#1a80d0" fill-opacity=".75"/>
<circle cx="653.8" cy="281.5" r=".6" fill="#1a80d0" fill-opacity=".75"/>
<circle cx="654.2" cy="285.3" r=".6" fill="#1a80d0" fill-opacity=".75"/>
<circle cx="654.2" cy="287.7" r=".6" fill="#1a80d0" fill-opacity=".75"/>
<circle cx="653.8" cy="282.5" r=".6" fill="#1a80d0" fill-opacity=".75"/>
<circle cx="654.0" cy="275.9" r=".6" fill="#1a80d0" fill-opacity=".75"/>
<circle cx="654.3" cy="295.2" r=".6" fill="#1a80d0" fill-opacity=".75"/>
<circle cx="654.3" cy="263.2" r=".6" fill="#1a80d0" fill-opacity=".75"/>
<circle cx="653.9" cy="283.4" r=".6" fill="#1a80d0" fill-opacity=".75"/>
<circle cx="653.8" cy="264.4" r=".6" fill="#1a80d0" fill-opacity=".75"/>
<circle cx="653.8" cy="261.0" r=".6" fill="#1a80d0" fill-opacity=".75"/>
<circle cx="654.1" cy="285.5" r=".6" fill="#1a80d0" fill-opacity=".75"/>
<circle cx="654.3" cy="265.5" r=".6" fill="#1a80d0" fill-opacity=".75"/>
<circle cx="653.8" cy="266.9" r=".6" fill="#1a80d0" fill-opacity=".75"/>
<circle cx="653.9" cy="275.8" r=".6" fill="#1a80d0" fill-opacity=".75"/>
<circle cx="654.2" cy="264.9" r=".6" fill="#1a80d0" fill-opacity=".75"/>
<circle cx="653.7" cy="257.1" r=".6" fill="#1a80d0" fill-opacity=".75"/>
<circle cx="654.2" cy="284.0" r=".6" fill="#1a80d0" fill-opacity=".75"/>
<circle cx="654.0" cy="265.1" r=".6" fill="#1a80d0" fill-opacity=".75"/>
<circle cx="654.0" cy="275.6" r=".6" fill="#1a80d0" fill-opacity=".75"/>
<circle cx="653.7" cy="259.5" r=".6" fill="#1a80d0" fill-opacity=".75"/>
<circle cx="654.2" cy="265.0" r=".6" fill="#1a80d0" fill-opacity=".75"/>
<circle cx="654.1" cy="271.3" r=".6" fill="#1a80d0" fill-opacity=".75"/>
<circle cx="654.3" cy="288.8" r=".6" fill="#1a80d0" fill-opacity=".75"/>
<circle cx="654.1" cy="276.7" r=".6" fill="#1a80d0" fill-opacity=".75"/>
<circle cx="654.1" cy="269.3" r=".6" fill="#1a80d0" fill-opacity=".75"/>
<circle cx="654.3" cy="268.9" r=".6" fill="#1a80d0" fill-opacity=".75"/>
<circle cx="654.0" cy="269.3" r=".6" fill="#1a80d0" fill-opacity=".75"/>
<circle cx="653.9" cy="255.8" r=".6" fill="#1a80d0" fill-opacity=".75"/>
<circle cx="653.9" cy="276.9" r=".6" fill="#1a80d0" fill-opacity=".75"/>
<circle cx="654.3" cy="278.5" r=".6" fill="#1a80d0" fill-opacity=".75"/>
<circle cx="654.1" cy="272.9" r=".6" fill="#1a80d0" fill-opacity=".75"/>
<circle cx="654.2" cy="272.9" r=".6" fill="#1a80d0" fill-opacity=".75"/>
<circle cx="654.1" cy="278.9" r=".6" fill="#1a80d0" fill-opacity=".75"/>
<circle cx="653.9" cy="264.2" r=".6" fill="#1a80d0" fill-opacity=".75"/>
<circle cx="654.3" cy="267.0" r=".6" fill="#1a80d0" fill-opacity=".75"/>
<circle cx="653.7" cy="286.1" r=".6" fill="#1a80d0" fill-opacity=".75"/>
<circle cx="654.3" cy="271.2" r=".6" fill="#1a80d0" fill-opacity=".75"/>
<circle cx="654.2" cy="293.0" r=".6" fill="#1a80d0" fill-opacity=".75"/>
<circle cx="654.1" cy="270.4" r=".6" fill="#1a80d0" fill-opacity=".75"/>
<circle cx="654.0" cy="266.6" r=".6" fill="#1a80d0" fill-opacity=".75"/>
<circle cx="654.0" cy="262.7" r=".6" fill="#1a80d0" fill-opacity=".75"/>
<circle cx="654.2" cy="271.3" r=".6" fill="#1a80d0" fill-opacity=".75"/>
<circle cx="654.0" cy="291.1" r=".6" fill="#1a80d0" fill-opacity=".75"/>
<circle cx="653.9" cy="292.8" r=".6" fill="#1a80d0" fill-opacity=".75"/>
<circle cx="654.1" cy="272.0" r=".6" fill="#1a80d0" fill-opacity=".75"/>
<circle cx="654.0" cy="287.1" r=".6" fill="#1a80d0" fill-opacity=".75"/>
<circle cx="654.0" cy="284.4" r=".6" fill="#1a80d0" fill-opacity=".75"/>
<circle cx="654.3" cy="259.8" r=".6" fill="#1a80d0" fill-opacity=".75"/>
<circle cx="653.9" cy="271.5" r=".6" fill="#1a80d0" fill-opacity=".75"/>
<circle cx="653.9" cy="273.5" r=".6" fill="#1a80d0" fill-opacity=".75"/>
<circle cx="653.7" cy="281.7" r=".6" fill="#1a80d0" fill-opacity=".75"/>
<circle cx="654.3" cy="281.6" r=".6" fill="#1a80d0" fill-opacity=".75"/>
<circle cx="654.1" cy="273.8" r=".6" fill="#1a80d0" fill-opacity=".75"/>
<circle cx="653.9" cy="267.8" r=".6" fill="#1a80d0" fill-opacity=".75"/>
<circle cx="654.0" cy="269.6" r=".6" fill="#1a80d0" fill-opacity=".75"/>
<circle cx="654.1" cy="261.1" r=".6" fill="#1a80d0" fill-opacity=".75"/>
<circle cx="654.00" cy="252.70" r="0.6" fill="#1a80d0"/>
<circle cx="654.00" cy="297.10" r="0.6" fill="#1a80d0"/>
<text x="656.7" y="292.50" font-size="8.25" fill="#1a1a1a">0.01</text>
<line x1="665.1" y1="296.9" x2="665.1" y2="337.6" stroke="#3a9ad8" stroke-width="0.7" stroke-opacity="0.6"/>
<line x1="663.8000000000001" y1="296.9" x2="666.4" y2="296.9" stroke="#3a9ad8" stroke-width="0.7"/>
<line x1="663.8000000000001" y1="337.6" x2="666.4" y2="337.6" stroke="#3a9ad8" stroke-width="0.7"/>
<rect x="660.35" y="303" width="9.5" height="25.10" fill="#80d4f5" fill-opacity="0.92" stroke="#3a9ad8" stroke-width="0.7"/>
<line x1="660.35" y1="311.2" x2="669.85" y2="311.2" stroke="#3a9ad8" stroke-width="0.7"/>
<circle cx="665.0" cy="313.0" r=".6" fill="#1a80d0" fill-opacity=".75"/>
<circle cx="665.3" cy="300.1" r=".6" fill="#1a80d0" fill-opacity=".75"/>
<circle cx="664.9" cy="328.5" r=".6" fill="#1a80d0" fill-opacity=".75"/>
<circle cx="665.2" cy="313.4" r=".6" fill="#1a80d0" fill-opacity=".75"/>
<circle cx="665.2" cy="319.8" r=".6" fill="#1a80d0" fill-opacity=".75"/>
<circle cx="665.4" cy="308.8" r=".6" fill="#1a80d0" fill-opacity=".75"/>
<circle cx="665.3" cy="299.7" r=".6" fill="#1a80d0" fill-opacity=".75"/>
<circle cx="665.1" cy="302.4" r=".6" fill="#1a80d0" fill-opacity=".75"/>
<circle cx="665.1" cy="306.9" r=".6" fill="#1a80d0" fill-opacity=".75"/>
<circle cx="665.0" cy="321.0" r=".6" fill="#1a80d0" fill-opacity=".75"/>
<circle cx="665.0" cy="323.6" r=".6" fill="#1a80d0" fill-opacity=".75"/>
<circle cx="664.8" cy="319.2" r=".6" fill="#1a80d0" fill-opacity=".75"/>
<circle cx="665.2" cy="309.8" r=".6" fill="#1a80d0" fill-opacity=".75"/>
<circle cx="665.2" cy="323.6" r=".6" fill="#1a80d0" fill-opacity=".75"/>
<circle cx="664.8" cy="302.0" r=".6" fill="#1a80d0" fill-opacity=".75"/>
<circle cx="665.3" cy="321.4" r=".6" fill="#1a80d0" fill-opacity=".75"/>
<circle cx="665.1" cy="325.4" r=".6" fill="#1a80d0" fill-opacity=".75"/>
<circle cx="665.0" cy="305.5" r=".6" fill="#1a80d0" fill-opacity=".75"/>
<circle cx="665.3" cy="325.3" r=".6" fill="#1a80d0" fill-opacity=".75"/>
<circle cx="665.2" cy="312.0" r=".6" fill="#1a80d0" fill-opacity=".75"/>
<circle cx="665.3" cy="325.4" r=".6" fill="#1a80d0" fill-opacity=".75"/>
<circle cx="664.9" cy="314.7" r=".6" fill="#1a80d0" fill-opacity=".75"/>
<circle cx="665.3" cy="322.3" r=".6" fill="#1a80d0" fill-opacity=".75"/>
<circle cx="665.4" cy="330.0" r=".6" fill="#1a80d0" fill-opacity=".75"/>
<circle cx="665.2" cy="327.6" r=".6" fill="#1a80d0" fill-opacity=".75"/>
<circle cx="664.8" cy="301.1" r=".6" fill="#1a80d0" fill-opacity=".75"/>
<circle cx="665.2" cy="313.8" r=".6" fill="#1a80d0" fill-opacity=".75"/>
<circle cx="665.2" cy="325.3" r=".6" fill="#1a80d0" fill-opacity=".75"/>
<circle cx="665.4" cy="317.7" r=".6" fill="#1a80d0" fill-opacity=".75"/>
<circle cx="665.2" cy="304.9" r=".6" fill="#1a80d0" fill-opacity=".75"/>
<circle cx="665.1" cy="305.5" r=".6" fill="#1a80d0" fill-opacity=".75"/>
<circle cx="665.2" cy="311.3" r=".6" fill="#1a80d0" fill-opacity=".75"/>
<circle cx="665.0" cy="320.9" r=".6" fill="#1a80d0" fill-opacity=".75"/>
<circle cx="665.1" cy="320.5" r=".6" fill="#1a80d0" fill-opacity=".75"/>
<circle cx="665.3" cy="302.1" r=".6" fill="#1a80d0" fill-opacity=".75"/>
<circle cx="664.9" cy="329.0" r=".6" fill="#1a80d0" fill-opacity=".75"/>
<circle cx="665.4" cy="308.1" r=".6" fill="#1a80d0" fill-opacity=".75"/>
<circle cx="665.2" cy="327.0" r=".6" fill="#1a80d0" fill-opacity=".75"/>
<circle cx="664.9" cy="306.3" r=".6" fill="#1a80d0" fill-opacity=".75"/>
<circle cx="665.2" cy="325.1" r=".6" fill="#1a80d0" fill-opacity=".75"/>
<circle cx="664.9" cy="308.5" r=".6" fill="#1a80d0" fill-opacity=".75"/>
<circle cx="665.1" cy="315.3" r=".6" fill="#1a80d0" fill-opacity=".75"/>
<circle cx="665.2" cy="318.8" r=".6" fill="#1a80d0" fill-opacity=".75"/>
<circle cx="665.3" cy="325.2" r=".6" fill="#1a80d0" fill-opacity=".75"/>
<circle cx="665.2" cy="297.0" r=".6" fill="#1a80d0" fill-opacity=".75"/>
<circle cx="665.0" cy="309.8" r=".6" fill="#1a80d0" fill-opacity=".75"/>
<circle cx="665.0" cy="313.4" r=".6" fill="#1a80d0" fill-opacity=".75"/>
<circle cx="665.1" cy="300.6" r=".6" fill="#1a80d0" fill-opacity=".75"/>
<circle cx="664.9" cy="320.6" r=".6" fill="#1a80d0" fill-opacity=".75"/>
<circle cx="664.9" cy="305.1" r=".6" fill="#1a80d0" fill-opacity=".75"/>
<circle cx="665.0" cy="315.0" r=".6" fill="#1a80d0" fill-opacity=".75"/>
<circle cx="665.3" cy="327.5" r=".6" fill="#1a80d0" fill-opacity=".75"/>
<circle cx="665.0" cy="323.2" r=".6" fill="#1a80d0" fill-opacity=".75"/>
<circle cx="665.1" cy="317.3" r=".6" fill="#1a80d0" fill-opacity=".75"/>
<circle cx="665.4" cy="323.6" r=".6" fill="#1a80d0" fill-opacity=".75"/>
<circle cx="665.1" cy="304.5" r=".6" fill="#1a80d0" fill-opacity=".75"/>
<circle cx="665.0" cy="303.6" r=".6" fill="#1a80d0" fill-opacity=".75"/>
<circle cx="665.0" cy="336.8" r=".6" fill="#1a80d0" fill-opacity=".75"/>
<circle cx="665.1" cy="304.6" r=".6" fill="#1a80d0" fill-opacity=".75"/>
<circle cx="665.0" cy="314.3" r=".6" fill="#1a80d0" fill-opacity=".75"/>
<circle cx="665.2" cy="322.4" r=".6" fill="#1a80d0" fill-opacity=".75"/>
<circle cx="665.2" cy="310.0" r=".6" fill="#1a80d0" fill-opacity=".75"/>
<circle cx="665.1" cy="310.9" r=".6" fill="#1a80d0" fill-opacity=".75"/>
<circle cx="664.9" cy="324.3" r=".6" fill="#1a80d0" fill-opacity=".75"/>
<circle cx="665.3" cy="317.3" r=".6" fill="#1a80d0" fill-opacity=".75"/>
<circle cx="664.9" cy="306.1" r=".6" fill="#1a80d0" fill-opacity=".75"/>
<circle cx="665.0" cy="307.3" r=".6" fill="#1a80d0" fill-opacity=".75"/>
<circle cx="665.3" cy="325.8" r=".6" fill="#1a80d0" fill-opacity=".75"/>
<circle cx="665.3" cy="318.1" r=".6" fill="#1a80d0" fill-opacity=".75"/>
<circle cx="664.8" cy="306.0" r=".6" fill="#1a80d0" fill-opacity=".75"/>
<circle cx="664.9" cy="303.7" r=".6" fill="#1a80d0" fill-opacity=".75"/>
<circle cx="665.3" cy="310.0" r=".6" fill="#1a80d0" fill-opacity=".75"/>
<circle cx="665.2" cy="334.0" r=".6" fill="#1a80d0" fill-opacity=".75"/>
<circle cx="665.4" cy="298.7" r=".6" fill="#1a80d0" fill-opacity=".75"/>
<circle cx="665.3" cy="317.1" r=".6" fill="#1a80d0" fill-opacity=".75"/>
<circle cx="665.4" cy="308.1" r=".6" fill="#1a80d0" fill-opacity=".75"/>
<circle cx="665.0" cy="316.0" r=".6" fill="#1a80d0" fill-opacity=".75"/>
<circle cx="665.10" cy="297.20" r="0.6" fill="#1a80d0"/>
<circle cx="665.10" cy="337.30" r="0.6" fill="#1a80d0"/>
<text x="650.4" y="336.10" font-size="8.25" fill="#1a1a1a">0.1</text>
<line x1="633" y1="365.5" x2="633" y2="415.3" stroke="#cbc23c" stroke-width="0.7" stroke-opacity="0.6"/>
<line x1="631.7" y1="365.5" x2="634.3" y2="365.5" stroke="#cbc23c" stroke-width="0.7"/>
<line x1="631.7" y1="415.3" x2="634.3" y2="415.3" stroke="#cbc23c" stroke-width="0.7"/>
<rect x="628.25" y="378.2" width="9.5" height="20.10" fill="#fdf87a" fill-opacity="0.92" stroke="#cbc23c" stroke-width="0.7"/>
<line x1="628.25" y1="385.4" x2="637.75" y2="385.4" stroke="#cbc23c" stroke-width="0.7"/>
<circle cx="633.1" cy="389.7" r=".6" fill="#b0a820" fill-opacity=".75"/>
<circle cx="632.9" cy="379.3" r=".6" fill="#b0a820" fill-opacity=".75"/>
<circle cx="632.8" cy="395.0" r=".6" fill="#b0a820" fill-opacity=".75"/>
<circle cx="632.8" cy="377.4" r=".6" fill="#b0a820" fill-opacity=".75"/>
<circle cx="633.1" cy="399.6" r=".6" fill="#b0a820" fill-opacity=".75"/>
<circle cx="632.9" cy="380.4" r=".6" fill="#b0a820" fill-opacity=".75"/>
<circle cx="632.8" cy="374.4" r=".6" fill="#b0a820" fill-opacity=".75"/>
<circle cx="633.1" cy="389.8" r=".6" fill="#b0a820" fill-opacity=".75"/>
<circle cx="632.9" cy="385.0" r=".6" fill="#b0a820" fill-opacity=".75"/>
<circle cx="633.3" cy="391.6" r=".6" fill="#b0a820" fill-opacity=".75"/>
<circle cx="632.8" cy="400.1" r=".6" fill="#b0a820" fill-opacity=".75"/>
<circle cx="633.1" cy="396.1" r=".6" fill="#b0a820" fill-opacity=".75"/>
<circle cx="633.0" cy="403.4" r=".6" fill="#b0a820" fill-opacity=".75"/>
<circle cx="632.8" cy="398.4" r=".6" fill="#b0a820" fill-opacity=".75"/>
<circle cx="632.8" cy="412.8" r=".6" fill="#b0a820" fill-opacity=".75"/>
<circle cx="633.0" cy="386.3" r=".6" fill="#b0a820" fill-opacity=".75"/>
<circle cx="633.0" cy="403.3" r=".6" fill="#b0a820" fill-opacity=".75"/>
<circle cx="633.0" cy="380.9" r=".6" fill="#b0a820" fill-opacity=".75"/>
<circle cx="632.7" cy="412.5" r=".6" fill="#b0a820" fill-opacity=".75"/>
<circle cx="632.9" cy="392.7" r=".6" fill="#b0a820" fill-opacity=".75"/>
<circle cx="633.2" cy="398.0" r=".6" fill="#b0a820" fill-opacity=".75"/>
<circle cx="632.8" cy="401.2" r=".6" fill="#b0a820" fill-opacity=".75"/>
<circle cx="633.1" cy="377.4" r=".6" fill="#b0a820" fill-opacity=".75"/>
<circle cx="632.8" cy="413.3" r=".6" fill="#b0a820" fill-opacity=".75"/>
<circle cx="632.9" cy="375.1" r=".6" fill="#b0a820" fill-opacity=".75"/>
<circle cx="632.9" cy="397.6" r=".6" fill="#b0a820" fill-opacity=".75"/>
<circle cx="632.8" cy="403.5" r=".6" fill="#b0a820" fill-opacity=".75"/>
<circle cx="632.8" cy="393.1" r=".6" fill="#b0a820" fill-opacity=".75"/>
<circle cx="632.9" cy="398.4" r=".6" fill="#b0a820" fill-opacity=".75"/>
<circle cx="632.9" cy="367.5" r=".6" fill="#b0a820" fill-opacity=".75"/>
<circle cx="633.2" cy="379.4" r=".6" fill="#b0a820" fill-opacity=".75"/>
<circle cx="633.3" cy="396.7" r=".6" fill="#b0a820" fill-opacity=".75"/>
<circle cx="633.2" cy="392.4" r=".6" fill="#b0a820" fill-opacity=".75"/>
<circle cx="633.0" cy="407.7" r=".6" fill="#b0a820" fill-opacity=".75"/>
<circle cx="633.2" cy="373.3" r=".6" fill="#b0a820" fill-opacity=".75"/>
<circle cx="632.9" cy="378.7" r=".6" fill="#b0a820" fill-opacity=".75"/>
<circle cx="632.8" cy="382.1" r=".6" fill="#b0a820" fill-opacity=".75"/>
<circle cx="632.9" cy="394.7" r=".6" fill="#b0a820" fill-opacity=".75"/>
<circle cx="633.0" cy="376.1" r=".6" fill="#b0a820" fill-opacity=".75"/>
<circle cx="633.2" cy="404.2" r=".6" fill="#b0a820" fill-opacity=".75"/>
<circle cx="633.2" cy="399.2" r=".6" fill="#b0a820" fill-opacity=".75"/>
<circle cx="632.8" cy="394.9" r=".6" fill="#b0a820" fill-opacity=".75"/>
<circle cx="633.2" cy="376.6" r=".6" fill="#b0a820" fill-opacity=".75"/>
<circle cx="632.9" cy="380.4" r=".6" fill="#b0a820" fill-opacity=".75"/>
<circle cx="632.8" cy="372.0" r=".6" fill="#b0a820" fill-opacity=".75"/>
<circle cx="633.2" cy="393.5" r=".6" fill="#b0a820" fill-opacity=".75"/>
<circle cx="632.9" cy="371.0" r=".6" fill="#b0a820" fill-opacity=".75"/>
<circle cx="633.1" cy="377.7" r=".6" fill="#b0a820" fill-opacity=".75"/>
<circle cx="633.2" cy="401.5" r=".6" fill="#b0a820" fill-opacity=".75"/>
<circle cx="632.9" cy="371.6" r=".6" fill="#b0a820" fill-opacity=".75"/>
<circle cx="633.2" cy="403.6" r=".6" fill="#b0a820" fill-opacity=".75"/>
<circle cx="632.9" cy="386.6" r=".6" fill="#b0a820" fill-opacity=".75"/>
<circle cx="632.9" cy="366.5" r=".6" fill="#b0a820" fill-opacity=".75"/>
<circle cx="632.9" cy="405.5" r=".6" fill="#b0a820" fill-opacity=".75"/>
<circle cx="632.8" cy="367.7" r=".6" fill="#b0a820" fill-opacity=".75"/>
<circle cx="632.7" cy="398.4" r=".6" fill="#b0a820" fill-opacity=".75"/>
<circle cx="633.0" cy="392.1" r=".6" fill="#b0a820" fill-opacity=".75"/>
<circle cx="633.0" cy="368.4" r=".6" fill="#b0a820" fill-opacity=".75"/>
<circle cx="632.8" cy="369.3" r=".6" fill="#b0a820" fill-opacity=".75"/>
<circle cx="633.3" cy="395.6" r=".6" fill="#b0a820" fill-opacity=".75"/>
<circle cx="633.1" cy="391.9" r=".6" fill="#b0a820" fill-opacity=".75"/>
<circle cx="633.1" cy="390.3" r=".6" fill="#b0a820" fill-opacity=".75"/>
<circle cx="633.3" cy="393.4" r=".6" fill="#b0a820" fill-opacity=".75"/>
<circle cx="632.8" cy="387.5" r=".6" fill="#b0a820" fill-opacity=".75"/>
<circle cx="633.2" cy="386.1" r=".6" fill="#b0a820" fill-opacity=".75"/>
<circle cx="633.2" cy="395.9" r=".6" fill="#b0a820" fill-opacity=".75"/>
<circle cx="632.8" cy="400.4" r=".6" fill="#b0a820" fill-opacity=".75"/>
<circle cx="633.1" cy="379.9" r=".6" fill="#b0a820" fill-opacity=".75"/>
<circle cx="632.9" cy="371.8" r=".6" fill="#b0a820" fill-opacity=".75"/>
<circle cx="633.00" cy="365.80" r="0.6" fill="#b0a820"/>
<circle cx="633.00" cy="415.00" r="0.6" fill="#b0a820"/>
<text x="618.9" y="407.00" font-size="8.25" fill="#1a1a1a">0.1</text>
<line x1="675.9" y1="399.5" x2="675.9" y2="459" stroke="#9060c4" stroke-width="0.7" stroke-opacity="0.6"/>
<line x1="674.6" y1="399.5" x2="677.1999999999999" y2="399.5" stroke="#9060c4" stroke-width="0.7"/>
<line x1="674.6" y1="459" x2="677.1999999999999" y2="459" stroke="#9060c4" stroke-width="0.7"/>
<rect x="671.15" y="410.8" width="9.5" height="26.80" fill="#b293d2" fill-opacity="0.92" stroke="#9060c4" stroke-width="0.7"/>
<line x1="671.15" y1="422.1" x2="680.65" y2="422.1" stroke="#9060c4" stroke-width="0.7"/>
<circle cx="676.2" cy="435.7" r=".6" fill="#7a40b0" fill-opacity=".75"/>
<circle cx="675.8" cy="428.2" r=".6" fill="#7a40b0" fill-opacity=".75"/>
<circle cx="676.1" cy="419.5" r=".6" fill="#7a40b0" fill-opacity=".75"/>
<circle cx="676.0" cy="453.1" r=".6" fill="#7a40b0" fill-opacity=".75"/>
<circle cx="676.1" cy="429.9" r=".6" fill="#7a40b0" fill-opacity=".75"/>
<circle cx="675.6" cy="412.9" r=".6" fill="#7a40b0" fill-opacity=".75"/>
<circle cx="675.9" cy="447.2" r=".6" fill="#7a40b0" fill-opacity=".75"/>
<circle cx="676.1" cy="403.2" r=".6" fill="#7a40b0" fill-opacity=".75"/>
<circle cx="676.0" cy="432.8" r=".6" fill="#7a40b0" fill-opacity=".75"/>
<circle cx="676.1" cy="436.6" r=".6" fill="#7a40b0" fill-opacity=".75"/>
<circle cx="675.7" cy="418.5" r=".6" fill="#7a40b0" fill-opacity=".75"/>
<circle cx="675.6" cy="417.2" r=".6" fill="#7a40b0" fill-opacity=".75"/>
<circle cx="675.8" cy="406.3" r=".6" fill="#7a40b0" fill-opacity=".75"/>
<circle cx="675.9" cy="414.7" r=".6" fill="#7a40b0" fill-opacity=".75"/>
<circle cx="676.1" cy="442.6" r=".6" fill="#7a40b0" fill-opacity=".75"/>
<circle cx="675.8" cy="402.0" r=".6" fill="#7a40b0" fill-opacity=".75"/>
<circle cx="676.0" cy="414.3" r=".6" fill="#7a40b0" fill-opacity=".75"/>
<circle cx="676.1" cy="452.9" r=".6" fill="#7a40b0" fill-opacity=".75"/>
<circle cx="675.6" cy="413.4" r=".6" fill="#7a40b0" fill-opacity=".75"/>
<circle cx="675.7" cy="435.1" r=".6" fill="#7a40b0" fill-opacity=".75"/>
<circle cx="675.9" cy="434.9" r=".6" fill="#7a40b0" fill-opacity=".75"/>
<circle cx="676.2" cy="418.8" r=".6" fill="#7a40b0" fill-opacity=".75"/>
<circle cx="675.6" cy="424.6" r=".6" fill="#7a40b0" fill-opacity=".75"/>
<circle cx="675.8" cy="435.9" r=".6" fill="#7a40b0" fill-opacity=".75"/>
<circle cx="675.8" cy="444.9" r=".6" fill="#7a40b0" fill-opacity=".75"/>
<circle cx="676.0" cy="430.6" r=".6" fill="#7a40b0" fill-opacity=".75"/>
<circle cx="675.8" cy="412.1" r=".6" fill="#7a40b0" fill-opacity=".75"/>
<circle cx="676.0" cy="419.2" r=".6" fill="#7a40b0" fill-opacity=".75"/>
<circle cx="675.8" cy="400.3" r=".6" fill="#7a40b0" fill-opacity=".75"/>
<circle cx="675.6" cy="426.1" r=".6" fill="#7a40b0" fill-opacity=".75"/>
<circle cx="675.7" cy="427.9" r=".6" fill="#7a40b0" fill-opacity=".75"/>
<circle cx="676.1" cy="448.1" r=".6" fill="#7a40b0" fill-opacity=".75"/>
<circle cx="675.7" cy="431.4" r=".6" fill="#7a40b0" fill-opacity=".75"/>
<circle cx="675.8" cy="401.1" r=".6" fill="#7a40b0" fill-opacity=".75"/>
<circle cx="675.7" cy="417.6" r=".6" fill="#7a40b0" fill-opacity=".75"/>
<circle cx="675.8" cy="440.6" r=".6" fill="#7a40b0" fill-opacity=".75"/>
<circle cx="676.0" cy="422.8" r=".6" fill="#7a40b0" fill-opacity=".75"/>
<circle cx="675.8" cy="451.2" r=".6" fill="#7a40b0" fill-opacity=".75"/>
<circle cx="676.1" cy="446.9" r=".6" fill="#7a40b0" fill-opacity=".75"/>
<circle cx="675.7" cy="414.0" r=".6" fill="#7a40b0" fill-opacity=".75"/>
<circle cx="676.2" cy="437.0" r=".6" fill="#7a40b0" fill-opacity=".75"/>
<circle cx="675.6" cy="402.3" r=".6" fill="#7a40b0" fill-opacity=".75"/>
<circle cx="676.2" cy="413.5" r=".6" fill="#7a40b0" fill-opacity=".75"/>
<circle cx="675.8" cy="430.7" r=".6" fill="#7a40b0" fill-opacity=".75"/>
<circle cx="676.2" cy="418.5" r=".6" fill="#7a40b0" fill-opacity=".75"/>
<circle cx="675.8" cy="411.3" r=".6" fill="#7a40b0" fill-opacity=".75"/>
<circle cx="675.8" cy="429.8" r=".6" fill="#7a40b0" fill-opacity=".75"/>
<circle cx="675.9" cy="404.7" r=".6" fill="#7a40b0" fill-opacity=".75"/>
<circle cx="676.2" cy="415.1" r=".6" fill="#7a40b0" fill-opacity=".75"/>
<circle cx="675.8" cy="408.8" r=".6" fill="#7a40b0" fill-opacity=".75"/>
<circle cx="675.8" cy="423.7" r=".6" fill="#7a40b0" fill-opacity=".75"/>
<circle cx="676.2" cy="418.6" r=".6" fill="#7a40b0" fill-opacity=".75"/>
<circle cx="675.9" cy="421.6" r=".6" fill="#7a40b0" fill-opacity=".75"/>
<circle cx="675.7" cy="441.1" r=".6" fill="#7a40b0" fill-opacity=".75"/>
<circle cx="675.7" cy="414.6" r=".6" fill="#7a40b0" fill-opacity=".75"/>
<circle cx="676.0" cy="428.8" r=".6" fill="#7a40b0" fill-opacity=".75"/>
<circle cx="675.8" cy="418.4" r=".6" fill="#7a40b0" fill-opacity=".75"/>
<circle cx="676.2" cy="427.1" r=".6" fill="#7a40b0" fill-opacity=".75"/>
<circle cx="676.1" cy="428.4" r=".6" fill="#7a40b0" fill-opacity=".75"/>
<circle cx="676.2" cy="431.1" r=".6" fill="#7a40b0" fill-opacity=".75"/>
<circle cx="675.8" cy="444.0" r=".6" fill="#7a40b0" fill-opacity=".75"/>
<circle cx="675.9" cy="411.2" r=".6" fill="#7a40b0" fill-opacity=".75"/>
<circle cx="676.0" cy="454.0" r=".6" fill="#7a40b0" fill-opacity=".75"/>
<circle cx="676.1" cy="418.3" r=".6" fill="#7a40b0" fill-opacity=".75"/>
<circle cx="676.1" cy="400.7" r=".6" fill="#7a40b0" fill-opacity=".75"/>
<circle cx="675.7" cy="435.9" r=".6" fill="#7a40b0" fill-opacity=".75"/>
<circle cx="675.9" cy="424.9" r=".6" fill="#7a40b0" fill-opacity=".75"/>
<circle cx="675.9" cy="418.7" r=".6" fill="#7a40b0" fill-opacity=".75"/>
<circle cx="675.9" cy="449.3" r=".6" fill="#7a40b0" fill-opacity=".75"/>
<circle cx="675.7" cy="457.8" r=".6" fill="#7a40b0" fill-opacity=".75"/>
<circle cx="675.9" cy="399.5" r=".6" fill="#7a40b0" fill-opacity=".75"/>
<circle cx="675.6" cy="436.1" r=".6" fill="#7a40b0" fill-opacity=".75"/>
<circle cx="675.7" cy="448.3" r=".6" fill="#7a40b0" fill-opacity=".75"/>
<circle cx="675.8" cy="439.3" r=".6" fill="#7a40b0" fill-opacity=".75"/>
<circle cx="676.1" cy="436.1" r=".6" fill="#7a40b0" fill-opacity=".75"/>
<circle cx="676.1" cy="423.0" r=".6" fill="#7a40b0" fill-opacity=".75"/>
<circle cx="676.0" cy="423.9" r=".6" fill="#7a40b0" fill-opacity=".75"/>
<circle cx="675.9" cy="419.6" r=".6" fill="#7a40b0" fill-opacity=".75"/>
<circle cx="675.7" cy="425.0" r=".6" fill="#7a40b0" fill-opacity=".75"/>
<circle cx="676.0" cy="424.1" r=".6" fill="#7a40b0" fill-opacity=".75"/>
<circle cx="675.7" cy="429.7" r=".6" fill="#7a40b0" fill-opacity=".75"/>
<circle cx="676.2" cy="425.7" r=".6" fill="#7a40b0" fill-opacity=".75"/>
<circle cx="675.8" cy="443.1" r=".6" fill="#7a40b0" fill-opacity=".75"/>
<circle cx="675.7" cy="413.0" r=".6" fill="#7a40b0" fill-opacity=".75"/>
<circle cx="675.8" cy="442.7" r=".6" fill="#7a40b0" fill-opacity=".75"/>
<circle cx="676.1" cy="416.7" r=".6" fill="#7a40b0" fill-opacity=".75"/>
<circle cx="675.7" cy="405.4" r=".6" fill="#7a40b0" fill-opacity=".75"/>
<circle cx="675.90" cy="399.80" r="0.6" fill="#7a40b0"/>
<circle cx="675.90" cy="458.70" r="0.6" fill="#7a40b0"/>
<line x1="558.4" y1="421.1" x2="558.4" y2="465.1" stroke="#8a8a8a" stroke-width="0.7" stroke-opacity="0.6"/>
<line x1="557.1" y1="421.1" x2="559.6999999999999" y2="421.1" stroke="#8a8a8a" stroke-width="0.7"/>
<line x1="557.1" y1="465.1" x2="559.6999999999999" y2="465.1" stroke="#8a8a8a" stroke-width="0.7"/>
<rect x="553.65" y="437.2" width="9.5" height="11.90" fill="#d5d5d5" fill-opacity="0.92" stroke="#8a8a8a" stroke-width="0.7"/>
<line x1="553.65" y1="442.2" x2="563.15" y2="442.2" stroke="#8a8a8a" stroke-width="0.7"/>
<circle cx="558.4" cy="452.1" r=".6" fill="#555555" fill-opacity=".75"/>
<circle cx="558.7" cy="449.6" r=".6" fill="#555555" fill-opacity=".75"/>
<circle cx="558.5" cy="453.7" r=".6" fill="#555555" fill-opacity=".75"/>
<circle cx="558.3" cy="451.2" r=".6" fill="#555555" fill-opacity=".75"/>
<circle cx="558.6" cy="450.6" r=".6" fill="#555555" fill-opacity=".75"/>
<circle cx="558.4" cy="451.0" r=".6" fill="#555555" fill-opacity=".75"/>
<circle cx="558.5" cy="429.0" r=".6" fill="#555555" fill-opacity=".75"/>
<circle cx="558.4" cy="444.5" r=".6" fill="#555555" fill-opacity=".75"/>
<circle cx="558.4" cy="446.0" r=".6" fill="#555555" fill-opacity=".75"/>
<circle cx="558.6" cy="451.3" r=".6" fill="#555555" fill-opacity=".75"/>
<circle cx="558.3" cy="453.4" r=".6" fill="#555555" fill-opacity=".75"/>
<circle cx="558.2" cy="441.8" r=".6" fill="#555555" fill-opacity=".75"/>
<circle cx="558.2" cy="432.3" r=".6" fill="#555555" fill-opacity=".75"/>
<circle cx="558.5" cy="431.6" r=".6" fill="#555555" fill-opacity=".75"/>
<circle cx="558.7" cy="451.0" r=".6" fill="#555555" fill-opacity=".75"/>
<circle cx="558.4" cy="442.2" r=".6" fill="#555555" fill-opacity=".75"/>
<circle cx="558.2" cy="432.0" r=".6" fill="#555555" fill-opacity=".75"/>
<circle cx="558.3" cy="427.7" r=".6" fill="#555555" fill-opacity=".75"/>
<circle cx="558.3" cy="445.4" r=".6" fill="#555555" fill-opacity=".75"/>
<circle cx="558.4" cy="441.9" r=".6" fill="#555555" fill-opacity=".75"/>
<circle cx="558.7" cy="441.8" r=".6" fill="#555555" fill-opacity=".75"/>
<circle cx="558.5" cy="429.8" r=".6" fill="#555555" fill-opacity=".75"/>
<circle cx="558.1" cy="445.6" r=".6" fill="#555555" fill-opacity=".75"/>
<circle cx="558.4" cy="442.2" r=".6" fill="#555555" fill-opacity=".75"/>
<circle cx="558.5" cy="452.8" r=".6" fill="#555555" fill-opacity=".75"/>
<circle cx="558.2" cy="444.0" r=".6" fill="#555555" fill-opacity=".75"/>
<circle cx="558.7" cy="447.8" r=".6" fill="#555555" fill-opacity=".75"/>
<circle cx="558.3" cy="435.0" r=".6" fill="#555555" fill-opacity=".75"/>
<circle cx="558.3" cy="434.2" r=".6" fill="#555555" fill-opacity=".75"/>
<circle cx="558.6" cy="434.7" r=".6" fill="#555555" fill-opacity=".75"/>
<circle cx="558.3" cy="448.9" r=".6" fill="#555555" fill-opacity=".75"/>
<circle cx="558.6" cy="442.4" r=".6" fill="#555555" fill-opacity=".75"/>
<circle cx="558.3" cy="439.8" r=".6" fill="#555555" fill-opacity=".75"/>
<circle cx="558.5" cy="442.2" r=".6" fill="#555555" fill-opacity=".75"/>
<circle cx="558.6" cy="443.7" r=".6" fill="#555555" fill-opacity=".75"/>
<circle cx="558.3" cy="438.2" r=".6" fill="#555555" fill-opacity=".75"/>
<circle cx="558.4" cy="433.1" r=".6" fill="#555555" fill-opacity=".75"/>
<circle cx="558.7" cy="440.8" r=".6" fill="#555555" fill-opacity=".75"/>
<circle cx="558.5" cy="459.4" r=".6" fill="#555555" fill-opacity=".75"/>
<circle cx="558.5" cy="432.6" r=".6" fill="#555555" fill-opacity=".75"/>
<circle cx="558.6" cy="443.7" r=".6" fill="#555555" fill-opacity=".75"/>
<circle cx="558.5" cy="444.0" r=".6" fill="#555555" fill-opacity=".75"/>
<circle cx="558.3" cy="437.0" r=".6" fill="#555555" fill-opacity=".75"/>
<circle cx="558.7" cy="436.6" r=".6" fill="#555555" fill-opacity=".75"/>
<circle cx="558.3" cy="440.5" r=".6" fill="#555555" fill-opacity=".75"/>
<circle cx="558.3" cy="441.8" r=".6" fill="#555555" fill-opacity=".75"/>
<circle cx="558.6" cy="464.4" r=".6" fill="#555555" fill-opacity=".75"/>
<circle cx="558.6" cy="452.2" r=".6" fill="#555555" fill-opacity=".75"/>
<circle cx="558.2" cy="451.4" r=".6" fill="#555555" fill-opacity=".75"/>
<circle cx="558.40" cy="421.40" r="0.6" fill="#555555"/>
<circle cx="558.40" cy="464.80" r="0.6" fill="#555555"/>
<line x1="601" y1="456.5" x2="601" y2="499.2" stroke="#d85050" stroke-width="0.7" stroke-opacity="0.6"/>
<line x1="599.7" y1="456.5" x2="602.3" y2="456.5" stroke="#d85050" stroke-width="0.7"/>
<line x1="599.7" y1="499.2" x2="602.3" y2="499.2" stroke="#d85050" stroke-width="0.7"/>
<rect x="596.25" y="475.4" width="9.5" height="14.00" fill="#ff7b7b" fill-opacity="0.92" stroke="#d85050" stroke-width="0.7"/>
<line x1="596.25" y1="482.4" x2="605.75" y2="482.4" stroke="#d85050" stroke-width="0.7"/>
<circle cx="601.1" cy="482.7" r=".6" fill="#c83030" fill-opacity=".75"/>
<circle cx="601.2" cy="489.1" r=".6" fill="#c83030" fill-opacity=".75"/>
<circle cx="600.8" cy="465.4" r=".6" fill="#c83030" fill-opacity=".75"/>
<circle cx="601.2" cy="487.0" r=".6" fill="#c83030" fill-opacity=".75"/>
<circle cx="601.2" cy="482.8" r=".6" fill="#c83030" fill-opacity=".75"/>
<circle cx="601.2" cy="474.9" r=".6" fill="#c83030" fill-opacity=".75"/>
<circle cx="600.8" cy="481.6" r=".6" fill="#c83030" fill-opacity=".75"/>
<circle cx="601.3" cy="482.1" r=".6" fill="#c83030" fill-opacity=".75"/>
<circle cx="600.9" cy="483.0" r=".6" fill="#c83030" fill-opacity=".75"/>
<circle cx="601.0" cy="484.9" r=".6" fill="#c83030" fill-opacity=".75"/>
<circle cx="601.3" cy="463.9" r=".6" fill="#c83030" fill-opacity=".75"/>
<circle cx="601.3" cy="486.0" r=".6" fill="#c83030" fill-opacity=".75"/>
<circle cx="600.7" cy="458.9" r=".6" fill="#c83030" fill-opacity=".75"/>
<circle cx="600.9" cy="482.4" r=".6" fill="#c83030" fill-opacity=".75"/>
<circle cx="600.9" cy="475.0" r=".6" fill="#c83030" fill-opacity=".75"/>
<circle cx="601.0" cy="486.0" r=".6" fill="#c83030" fill-opacity=".75"/>
<circle cx="600.8" cy="482.1" r=".6" fill="#c83030" fill-opacity=".75"/>
<circle cx="601.1" cy="494.5" r=".6" fill="#c83030" fill-opacity=".75"/>
<circle cx="601.0" cy="482.2" r=".6" fill="#c83030" fill-opacity=".75"/>
<circle cx="600.9" cy="483.4" r=".6" fill="#c83030" fill-opacity=".75"/>
<circle cx="601.1" cy="473.1" r=".6" fill="#c83030" fill-opacity=".75"/>
<circle cx="600.9" cy="476.0" r=".6" fill="#c83030" fill-opacity=".75"/>
<circle cx="601.2" cy="461.7" r=".6" fill="#c83030" fill-opacity=".75"/>
<circle cx="600.9" cy="481.3" r=".6" fill="#c83030" fill-opacity=".75"/>
<circle cx="601.0" cy="468.9" r=".6" fill="#c83030" fill-opacity=".75"/>
<circle cx="600.9" cy="486.6" r=".6" fill="#c83030" fill-opacity=".75"/>
<circle cx="600.8" cy="484.6" r=".6" fill="#c83030" fill-opacity=".75"/>
<circle cx="601.1" cy="498.1" r=".6" fill="#c83030" fill-opacity=".75"/>
<circle cx="601.1" cy="487.4" r=".6" fill="#c83030" fill-opacity=".75"/>
<circle cx="601.2" cy="486.9" r=".6" fill="#c83030" fill-opacity=".75"/>
<circle cx="601.1" cy="498.4" r=".6" fill="#c83030" fill-opacity=".75"/>
<circle cx="600.9" cy="484.3" r=".6" fill="#c83030" fill-opacity=".75"/>
<circle cx="600.9" cy="495.6" r=".6" fill="#c83030" fill-opacity=".75"/>
<circle cx="601.1" cy="494.7" r=".6" fill="#c83030" fill-opacity=".75"/>
<circle cx="601.3" cy="499.1" r=".6" fill="#c83030" fill-opacity=".75"/>
<circle cx="601.0" cy="486.2" r=".6" fill="#c83030" fill-opacity=".75"/>
<circle cx="600.7" cy="489.6" r=".6" fill="#c83030" fill-opacity=".75"/>
<circle cx="601.0" cy="478.2" r=".6" fill="#c83030" fill-opacity=".75"/>
<circle cx="601.2" cy="494.6" r=".6" fill="#c83030" fill-opacity=".75"/>
<circle cx="601.1" cy="469.3" r=".6" fill="#c83030" fill-opacity=".75"/>
<circle cx="601.2" cy="475.5" r=".6" fill="#c83030" fill-opacity=".75"/>
<circle cx="601.3" cy="482.2" r=".6" fill="#c83030" fill-opacity=".75"/>
<circle cx="601.2" cy="482.7" r=".6" fill="#c83030" fill-opacity=".75"/>
<circle cx="600.8" cy="485.9" r=".6" fill="#c83030" fill-opacity=".75"/>
<circle cx="601.1" cy="486.0" r=".6" fill="#c83030" fill-opacity=".75"/>
<circle cx="601.0" cy="483.8" r=".6" fill="#c83030" fill-opacity=".75"/>
<circle cx="600.7" cy="483.9" r=".6" fill="#c83030" fill-opacity=".75"/>
<circle cx="600.8" cy="481.8" r=".6" fill="#c83030" fill-opacity=".75"/>
<circle cx="600.7" cy="492.6" r=".6" fill="#c83030" fill-opacity=".75"/>
<circle cx="600.9" cy="481.9" r=".6" fill="#c83030" fill-opacity=".75"/>
<circle cx="600.9" cy="490.1" r=".6" fill="#c83030" fill-opacity=".75"/>
<circle cx="600.7" cy="476.6" r=".6" fill="#c83030" fill-opacity=".75"/>
<circle cx="601.2" cy="489.5" r=".6" fill="#c83030" fill-opacity=".75"/>
<circle cx="601.00" cy="456.80" r="0.6" fill="#c83030"/>
<circle cx="601.00" cy="498.90" r="0.6" fill="#c83030"/>
<circle cx="601" cy="452" r="0.8" fill="#c83030"/>
<line x1="579.6" y1="501.6" x2="579.6" y2="535.7" stroke="#b8843f" stroke-width="0.7" stroke-opacity="0.6"/>
<line x1="578.3000000000001" y1="501.6" x2="580.9" y2="501.6" stroke="#b8843f" stroke-width="0.7"/>
<line x1="578.3000000000001" y1="535.7" x2="580.9" y2="535.7" stroke="#b8843f" stroke-width="0.7"/>
<rect x="574.85" y="515.9" width="9.5" height="8.50" fill="#cba67c" fill-opacity="0.92" stroke="#b8843f" stroke-width="0.7"/>
<line x1="574.85" y1="519.9" x2="584.35" y2="519.9" stroke="#b8843f" stroke-width="0.7"/>
<circle cx="579.3" cy="519.4" r=".6" fill="#a86a20" fill-opacity=".75"/>
<circle cx="579.4" cy="512.6" r=".6" fill="#a86a20" fill-opacity=".75"/>
<circle cx="579.4" cy="525.5" r=".6" fill="#a86a20" fill-opacity=".75"/>
<circle cx="579.8" cy="515.8" r=".6" fill="#a86a20" fill-opacity=".75"/>
<circle cx="579.6" cy="522.4" r=".6" fill="#a86a20" fill-opacity=".75"/>
<circle cx="579.6" cy="517.9" r=".6" fill="#a86a20" fill-opacity=".75"/>
<circle cx="579.7" cy="524.0" r=".6" fill="#a86a20" fill-opacity=".75"/>
<circle cx="579.7" cy="523.6" r=".6" fill="#a86a20" fill-opacity=".75"/>
<circle cx="579.5" cy="513.8" r=".6" fill="#a86a20" fill-opacity=".75"/>
<circle cx="579.3" cy="513.6" r=".6" fill="#a86a20" fill-opacity=".75"/>
<circle cx="579.8" cy="531.8" r=".6" fill="#a86a20" fill-opacity=".75"/>
<circle cx="579.8" cy="521.1" r=".6" fill="#a86a20" fill-opacity=".75"/>
<circle cx="579.4" cy="529.5" r=".6" fill="#a86a20" fill-opacity=".75"/>
<circle cx="579.5" cy="524.9" r=".6" fill="#a86a20" fill-opacity=".75"/>
<circle cx="579.8" cy="523.7" r=".6" fill="#a86a20" fill-opacity=".75"/>
<circle cx="579.8" cy="531.8" r=".6" fill="#a86a20" fill-opacity=".75"/>
<circle cx="579.5" cy="509.0" r=".6" fill="#a86a20" fill-opacity=".75"/>
<circle cx="579.6" cy="529.9" r=".6" fill="#a86a20" fill-opacity=".75"/>
<circle cx="579.5" cy="517.8" r=".6" fill="#a86a20" fill-opacity=".75"/>
<circle cx="579.4" cy="515.8" r=".6" fill="#a86a20" fill-opacity=".75"/>
<circle cx="579.4" cy="521.1" r=".6" fill="#a86a20" fill-opacity=".75"/>
<circle cx="579.5" cy="516.1" r=".6" fill="#a86a20" fill-opacity=".75"/>
<circle cx="579.6" cy="514.2" r=".6" fill="#a86a20" fill-opacity=".75"/>
<circle cx="579.8" cy="513.0" r=".6" fill="#a86a20" fill-opacity=".75"/>
<circle cx="579.6" cy="520.0" r=".6" fill="#a86a20" fill-opacity=".75"/>
<circle cx="579.4" cy="515.6" r=".6" fill="#a86a20" fill-opacity=".75"/>
<circle cx="579.3" cy="520.1" r=".6" fill="#a86a20" fill-opacity=".75"/>
<circle cx="579.5" cy="523.4" r=".6" fill="#a86a20" fill-opacity=".75"/>
<circle cx="579.4" cy="526.9" r=".6" fill="#a86a20" fill-opacity=".75"/>
<circle cx="579.4" cy="513.9" r=".6" fill="#a86a20" fill-opacity=".75"/>
<circle cx="579.3" cy="513.4" r=".6" fill="#a86a20" fill-opacity=".75"/>
<circle cx="579.4" cy="515.7" r=".6" fill="#a86a20" fill-opacity=".75"/>
<circle cx="579.3" cy="512.1" r=".6" fill="#a86a20" fill-opacity=".75"/>
<circle cx="579.8" cy="516.5" r=".6" fill="#a86a20" fill-opacity=".75"/>
<circle cx="579.6" cy="520.4" r=".6" fill="#a86a20" fill-opacity=".75"/>
<circle cx="579.5" cy="528.3" r=".6" fill="#a86a20" fill-opacity=".75"/>
<circle cx="579.6" cy="525.9" r=".6" fill="#a86a20" fill-opacity=".75"/>
<circle cx="579.6" cy="517.8" r=".6" fill="#a86a20" fill-opacity=".75"/>
<circle cx="579.60" cy="501.90" r="0.6" fill="#a86a20"/>
<circle cx="579.60" cy="535.40" r="0.6" fill="#a86a20"/>
<text x="555.3" y="513.70" font-size="8.25" fill="#1a1a1a">0.002</text>
<line x1="590.3" y1="546.4" x2="590.3" y2="570.7" stroke="#b8843f" stroke-width="0.7" stroke-opacity="0.6"/>
<line x1="589.0" y1="546.4" x2="591.5999999999999" y2="546.4" stroke="#b8843f" stroke-width="0.7"/>
<line x1="589.0" y1="570.7" x2="591.5999999999999" y2="570.7" stroke="#b8843f" stroke-width="0.7"/>
<rect x="585.55" y="556.1" width="9.5" height="5.50" fill="#cba67c" fill-opacity="0.92" stroke="#b8843f" stroke-width="0.7"/>
<line x1="585.55" y1="558.5" x2="595.05" y2="558.5" stroke="#b8843f" stroke-width="0.7"/>
<circle cx="590.5" cy="564.9" r=".6" fill="#a86a20" fill-opacity=".75"/>
<circle cx="590.3" cy="548.3" r=".6" fill="#a86a20" fill-opacity=".75"/>
<circle cx="590.6" cy="557.3" r=".6" fill="#a86a20" fill-opacity=".75"/>
<circle cx="590.6" cy="552.8" r=".6" fill="#a86a20" fill-opacity=".75"/>
<circle cx="590.3" cy="558.7" r=".6" fill="#a86a20" fill-opacity=".75"/>
<circle cx="590.3" cy="555.7" r=".6" fill="#a86a20" fill-opacity=".75"/>
<circle cx="590.1" cy="559.3" r=".6" fill="#a86a20" fill-opacity=".75"/>
<circle cx="590.4" cy="565.6" r=".6" fill="#a86a20" fill-opacity=".75"/>
<circle cx="590.4" cy="554.2" r=".6" fill="#a86a20" fill-opacity=".75"/>
<circle cx="590.4" cy="558.8" r=".6" fill="#a86a20" fill-opacity=".75"/>
<circle cx="590.5" cy="557.5" r=".6" fill="#a86a20" fill-opacity=".75"/>
<circle cx="590.3" cy="558.0" r=".6" fill="#a86a20" fill-opacity=".75"/>
<circle cx="590.6" cy="564.5" r=".6" fill="#a86a20" fill-opacity=".75"/>
<circle cx="590.0" cy="554.9" r=".6" fill="#a86a20" fill-opacity=".75"/>
<circle cx="590.3" cy="559.8" r=".6" fill="#a86a20" fill-opacity=".75"/>
<circle cx="590.1" cy="555.1" r=".6" fill="#a86a20" fill-opacity=".75"/>
<circle cx="590.3" cy="557.8" r=".6" fill="#a86a20" fill-opacity=".75"/>
<circle cx="590.3" cy="560.8" r=".6" fill="#a86a20" fill-opacity=".75"/>
<circle cx="590.2" cy="559.6" r=".6" fill="#a86a20" fill-opacity=".75"/>
<circle cx="590.2" cy="553.5" r=".6" fill="#a86a20" fill-opacity=".75"/>
<circle cx="590.1" cy="558.5" r=".6" fill="#a86a20" fill-opacity=".75"/>
<circle cx="590.6" cy="563.7" r=".6" fill="#a86a20" fill-opacity=".75"/>
<circle cx="590.2" cy="559.1" r=".6" fill="#a86a20" fill-opacity=".75"/>
<circle cx="590.4" cy="556.4" r=".6" fill="#a86a20" fill-opacity=".75"/>
<circle cx="590.3" cy="561.4" r=".6" fill="#a86a20" fill-opacity=".75"/>
<circle cx="590.1" cy="558.6" r=".6" fill="#a86a20" fill-opacity=".75"/>
<circle cx="590.1" cy="558.1" r=".6" fill="#a86a20" fill-opacity=".75"/>
<circle cx="590.2" cy="555.7" r=".6" fill="#a86a20" fill-opacity=".75"/>
<circle cx="590.30" cy="546.70" r="0.6" fill="#a86a20"/>
<circle cx="590.30" cy="570.40" r="0.6" fill="#a86a20"/>
<text x="594" y="554.50" font-size="8.25" fill="#1a1a1a">0.003</text>
<line x1="22.4" y1="0" x2="22.4" y2="578.2" stroke="#1a1a1a" stroke-width="1.3"/>
<line x1="21.8" y1="577.9" x2="685" y2="577.9" stroke="#4a4a4a" stroke-width="1.4"/>
<rect x="14" y="518.47" width="16" height="16.8" fill="#fff"/>
<text x="22" y="530.97" text-anchor="middle" font-size="11.8" fill="#111">10</text>
<rect x="14" y="451.94" width="16" height="16.8" fill="#fff"/>
<text x="22" y="464.44" text-anchor="middle" font-size="11.8" fill="#111">20</text>
<rect x="14" y="385.41" width="16" height="16.8" fill="#fff"/>
<text x="22" y="397.91" text-anchor="middle" font-size="11.8" fill="#111">30</text>
<rect x="14" y="318.88" width="16" height="16.8" fill="#fff"/>
<text x="22" y="331.38" text-anchor="middle" font-size="11.8" fill="#111">40</text>
<rect x="14" y="252.35" width="16" height="16.8" fill="#fff"/>
<text x="22" y="264.85" text-anchor="middle" font-size="11.8" fill="#111">50</text>
<rect x="14" y="185.82" width="16" height="16.8" fill="#fff"/>
<text x="22" y="198.32" text-anchor="middle" font-size="11.8" fill="#111">60</text>
<rect x="14" y="119.29" width="16" height="16.8" fill="#fff"/>
<text x="22" y="131.79" text-anchor="middle" font-size="11.8" fill="#111">70</text>
<rect x="14" y="52.76" width="16" height="16.8" fill="#fff"/>
<text x="22" y="65.26" text-anchor="middle" font-size="11.8" fill="#111">80</text>
<text transform="translate(10.3,264.4) rotate(-90)" text-anchor="middle" font-size="12.9" font-weight="bold" fill="#111">Accuracy (%)</text>
<path d="M29.6,578.3 Q29.6,580.7 31.6,580.7 L158.2,580.7 Q160.2,580.7 160.2,578.3" fill="none" stroke="#8a8a8a" stroke-width="1.3"/>
<path d="M164.5,578.3 Q164.5,580.7 166.5,580.7 L288.7,580.7 Q290.7,580.7 290.7,578.3" fill="none" stroke="#8a8a8a" stroke-width="1.3"/>
<path d="M295.2,578.3 Q295.2,580.7 297.2,580.7 L424,580.7 Q426,580.7 426,578.3" fill="none" stroke="#8a8a8a" stroke-width="1.3"/>
<path d="M433.6,578.3 Q433.6,580.7 435.6,580.7 L542.3,580.7 Q544.3,580.7 544.3,578.3" fill="none" stroke="#8a8a8a" stroke-width="1.3"/>
<path d="M549.2,578.3 Q549.2,580.7 551.2,580.7 L679.6,580.7 Q681.6,580.7 681.6,578.3" fill="none" stroke="#8a8a8a" stroke-width="1.3"/>
<text x="90.2" y="592" text-anchor="middle" font-size="11.2" font-weight="bold" fill="#111">MLP on CIFAR-10</text>
<text x="223.4" y="592" text-anchor="middle" font-size="11.2" font-weight="bold" fill="#111">CNN on CIFAR-10</text>
<text x="359.4" y="592" text-anchor="middle" font-size="11.2" font-weight="bold" fill="#111">CNN on CIFAR-100</text>
<text x="615.5" y="592" text-anchor="middle" font-size="11.2" font-weight="bold" fill="#111">ResNet18 on ImageNet</text>
<text x="487.8" y="592" text-anchor="middle" font-size="11.2" font-weight="bold" fill="#111">ResNet18 on</text>
<text x="487.8" y="601.5" text-anchor="middle" font-size="11.2" font-weight="bold" fill="#111">Tiny ImageNet</text>
<line x1="430" y1="18.2" x2="430" y2="33.9" stroke="#333" stroke-width="0.9"/>
<line x1="430" y1="75.2" x2="430" y2="90.7" stroke="#333" stroke-width="0.9"/>
<line x1="429.5" y1="18.2" x2="432" y2="18.2" stroke="#333" stroke-width="0.9"/>
<line x1="429.5" y1="90.7" x2="432" y2="90.7" stroke="#333" stroke-width="0.9"/>
<rect x="422.7" y="33.9" width="15.9" height="41.3" fill="#fff" stroke="#333" stroke-width="0.9"/>
<line x1="422.7" y1="59.6" x2="438.6" y2="59.6" stroke="#333" stroke-width="0.9"/>
<text x="431" y="52.6" text-anchor="middle" font-size="7" fill="#111">x</text>
<text x="433.9" y="22.50" font-size="8.5" fill="#111">Highest value in distribution</text>
<text x="442" y="38.10" font-size="8.5" fill="#111">Q3</text>
<text x="441.4" y="52.10" font-size="8.5" fill="#111">Mean value</text>
<text x="441.4" y="63.80" font-size="8.5" fill="#111">Median</text>
<text x="441.6" y="78.30" font-size="8.5" fill="#111">Q1</text>
<text x="433.9" y="93.10" font-size="8.5" fill="#111">Lowest value in distribution</text>
<rect x="577" y="4.80" width="12.4" height="12.6" rx="2.2" fill="#c3e5a6" stroke="#6aa84f" stroke-width="1.3"/>
<text x="591.3" y="13.80" font-size="9.8" fill="#111">Accuracy</text>
<rect x="577" y="20.80" width="12.4" height="12.6" rx="2.2" fill="#d6d6d6" stroke="#6a6a6a" stroke-width="1.3"/>
<text x="591.3" y="29.92" font-size="9.8" fill="#111">PGD Attack</text>
<rect x="577" y="36.80" width="12.4" height="12.6" rx="2.2" fill="#c9a47a" stroke="#b07830" stroke-width="1.3"/>
<text x="591.3" y="46.04" font-size="9.8" fill="#111">FGSM Attack</text>
<rect x="577" y="52.80" width="12.4" height="12.6" rx="2.2" fill="#ff7b7b" stroke="#c83030" stroke-width="1.3"/>
<text x="591.3" y="62.16" font-size="9.8" fill="#111">CW Attack</text>
<rect x="577" y="68.80" width="12.4" height="12.6" rx="2.2" fill="#fdf877" stroke="#c0b830" stroke-width="1.3"/>
<text x="591.3" y="78.28" font-size="9.8" fill="#111">Gaussian Noise</text>
<rect x="577" y="84.80" width="12.4" height="12.6" rx="2.2" fill="#80d4f4" stroke="#2a8ad0" stroke-width="1.3"/>
<text x="591.3" y="94.40" font-size="9.8" fill="#111">Speckle Noise</text>
<rect x="577" y="100.80" width="12.4" height="12.6" rx="2.2" fill="#b293d0" stroke="#8a50c0" stroke-width="1.3"/>
<text x="591.3" y="110.52" font-size="9.8" fill="#111">Salt &amp; Pepper Noise</text></svg>
</body></html>
